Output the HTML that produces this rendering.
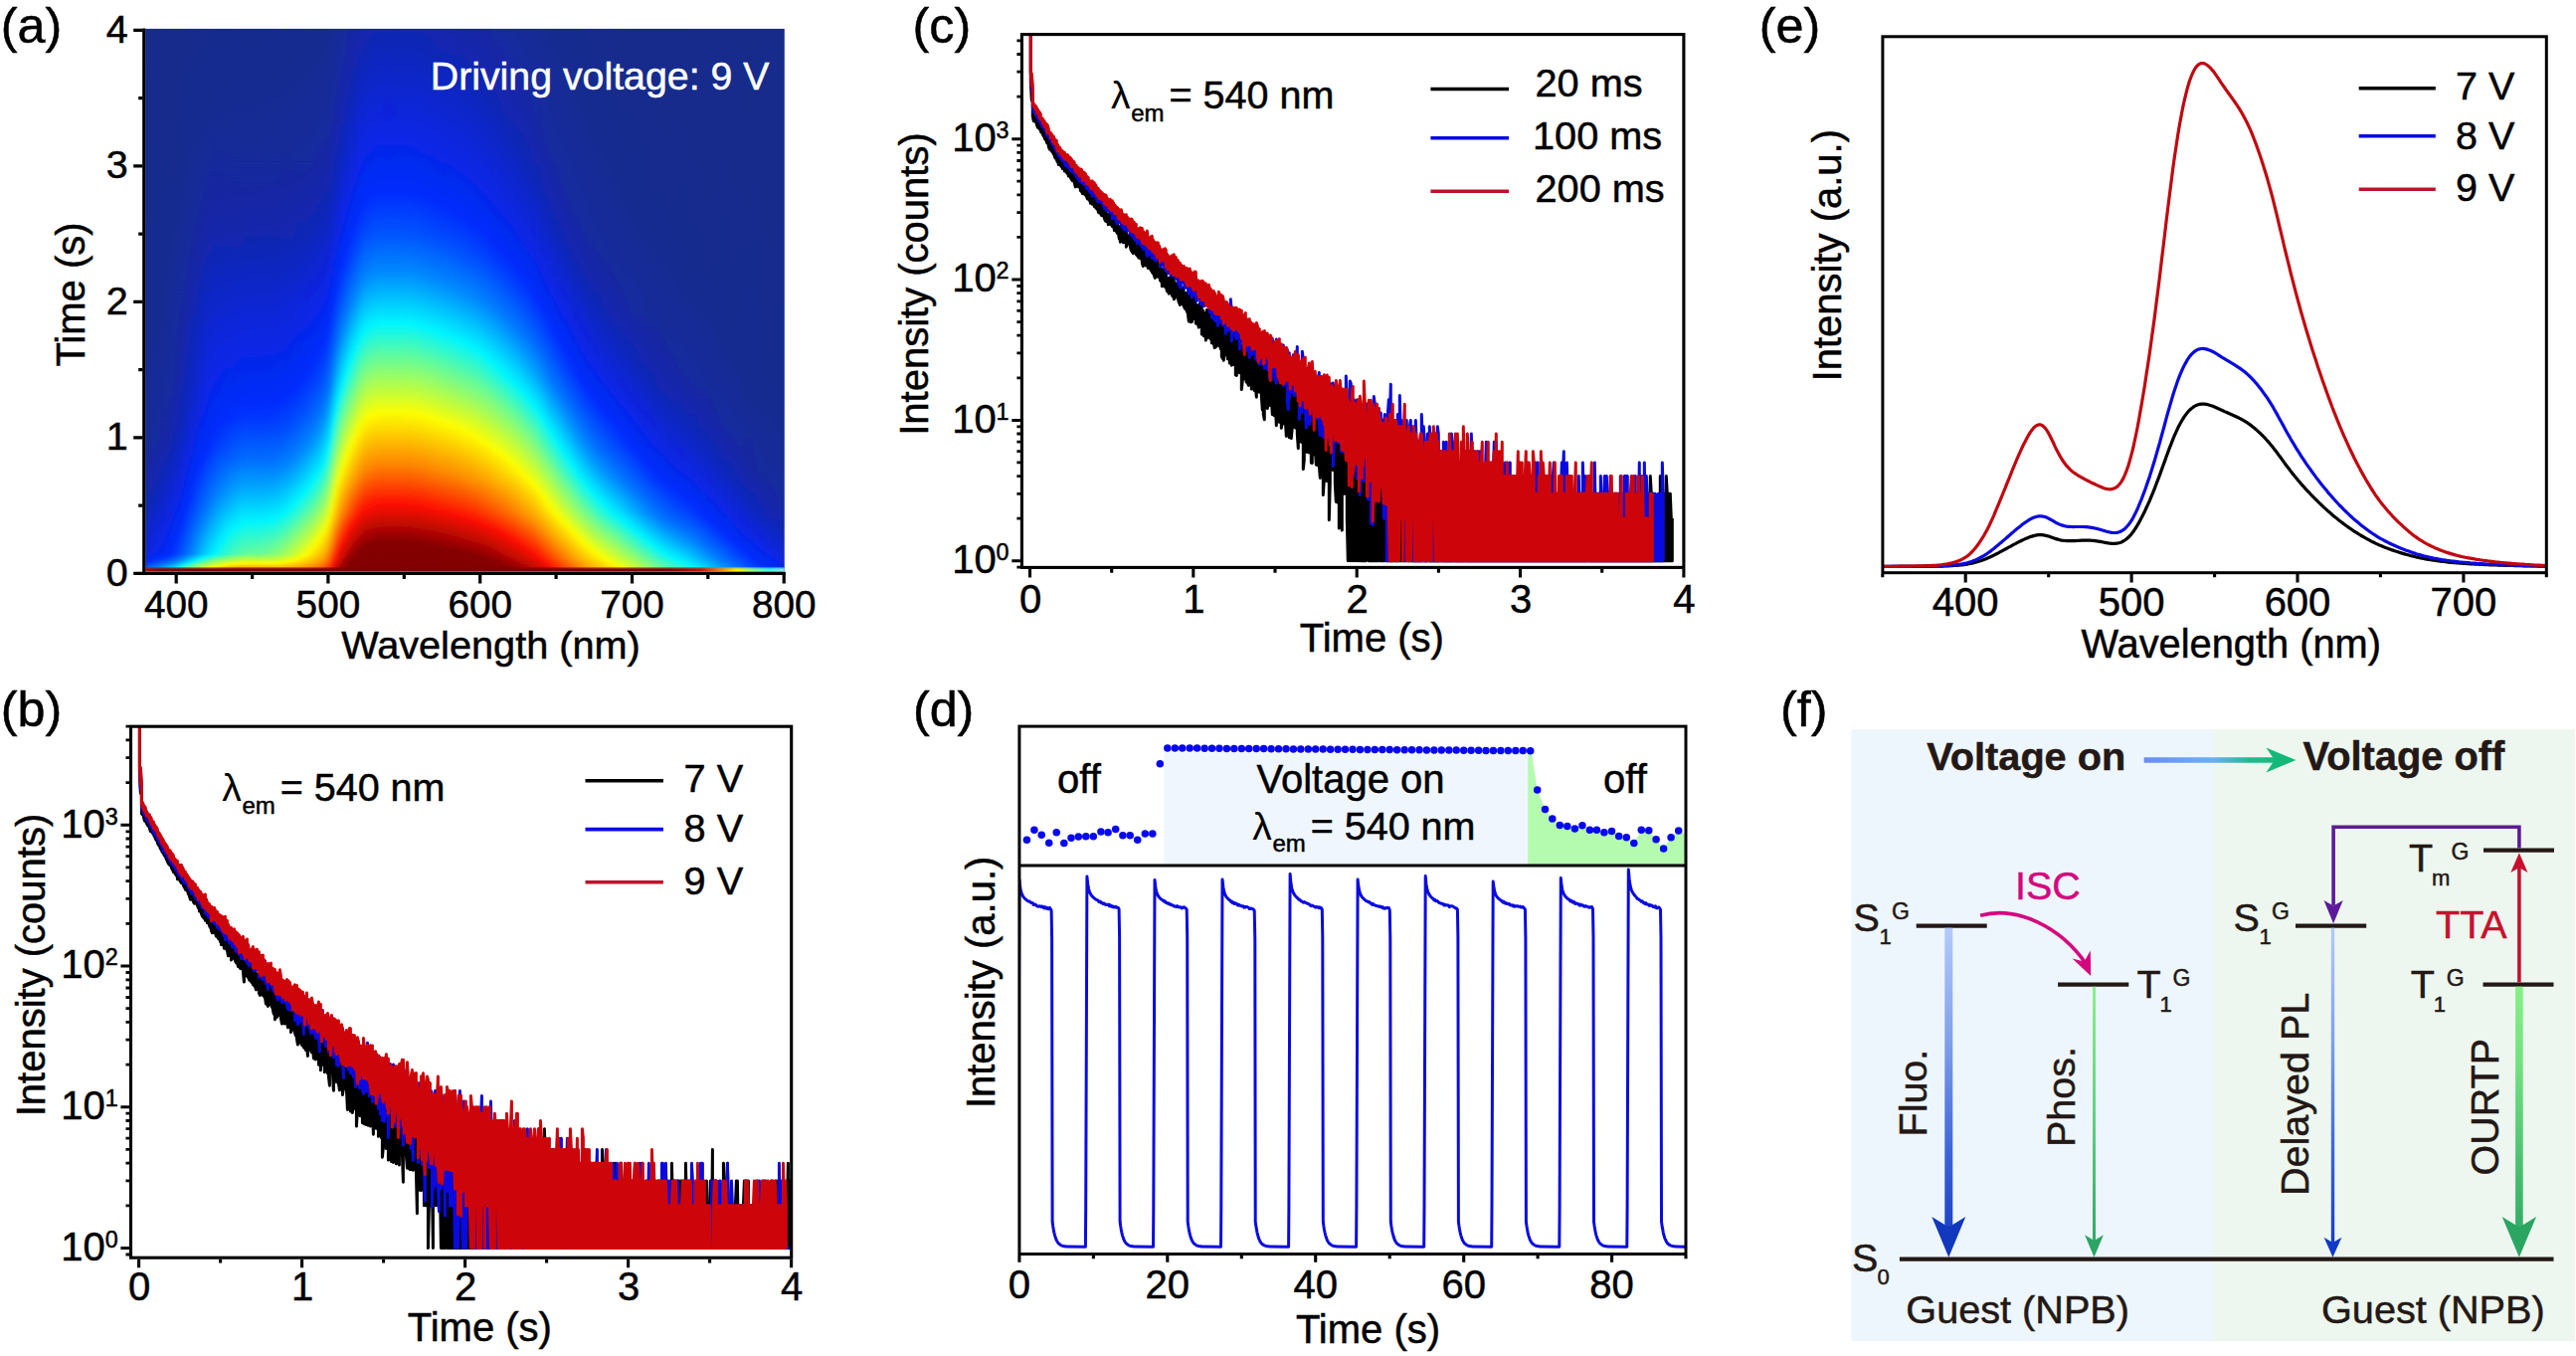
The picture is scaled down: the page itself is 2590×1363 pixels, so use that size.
<!DOCTYPE html>
<html lang="en"><head><meta charset="utf-8"><title>Figure</title>
<style>html,body{margin:0;padding:0;background:#fff}svg{display:block}text{font-family:"Liberation Sans",sans-serif}path{fill:none}</style></head>
<body>
<svg width="2590" height="1363" viewBox="0 0 2590 1363">
<defs>
<linearGradient id="h0" x1="0" y1="1" x2="0" y2="0"><stop offset=".000" stop-color="#840000"/><stop offset=".000" stop-color="#ff5500"/><stop offset=".000" stop-color="#d9ff26"/><stop offset=".000" stop-color="#48fcb8"/><stop offset=".001" stop-color="#00f0ff"/><stop offset=".002" stop-color="#00b1ff"/><stop offset=".004" stop-color="#0079ff"/><stop offset=".015" stop-color="#0034ff"/><stop offset=".019" stop-color="#022afa"/><stop offset=".035" stop-color="#0b24df"/><stop offset=".116" stop-color="#1127b5"/><stop offset=".236" stop-color="#16299a"/><stop offset=".469" stop-color="#172a8e"/><stop offset="1.000" stop-color="#182a8a"/></linearGradient>
<linearGradient id="h1" x1="0" y1="1" x2="0" y2="0"><stop offset=".000" stop-color="#840000"/><stop offset=".000" stop-color="#ff4400"/><stop offset=".000" stop-color="#ecff14"/><stop offset=".000" stop-color="#5efda1"/><stop offset=".001" stop-color="#0bf9f4"/><stop offset=".002" stop-color="#00c1ff"/><stop offset=".004" stop-color="#0086ff"/><stop offset=".014" stop-color="#0044ff"/><stop offset=".019" stop-color="#002cfe"/><stop offset=".034" stop-color="#0924e6"/><stop offset=".124" stop-color="#1127b7"/><stop offset=".241" stop-color="#15299b"/><stop offset=".467" stop-color="#172a8f"/><stop offset="1.000" stop-color="#182a8a"/></linearGradient>
<linearGradient id="h2" x1="0" y1="1" x2="0" y2="0"><stop offset=".000" stop-color="#840000"/><stop offset=".000" stop-color="#ff3400"/><stop offset=".000" stop-color="#fdff02"/><stop offset=".000" stop-color="#74fe8c"/><stop offset=".001" stop-color="#1ffae0"/><stop offset=".002" stop-color="#00d0ff"/><stop offset=".004" stop-color="#0094ff"/><stop offset=".009" stop-color="#006cff"/><stop offset=".019" stop-color="#0033ff"/><stop offset=".024" stop-color="#032af8"/><stop offset=".034" stop-color="#0825e9"/><stop offset=".074" stop-color="#0c25d5"/><stop offset=".141" stop-color="#1127b5"/><stop offset=".254" stop-color="#15299b"/><stop offset=".494" stop-color="#172a8f"/><stop offset="1.000" stop-color="#182a8a"/></linearGradient>
<linearGradient id="h3" x1="0" y1="1" x2="0" y2="0"><stop offset=".000" stop-color="#840000"/><stop offset=".000" stop-color="#ff2400"/><stop offset=".000" stop-color="#fff300"/><stop offset=".000" stop-color="#86ff7a"/><stop offset=".001" stop-color="#33fbcd"/><stop offset=".002" stop-color="#00dfff"/><stop offset=".004" stop-color="#00a2ff"/><stop offset=".009" stop-color="#0076ff"/><stop offset=".019" stop-color="#003aff"/><stop offset=".023" stop-color="#002cff"/><stop offset=".034" stop-color="#0726ec"/><stop offset=".074" stop-color="#0b25db"/><stop offset=".139" stop-color="#1127ba"/><stop offset=".249" stop-color="#15299e"/><stop offset=".457" stop-color="#172a90"/><stop offset="1.000" stop-color="#182a8a"/></linearGradient>
<linearGradient id="h4" x1="0" y1="1" x2="0" y2="0"><stop offset=".000" stop-color="#840000"/><stop offset=".000" stop-color="#ff1500"/><stop offset=".000" stop-color="#ffe600"/><stop offset=".000" stop-color="#96ff6a"/><stop offset=".001" stop-color="#46fcb9"/><stop offset=".002" stop-color="#00eeff"/><stop offset=".004" stop-color="#00b0ff"/><stop offset=".010" stop-color="#0078ff"/><stop offset=".019" stop-color="#0042ff"/><stop offset=".025" stop-color="#012bfd"/><stop offset=".034" stop-color="#0627ef"/><stop offset=".079" stop-color="#0b24de"/><stop offset=".144" stop-color="#1027bc"/><stop offset=".249" stop-color="#1529a0"/><stop offset=".442" stop-color="#172992"/><stop offset="1.000" stop-color="#182a8a"/></linearGradient>
<linearGradient id="h5" x1="0" y1="1" x2="0" y2="0"><stop offset=".000" stop-color="#840000"/><stop offset=".000" stop-color="#f60f00"/><stop offset=".000" stop-color="#ffd900"/><stop offset=".000" stop-color="#a6ff5a"/><stop offset=".001" stop-color="#5afda6"/><stop offset=".002" stop-color="#07f8f8"/><stop offset=".004" stop-color="#00beff"/><stop offset=".011" stop-color="#0079ff"/><stop offset=".020" stop-color="#0045ff"/><stop offset=".026" stop-color="#002cff"/><stop offset=".035" stop-color="#0528f2"/><stop offset=".089" stop-color="#0b24de"/><stop offset=".159" stop-color="#1027bc"/><stop offset=".259" stop-color="#1428a1"/><stop offset=".459" stop-color="#172992"/><stop offset="1.000" stop-color="#182a8a"/></linearGradient>
<linearGradient id="h6" x1="0" y1="1" x2="0" y2="0"><stop offset=".000" stop-color="#830000"/><stop offset=".000" stop-color="#ea0d00"/><stop offset=".000" stop-color="#ffcb00"/><stop offset=".000" stop-color="#b6ff49"/><stop offset=".001" stop-color="#6efe92"/><stop offset=".002" stop-color="#1af9e5"/><stop offset=".004" stop-color="#00cdff"/><stop offset=".013" stop-color="#007bff"/><stop offset=".020" stop-color="#004dff"/><stop offset=".029" stop-color="#012cfd"/><stop offset=".038" stop-color="#0429f5"/><stop offset=".099" stop-color="#0b24de"/><stop offset=".181" stop-color="#1127b8"/><stop offset=".282" stop-color="#1529a0"/><stop offset=".564" stop-color="#172a90"/><stop offset="1.000" stop-color="#182a8a"/></linearGradient>
<linearGradient id="h7" x1="0" y1="1" x2="0" y2="0"><stop offset=".000" stop-color="#830000"/><stop offset=".000" stop-color="#dd0c00"/><stop offset=".000" stop-color="#ffbd00"/><stop offset=".000" stop-color="#c7ff38"/><stop offset=".001" stop-color="#82ff7e"/><stop offset=".002" stop-color="#2efbd1"/><stop offset=".004" stop-color="#00dcff"/><stop offset=".014" stop-color="#007dff"/><stop offset=".021" stop-color="#0050ff"/><stop offset=".030" stop-color="#002cff"/><stop offset=".061" stop-color="#0528f0"/><stop offset=".114" stop-color="#0b25dc"/><stop offset=".214" stop-color="#1227b1"/><stop offset=".332" stop-color="#15299d"/><stop offset=".742" stop-color="#182a8c"/><stop offset="1.000" stop-color="#182a8b"/></linearGradient>
<linearGradient id="h8" x1="0" y1="1" x2="0" y2="0"><stop offset=".000" stop-color="#830000"/><stop offset=".000" stop-color="#cf0a00"/><stop offset=".000" stop-color="#ffaf00"/><stop offset=".000" stop-color="#d9ff26"/><stop offset=".001" stop-color="#94ff6c"/><stop offset=".002" stop-color="#44fcbc"/><stop offset=".004" stop-color="#00edff"/><stop offset=".014" stop-color="#008aff"/><stop offset=".020" stop-color="#0061ff"/><stop offset=".031" stop-color="#0030ff"/><stop offset=".049" stop-color="#022af9"/><stop offset=".126" stop-color="#0b25dc"/><stop offset=".226" stop-color="#1227b2"/><stop offset=".347" stop-color="#15299e"/><stop offset=".745" stop-color="#182a8d"/><stop offset="1.000" stop-color="#182a8b"/></linearGradient>
<linearGradient id="h9" x1="0" y1="1" x2="0" y2="0"><stop offset=".000" stop-color="#830000"/><stop offset=".000" stop-color="#c00800"/><stop offset=".000" stop-color="#ff9f00"/><stop offset=".000" stop-color="#ecff13"/><stop offset=".001" stop-color="#a7ff59"/><stop offset=".002" stop-color="#5bfda5"/><stop offset=".004" stop-color="#08f8f7"/><stop offset=".005" stop-color="#00f1ff"/><stop offset=".016" stop-color="#0083ff"/><stop offset=".025" stop-color="#0053ff"/><stop offset=".033" stop-color="#0035ff"/><stop offset=".054" stop-color="#012bfc"/><stop offset=".144" stop-color="#0b25db"/><stop offset=".236" stop-color="#1127b4"/><stop offset=".357" stop-color="#1529a0"/><stop offset=".734" stop-color="#182a8d"/><stop offset="1.000" stop-color="#182a8b"/></linearGradient>
<linearGradient id="h10" x1="0" y1="1" x2="0" y2="0"><stop offset=".000" stop-color="#830000"/><stop offset=".000" stop-color="#b00600"/><stop offset=".000" stop-color="#ff8e00"/><stop offset=".000" stop-color="#fffd00"/><stop offset=".002" stop-color="#75fe8b"/><stop offset=".004" stop-color="#21fadf"/><stop offset=".006" stop-color="#00f7ff"/><stop offset=".018" stop-color="#0089ff"/><stop offset=".026" stop-color="#0058ff"/><stop offset=".033" stop-color="#003fff"/><stop offset=".066" stop-color="#012bfd"/><stop offset=".161" stop-color="#0b25db"/><stop offset=".244" stop-color="#1127b8"/><stop offset=".362" stop-color="#1428a4"/><stop offset=".719" stop-color="#172a8e"/><stop offset="1.000" stop-color="#182a8b"/></linearGradient>
<linearGradient id="h11" x1="0" y1="1" x2="0" y2="0"><stop offset=".000" stop-color="#830000"/><stop offset=".000" stop-color="#9d0300"/><stop offset=".000" stop-color="#ff7800"/><stop offset=".000" stop-color="#ffe900"/><stop offset=".001" stop-color="#d4ff2c"/><stop offset=".002" stop-color="#8fff71"/><stop offset=".004" stop-color="#3dfbc2"/><stop offset=".008" stop-color="#0af9f5"/><stop offset=".009" stop-color="#00f3ff"/><stop offset=".019" stop-color="#0092ff"/><stop offset=".025" stop-color="#006cff"/><stop offset=".033" stop-color="#004bff"/><stop offset=".081" stop-color="#012bfd"/><stop offset=".176" stop-color="#0b24dd"/><stop offset=".254" stop-color="#1027bc"/><stop offset=".369" stop-color="#1328a8"/><stop offset=".707" stop-color="#172a8f"/><stop offset="1.000" stop-color="#182a8b"/></linearGradient>
<linearGradient id="h12" x1="0" y1="1" x2="0" y2="0"><stop offset=".000" stop-color="#830000"/><stop offset=".000" stop-color="#880100"/><stop offset=".000" stop-color="#ff5f00"/><stop offset=".000" stop-color="#ffd400"/><stop offset=".001" stop-color="#eeff11"/><stop offset=".004" stop-color="#5dfda2"/><stop offset=".010" stop-color="#07f8f8"/><stop offset=".011" stop-color="#00f1ff"/><stop offset=".019" stop-color="#00a8ff"/><stop offset=".026" stop-color="#0075ff"/><stop offset=".033" stop-color="#0059ff"/><stop offset=".099" stop-color="#012bfd"/><stop offset=".196" stop-color="#0b24dd"/><stop offset=".279" stop-color="#1027bd"/><stop offset=".432" stop-color="#1428a6"/><stop offset=".747" stop-color="#172a8f"/><stop offset="1.000" stop-color="#182a8b"/></linearGradient>
<linearGradient id="h13" x1="0" y1="1" x2="0" y2="0"><stop offset=".000" stop-color="#830000"/><stop offset=".000" stop-color="#840000"/><stop offset=".000" stop-color="#ff4600"/><stop offset=".000" stop-color="#ffbe00"/><stop offset=".001" stop-color="#fff700"/><stop offset=".002" stop-color="#c3ff3d"/><stop offset=".004" stop-color="#7eff82"/><stop offset=".013" stop-color="#05f8fa"/><stop offset=".015" stop-color="#00e2ff"/><stop offset=".021" stop-color="#00aaff"/><stop offset=".029" stop-color="#0078ff"/><stop offset=".033" stop-color="#0067ff"/><stop offset=".116" stop-color="#012cfe"/><stop offset=".219" stop-color="#0b24dd"/><stop offset=".304" stop-color="#1027be"/><stop offset=".554" stop-color="#15299d"/><stop offset=".837" stop-color="#172a8d"/><stop offset="1.000" stop-color="#182a8b"/></linearGradient>
<linearGradient id="h14" x1="0" y1="1" x2="0" y2="0"><stop offset=".000" stop-color="#830000"/><stop offset=".000" stop-color="#840000"/><stop offset=".000" stop-color="#ff3000"/><stop offset=".000" stop-color="#ffab00"/><stop offset=".001" stop-color="#ffe400"/><stop offset=".002" stop-color="#dbff25"/><stop offset=".004" stop-color="#96ff6a"/><stop offset=".010" stop-color="#43fcbd"/><stop offset=".015" stop-color="#00f8ff"/><stop offset=".021" stop-color="#00bfff"/><stop offset=".031" stop-color="#0079ff"/><stop offset=".049" stop-color="#0067ff"/><stop offset=".131" stop-color="#002cff"/><stop offset=".241" stop-color="#0b25dc"/><stop offset=".332" stop-color="#1026bf"/><stop offset=".639" stop-color="#162998"/><stop offset=".967" stop-color="#182a8c"/><stop offset="1.000" stop-color="#182a8b"/></linearGradient>
<linearGradient id="h15" x1="0" y1="1" x2="0" y2="0"><stop offset=".000" stop-color="#820000"/><stop offset=".000" stop-color="#840000"/><stop offset=".000" stop-color="#ff1a00"/><stop offset=".000" stop-color="#ff9800"/><stop offset=".001" stop-color="#ffd100"/><stop offset=".002" stop-color="#f2ff0d"/><stop offset=".004" stop-color="#adff53"/><stop offset=".009" stop-color="#70fe8f"/><stop offset=".016" stop-color="#0af9f5"/><stop offset=".018" stop-color="#00f3ff"/><stop offset=".029" stop-color="#009aff"/><stop offset=".033" stop-color="#0084ff"/><stop offset=".131" stop-color="#0037ff"/><stop offset=".159" stop-color="#012bfc"/><stop offset=".267" stop-color="#0c25da"/><stop offset=".359" stop-color="#0f26c1"/><stop offset=".654" stop-color="#162998"/><stop offset=".975" stop-color="#182a8c"/><stop offset="1.000" stop-color="#182a8c"/></linearGradient>
<linearGradient id="h16" x1="0" y1="1" x2="0" y2="0"><stop offset=".000" stop-color="#820000"/><stop offset=".000" stop-color="#840000"/><stop offset=".000" stop-color="#f60f00"/><stop offset=".000" stop-color="#ff8500"/><stop offset=".002" stop-color="#fff700"/><stop offset=".004" stop-color="#c3ff3c"/><stop offset=".011" stop-color="#69fe97"/><stop offset=".019" stop-color="#05f8fa"/><stop offset=".021" stop-color="#00e7ff"/><stop offset=".031" stop-color="#009bff"/><stop offset=".035" stop-color="#0092ff"/><stop offset=".104" stop-color="#0055ff"/><stop offset=".171" stop-color="#002cfe"/><stop offset=".304" stop-color="#0c25d5"/><stop offset=".482" stop-color="#1227b2"/><stop offset=".704" stop-color="#162996"/><stop offset="1.000" stop-color="#182a8c"/></linearGradient>
<linearGradient id="h17" x1="0" y1="1" x2="0" y2="0"><stop offset=".000" stop-color="#820000"/><stop offset=".000" stop-color="#830000"/><stop offset=".000" stop-color="#e60d00"/><stop offset=".000" stop-color="#ff7100"/><stop offset=".002" stop-color="#ffe600"/><stop offset=".004" stop-color="#d8ff27"/><stop offset=".013" stop-color="#71fe8f"/><stop offset=".019" stop-color="#1efae2"/><stop offset=".021" stop-color="#03f8fc"/><stop offset=".031" stop-color="#00acff"/><stop offset=".035" stop-color="#00a3ff"/><stop offset=".101" stop-color="#0063ff"/><stop offset=".186" stop-color="#002cfe"/><stop offset=".329" stop-color="#0c25d5"/><stop offset=".589" stop-color="#1428a4"/><stop offset=".810" stop-color="#172a91"/><stop offset="1.000" stop-color="#182a8c"/></linearGradient>
<linearGradient id="h18" x1="0" y1="1" x2="0" y2="0"><stop offset=".000" stop-color="#820000"/><stop offset=".000" stop-color="#830000"/><stop offset=".000" stop-color="#d70b00"/><stop offset=".000" stop-color="#ff6000"/><stop offset=".002" stop-color="#ffd700"/><stop offset=".004" stop-color="#ebff14"/><stop offset=".014" stop-color="#76fe8a"/><stop offset=".019" stop-color="#33fbcc"/><stop offset=".024" stop-color="#00f7ff"/><stop offset=".031" stop-color="#00bcff"/><stop offset=".034" stop-color="#00b4ff"/><stop offset=".104" stop-color="#006cff"/><stop offset=".199" stop-color="#002cfe"/><stop offset=".354" stop-color="#0c25d7"/><stop offset=".632" stop-color="#1428a1"/><stop offset=".852" stop-color="#172a90"/><stop offset="1.000" stop-color="#182a8c"/></linearGradient>
<linearGradient id="h19" x1="0" y1="1" x2="0" y2="0"><stop offset=".000" stop-color="#820000"/><stop offset=".000" stop-color="#830000"/><stop offset=".000" stop-color="#cb0900"/><stop offset=".000" stop-color="#ff5000"/><stop offset=".001" stop-color="#ff9000"/><stop offset=".004" stop-color="#fcff03"/><stop offset=".016" stop-color="#68fe98"/><stop offset=".021" stop-color="#2cfad3"/><stop offset=".025" stop-color="#05f8fa"/><stop offset=".028" stop-color="#00e7ff"/><stop offset=".033" stop-color="#00c4ff"/><stop offset=".109" stop-color="#0073ff"/><stop offset=".211" stop-color="#002cff"/><stop offset=".327" stop-color="#0a24e5"/><stop offset=".599" stop-color="#1328a9"/><stop offset=".797" stop-color="#172993"/><stop offset="1.000" stop-color="#182a8c"/></linearGradient>
<linearGradient id="h20" x1="0" y1="1" x2="0" y2="0"><stop offset=".000" stop-color="#820000"/><stop offset=".000" stop-color="#830000"/><stop offset=".000" stop-color="#be0800"/><stop offset=".000" stop-color="#ff4100"/><stop offset=".001" stop-color="#ff8200"/><stop offset=".004" stop-color="#fff400"/><stop offset=".005" stop-color="#feff01"/><stop offset=".018" stop-color="#6bfe95"/><stop offset=".026" stop-color="#0bf9f4"/><stop offset=".028" stop-color="#00f6ff"/><stop offset=".033" stop-color="#00d3ff"/><stop offset=".116" stop-color="#0076ff"/><stop offset=".224" stop-color="#002cff"/><stop offset=".339" stop-color="#0925e6"/><stop offset=".644" stop-color="#1428a4"/><stop offset=".850" stop-color="#172a91"/><stop offset="1.000" stop-color="#182a8d"/></linearGradient>
<linearGradient id="h21" x1="0" y1="1" x2="0" y2="0"><stop offset=".000" stop-color="#820000"/><stop offset=".000" stop-color="#830000"/><stop offset=".000" stop-color="#b20600"/><stop offset=".000" stop-color="#ff3200"/><stop offset=".002" stop-color="#ffaf00"/><stop offset=".004" stop-color="#ffe700"/><stop offset=".006" stop-color="#ffff00"/><stop offset=".025" stop-color="#2afad5"/><stop offset=".029" stop-color="#03f8fc"/><stop offset=".033" stop-color="#00e0ff"/><stop offset=".124" stop-color="#007aff"/><stop offset=".231" stop-color="#002eff"/><stop offset=".362" stop-color="#0925e6"/><stop offset=".644" stop-color="#1428a6"/><stop offset=".842" stop-color="#172992"/><stop offset="1.000" stop-color="#182a8d"/></linearGradient>
<linearGradient id="h22" x1="0" y1="1" x2="0" y2="0"><stop offset=".000" stop-color="#820000"/><stop offset=".000" stop-color="#830000"/><stop offset=".000" stop-color="#a60400"/><stop offset=".000" stop-color="#ff2400"/><stop offset=".002" stop-color="#ffa300"/><stop offset=".004" stop-color="#ffdb00"/><stop offset=".008" stop-color="#ffff00"/><stop offset=".024" stop-color="#49fcb7"/><stop offset=".030" stop-color="#08f8f7"/><stop offset=".031" stop-color="#00f4ff"/><stop offset=".034" stop-color="#00ecff"/><stop offset=".131" stop-color="#007dff"/><stop offset=".236" stop-color="#0031ff"/><stop offset=".264" stop-color="#022afa"/><stop offset=".417" stop-color="#0b25dc"/><stop offset=".649" stop-color="#1428a6"/><stop offset=".845" stop-color="#172992"/><stop offset="1.000" stop-color="#182a8d"/></linearGradient>
<linearGradient id="h23" x1="0" y1="1" x2="0" y2="0"><stop offset=".000" stop-color="#820000"/><stop offset=".000" stop-color="#830000"/><stop offset=".000" stop-color="#9b0300"/><stop offset=".000" stop-color="#ff1700"/><stop offset=".002" stop-color="#ff9700"/><stop offset=".004" stop-color="#ffd000"/><stop offset=".009" stop-color="#feff01"/><stop offset=".019" stop-color="#8eff72"/><stop offset=".031" stop-color="#0bf9f4"/><stop offset=".033" stop-color="#02f8fd"/><stop offset=".139" stop-color="#007fff"/><stop offset=".239" stop-color="#0035ff"/><stop offset=".267" stop-color="#012bfc"/><stop offset=".424" stop-color="#0b25dc"/><stop offset=".647" stop-color="#1328a7"/><stop offset=".840" stop-color="#172993"/><stop offset="1.000" stop-color="#182a8d"/></linearGradient>
<linearGradient id="h24" x1="0" y1="1" x2="0" y2="0"><stop offset=".000" stop-color="#820000"/><stop offset=".000" stop-color="#830000"/><stop offset=".000" stop-color="#920200"/><stop offset=".000" stop-color="#fb0f00"/><stop offset=".002" stop-color="#ff8c00"/><stop offset=".004" stop-color="#ffc500"/><stop offset=".010" stop-color="#fdff02"/><stop offset=".019" stop-color="#9aff65"/><stop offset=".025" stop-color="#5bfda5"/><stop offset=".031" stop-color="#19f9e6"/><stop offset=".033" stop-color="#11f9ee"/><stop offset=".045" stop-color="#00f6ff"/><stop offset=".141" stop-color="#0085ff"/><stop offset=".236" stop-color="#003bff"/><stop offset=".269" stop-color="#012bfd"/><stop offset=".399" stop-color="#0a24e4"/><stop offset=".627" stop-color="#1328ab"/><stop offset=".805" stop-color="#162995"/><stop offset="1.000" stop-color="#182a8d"/></linearGradient>
<linearGradient id="h25" x1="0" y1="1" x2="0" y2="0"><stop offset=".000" stop-color="#820000"/><stop offset=".000" stop-color="#890100"/><stop offset=".000" stop-color="#f20e00"/><stop offset=".001" stop-color="#ff4100"/><stop offset=".002" stop-color="#ff8200"/><stop offset=".004" stop-color="#ffbc00"/><stop offset=".010" stop-color="#fff700"/><stop offset=".011" stop-color="#faff05"/><stop offset=".019" stop-color="#a6ff5a"/><stop offset=".025" stop-color="#69fe97"/><stop offset=".031" stop-color="#26fad9"/><stop offset=".033" stop-color="#1efae1"/><stop offset=".054" stop-color="#00f6ff"/><stop offset=".144" stop-color="#008bff"/><stop offset=".231" stop-color="#0043ff"/><stop offset=".277" stop-color="#012bfd"/><stop offset=".437" stop-color="#0b25db"/><stop offset=".639" stop-color="#1328a9"/><stop offset=".825" stop-color="#172994"/><stop offset="1.000" stop-color="#182a8d"/></linearGradient>
<linearGradient id="h26" x1="0" y1="1" x2="0" y2="0"><stop offset=".000" stop-color="#820000"/><stop offset=".000" stop-color="#840000"/><stop offset=".000" stop-color="#ea0d00"/><stop offset=".001" stop-color="#ff3800"/><stop offset=".002" stop-color="#ff7900"/><stop offset=".004" stop-color="#ffb400"/><stop offset=".011" stop-color="#fffb00"/><stop offset=".014" stop-color="#e7ff18"/><stop offset=".020" stop-color="#a4ff5c"/><stop offset=".026" stop-color="#68fe98"/><stop offset=".031" stop-color="#32fbcd"/><stop offset=".033" stop-color="#2afad5"/><stop offset=".061" stop-color="#00f7ff"/><stop offset=".144" stop-color="#0092ff"/><stop offset=".226" stop-color="#004aff"/><stop offset=".282" stop-color="#012bfd"/><stop offset=".442" stop-color="#0b25db"/><stop offset=".637" stop-color="#1328aa"/><stop offset=".817" stop-color="#162994"/><stop offset="1.000" stop-color="#182a8d"/></linearGradient>
<linearGradient id="h27" x1="0" y1="1" x2="0" y2="0"><stop offset=".000" stop-color="#820000"/><stop offset=".000" stop-color="#840000"/><stop offset=".000" stop-color="#e40c00"/><stop offset=".001" stop-color="#ff3000"/><stop offset=".004" stop-color="#ffad00"/><stop offset=".013" stop-color="#feff01"/><stop offset=".019" stop-color="#b8ff47"/><stop offset=".026" stop-color="#72fe8e"/><stop offset=".031" stop-color="#3dfbc3"/><stop offset=".033" stop-color="#34fbcb"/><stop offset=".069" stop-color="#00f6ff"/><stop offset=".141" stop-color="#009bff"/><stop offset=".216" stop-color="#0055ff"/><stop offset=".282" stop-color="#002cff"/><stop offset=".447" stop-color="#0c25da"/><stop offset=".634" stop-color="#1328aa"/><stop offset=".812" stop-color="#162995"/><stop offset="1.000" stop-color="#182a8d"/></linearGradient>
<linearGradient id="h28" x1="0" y1="1" x2="0" y2="0"><stop offset=".000" stop-color="#820000"/><stop offset=".000" stop-color="#840000"/><stop offset=".000" stop-color="#de0c00"/><stop offset=".001" stop-color="#ff2900"/><stop offset=".004" stop-color="#ffa600"/><stop offset=".013" stop-color="#fff900"/><stop offset=".014" stop-color="#f7ff08"/><stop offset=".020" stop-color="#b4ff4b"/><stop offset=".028" stop-color="#6efe92"/><stop offset=".031" stop-color="#46fcb9"/><stop offset=".033" stop-color="#3efbc2"/><stop offset=".074" stop-color="#00f7ff"/><stop offset=".139" stop-color="#00a4ff"/><stop offset=".206" stop-color="#0061ff"/><stop offset=".282" stop-color="#002eff"/><stop offset=".447" stop-color="#0b25db"/><stop offset=".632" stop-color="#1328ab"/><stop offset=".807" stop-color="#162995"/><stop offset="1.000" stop-color="#182a8d"/></linearGradient>
<linearGradient id="h29" x1="0" y1="1" x2="0" y2="0"><stop offset=".000" stop-color="#820000"/><stop offset=".000" stop-color="#840000"/><stop offset=".000" stop-color="#d80b00"/><stop offset=".001" stop-color="#ff2200"/><stop offset=".004" stop-color="#ffa000"/><stop offset=".014" stop-color="#ffff00"/><stop offset=".020" stop-color="#bcff44"/><stop offset=".029" stop-color="#6afe96"/><stop offset=".031" stop-color="#50fcb0"/><stop offset=".033" stop-color="#47fcb8"/><stop offset=".079" stop-color="#00f7ff"/><stop offset=".144" stop-color="#00a5ff"/><stop offset=".206" stop-color="#0065ff"/><stop offset=".282" stop-color="#0030ff"/><stop offset=".329" stop-color="#0429f4"/><stop offset=".447" stop-color="#0b25dc"/><stop offset=".627" stop-color="#1328ac"/><stop offset=".800" stop-color="#162996"/><stop offset="1.000" stop-color="#182a8d"/></linearGradient>
<linearGradient id="h30" x1="0" y1="1" x2="0" y2="0"><stop offset=".000" stop-color="#810000"/><stop offset=".000" stop-color="#840000"/><stop offset=".000" stop-color="#d30a00"/><stop offset=".001" stop-color="#ff1c00"/><stop offset=".004" stop-color="#ff9b00"/><stop offset=".014" stop-color="#fffa00"/><stop offset=".015" stop-color="#f7ff08"/><stop offset=".021" stop-color="#b7ff48"/><stop offset=".029" stop-color="#73fe8d"/><stop offset=".031" stop-color="#58fda7"/><stop offset=".033" stop-color="#50fcb0"/><stop offset=".084" stop-color="#00f6ff"/><stop offset=".149" stop-color="#00a4ff"/><stop offset=".206" stop-color="#0068ff"/><stop offset=".282" stop-color="#0033ff"/><stop offset=".307" stop-color="#012bfb"/><stop offset=".454" stop-color="#0b25db"/><stop offset=".627" stop-color="#1328ac"/><stop offset=".797" stop-color="#162996"/><stop offset="1.000" stop-color="#182a8d"/></linearGradient>
<linearGradient id="h31" x1="0" y1="1" x2="0" y2="0"><stop offset=".000" stop-color="#810000"/><stop offset=".000" stop-color="#840000"/><stop offset=".000" stop-color="#cf0a00"/><stop offset=".001" stop-color="#ff1700"/><stop offset=".004" stop-color="#ff9700"/><stop offset=".015" stop-color="#fdff02"/><stop offset=".021" stop-color="#bdff42"/><stop offset=".030" stop-color="#6dfe93"/><stop offset=".033" stop-color="#57fda9"/><stop offset=".086" stop-color="#00f8ff"/><stop offset=".151" stop-color="#00a6ff"/><stop offset=".206" stop-color="#006bff"/><stop offset=".282" stop-color="#0035ff"/><stop offset=".309" stop-color="#012bfb"/><stop offset=".454" stop-color="#0b25dc"/><stop offset=".624" stop-color="#1328ad"/><stop offset=".792" stop-color="#162996"/><stop offset="1.000" stop-color="#182a8d"/></linearGradient>
<linearGradient id="h32" x1="0" y1="1" x2="0" y2="0"><stop offset=".000" stop-color="#810000"/><stop offset=".000" stop-color="#840000"/><stop offset=".000" stop-color="#cd0900"/><stop offset=".001" stop-color="#ff1400"/><stop offset=".004" stop-color="#ff9400"/><stop offset=".015" stop-color="#fffd00"/><stop offset=".024" stop-color="#abff55"/><stop offset=".030" stop-color="#72fe8d"/><stop offset=".033" stop-color="#5dfda3"/><stop offset=".089" stop-color="#00f8ff"/><stop offset=".156" stop-color="#00a4ff"/><stop offset=".206" stop-color="#006dff"/><stop offset=".282" stop-color="#0036ff"/><stop offset=".309" stop-color="#012bfc"/><stop offset=".459" stop-color="#0b25db"/><stop offset=".624" stop-color="#1328ad"/><stop offset=".792" stop-color="#162996"/><stop offset="1.000" stop-color="#182a8d"/></linearGradient>
<linearGradient id="h33" x1="0" y1="1" x2="0" y2="0"><stop offset=".000" stop-color="#810000"/><stop offset=".000" stop-color="#840000"/><stop offset=".000" stop-color="#cc0900"/><stop offset=".001" stop-color="#ff1200"/><stop offset=".004" stop-color="#ff9300"/><stop offset=".015" stop-color="#fffc00"/><stop offset=".028" stop-color="#8dff73"/><stop offset=".033" stop-color="#60fda0"/><stop offset=".091" stop-color="#00f7ff"/><stop offset=".159" stop-color="#00a2ff"/><stop offset=".206" stop-color="#006eff"/><stop offset=".282" stop-color="#0037ff"/><stop offset=".309" stop-color="#012bfd"/><stop offset=".459" stop-color="#0b25db"/><stop offset=".624" stop-color="#1228ad"/><stop offset=".792" stop-color="#162996"/><stop offset="1.000" stop-color="#182a8d"/></linearGradient>
<linearGradient id="h34" x1="0" y1="1" x2="0" y2="0"><stop offset=".000" stop-color="#810000"/><stop offset=".000" stop-color="#840000"/><stop offset=".000" stop-color="#cc0900"/><stop offset=".001" stop-color="#ff1300"/><stop offset=".004" stop-color="#ff9300"/><stop offset=".015" stop-color="#fffc00"/><stop offset=".028" stop-color="#8eff72"/><stop offset=".033" stop-color="#62fd9e"/><stop offset=".091" stop-color="#00f7ff"/><stop offset=".156" stop-color="#00a5ff"/><stop offset=".206" stop-color="#006fff"/><stop offset=".282" stop-color="#0037ff"/><stop offset=".309" stop-color="#012bfd"/><stop offset=".459" stop-color="#0b25db"/><stop offset=".624" stop-color="#1228ad"/><stop offset=".792" stop-color="#162996"/><stop offset="1.000" stop-color="#182a8d"/></linearGradient>
<linearGradient id="h35" x1="0" y1="1" x2="0" y2="0"><stop offset=".000" stop-color="#810000"/><stop offset=".000" stop-color="#840000"/><stop offset=".000" stop-color="#ce0a00"/><stop offset=".001" stop-color="#ff1500"/><stop offset=".004" stop-color="#ff9400"/><stop offset=".015" stop-color="#fffc00"/><stop offset=".028" stop-color="#8fff71"/><stop offset=".033" stop-color="#64fd9c"/><stop offset=".091" stop-color="#00f7ff"/><stop offset=".156" stop-color="#00a5ff"/><stop offset=".206" stop-color="#006fff"/><stop offset=".282" stop-color="#0037ff"/><stop offset=".309" stop-color="#012bfd"/><stop offset=".459" stop-color="#0b25db"/><stop offset=".624" stop-color="#1228ae"/><stop offset=".792" stop-color="#162996"/><stop offset="1.000" stop-color="#182a8d"/></linearGradient>
<linearGradient id="h36" x1="0" y1="1" x2="0" y2="0"><stop offset=".000" stop-color="#810000"/><stop offset=".000" stop-color="#840000"/><stop offset=".000" stop-color="#cf0a00"/><stop offset=".001" stop-color="#ff1600"/><stop offset=".004" stop-color="#ff9500"/><stop offset=".015" stop-color="#fffd00"/><stop offset=".026" stop-color="#9aff66"/><stop offset=".033" stop-color="#65fe9a"/><stop offset=".091" stop-color="#00f8ff"/><stop offset=".156" stop-color="#00a5ff"/><stop offset=".206" stop-color="#006eff"/><stop offset=".282" stop-color="#0037ff"/><stop offset=".309" stop-color="#012bfd"/><stop offset=".459" stop-color="#0b25db"/><stop offset=".624" stop-color="#1228ae"/><stop offset=".792" stop-color="#162996"/><stop offset="1.000" stop-color="#182a8d"/></linearGradient>
<linearGradient id="h37" x1="0" y1="1" x2="0" y2="0"><stop offset=".000" stop-color="#810000"/><stop offset=".000" stop-color="#840000"/><stop offset=".000" stop-color="#d10a00"/><stop offset=".001" stop-color="#ff1800"/><stop offset=".004" stop-color="#ff9600"/><stop offset=".015" stop-color="#fffd00"/><stop offset=".025" stop-color="#a5ff5b"/><stop offset=".033" stop-color="#68fe98"/><stop offset=".091" stop-color="#00f8ff"/><stop offset=".156" stop-color="#00a5ff"/><stop offset=".206" stop-color="#006eff"/><stop offset=".282" stop-color="#0037ff"/><stop offset=".309" stop-color="#012bfd"/><stop offset=".462" stop-color="#0b25db"/><stop offset=".624" stop-color="#1228ae"/><stop offset=".792" stop-color="#162996"/><stop offset="1.000" stop-color="#182a8d"/></linearGradient>
<linearGradient id="h38" x1="0" y1="1" x2="0" y2="0"><stop offset=".000" stop-color="#810000"/><stop offset=".000" stop-color="#840000"/><stop offset=".000" stop-color="#d20a00"/><stop offset=".001" stop-color="#ff1a00"/><stop offset=".004" stop-color="#ff9800"/><stop offset=".015" stop-color="#fffd00"/><stop offset=".024" stop-color="#b0ff4f"/><stop offset=".033" stop-color="#6bfe95"/><stop offset=".091" stop-color="#01f8fe"/><stop offset=".161" stop-color="#009fff"/><stop offset=".206" stop-color="#006eff"/><stop offset=".282" stop-color="#0037ff"/><stop offset=".309" stop-color="#012bfd"/><stop offset=".462" stop-color="#0b25db"/><stop offset=".624" stop-color="#1228ae"/><stop offset=".792" stop-color="#162996"/><stop offset="1.000" stop-color="#182a8d"/></linearGradient>
<linearGradient id="h39" x1="0" y1="1" x2="0" y2="0"><stop offset=".000" stop-color="#820000"/><stop offset=".000" stop-color="#840000"/><stop offset=".000" stop-color="#d40a00"/><stop offset=".001" stop-color="#ff1c00"/><stop offset=".004" stop-color="#ff9a00"/><stop offset=".015" stop-color="#fffe00"/><stop offset=".024" stop-color="#b1ff4e"/><stop offset=".033" stop-color="#6efe92"/><stop offset=".094" stop-color="#00f6ff"/><stop offset=".159" stop-color="#00a2ff"/><stop offset=".206" stop-color="#006eff"/><stop offset=".282" stop-color="#0037ff"/><stop offset=".309" stop-color="#012bfd"/><stop offset=".462" stop-color="#0b25db"/><stop offset=".624" stop-color="#1228ae"/><stop offset=".792" stop-color="#162997"/><stop offset="1.000" stop-color="#182a8d"/></linearGradient>
<linearGradient id="h40" x1="0" y1="1" x2="0" y2="0"><stop offset=".000" stop-color="#820000"/><stop offset=".000" stop-color="#840000"/><stop offset=".000" stop-color="#d70b00"/><stop offset=".001" stop-color="#ff1f00"/><stop offset=".004" stop-color="#ff9b00"/><stop offset=".015" stop-color="#fffe00"/><stop offset=".024" stop-color="#b3ff4c"/><stop offset=".033" stop-color="#73fe8d"/><stop offset=".094" stop-color="#00f7ff"/><stop offset=".156" stop-color="#00a6ff"/><stop offset=".206" stop-color="#006fff"/><stop offset=".282" stop-color="#0037ff"/><stop offset=".312" stop-color="#012bfc"/><stop offset=".462" stop-color="#0b25db"/><stop offset=".624" stop-color="#1228ae"/><stop offset=".792" stop-color="#162997"/><stop offset="1.000" stop-color="#182a8d"/></linearGradient>
<linearGradient id="h41" x1="0" y1="1" x2="0" y2="0"><stop offset=".000" stop-color="#820000"/><stop offset=".000" stop-color="#840000"/><stop offset=".000" stop-color="#d90b00"/><stop offset=".001" stop-color="#ff2100"/><stop offset=".004" stop-color="#ff9d00"/><stop offset=".015" stop-color="#fffd00"/><stop offset=".025" stop-color="#acff53"/><stop offset=".033" stop-color="#78ff88"/><stop offset=".094" stop-color="#01f8fe"/><stop offset=".164" stop-color="#009eff"/><stop offset=".206" stop-color="#006fff"/><stop offset=".282" stop-color="#0038ff"/><stop offset=".312" stop-color="#012bfc"/><stop offset=".464" stop-color="#0b25db"/><stop offset=".624" stop-color="#1228ae"/><stop offset=".792" stop-color="#162997"/><stop offset="1.000" stop-color="#172a8d"/></linearGradient>
<linearGradient id="h42" x1="0" y1="1" x2="0" y2="0"><stop offset=".000" stop-color="#820000"/><stop offset=".000" stop-color="#840000"/><stop offset=".000" stop-color="#db0b00"/><stop offset=".001" stop-color="#ff2300"/><stop offset=".004" stop-color="#ff9e00"/><stop offset=".015" stop-color="#fffc00"/><stop offset=".026" stop-color="#a7ff59"/><stop offset=".033" stop-color="#7fff81"/><stop offset=".096" stop-color="#00f8ff"/><stop offset=".161" stop-color="#00a2ff"/><stop offset=".206" stop-color="#0070ff"/><stop offset=".282" stop-color="#0039ff"/><stop offset=".312" stop-color="#012bfd"/><stop offset=".464" stop-color="#0b25db"/><stop offset=".624" stop-color="#1228ae"/><stop offset=".790" stop-color="#162997"/><stop offset="1.000" stop-color="#172a8d"/></linearGradient>
<linearGradient id="h43" x1="0" y1="1" x2="0" y2="0"><stop offset=".000" stop-color="#820000"/><stop offset=".000" stop-color="#840000"/><stop offset=".000" stop-color="#dd0c00"/><stop offset=".001" stop-color="#ff2500"/><stop offset=".004" stop-color="#ff9f00"/><stop offset=".015" stop-color="#fffb00"/><stop offset=".019" stop-color="#e2ff1d"/><stop offset=".031" stop-color="#8bff75"/><stop offset=".071" stop-color="#37fbc8"/><stop offset=".099" stop-color="#00f7ff"/><stop offset=".166" stop-color="#009eff"/><stop offset=".206" stop-color="#0071ff"/><stop offset=".282" stop-color="#003aff"/><stop offset=".314" stop-color="#012bfd"/><stop offset=".467" stop-color="#0b25db"/><stop offset=".624" stop-color="#1228af"/><stop offset=".790" stop-color="#162997"/><stop offset="1.000" stop-color="#172a8d"/></linearGradient>
<linearGradient id="h44" x1="0" y1="1" x2="0" y2="0"><stop offset=".000" stop-color="#820000"/><stop offset=".000" stop-color="#840000"/><stop offset=".000" stop-color="#de0c00"/><stop offset=".001" stop-color="#ff2700"/><stop offset=".004" stop-color="#ff9f00"/><stop offset=".015" stop-color="#fff900"/><stop offset=".016" stop-color="#fbff04"/><stop offset=".025" stop-color="#baff46"/><stop offset=".033" stop-color="#8dff73"/><stop offset=".101" stop-color="#00f7ff"/><stop offset=".184" stop-color="#008bff"/><stop offset=".241" stop-color="#0056ff"/><stop offset=".312" stop-color="#002cfe"/><stop offset=".469" stop-color="#0b25db"/><stop offset=".624" stop-color="#1228af"/><stop offset=".790" stop-color="#162997"/><stop offset="1.000" stop-color="#172a8d"/></linearGradient>
<linearGradient id="h45" x1="0" y1="1" x2="0" y2="0"><stop offset=".000" stop-color="#820000"/><stop offset=".000" stop-color="#840000"/><stop offset=".000" stop-color="#df0c00"/><stop offset=".001" stop-color="#ff2800"/><stop offset=".004" stop-color="#ff9f00"/><stop offset=".016" stop-color="#ffff00"/><stop offset=".025" stop-color="#c0ff3f"/><stop offset=".033" stop-color="#95ff6a"/><stop offset=".104" stop-color="#00f8ff"/><stop offset=".191" stop-color="#0085ff"/><stop offset=".254" stop-color="#004fff"/><stop offset=".317" stop-color="#012cfe"/><stop offset=".472" stop-color="#0b25db"/><stop offset=".622" stop-color="#1227b0"/><stop offset=".785" stop-color="#162998"/><stop offset="1.000" stop-color="#172a8d"/></linearGradient>
<linearGradient id="h46" x1="0" y1="1" x2="0" y2="0"><stop offset=".000" stop-color="#820000"/><stop offset=".000" stop-color="#840000"/><stop offset=".000" stop-color="#e00c00"/><stop offset=".001" stop-color="#ff2800"/><stop offset=".004" stop-color="#ff9e00"/><stop offset=".016" stop-color="#fffb00"/><stop offset=".020" stop-color="#e8ff18"/><stop offset=".031" stop-color="#a4ff5c"/><stop offset=".106" stop-color="#02f8fd"/><stop offset=".201" stop-color="#007dff"/><stop offset=".274" stop-color="#0044ff"/><stop offset=".322" stop-color="#012bfd"/><stop offset=".477" stop-color="#0b25db"/><stop offset=".622" stop-color="#1227b0"/><stop offset=".785" stop-color="#162998"/><stop offset="1.000" stop-color="#172a8e"/></linearGradient>
<linearGradient id="h47" x1="0" y1="1" x2="0" y2="0"><stop offset=".000" stop-color="#820000"/><stop offset=".000" stop-color="#840000"/><stop offset=".000" stop-color="#e00c00"/><stop offset=".001" stop-color="#ff2700"/><stop offset=".004" stop-color="#ff9d00"/><stop offset=".018" stop-color="#fffe00"/><stop offset=".031" stop-color="#aeff52"/><stop offset=".079" stop-color="#47fcb8"/><stop offset=".111" stop-color="#01f8fe"/><stop offset=".201" stop-color="#0081ff"/><stop offset=".272" stop-color="#0048ff"/><stop offset=".327" stop-color="#012bfd"/><stop offset=".479" stop-color="#0b25db"/><stop offset=".619" stop-color="#1227b1"/><stop offset=".780" stop-color="#162999"/><stop offset="1.000" stop-color="#172a8e"/></linearGradient>
<linearGradient id="h48" x1="0" y1="1" x2="0" y2="0"><stop offset=".000" stop-color="#820000"/><stop offset=".000" stop-color="#840000"/><stop offset=".000" stop-color="#e00c00"/><stop offset=".001" stop-color="#ff2600"/><stop offset=".004" stop-color="#ff9a00"/><stop offset=".018" stop-color="#fff800"/><stop offset=".019" stop-color="#ffff00"/><stop offset=".031" stop-color="#b9ff46"/><stop offset=".076" stop-color="#58fda7"/><stop offset=".111" stop-color="#0af9f5"/><stop offset=".119" stop-color="#00f5ff"/><stop offset=".206" stop-color="#0080ff"/><stop offset=".282" stop-color="#0045ff"/><stop offset=".332" stop-color="#012bfd"/><stop offset=".484" stop-color="#0b25db"/><stop offset=".617" stop-color="#1227b3"/><stop offset=".777" stop-color="#162999"/><stop offset="1.000" stop-color="#172a8e"/></linearGradient>
<linearGradient id="h49" x1="0" y1="1" x2="0" y2="0"><stop offset=".000" stop-color="#820000"/><stop offset=".000" stop-color="#840000"/><stop offset=".000" stop-color="#df0c00"/><stop offset=".001" stop-color="#ff2400"/><stop offset=".004" stop-color="#ff9700"/><stop offset=".018" stop-color="#fff100"/><stop offset=".020" stop-color="#fffe00"/><stop offset=".033" stop-color="#c1ff3f"/><stop offset=".074" stop-color="#6bfe95"/><stop offset=".111" stop-color="#15f9ea"/><stop offset=".124" stop-color="#00f6ff"/><stop offset=".206" stop-color="#0086ff"/><stop offset=".269" stop-color="#0051ff"/><stop offset=".334" stop-color="#002cfe"/><stop offset=".492" stop-color="#0b25da"/><stop offset=".617" stop-color="#1227b3"/><stop offset=".775" stop-color="#16299a"/><stop offset="1.000" stop-color="#172a8e"/></linearGradient>
<linearGradient id="h50" x1="0" y1="1" x2="0" y2="0"><stop offset=".000" stop-color="#820000"/><stop offset=".000" stop-color="#840000"/><stop offset=".000" stop-color="#dd0c00"/><stop offset=".001" stop-color="#ff2200"/><stop offset=".004" stop-color="#ff9400"/><stop offset=".018" stop-color="#ffea00"/><stop offset=".023" stop-color="#fdff03"/><stop offset=".033" stop-color="#ceff32"/><stop offset=".079" stop-color="#6cfe94"/><stop offset=".111" stop-color="#21fadf"/><stop offset=".129" stop-color="#00f7ff"/><stop offset=".209" stop-color="#008aff"/><stop offset=".262" stop-color="#005bff"/><stop offset=".339" stop-color="#002cff"/><stop offset=".497" stop-color="#0b25db"/><stop offset=".614" stop-color="#1127b5"/><stop offset=".770" stop-color="#15299b"/><stop offset="1.000" stop-color="#172a8e"/></linearGradient>
<linearGradient id="h51" x1="0" y1="1" x2="0" y2="0"><stop offset=".000" stop-color="#820000"/><stop offset=".000" stop-color="#840000"/><stop offset=".000" stop-color="#db0b00"/><stop offset=".001" stop-color="#ff1f00"/><stop offset=".004" stop-color="#ff9000"/><stop offset=".018" stop-color="#ffe200"/><stop offset=".025" stop-color="#fbff04"/><stop offset=".034" stop-color="#d8ff27"/><stop offset=".081" stop-color="#74fe8c"/><stop offset=".111" stop-color="#2dfad3"/><stop offset=".134" stop-color="#01f8fe"/><stop offset=".219" stop-color="#0084ff"/><stop offset=".292" stop-color="#004aff"/><stop offset=".349" stop-color="#002cfe"/><stop offset=".499" stop-color="#0b25db"/><stop offset=".614" stop-color="#1127b6"/><stop offset=".770" stop-color="#15299b"/><stop offset="1.000" stop-color="#172a8e"/></linearGradient>
<linearGradient id="h52" x1="0" y1="1" x2="0" y2="0"><stop offset=".000" stop-color="#820000"/><stop offset=".000" stop-color="#840000"/><stop offset=".000" stop-color="#d90b00"/><stop offset=".001" stop-color="#ff1b00"/><stop offset=".004" stop-color="#ff8b00"/><stop offset=".018" stop-color="#ffda00"/><stop offset=".028" stop-color="#fcff03"/><stop offset=".035" stop-color="#e2ff1d"/><stop offset=".089" stop-color="#6efe92"/><stop offset=".114" stop-color="#34fbcb"/><stop offset=".141" stop-color="#00f7ff"/><stop offset=".221" stop-color="#0089ff"/><stop offset=".289" stop-color="#0050ff"/><stop offset=".354" stop-color="#002cfe"/><stop offset=".502" stop-color="#0b25dc"/><stop offset=".617" stop-color="#1127b6"/><stop offset=".770" stop-color="#15299c"/><stop offset="1.000" stop-color="#172a8e"/></linearGradient>
<linearGradient id="h53" x1="0" y1="1" x2="0" y2="0"><stop offset=".000" stop-color="#820000"/><stop offset=".000" stop-color="#840000"/><stop offset=".000" stop-color="#d60b00"/><stop offset=".001" stop-color="#ff1700"/><stop offset=".004" stop-color="#ff8600"/><stop offset=".018" stop-color="#ffd100"/><stop offset=".030" stop-color="#ffff00"/><stop offset=".046" stop-color="#d6ff2a"/><stop offset=".094" stop-color="#6ffe91"/><stop offset=".119" stop-color="#37fbc9"/><stop offset=".146" stop-color="#01f8fe"/><stop offset=".226" stop-color="#008aff"/><stop offset=".294" stop-color="#0052ff"/><stop offset=".362" stop-color="#002cff"/><stop offset=".504" stop-color="#0b24dd"/><stop offset=".617" stop-color="#1127b7"/><stop offset=".767" stop-color="#15299c"/><stop offset="1.000" stop-color="#172a8e"/></linearGradient>
<linearGradient id="h54" x1="0" y1="1" x2="0" y2="0"><stop offset=".000" stop-color="#820000"/><stop offset=".000" stop-color="#840000"/><stop offset=".000" stop-color="#d30a00"/><stop offset=".001" stop-color="#ff1200"/><stop offset=".004" stop-color="#ff8000"/><stop offset=".018" stop-color="#ffc800"/><stop offset=".033" stop-color="#fffb00"/><stop offset=".039" stop-color="#f4ff0b"/><stop offset=".099" stop-color="#71fe8f"/><stop offset=".151" stop-color="#04f8fb"/><stop offset=".161" stop-color="#00ecff"/><stop offset=".234" stop-color="#008aff"/><stop offset=".304" stop-color="#0050ff"/><stop offset=".369" stop-color="#002cff"/><stop offset=".507" stop-color="#0b24df"/><stop offset=".619" stop-color="#1127b8"/><stop offset=".767" stop-color="#15299d"/><stop offset="1.000" stop-color="#172a8f"/></linearGradient>
<linearGradient id="h55" x1="0" y1="1" x2="0" y2="0"><stop offset=".000" stop-color="#820000"/><stop offset=".000" stop-color="#840000"/><stop offset=".000" stop-color="#cf0a00"/><stop offset=".001" stop-color="#fc1000"/><stop offset=".004" stop-color="#ff7800"/><stop offset=".016" stop-color="#ffb800"/><stop offset=".030" stop-color="#ffe800"/><stop offset=".041" stop-color="#fdff02"/><stop offset=".136" stop-color="#30fbcf"/><stop offset=".161" stop-color="#00f7ff"/><stop offset=".234" stop-color="#0093ff"/><stop offset=".277" stop-color="#006bff"/><stop offset=".354" stop-color="#0037ff"/><stop offset=".389" stop-color="#012bfc"/><stop offset=".514" stop-color="#0b24de"/><stop offset=".629" stop-color="#1127b7"/><stop offset=".780" stop-color="#15299c"/><stop offset="1.000" stop-color="#172a8f"/></linearGradient>
<linearGradient id="h56" x1="0" y1="1" x2="0" y2="0"><stop offset=".000" stop-color="#820000"/><stop offset=".000" stop-color="#840000"/><stop offset=".000" stop-color="#ca0900"/><stop offset=".001" stop-color="#f60f00"/><stop offset=".002" stop-color="#ff3b00"/><stop offset=".004" stop-color="#ff6f00"/><stop offset=".015" stop-color="#ffa800"/><stop offset=".028" stop-color="#ffd500"/><stop offset=".044" stop-color="#fff900"/><stop offset=".051" stop-color="#f6ff09"/><stop offset=".141" stop-color="#36fbca"/><stop offset=".169" stop-color="#00f7ff"/><stop offset=".236" stop-color="#009aff"/><stop offset=".279" stop-color="#0070ff"/><stop offset=".357" stop-color="#003bff"/><stop offset=".394" stop-color="#012bfd"/><stop offset=".519" stop-color="#0b24df"/><stop offset=".634" stop-color="#1127b7"/><stop offset=".785" stop-color="#15299c"/><stop offset="1.000" stop-color="#172a8f"/></linearGradient>
<linearGradient id="h57" x1="0" y1="1" x2="0" y2="0"><stop offset=".000" stop-color="#820000"/><stop offset=".000" stop-color="#840000"/><stop offset=".000" stop-color="#c40800"/><stop offset=".001" stop-color="#f00e00"/><stop offset=".002" stop-color="#ff3200"/><stop offset=".004" stop-color="#ff6600"/><stop offset=".015" stop-color="#ff9e00"/><stop offset=".028" stop-color="#ffc800"/><stop offset=".046" stop-color="#fff100"/><stop offset=".054" stop-color="#fffe00"/><stop offset=".109" stop-color="#89ff77"/><stop offset=".176" stop-color="#00f8ff"/><stop offset=".241" stop-color="#009fff"/><stop offset=".284" stop-color="#0073ff"/><stop offset=".359" stop-color="#003fff"/><stop offset=".404" stop-color="#012bfd"/><stop offset=".527" stop-color="#0b24de"/><stop offset=".644" stop-color="#1127b6"/><stop offset=".800" stop-color="#15299c"/><stop offset="1.000" stop-color="#172a8f"/></linearGradient>
<linearGradient id="h58" x1="0" y1="1" x2="0" y2="0"><stop offset=".000" stop-color="#820000"/><stop offset=".000" stop-color="#840000"/><stop offset=".000" stop-color="#bd0700"/><stop offset=".001" stop-color="#e90d00"/><stop offset=".002" stop-color="#ff2900"/><stop offset=".004" stop-color="#ff5c00"/><stop offset=".016" stop-color="#ff9700"/><stop offset=".031" stop-color="#ffc500"/><stop offset=".061" stop-color="#ffff00"/><stop offset=".109" stop-color="#98ff68"/><stop offset=".139" stop-color="#5dfda3"/><stop offset=".184" stop-color="#03f8fc"/><stop offset=".252" stop-color="#009fff"/><stop offset=".297" stop-color="#0071ff"/><stop offset=".367" stop-color="#0041ff"/><stop offset=".414" stop-color="#012bfd"/><stop offset=".534" stop-color="#0b24de"/><stop offset=".652" stop-color="#1127b6"/><stop offset=".807" stop-color="#15299c"/><stop offset="1.000" stop-color="#172a90"/></linearGradient>
<linearGradient id="h59" x1="0" y1="1" x2="0" y2="0"><stop offset=".000" stop-color="#820000"/><stop offset=".000" stop-color="#840000"/><stop offset=".000" stop-color="#b50600"/><stop offset=".001" stop-color="#df0c00"/><stop offset=".002" stop-color="#ff1c00"/><stop offset=".004" stop-color="#ff4f00"/><stop offset=".019" stop-color="#ff9200"/><stop offset=".036" stop-color="#ffc000"/><stop offset=".071" stop-color="#fcff03"/><stop offset=".109" stop-color="#aaff56"/><stop offset=".141" stop-color="#6dfe93"/><stop offset=".194" stop-color="#04f8fb"/><stop offset=".204" stop-color="#00ecff"/><stop offset=".262" stop-color="#00a1ff"/><stop offset=".309" stop-color="#0070ff"/><stop offset=".377" stop-color="#0042ff"/><stop offset=".424" stop-color="#012bfd"/><stop offset=".544" stop-color="#0b24de"/><stop offset=".662" stop-color="#1127b5"/><stop offset=".817" stop-color="#15299c"/><stop offset="1.000" stop-color="#172a90"/></linearGradient>
<linearGradient id="h60" x1="0" y1="1" x2="0" y2="0"><stop offset=".000" stop-color="#820000"/><stop offset=".000" stop-color="#840000"/><stop offset=".001" stop-color="#d20a00"/><stop offset=".002" stop-color="#fb1000"/><stop offset=".004" stop-color="#ff3d00"/><stop offset=".021" stop-color="#ff8700"/><stop offset=".043" stop-color="#ffb800"/><stop offset=".081" stop-color="#fdff02"/><stop offset=".111" stop-color="#bcff44"/><stop offset=".154" stop-color="#6dfe92"/><stop offset=".209" stop-color="#01f8fe"/><stop offset=".284" stop-color="#0097ff"/><stop offset=".327" stop-color="#006dff"/><stop offset=".419" stop-color="#0032ff"/><stop offset=".449" stop-color="#022afa"/><stop offset=".554" stop-color="#0b24de"/><stop offset=".672" stop-color="#1127b5"/><stop offset=".825" stop-color="#15299c"/><stop offset="1.000" stop-color="#172a90"/></linearGradient>
<linearGradient id="h61" x1="0" y1="1" x2="0" y2="0"><stop offset=".000" stop-color="#820000"/><stop offset=".000" stop-color="#840000"/><stop offset=".000" stop-color="#940200"/><stop offset=".002" stop-color="#e50d00"/><stop offset=".004" stop-color="#ff2100"/><stop offset=".023" stop-color="#ff6a00"/><stop offset=".041" stop-color="#ff9800"/><stop offset=".096" stop-color="#fdff02"/><stop offset=".139" stop-color="#adff53"/><stop offset=".186" stop-color="#53fdac"/><stop offset=".229" stop-color="#02f8fd"/><stop offset=".329" stop-color="#007dff"/><stop offset=".422" stop-color="#003dff"/><stop offset=".459" stop-color="#012bfd"/><stop offset=".572" stop-color="#0b24dd"/><stop offset=".684" stop-color="#1127b6"/><stop offset=".837" stop-color="#15299c"/><stop offset="1.000" stop-color="#172a91"/></linearGradient>
<linearGradient id="h62" x1="0" y1="1" x2="0" y2="0"><stop offset=".000" stop-color="#820000"/><stop offset=".000" stop-color="#840000"/><stop offset=".001" stop-color="#a10400"/><stop offset=".004" stop-color="#f00e00"/><stop offset=".009" stop-color="#ff1100"/><stop offset=".025" stop-color="#ff4900"/><stop offset=".054" stop-color="#ff8c00"/><stop offset=".111" stop-color="#fff700"/><stop offset=".119" stop-color="#fcff04"/><stop offset=".184" stop-color="#89ff77"/><stop offset=".246" stop-color="#13f9ec"/><stop offset=".259" stop-color="#00f6ff"/><stop offset=".349" stop-color="#0084ff"/><stop offset=".449" stop-color="#003dff"/><stop offset=".487" stop-color="#012bfd"/><stop offset=".594" stop-color="#0b24dd"/><stop offset=".699" stop-color="#1127b8"/><stop offset=".852" stop-color="#15299e"/><stop offset="1.000" stop-color="#172993"/></linearGradient>
<linearGradient id="h63" x1="0" y1="1" x2="0" y2="0"><stop offset=".000" stop-color="#820000"/><stop offset=".001" stop-color="#840000"/><stop offset=".004" stop-color="#d00a00"/><stop offset=".020" stop-color="#ff1000"/><stop offset=".051" stop-color="#ff5d00"/><stop offset=".101" stop-color="#ffc300"/><stop offset=".141" stop-color="#ffff00"/><stop offset=".204" stop-color="#93ff6c"/><stop offset=".287" stop-color="#01f8fe"/><stop offset=".359" stop-color="#009bff"/><stop offset=".409" stop-color="#006dff"/><stop offset=".507" stop-color="#002cff"/><stop offset=".624" stop-color="#0b25dc"/><stop offset=".734" stop-color="#1127b7"/><stop offset=".902" stop-color="#15299c"/><stop offset="1.000" stop-color="#162995"/></linearGradient>
<linearGradient id="h64" x1="0" y1="1" x2="0" y2="0"><stop offset=".000" stop-color="#820000"/><stop offset=".001" stop-color="#840000"/><stop offset=".002" stop-color="#8d0100"/><stop offset=".004" stop-color="#b30600"/><stop offset=".026" stop-color="#ef0e00"/><stop offset=".035" stop-color="#ff1200"/><stop offset=".099" stop-color="#ff9d00"/><stop offset=".164" stop-color="#fdff02"/><stop offset=".259" stop-color="#5ffda0"/><stop offset=".314" stop-color="#00f6ff"/><stop offset=".367" stop-color="#00b2ff"/><stop offset=".427" stop-color="#0075ff"/><stop offset=".527" stop-color="#0030ff"/><stop offset=".642" stop-color="#0b24e1"/><stop offset=".757" stop-color="#1127b9"/><stop offset=".925" stop-color="#15299e"/><stop offset="1.000" stop-color="#162997"/></linearGradient>
<linearGradient id="h65" x1="0" y1="1" x2="0" y2="0"><stop offset=".000" stop-color="#820000"/><stop offset=".002" stop-color="#840000"/><stop offset=".004" stop-color="#9c0300"/><stop offset=".028" stop-color="#d90b00"/><stop offset=".046" stop-color="#fe1000"/><stop offset=".106" stop-color="#ff9100"/><stop offset=".181" stop-color="#ffff00"/><stop offset=".246" stop-color="#96ff6a"/><stop offset=".277" stop-color="#65fe9b"/><stop offset=".332" stop-color="#01f8fe"/><stop offset=".429" stop-color="#0086ff"/><stop offset=".514" stop-color="#0044ff"/><stop offset=".559" stop-color="#012bfd"/><stop offset=".677" stop-color="#0b25db"/><stop offset=".790" stop-color="#1127b7"/><stop offset=".957" stop-color="#15299e"/><stop offset="1.000" stop-color="#162999"/></linearGradient>
<linearGradient id="h66" x1="0" y1="1" x2="0" y2="0"><stop offset=".000" stop-color="#820000"/><stop offset=".004" stop-color="#870000"/><stop offset=".028" stop-color="#c30800"/><stop offset=".059" stop-color="#ff1000"/><stop offset=".109" stop-color="#ff7c00"/><stop offset=".186" stop-color="#ffef00"/><stop offset=".199" stop-color="#fdff02"/><stop offset=".262" stop-color="#9bff64"/><stop offset=".292" stop-color="#6bfe95"/><stop offset=".352" stop-color="#00f7ff"/><stop offset=".457" stop-color="#007eff"/><stop offset=".557" stop-color="#0036ff"/><stop offset=".584" stop-color="#012bfb"/><stop offset=".697" stop-color="#0b24dd"/><stop offset=".805" stop-color="#1127ba"/><stop offset=".967" stop-color="#15299f"/><stop offset="1.000" stop-color="#15299b"/></linearGradient>
<linearGradient id="h67" x1="0" y1="1" x2="0" y2="0"><stop offset=".000" stop-color="#820000"/><stop offset=".010" stop-color="#850000"/><stop offset=".030" stop-color="#b50600"/><stop offset=".069" stop-color="#fe1000"/><stop offset=".111" stop-color="#ff6900"/><stop offset=".174" stop-color="#ffca00"/><stop offset=".214" stop-color="#feff01"/><stop offset=".304" stop-color="#72fe8e"/><stop offset=".359" stop-color="#0ff9f0"/><stop offset=".369" stop-color="#00f8ff"/><stop offset=".474" stop-color="#007eff"/><stop offset=".569" stop-color="#0039ff"/><stop offset=".599" stop-color="#012bfd"/><stop offset=".719" stop-color="#0b25dc"/><stop offset=".842" stop-color="#1127b7"/><stop offset="1.000" stop-color="#15299e"/></linearGradient>
<linearGradient id="h68" x1="0" y1="1" x2="0" y2="0"><stop offset=".000" stop-color="#820000"/><stop offset=".016" stop-color="#850000"/><stop offset=".054" stop-color="#d20a00"/><stop offset=".079" stop-color="#ff1000"/><stop offset=".111" stop-color="#ff5400"/><stop offset=".166" stop-color="#ffae00"/><stop offset=".226" stop-color="#feff01"/><stop offset=".319" stop-color="#70fe90"/><stop offset=".364" stop-color="#21fadf"/><stop offset=".387" stop-color="#00f6ff"/><stop offset=".487" stop-color="#0081ff"/><stop offset=".579" stop-color="#003dff"/><stop offset=".614" stop-color="#012bfd"/><stop offset=".737" stop-color="#0b24dd"/><stop offset=".872" stop-color="#1127b5"/><stop offset="1.000" stop-color="#1428a1"/></linearGradient>
<linearGradient id="h69" x1="0" y1="1" x2="0" y2="0"><stop offset=".000" stop-color="#820000"/><stop offset=".023" stop-color="#860000"/><stop offset=".086" stop-color="#fe1000"/><stop offset=".114" stop-color="#ff4700"/><stop offset=".169" stop-color="#ffa200"/><stop offset=".239" stop-color="#ffff00"/><stop offset=".329" stop-color="#74fe8c"/><stop offset=".374" stop-color="#27fad9"/><stop offset=".399" stop-color="#00f7ff"/><stop offset=".497" stop-color="#0085ff"/><stop offset=".582" stop-color="#0044ff"/><stop offset=".629" stop-color="#012bfd"/><stop offset=".757" stop-color="#0b25dc"/><stop offset=".892" stop-color="#1127b5"/><stop offset="1.000" stop-color="#1428a3"/></linearGradient>
<linearGradient id="h70" x1="0" y1="1" x2="0" y2="0"><stop offset=".000" stop-color="#820000"/><stop offset=".030" stop-color="#870000"/><stop offset=".094" stop-color="#fe1000"/><stop offset=".164" stop-color="#ff8c00"/><stop offset=".249" stop-color="#fffc00"/><stop offset=".284" stop-color="#cdff32"/><stop offset=".344" stop-color="#6efe92"/><stop offset=".412" stop-color="#01f8fe"/><stop offset=".507" stop-color="#0088ff"/><stop offset=".584" stop-color="#004cff"/><stop offset=".644" stop-color="#012bfd"/><stop offset=".777" stop-color="#0b25dc"/><stop offset=".910" stop-color="#1127b6"/><stop offset="1.000" stop-color="#1428a6"/></linearGradient>
<linearGradient id="h71" x1="0" y1="1" x2="0" y2="0"><stop offset=".000" stop-color="#810000"/><stop offset=".036" stop-color="#870000"/><stop offset=".101" stop-color="#fe1000"/><stop offset=".176" stop-color="#ff8f00"/><stop offset=".257" stop-color="#fff800"/><stop offset=".264" stop-color="#fdff02"/><stop offset=".377" stop-color="#4dfcb3"/><stop offset=".424" stop-color="#00f8ff"/><stop offset=".517" stop-color="#008bff"/><stop offset=".592" stop-color="#0050ff"/><stop offset=".659" stop-color="#012cfd"/><stop offset=".795" stop-color="#0b25dc"/><stop offset=".922" stop-color="#1127b8"/><stop offset="1.000" stop-color="#1328a9"/></linearGradient>
<linearGradient id="h72" x1="0" y1="1" x2="0" y2="0"><stop offset=".000" stop-color="#810000"/><stop offset=".041" stop-color="#860000"/><stop offset=".109" stop-color="#ff1000"/><stop offset=".181" stop-color="#ff8a00"/><stop offset=".259" stop-color="#ffef00"/><stop offset=".274" stop-color="#fcff03"/><stop offset=".382" stop-color="#56fdaa"/><stop offset=".437" stop-color="#00f6ff"/><stop offset=".532" stop-color="#0087ff"/><stop offset=".617" stop-color="#0048ff"/><stop offset=".674" stop-color="#012bfd"/><stop offset=".810" stop-color="#0b25dc"/><stop offset=".935" stop-color="#1127b9"/><stop offset="1.000" stop-color="#1328ab"/></linearGradient>
<linearGradient id="h73" x1="0" y1="1" x2="0" y2="0"><stop offset=".000" stop-color="#810000"/><stop offset=".046" stop-color="#870000"/><stop offset=".111" stop-color="#fa0f00"/><stop offset=".121" stop-color="#ff1b00"/><stop offset=".186" stop-color="#ff8800"/><stop offset=".264" stop-color="#ffed00"/><stop offset=".282" stop-color="#fcff03"/><stop offset=".362" stop-color="#84ff7c"/><stop offset=".444" stop-color="#00f6ff"/><stop offset=".539" stop-color="#0088ff"/><stop offset=".619" stop-color="#004cff"/><stop offset=".684" stop-color="#012bfd"/><stop offset=".822" stop-color="#0b25dc"/><stop offset=".950" stop-color="#1127b8"/><stop offset="1.000" stop-color="#1328ad"/></linearGradient>
<linearGradient id="h74" x1="0" y1="1" x2="0" y2="0"><stop offset=".000" stop-color="#810000"/><stop offset=".049" stop-color="#870000"/><stop offset=".111" stop-color="#f50f00"/><stop offset=".121" stop-color="#ff1500"/><stop offset=".189" stop-color="#ff8600"/><stop offset=".264" stop-color="#ffe700"/><stop offset=".284" stop-color="#feff01"/><stop offset=".362" stop-color="#8aff76"/><stop offset=".447" stop-color="#01f8fe"/><stop offset=".547" stop-color="#0085ff"/><stop offset=".627" stop-color="#004aff"/><stop offset=".689" stop-color="#012cfe"/><stop offset=".830" stop-color="#0b25dc"/><stop offset=".962" stop-color="#1127b7"/><stop offset="1.000" stop-color="#1228ae"/></linearGradient>
<linearGradient id="h75" x1="0" y1="1" x2="0" y2="0"><stop offset=".000" stop-color="#810000"/><stop offset=".049" stop-color="#840000"/><stop offset=".111" stop-color="#f20e00"/><stop offset=".124" stop-color="#ff1600"/><stop offset=".191" stop-color="#ff8600"/><stop offset=".267" stop-color="#ffe700"/><stop offset=".287" stop-color="#ffff00"/><stop offset=".362" stop-color="#8eff72"/><stop offset=".452" stop-color="#00f7ff"/><stop offset=".547" stop-color="#0089ff"/><stop offset=".622" stop-color="#0050ff"/><stop offset=".694" stop-color="#012cfd"/><stop offset=".832" stop-color="#0b24dd"/><stop offset=".965" stop-color="#1127b8"/><stop offset="1.000" stop-color="#1228af"/></linearGradient>
<linearGradient id="h76" x1="0" y1="1" x2="0" y2="0"><stop offset=".000" stop-color="#810000"/><stop offset=".051" stop-color="#850000"/><stop offset=".111" stop-color="#ef0e00"/><stop offset=".124" stop-color="#ff1200"/><stop offset=".191" stop-color="#ff8200"/><stop offset=".262" stop-color="#ffde00"/><stop offset=".289" stop-color="#ffff00"/><stop offset=".362" stop-color="#92ff6e"/><stop offset=".402" stop-color="#54fdac"/><stop offset=".454" stop-color="#00f7ff"/><stop offset=".549" stop-color="#0089ff"/><stop offset=".622" stop-color="#0052ff"/><stop offset=".697" stop-color="#002cfe"/><stop offset=".837" stop-color="#0b25dc"/><stop offset=".975" stop-color="#1127b7"/><stop offset="1.000" stop-color="#1227b0"/></linearGradient>
<linearGradient id="h77" x1="0" y1="1" x2="0" y2="0"><stop offset=".000" stop-color="#810000"/><stop offset=".054" stop-color="#870000"/><stop offset=".111" stop-color="#ed0e00"/><stop offset=".126" stop-color="#ff1400"/><stop offset=".194" stop-color="#ff8300"/><stop offset=".267" stop-color="#ffe100"/><stop offset=".292" stop-color="#feff01"/><stop offset=".364" stop-color="#91ff6e"/><stop offset=".407" stop-color="#4ffcb0"/><stop offset=".457" stop-color="#00f6ff"/><stop offset=".552" stop-color="#0089ff"/><stop offset=".624" stop-color="#0052ff"/><stop offset=".699" stop-color="#002cfe"/><stop offset=".840" stop-color="#0b24dd"/><stop offset=".977" stop-color="#1127b7"/><stop offset="1.000" stop-color="#1227b1"/></linearGradient>
<linearGradient id="h78" x1="0" y1="1" x2="0" y2="0"><stop offset=".000" stop-color="#810000"/><stop offset=".054" stop-color="#860000"/><stop offset=".111" stop-color="#eb0d00"/><stop offset=".126" stop-color="#ff1200"/><stop offset=".194" stop-color="#ff8200"/><stop offset=".264" stop-color="#ffdd00"/><stop offset=".292" stop-color="#ffff00"/><stop offset=".364" stop-color="#93ff6d"/><stop offset=".399" stop-color="#5efda2"/><stop offset=".457" stop-color="#00f8ff"/><stop offset=".552" stop-color="#008aff"/><stop offset=".622" stop-color="#0054ff"/><stop offset=".699" stop-color="#002cfe"/><stop offset=".842" stop-color="#0b25dc"/><stop offset=".982" stop-color="#1127b6"/><stop offset="1.000" stop-color="#1227b1"/></linearGradient>
<linearGradient id="h79" x1="0" y1="1" x2="0" y2="0"><stop offset=".000" stop-color="#810000"/><stop offset=".054" stop-color="#860000"/><stop offset=".111" stop-color="#eb0d00"/><stop offset=".126" stop-color="#ff1200"/><stop offset=".194" stop-color="#ff8200"/><stop offset=".262" stop-color="#ffda00"/><stop offset=".294" stop-color="#fcff03"/><stop offset=".364" stop-color="#93ff6d"/><stop offset=".399" stop-color="#5efda2"/><stop offset=".457" stop-color="#00f8ff"/><stop offset=".552" stop-color="#008aff"/><stop offset=".622" stop-color="#0055ff"/><stop offset=".699" stop-color="#002cfe"/><stop offset=".842" stop-color="#0b24dd"/><stop offset=".982" stop-color="#1127b6"/><stop offset="1.000" stop-color="#1227b1"/></linearGradient>
<linearGradient id="h80" x1="0" y1="1" x2="0" y2="0"><stop offset=".000" stop-color="#810000"/><stop offset=".054" stop-color="#860000"/><stop offset=".111" stop-color="#eb0d00"/><stop offset=".126" stop-color="#ff1200"/><stop offset=".194" stop-color="#ff8200"/><stop offset=".262" stop-color="#ffda00"/><stop offset=".294" stop-color="#fcff03"/><stop offset=".364" stop-color="#93ff6d"/><stop offset=".399" stop-color="#5efda2"/><stop offset=".457" stop-color="#00f8ff"/><stop offset=".552" stop-color="#008aff"/><stop offset=".622" stop-color="#0055ff"/><stop offset=".699" stop-color="#002cfe"/><stop offset=".842" stop-color="#0b24dd"/><stop offset=".982" stop-color="#1127b6"/><stop offset="1.000" stop-color="#1227b1"/></linearGradient>
<linearGradient id="h81" x1="0" y1="1" x2="0" y2="0"><stop offset=".000" stop-color="#810000"/><stop offset=".054" stop-color="#860000"/><stop offset=".111" stop-color="#eb0d00"/><stop offset=".126" stop-color="#ff1200"/><stop offset=".194" stop-color="#ff8200"/><stop offset=".262" stop-color="#ffda00"/><stop offset=".294" stop-color="#fcff03"/><stop offset=".364" stop-color="#93ff6d"/><stop offset=".399" stop-color="#5efda2"/><stop offset=".457" stop-color="#00f8ff"/><stop offset=".552" stop-color="#008aff"/><stop offset=".622" stop-color="#0055ff"/><stop offset=".699" stop-color="#002cfe"/><stop offset=".842" stop-color="#0b24dd"/><stop offset=".982" stop-color="#1127b6"/><stop offset="1.000" stop-color="#1227b1"/></linearGradient>
<linearGradient id="h82" x1="0" y1="1" x2="0" y2="0"><stop offset=".000" stop-color="#810000"/><stop offset=".054" stop-color="#860000"/><stop offset=".111" stop-color="#eb0d00"/><stop offset=".126" stop-color="#ff1200"/><stop offset=".194" stop-color="#ff8200"/><stop offset=".262" stop-color="#ffda00"/><stop offset=".294" stop-color="#fcff03"/><stop offset=".364" stop-color="#93ff6d"/><stop offset=".399" stop-color="#5efda2"/><stop offset=".457" stop-color="#00f8ff"/><stop offset=".552" stop-color="#008aff"/><stop offset=".622" stop-color="#0055ff"/><stop offset=".699" stop-color="#002cfe"/><stop offset=".842" stop-color="#0b24dd"/><stop offset=".982" stop-color="#1127b6"/><stop offset="1.000" stop-color="#1227b1"/></linearGradient>
<linearGradient id="h83" x1="0" y1="1" x2="0" y2="0"><stop offset=".000" stop-color="#810000"/><stop offset=".054" stop-color="#860000"/><stop offset=".111" stop-color="#eb0d00"/><stop offset=".126" stop-color="#ff1200"/><stop offset=".194" stop-color="#ff8200"/><stop offset=".264" stop-color="#ffdd00"/><stop offset=".294" stop-color="#fcff03"/><stop offset=".364" stop-color="#93ff6d"/><stop offset=".399" stop-color="#5efda2"/><stop offset=".457" stop-color="#00f8ff"/><stop offset=".552" stop-color="#008aff"/><stop offset=".622" stop-color="#0055ff"/><stop offset=".699" stop-color="#002cfe"/><stop offset=".842" stop-color="#0b24dd"/><stop offset=".982" stop-color="#1127b6"/><stop offset="1.000" stop-color="#1227b1"/></linearGradient>
<linearGradient id="h84" x1="0" y1="1" x2="0" y2="0"><stop offset=".000" stop-color="#810000"/><stop offset=".054" stop-color="#860000"/><stop offset=".111" stop-color="#eb0d00"/><stop offset=".126" stop-color="#ff1200"/><stop offset=".194" stop-color="#ff8200"/><stop offset=".264" stop-color="#ffdd00"/><stop offset=".294" stop-color="#fcff03"/><stop offset=".364" stop-color="#93ff6d"/><stop offset=".399" stop-color="#5efda2"/><stop offset=".457" stop-color="#00f8ff"/><stop offset=".552" stop-color="#008aff"/><stop offset=".622" stop-color="#0055ff"/><stop offset=".699" stop-color="#002cfe"/><stop offset=".842" stop-color="#0b25dc"/><stop offset=".982" stop-color="#1127b6"/><stop offset="1.000" stop-color="#1227b1"/></linearGradient>
<linearGradient id="h85" x1="0" y1="1" x2="0" y2="0"><stop offset=".000" stop-color="#810000"/><stop offset=".054" stop-color="#860000"/><stop offset=".111" stop-color="#eb0d00"/><stop offset=".126" stop-color="#ff1200"/><stop offset=".194" stop-color="#ff8200"/><stop offset=".264" stop-color="#ffdd00"/><stop offset=".294" stop-color="#fcff03"/><stop offset=".364" stop-color="#93ff6d"/><stop offset=".399" stop-color="#5efda2"/><stop offset=".457" stop-color="#00f8ff"/><stop offset=".552" stop-color="#008aff"/><stop offset=".622" stop-color="#0054ff"/><stop offset=".699" stop-color="#002cfe"/><stop offset=".842" stop-color="#0b25dc"/><stop offset=".982" stop-color="#1127b6"/><stop offset="1.000" stop-color="#1227b1"/></linearGradient>
<linearGradient id="h86" x1="0" y1="1" x2="0" y2="0"><stop offset=".000" stop-color="#810000"/><stop offset=".054" stop-color="#860000"/><stop offset=".111" stop-color="#eb0d00"/><stop offset=".126" stop-color="#ff1200"/><stop offset=".194" stop-color="#ff8200"/><stop offset=".264" stop-color="#ffdd00"/><stop offset=".294" stop-color="#fcff03"/><stop offset=".364" stop-color="#93ff6d"/><stop offset=".399" stop-color="#5efda2"/><stop offset=".457" stop-color="#00f8ff"/><stop offset=".552" stop-color="#008aff"/><stop offset=".622" stop-color="#0054ff"/><stop offset=".699" stop-color="#002cfe"/><stop offset=".842" stop-color="#0b25dc"/><stop offset=".982" stop-color="#1127b6"/><stop offset="1.000" stop-color="#1227b1"/></linearGradient>
<linearGradient id="h87" x1="0" y1="1" x2="0" y2="0"><stop offset=".000" stop-color="#810000"/><stop offset=".054" stop-color="#860000"/><stop offset=".111" stop-color="#eb0d00"/><stop offset=".126" stop-color="#ff1200"/><stop offset=".194" stop-color="#ff8200"/><stop offset=".264" stop-color="#ffdd00"/><stop offset=".292" stop-color="#ffff00"/><stop offset=".364" stop-color="#93ff6d"/><stop offset=".402" stop-color="#59fda6"/><stop offset=".457" stop-color="#00f8ff"/><stop offset=".552" stop-color="#008aff"/><stop offset=".622" stop-color="#0054ff"/><stop offset=".699" stop-color="#002cfe"/><stop offset=".842" stop-color="#0b25dc"/><stop offset=".982" stop-color="#1127b6"/><stop offset="1.000" stop-color="#1227b1"/></linearGradient>
<linearGradient id="h88" x1="0" y1="1" x2="0" y2="0"><stop offset=".000" stop-color="#810000"/><stop offset=".054" stop-color="#860000"/><stop offset=".111" stop-color="#ec0e00"/><stop offset=".126" stop-color="#ff1300"/><stop offset=".194" stop-color="#ff8300"/><stop offset=".264" stop-color="#ffde00"/><stop offset=".292" stop-color="#ffff00"/><stop offset=".364" stop-color="#92ff6e"/><stop offset=".404" stop-color="#54fdab"/><stop offset=".457" stop-color="#00f7ff"/><stop offset=".552" stop-color="#0089ff"/><stop offset=".624" stop-color="#0052ff"/><stop offset=".699" stop-color="#002cfe"/><stop offset=".842" stop-color="#0b25dc"/><stop offset=".982" stop-color="#1127b6"/><stop offset="1.000" stop-color="#1227b1"/></linearGradient>
<linearGradient id="h89" x1="0" y1="1" x2="0" y2="0"><stop offset=".000" stop-color="#810000"/><stop offset=".054" stop-color="#870000"/><stop offset=".111" stop-color="#ed0e00"/><stop offset=".126" stop-color="#ff1400"/><stop offset=".194" stop-color="#ff8400"/><stop offset=".267" stop-color="#ffe200"/><stop offset=".292" stop-color="#feff01"/><stop offset=".364" stop-color="#91ff6f"/><stop offset=".404" stop-color="#53fdad"/><stop offset=".457" stop-color="#00f6ff"/><stop offset=".552" stop-color="#0089ff"/><stop offset=".624" stop-color="#0052ff"/><stop offset=".699" stop-color="#002cfe"/><stop offset=".840" stop-color="#0b24dd"/><stop offset=".977" stop-color="#1127b7"/><stop offset="1.000" stop-color="#1227b1"/></linearGradient>
<linearGradient id="h90" x1="0" y1="1" x2="0" y2="0"><stop offset=".000" stop-color="#810000"/><stop offset=".051" stop-color="#840000"/><stop offset=".111" stop-color="#ee0e00"/><stop offset=".124" stop-color="#ff1100"/><stop offset=".191" stop-color="#ff8100"/><stop offset=".259" stop-color="#ffda00"/><stop offset=".292" stop-color="#fcff03"/><stop offset=".364" stop-color="#90ff70"/><stop offset=".412" stop-color="#45fcbb"/><stop offset=".454" stop-color="#00f8ff"/><stop offset=".549" stop-color="#008aff"/><stop offset=".622" stop-color="#0052ff"/><stop offset=".697" stop-color="#002cfe"/><stop offset=".840" stop-color="#0b25dc"/><stop offset=".980" stop-color="#1127b6"/><stop offset="1.000" stop-color="#1227b0"/></linearGradient>
<linearGradient id="h91" x1="0" y1="1" x2="0" y2="0"><stop offset=".000" stop-color="#810000"/><stop offset=".051" stop-color="#850000"/><stop offset=".111" stop-color="#ef0e00"/><stop offset=".124" stop-color="#ff1300"/><stop offset=".191" stop-color="#ff8300"/><stop offset=".262" stop-color="#ffde00"/><stop offset=".289" stop-color="#feff01"/><stop offset=".362" stop-color="#91ff6f"/><stop offset=".402" stop-color="#53fdad"/><stop offset=".454" stop-color="#00f6ff"/><stop offset=".549" stop-color="#0088ff"/><stop offset=".624" stop-color="#0050ff"/><stop offset=".697" stop-color="#012cfd"/><stop offset=".837" stop-color="#0b25dc"/><stop offset=".975" stop-color="#1127b7"/><stop offset="1.000" stop-color="#1227b0"/></linearGradient>
<linearGradient id="h92" x1="0" y1="1" x2="0" y2="0"><stop offset=".000" stop-color="#810000"/><stop offset=".051" stop-color="#870000"/><stop offset=".111" stop-color="#f10e00"/><stop offset=".121" stop-color="#ff1000"/><stop offset=".189" stop-color="#ff8100"/><stop offset=".257" stop-color="#ffda00"/><stop offset=".289" stop-color="#fcff03"/><stop offset=".362" stop-color="#8fff71"/><stop offset=".419" stop-color="#34fbcc"/><stop offset=".452" stop-color="#00f7ff"/><stop offset=".547" stop-color="#0089ff"/><stop offset=".622" stop-color="#0050ff"/><stop offset=".694" stop-color="#012cfe"/><stop offset=".835" stop-color="#0b25dc"/><stop offset=".970" stop-color="#1127b7"/><stop offset="1.000" stop-color="#1227b0"/></linearGradient>
<linearGradient id="h93" x1="0" y1="1" x2="0" y2="0"><stop offset=".000" stop-color="#810000"/><stop offset=".049" stop-color="#840000"/><stop offset=".111" stop-color="#f30e00"/><stop offset=".121" stop-color="#ff1200"/><stop offset=".189" stop-color="#ff8300"/><stop offset=".259" stop-color="#ffdf00"/><stop offset=".287" stop-color="#fdff02"/><stop offset=".362" stop-color="#8dff73"/><stop offset=".449" stop-color="#00f8ff"/><stop offset=".547" stop-color="#0087ff"/><stop offset=".624" stop-color="#004dff"/><stop offset=".692" stop-color="#012cfe"/><stop offset=".832" stop-color="#0b25dc"/><stop offset=".967" stop-color="#1127b7"/><stop offset="1.000" stop-color="#1228af"/></linearGradient>
<linearGradient id="h94" x1="0" y1="1" x2="0" y2="0"><stop offset=".000" stop-color="#810000"/><stop offset=".049" stop-color="#860000"/><stop offset=".111" stop-color="#f50f00"/><stop offset=".121" stop-color="#ff1500"/><stop offset=".189" stop-color="#ff8500"/><stop offset=".262" stop-color="#ffe400"/><stop offset=".284" stop-color="#ffff00"/><stop offset=".362" stop-color="#8aff76"/><stop offset=".449" stop-color="#00f6ff"/><stop offset=".544" stop-color="#0088ff"/><stop offset=".622" stop-color="#004dff"/><stop offset=".689" stop-color="#012cfe"/><stop offset=".830" stop-color="#0b25dc"/><stop offset=".962" stop-color="#1127b7"/><stop offset="1.000" stop-color="#1228af"/></linearGradient>
<linearGradient id="h95" x1="0" y1="1" x2="0" y2="0"><stop offset=".000" stop-color="#810000"/><stop offset=".046" stop-color="#840000"/><stop offset=".111" stop-color="#f70f00"/><stop offset=".119" stop-color="#ff1300"/><stop offset=".189" stop-color="#ff8800"/><stop offset=".267" stop-color="#ffec00"/><stop offset=".284" stop-color="#fcff03"/><stop offset=".362" stop-color="#88ff78"/><stop offset=".447" stop-color="#00f6ff"/><stop offset=".542" stop-color="#0088ff"/><stop offset=".619" stop-color="#004eff"/><stop offset=".687" stop-color="#012cfe"/><stop offset=".825" stop-color="#0b24dd"/><stop offset=".955" stop-color="#1127b8"/><stop offset="1.000" stop-color="#1228ae"/></linearGradient>
<linearGradient id="h96" x1="0" y1="1" x2="0" y2="0"><stop offset=".000" stop-color="#810000"/><stop offset=".046" stop-color="#850000"/><stop offset=".111" stop-color="#f90f00"/><stop offset=".119" stop-color="#ff1500"/><stop offset=".186" stop-color="#ff8700"/><stop offset=".262" stop-color="#ffe800"/><stop offset=".282" stop-color="#fdff02"/><stop offset=".362" stop-color="#85ff7b"/><stop offset=".444" stop-color="#00f7ff"/><stop offset=".539" stop-color="#0088ff"/><stop offset=".619" stop-color="#004cff"/><stop offset=".684" stop-color="#012cfd"/><stop offset=".822" stop-color="#0b25dc"/><stop offset=".950" stop-color="#1127b8"/><stop offset="1.000" stop-color="#1228ad"/></linearGradient>
<linearGradient id="h97" x1="0" y1="1" x2="0" y2="0"><stop offset=".000" stop-color="#810000"/><stop offset=".045" stop-color="#850000"/><stop offset=".111" stop-color="#fb0f00"/><stop offset=".124" stop-color="#ff2100"/><stop offset=".186" stop-color="#ff8900"/><stop offset=".264" stop-color="#ffee00"/><stop offset=".279" stop-color="#feff01"/><stop offset=".387" stop-color="#59fda7"/><stop offset=".442" stop-color="#00f8ff"/><stop offset=".537" stop-color="#0088ff"/><stop offset=".617" stop-color="#004cff"/><stop offset=".679" stop-color="#002cfe"/><stop offset=".820" stop-color="#0b25dc"/><stop offset=".945" stop-color="#1127b9"/><stop offset="1.000" stop-color="#1328ad"/></linearGradient>
<linearGradient id="h98" x1="0" y1="1" x2="0" y2="0"><stop offset=".000" stop-color="#810000"/><stop offset=".044" stop-color="#850000"/><stop offset=".111" stop-color="#fd1000"/><stop offset=".189" stop-color="#ff8f00"/><stop offset=".267" stop-color="#fff300"/><stop offset=".279" stop-color="#fbff04"/><stop offset=".384" stop-color="#5afda6"/><stop offset=".439" stop-color="#00f8ff"/><stop offset=".537" stop-color="#0086ff"/><stop offset=".619" stop-color="#0049ff"/><stop offset=".679" stop-color="#012bfd"/><stop offset=".817" stop-color="#0b25dc"/><stop offset=".942" stop-color="#1127b9"/><stop offset="1.000" stop-color="#1328ac"/></linearGradient>
<linearGradient id="h99" x1="0" y1="1" x2="0" y2="0"><stop offset=".000" stop-color="#820000"/><stop offset=".044" stop-color="#870000"/><stop offset=".111" stop-color="#ff1000"/><stop offset=".184" stop-color="#ff8a00"/><stop offset=".262" stop-color="#ffef00"/><stop offset=".277" stop-color="#fcff03"/><stop offset=".382" stop-color="#5bfda5"/><stop offset=".439" stop-color="#00f6ff"/><stop offset=".534" stop-color="#0087ff"/><stop offset=".619" stop-color="#0048ff"/><stop offset=".677" stop-color="#012bfd"/><stop offset=".815" stop-color="#0b25dc"/><stop offset=".940" stop-color="#1127b8"/><stop offset="1.000" stop-color="#1328ac"/></linearGradient>
<linearGradient id="h100" x1="0" y1="1" x2="0" y2="0"><stop offset=".000" stop-color="#820000"/><stop offset=".043" stop-color="#870000"/><stop offset=".109" stop-color="#fd1000"/><stop offset=".184" stop-color="#ff8c00"/><stop offset=".262" stop-color="#fff100"/><stop offset=".274" stop-color="#fdff02"/><stop offset=".382" stop-color="#57fda8"/><stop offset=".437" stop-color="#00f6ff"/><stop offset=".532" stop-color="#0087ff"/><stop offset=".617" stop-color="#0048ff"/><stop offset=".674" stop-color="#012bfd"/><stop offset=".810" stop-color="#0b25dc"/><stop offset=".935" stop-color="#1127b9"/><stop offset="1.000" stop-color="#1328ab"/></linearGradient>
<linearGradient id="h101" x1="0" y1="1" x2="0" y2="0"><stop offset=".000" stop-color="#820000"/><stop offset=".041" stop-color="#870000"/><stop offset=".109" stop-color="#ff1100"/><stop offset=".181" stop-color="#ff8b00"/><stop offset=".259" stop-color="#fff000"/><stop offset=".272" stop-color="#feff01"/><stop offset=".382" stop-color="#54fdac"/><stop offset=".434" stop-color="#00f7ff"/><stop offset=".529" stop-color="#0087ff"/><stop offset=".614" stop-color="#0048ff"/><stop offset=".669" stop-color="#002cfe"/><stop offset=".807" stop-color="#0b25dc"/><stop offset=".932" stop-color="#1127b9"/><stop offset="1.000" stop-color="#1328ab"/></linearGradient>
<linearGradient id="h102" x1="0" y1="1" x2="0" y2="0"><stop offset=".000" stop-color="#820000"/><stop offset=".040" stop-color="#860000"/><stop offset=".106" stop-color="#fe1000"/><stop offset=".181" stop-color="#ff8d00"/><stop offset=".259" stop-color="#fff300"/><stop offset=".272" stop-color="#fbff04"/><stop offset=".382" stop-color="#50fcaf"/><stop offset=".432" stop-color="#00f7ff"/><stop offset=".524" stop-color="#008aff"/><stop offset=".604" stop-color="#004cff"/><stop offset=".667" stop-color="#012cfe"/><stop offset=".805" stop-color="#0b25dc"/><stop offset=".930" stop-color="#1127b8"/><stop offset="1.000" stop-color="#1328aa"/></linearGradient>
<linearGradient id="h103" x1="0" y1="1" x2="0" y2="0"><stop offset=".000" stop-color="#820000"/><stop offset=".039" stop-color="#860000"/><stop offset=".106" stop-color="#ff1200"/><stop offset=".179" stop-color="#ff8d00"/><stop offset=".257" stop-color="#fff200"/><stop offset=".269" stop-color="#fcff03"/><stop offset=".379" stop-color="#50fcaf"/><stop offset=".429" stop-color="#00f8ff"/><stop offset=".522" stop-color="#008aff"/><stop offset=".602" stop-color="#004cff"/><stop offset=".662" stop-color="#002cfe"/><stop offset=".800" stop-color="#0b25dc"/><stop offset=".925" stop-color="#1127b9"/><stop offset="1.000" stop-color="#1328aa"/></linearGradient>
<linearGradient id="h104" x1="0" y1="1" x2="0" y2="0"><stop offset=".000" stop-color="#820000"/><stop offset=".038" stop-color="#860000"/><stop offset=".104" stop-color="#ff1100"/><stop offset=".179" stop-color="#ff8f00"/><stop offset=".257" stop-color="#fff500"/><stop offset=".267" stop-color="#fcff03"/><stop offset=".379" stop-color="#4cfcb3"/><stop offset=".427" stop-color="#00f8ff"/><stop offset=".517" stop-color="#008dff"/><stop offset=".582" stop-color="#0058ff"/><stop offset=".659" stop-color="#002cfe"/><stop offset=".797" stop-color="#0b25dc"/><stop offset=".925" stop-color="#1127b8"/><stop offset="1.000" stop-color="#1328a9"/></linearGradient>
<linearGradient id="h105" x1="0" y1="1" x2="0" y2="0"><stop offset=".000" stop-color="#820000"/><stop offset=".036" stop-color="#860000"/><stop offset=".101" stop-color="#fe1000"/><stop offset=".176" stop-color="#ff8f00"/><stop offset=".257" stop-color="#fff800"/><stop offset=".264" stop-color="#fdff02"/><stop offset=".374" stop-color="#50fcaf"/><stop offset=".424" stop-color="#00f8ff"/><stop offset=".514" stop-color="#008cff"/><stop offset=".577" stop-color="#0059ff"/><stop offset=".654" stop-color="#002cfe"/><stop offset=".792" stop-color="#0b25dc"/><stop offset=".920" stop-color="#1127b8"/><stop offset="1.000" stop-color="#1328a8"/></linearGradient>
<linearGradient id="h106" x1="0" y1="1" x2="0" y2="0"><stop offset=".000" stop-color="#820000"/><stop offset=".035" stop-color="#870000"/><stop offset=".101" stop-color="#ff1200"/><stop offset=".174" stop-color="#ff8e00"/><stop offset=".254" stop-color="#fff800"/><stop offset=".262" stop-color="#fdff02"/><stop offset=".364" stop-color="#5cfda3"/><stop offset=".422" stop-color="#00f7ff"/><stop offset=".512" stop-color="#008cff"/><stop offset=".574" stop-color="#0059ff"/><stop offset=".652" stop-color="#002cfe"/><stop offset=".790" stop-color="#0b25dc"/><stop offset=".920" stop-color="#1127b7"/><stop offset="1.000" stop-color="#1328a8"/></linearGradient>
<linearGradient id="h107" x1="0" y1="1" x2="0" y2="0"><stop offset=".000" stop-color="#820000"/><stop offset=".034" stop-color="#870000"/><stop offset=".099" stop-color="#ff1000"/><stop offset=".174" stop-color="#ff9200"/><stop offset=".254" stop-color="#fffb00"/><stop offset=".264" stop-color="#f5ff0a"/><stop offset=".354" stop-color="#68fe98"/><stop offset=".419" stop-color="#00f7ff"/><stop offset=".509" stop-color="#008cff"/><stop offset=".574" stop-color="#0056ff"/><stop offset=".649" stop-color="#012cfe"/><stop offset=".785" stop-color="#0b25dc"/><stop offset=".915" stop-color="#1127b7"/><stop offset="1.000" stop-color="#1328a7"/></linearGradient>
<linearGradient id="h108" x1="0" y1="1" x2="0" y2="0"><stop offset=".000" stop-color="#820000"/><stop offset=".031" stop-color="#850000"/><stop offset=".096" stop-color="#fe1000"/><stop offset=".171" stop-color="#ff9100"/><stop offset=".254" stop-color="#fffe00"/><stop offset=".344" stop-color="#74fe8b"/><stop offset=".417" stop-color="#00f6ff"/><stop offset=".507" stop-color="#008bff"/><stop offset=".574" stop-color="#0054ff"/><stop offset=".644" stop-color="#002cfe"/><stop offset=".782" stop-color="#0b25db"/><stop offset=".912" stop-color="#1127b6"/><stop offset="1.000" stop-color="#1428a6"/></linearGradient>
<linearGradient id="h109" x1="0" y1="1" x2="0" y2="0"><stop offset=".000" stop-color="#820000"/><stop offset=".030" stop-color="#860000"/><stop offset=".096" stop-color="#ff1200"/><stop offset=".161" stop-color="#ff8600"/><stop offset=".249" stop-color="#fffb00"/><stop offset=".262" stop-color="#f0ff0f"/><stop offset=".342" stop-color="#74fe8c"/><stop offset=".412" stop-color="#01f8fe"/><stop offset=".507" stop-color="#0087ff"/><stop offset=".587" stop-color="#0049ff"/><stop offset=".642" stop-color="#012cfe"/><stop offset=".777" stop-color="#0b25db"/><stop offset=".910" stop-color="#1127b6"/><stop offset="1.000" stop-color="#1428a6"/></linearGradient>
<linearGradient id="h110" x1="0" y1="1" x2="0" y2="0"><stop offset=".000" stop-color="#820000"/><stop offset=".029" stop-color="#870000"/><stop offset=".094" stop-color="#ff1100"/><stop offset=".121" stop-color="#ff4500"/><stop offset=".171" stop-color="#ff9800"/><stop offset=".249" stop-color="#ffff00"/><stop offset=".339" stop-color="#73fe8c"/><stop offset=".409" stop-color="#00f8ff"/><stop offset=".502" stop-color="#0089ff"/><stop offset=".574" stop-color="#004fff"/><stop offset=".639" stop-color="#012bfd"/><stop offset=".772" stop-color="#0b25db"/><stop offset=".905" stop-color="#1127b6"/><stop offset="1.000" stop-color="#1428a5"/></linearGradient>
<linearGradient id="h111" x1="0" y1="1" x2="0" y2="0"><stop offset=".000" stop-color="#820000"/><stop offset=".026" stop-color="#850000"/><stop offset=".091" stop-color="#ff1000"/><stop offset=".119" stop-color="#ff4500"/><stop offset=".171" stop-color="#ff9c00"/><stop offset=".246" stop-color="#feff01"/><stop offset=".337" stop-color="#73fe8d"/><stop offset=".407" stop-color="#00f7ff"/><stop offset=".502" stop-color="#0086ff"/><stop offset=".584" stop-color="#0046ff"/><stop offset=".634" stop-color="#012cfd"/><stop offset=".767" stop-color="#0b25db"/><stop offset=".902" stop-color="#1127b5"/><stop offset="1.000" stop-color="#1428a4"/></linearGradient>
<linearGradient id="h112" x1="0" y1="1" x2="0" y2="0"><stop offset=".000" stop-color="#820000"/><stop offset=".025" stop-color="#860000"/><stop offset=".089" stop-color="#fe1000"/><stop offset=".119" stop-color="#ff4a00"/><stop offset=".171" stop-color="#ffa000"/><stop offset=".241" stop-color="#fffd00"/><stop offset=".334" stop-color="#71fe8e"/><stop offset=".402" stop-color="#01f8fe"/><stop offset=".499" stop-color="#0084ff"/><stop offset=".584" stop-color="#0043ff"/><stop offset=".632" stop-color="#012bfd"/><stop offset=".760" stop-color="#0b25dc"/><stop offset=".895" stop-color="#1127b5"/><stop offset="1.000" stop-color="#1428a4"/></linearGradient>
<linearGradient id="h113" x1="0" y1="1" x2="0" y2="0"><stop offset=".000" stop-color="#820000"/><stop offset=".023" stop-color="#850000"/><stop offset=".086" stop-color="#fd1000"/><stop offset=".119" stop-color="#ff4f00"/><stop offset=".169" stop-color="#ffa100"/><stop offset=".239" stop-color="#ffff00"/><stop offset=".329" stop-color="#74fe8c"/><stop offset=".374" stop-color="#26fad9"/><stop offset=".399" stop-color="#00f7ff"/><stop offset=".497" stop-color="#0082ff"/><stop offset=".587" stop-color="#003fff"/><stop offset=".627" stop-color="#012bfd"/><stop offset=".752" stop-color="#0b25dc"/><stop offset=".890" stop-color="#1127b5"/><stop offset="1.000" stop-color="#1428a3"/></linearGradient>
<linearGradient id="h114" x1="0" y1="1" x2="0" y2="0"><stop offset=".000" stop-color="#820000"/><stop offset=".021" stop-color="#870000"/><stop offset=".084" stop-color="#fd1000"/><stop offset=".116" stop-color="#ff5000"/><stop offset=".169" stop-color="#ffa600"/><stop offset=".236" stop-color="#fdff02"/><stop offset=".327" stop-color="#72fe8e"/><stop offset=".369" stop-color="#27fad8"/><stop offset=".394" stop-color="#00f7ff"/><stop offset=".494" stop-color="#0080ff"/><stop offset=".587" stop-color="#003cff"/><stop offset=".622" stop-color="#012bfd"/><stop offset=".745" stop-color="#0b24dd"/><stop offset=".882" stop-color="#1127b5"/><stop offset="1.000" stop-color="#1428a2"/></linearGradient>
<linearGradient id="h115" x1="0" y1="1" x2="0" y2="0"><stop offset=".000" stop-color="#820000"/><stop offset=".019" stop-color="#860000"/><stop offset=".066" stop-color="#e20c00"/><stop offset=".084" stop-color="#ff1400"/><stop offset=".111" stop-color="#ff4d00"/><stop offset=".166" stop-color="#ffa800"/><stop offset=".231" stop-color="#feff01"/><stop offset=".322" stop-color="#74fe8c"/><stop offset=".364" stop-color="#28fad8"/><stop offset=".389" stop-color="#00f8ff"/><stop offset=".489" stop-color="#0081ff"/><stop offset=".579" stop-color="#003dff"/><stop offset=".617" stop-color="#012bfd"/><stop offset=".740" stop-color="#0b25dc"/><stop offset=".875" stop-color="#1127b5"/><stop offset="1.000" stop-color="#1428a1"/></linearGradient>
<linearGradient id="h116" x1="0" y1="1" x2="0" y2="0"><stop offset=".000" stop-color="#820000"/><stop offset=".018" stop-color="#870000"/><stop offset=".061" stop-color="#de0c00"/><stop offset=".079" stop-color="#fe1000"/><stop offset=".111" stop-color="#ff5300"/><stop offset=".166" stop-color="#ffad00"/><stop offset=".226" stop-color="#ffff00"/><stop offset=".317" stop-color="#75fe8b"/><stop offset=".362" stop-color="#24fadb"/><stop offset=".384" stop-color="#00f8ff"/><stop offset=".484" stop-color="#0081ff"/><stop offset=".574" stop-color="#003dff"/><stop offset=".609" stop-color="#012bfd"/><stop offset=".732" stop-color="#0b24dd"/><stop offset=".865" stop-color="#1127b6"/><stop offset="1.000" stop-color="#1529a0"/></linearGradient>
<linearGradient id="h117" x1="0" y1="1" x2="0" y2="0"><stop offset=".000" stop-color="#820000"/><stop offset=".015" stop-color="#860000"/><stop offset=".049" stop-color="#cc0900"/><stop offset=".076" stop-color="#fe1000"/><stop offset=".111" stop-color="#ff5900"/><stop offset=".166" stop-color="#ffb200"/><stop offset=".224" stop-color="#fdff02"/><stop offset=".314" stop-color="#71fe8e"/><stop offset=".362" stop-color="#1cfae4"/><stop offset=".379" stop-color="#00f8ff"/><stop offset=".482" stop-color="#007eff"/><stop offset=".572" stop-color="#003bff"/><stop offset=".604" stop-color="#012bfd"/><stop offset=".727" stop-color="#0b25dc"/><stop offset=".857" stop-color="#1127b5"/><stop offset="1.000" stop-color="#15299f"/></linearGradient>
<linearGradient id="h118" x1="0" y1="1" x2="0" y2="0"><stop offset=".000" stop-color="#820000"/><stop offset=".013" stop-color="#850000"/><stop offset=".036" stop-color="#ba0700"/><stop offset=".074" stop-color="#ff1000"/><stop offset=".109" stop-color="#ff5b00"/><stop offset=".166" stop-color="#ffb800"/><stop offset=".219" stop-color="#feff01"/><stop offset=".309" stop-color="#72fe8e"/><stop offset=".359" stop-color="#17f9e8"/><stop offset=".374" stop-color="#00f8ff"/><stop offset=".477" stop-color="#007eff"/><stop offset=".567" stop-color="#003bff"/><stop offset=".599" stop-color="#012bfd"/><stop offset=".719" stop-color="#0b25dc"/><stop offset=".842" stop-color="#1127b7"/><stop offset="1.000" stop-color="#15299e"/></linearGradient>
<linearGradient id="h119" x1="0" y1="1" x2="0" y2="0"><stop offset=".000" stop-color="#820000"/><stop offset=".011" stop-color="#870000"/><stop offset=".034" stop-color="#ba0700"/><stop offset=".071" stop-color="#ff1100"/><stop offset=".109" stop-color="#ff6200"/><stop offset=".166" stop-color="#ffbe00"/><stop offset=".214" stop-color="#ffff00"/><stop offset=".304" stop-color="#73fe8d"/><stop offset=".359" stop-color="#0ff9f0"/><stop offset=".369" stop-color="#00f7ff"/><stop offset=".472" stop-color="#007dff"/><stop offset=".564" stop-color="#0039ff"/><stop offset=".594" stop-color="#012bfc"/><stop offset=".712" stop-color="#0b25dc"/><stop offset=".830" stop-color="#1127b8"/><stop offset="1.000" stop-color="#15299e"/></linearGradient>
<linearGradient id="h120" x1="0" y1="1" x2="0" y2="0"><stop offset=".000" stop-color="#820000"/><stop offset=".009" stop-color="#860000"/><stop offset=".031" stop-color="#ba0700"/><stop offset=".069" stop-color="#ff1200"/><stop offset=".109" stop-color="#ff6900"/><stop offset=".174" stop-color="#ffce00"/><stop offset=".211" stop-color="#fcff03"/><stop offset=".299" stop-color="#74fe8c"/><stop offset=".359" stop-color="#06f8f9"/><stop offset=".367" stop-color="#00f4ff"/><stop offset=".467" stop-color="#007dff"/><stop offset=".559" stop-color="#0038ff"/><stop offset=".587" stop-color="#012bfd"/><stop offset=".704" stop-color="#0b25dc"/><stop offset=".815" stop-color="#1127ba"/><stop offset=".985" stop-color="#15299f"/><stop offset="1.000" stop-color="#15299d"/></linearGradient>
<linearGradient id="h121" x1="0" y1="1" x2="0" y2="0"><stop offset=".000" stop-color="#820000"/><stop offset=".006" stop-color="#860000"/><stop offset=".030" stop-color="#be0700"/><stop offset=".064" stop-color="#fd1000"/><stop offset=".111" stop-color="#ff7400"/><stop offset=".184" stop-color="#ffe200"/><stop offset=".206" stop-color="#fdff02"/><stop offset=".297" stop-color="#6ffe91"/><stop offset=".357" stop-color="#02f8fd"/><stop offset=".464" stop-color="#007aff"/><stop offset=".557" stop-color="#0036ff"/><stop offset=".582" stop-color="#012bfc"/><stop offset=".697" stop-color="#0b25dc"/><stop offset=".805" stop-color="#1127ba"/><stop offset=".970" stop-color="#1529a0"/><stop offset="1.000" stop-color="#15299c"/></linearGradient>
<linearGradient id="h122" x1="0" y1="1" x2="0" y2="0"><stop offset=".000" stop-color="#820000"/><stop offset=".005" stop-color="#880100"/><stop offset=".029" stop-color="#c10800"/><stop offset=".061" stop-color="#ff1000"/><stop offset=".109" stop-color="#ff7700"/><stop offset=".184" stop-color="#ffe800"/><stop offset=".201" stop-color="#feff01"/><stop offset=".267" stop-color="#98ff68"/><stop offset=".297" stop-color="#66fe9a"/><stop offset=".352" stop-color="#00f8ff"/><stop offset=".457" stop-color="#007cff"/><stop offset=".549" stop-color="#0037ff"/><stop offset=".577" stop-color="#012bfc"/><stop offset=".692" stop-color="#0b25db"/><stop offset=".800" stop-color="#1127b9"/><stop offset=".965" stop-color="#15299f"/><stop offset="1.000" stop-color="#15299b"/></linearGradient>
<linearGradient id="h123" x1="0" y1="1" x2="0" y2="0"><stop offset=".000" stop-color="#820000"/><stop offset=".002" stop-color="#840000"/><stop offset=".006" stop-color="#920200"/><stop offset=".030" stop-color="#ca0900"/><stop offset=".059" stop-color="#ff1200"/><stop offset=".109" stop-color="#ff7e00"/><stop offset=".186" stop-color="#fff200"/><stop offset=".196" stop-color="#feff01"/><stop offset=".257" stop-color="#9fff61"/><stop offset=".289" stop-color="#6afe96"/><stop offset=".347" stop-color="#00f7ff"/><stop offset=".449" stop-color="#007dff"/><stop offset=".542" stop-color="#0038ff"/><stop offset=".569" stop-color="#012bfc"/><stop offset=".684" stop-color="#0b25db"/><stop offset=".795" stop-color="#1127b8"/><stop offset=".960" stop-color="#15299f"/><stop offset="1.000" stop-color="#15299a"/></linearGradient>
<linearGradient id="h124" x1="0" y1="1" x2="0" y2="0"><stop offset=".000" stop-color="#820000"/><stop offset=".002" stop-color="#840000"/><stop offset=".004" stop-color="#920200"/><stop offset=".029" stop-color="#cd0a00"/><stop offset=".056" stop-color="#ff1400"/><stop offset=".109" stop-color="#ff8600"/><stop offset=".189" stop-color="#fffc00"/><stop offset=".199" stop-color="#f2ff0d"/><stop offset=".259" stop-color="#93ff6d"/><stop offset=".289" stop-color="#60fda0"/><stop offset=".342" stop-color="#00f7ff"/><stop offset=".442" stop-color="#007fff"/><stop offset=".534" stop-color="#0038ff"/><stop offset=".562" stop-color="#012bfc"/><stop offset=".677" stop-color="#0b25da"/><stop offset=".790" stop-color="#1127b7"/><stop offset=".957" stop-color="#15299e"/><stop offset="1.000" stop-color="#16299a"/></linearGradient>
<linearGradient id="h125" x1="0" y1="1" x2="0" y2="0"><stop offset=".000" stop-color="#820000"/><stop offset=".002" stop-color="#840000"/><stop offset=".004" stop-color="#980300"/><stop offset=".029" stop-color="#d40a00"/><stop offset=".051" stop-color="#ff1000"/><stop offset=".106" stop-color="#ff8900"/><stop offset=".184" stop-color="#fffc00"/><stop offset=".199" stop-color="#e9ff16"/><stop offset=".259" stop-color="#8bff75"/><stop offset=".337" stop-color="#00f6ff"/><stop offset=".429" stop-color="#0085ff"/><stop offset=".512" stop-color="#0043ff"/><stop offset=".552" stop-color="#012cfe"/><stop offset=".669" stop-color="#0c25da"/><stop offset=".785" stop-color="#1127b6"/><stop offset=".955" stop-color="#15299d"/><stop offset="1.000" stop-color="#162999"/></linearGradient>
<linearGradient id="h126" x1="0" y1="1" x2="0" y2="0"><stop offset=".000" stop-color="#820000"/><stop offset=".002" stop-color="#840000"/><stop offset=".004" stop-color="#9f0400"/><stop offset=".029" stop-color="#db0b00"/><stop offset=".049" stop-color="#ff1300"/><stop offset=".106" stop-color="#ff9100"/><stop offset=".181" stop-color="#feff01"/><stop offset=".246" stop-color="#94ff6c"/><stop offset=".279" stop-color="#5dfda3"/><stop offset=".329" stop-color="#00f8ff"/><stop offset=".399" stop-color="#00a0ff"/><stop offset=".447" stop-color="#006fff"/><stop offset=".539" stop-color="#002dff"/><stop offset=".657" stop-color="#0b25db"/><stop offset=".775" stop-color="#1127b6"/><stop offset=".947" stop-color="#15299d"/><stop offset="1.000" stop-color="#162998"/></linearGradient>
<linearGradient id="h127" x1="0" y1="1" x2="0" y2="0"><stop offset=".000" stop-color="#820000"/><stop offset=".002" stop-color="#840000"/><stop offset=".004" stop-color="#a60400"/><stop offset=".029" stop-color="#e20c00"/><stop offset=".045" stop-color="#ff1300"/><stop offset=".104" stop-color="#ff9400"/><stop offset=".174" stop-color="#fffd00"/><stop offset=".252" stop-color="#84ff7c"/><stop offset=".324" stop-color="#00f7ff"/><stop offset=".377" stop-color="#00b2ff"/><stop offset=".434" stop-color="#0074ff"/><stop offset=".527" stop-color="#0030ff"/><stop offset=".642" stop-color="#0b24de"/><stop offset=".760" stop-color="#1127b7"/><stop offset=".932" stop-color="#15299d"/><stop offset="1.000" stop-color="#162997"/></linearGradient>
<linearGradient id="h128" x1="0" y1="1" x2="0" y2="0"><stop offset=".000" stop-color="#820000"/><stop offset=".001" stop-color="#840000"/><stop offset=".002" stop-color="#880100"/><stop offset=".004" stop-color="#ad0500"/><stop offset=".029" stop-color="#e90d00"/><stop offset=".041" stop-color="#ff1400"/><stop offset=".104" stop-color="#ff9c00"/><stop offset=".169" stop-color="#fffe00"/><stop offset=".244" stop-color="#85ff7b"/><stop offset=".317" stop-color="#01f8fe"/><stop offset=".372" stop-color="#00afff"/><stop offset=".427" stop-color="#0074ff"/><stop offset=".517" stop-color="#0031ff"/><stop offset=".549" stop-color="#032af7"/><stop offset=".637" stop-color="#0b25dc"/><stop offset=".752" stop-color="#1127b6"/><stop offset=".927" stop-color="#15299d"/><stop offset="1.000" stop-color="#162996"/></linearGradient>
<linearGradient id="h129" x1="0" y1="1" x2="0" y2="0"><stop offset=".000" stop-color="#820000"/><stop offset=".001" stop-color="#840000"/><stop offset=".002" stop-color="#900200"/><stop offset=".004" stop-color="#b50600"/><stop offset=".029" stop-color="#f10e00"/><stop offset=".038" stop-color="#ff1400"/><stop offset=".101" stop-color="#ffa000"/><stop offset=".164" stop-color="#feff01"/><stop offset=".257" stop-color="#63fd9d"/><stop offset=".312" stop-color="#00f6ff"/><stop offset=".367" stop-color="#00acff"/><stop offset=".422" stop-color="#0072ff"/><stop offset=".512" stop-color="#002fff"/><stop offset=".627" stop-color="#0b24dd"/><stop offset=".737" stop-color="#1127b7"/><stop offset=".910" stop-color="#15299d"/><stop offset="1.000" stop-color="#162996"/></linearGradient>
<linearGradient id="h130" x1="0" y1="1" x2="0" y2="0"><stop offset=".000" stop-color="#820000"/><stop offset=".001" stop-color="#840000"/><stop offset=".002" stop-color="#980300"/><stop offset=".004" stop-color="#bd0700"/><stop offset=".029" stop-color="#f90f00"/><stop offset=".035" stop-color="#ff1800"/><stop offset=".096" stop-color="#ff9f00"/><stop offset=".159" stop-color="#fdff02"/><stop offset=".252" stop-color="#5ffda1"/><stop offset=".304" stop-color="#00f7ff"/><stop offset=".364" stop-color="#00a6ff"/><stop offset=".414" stop-color="#0072ff"/><stop offset=".504" stop-color="#002fff"/><stop offset=".617" stop-color="#0b24dd"/><stop offset=".717" stop-color="#1127ba"/><stop offset=".877" stop-color="#15299f"/><stop offset="1.000" stop-color="#162995"/></linearGradient>
<linearGradient id="h131" x1="0" y1="1" x2="0" y2="0"><stop offset=".000" stop-color="#820000"/><stop offset=".001" stop-color="#840000"/><stop offset=".002" stop-color="#a10400"/><stop offset=".004" stop-color="#c60900"/><stop offset=".028" stop-color="#ff1100"/><stop offset=".086" stop-color="#ff9500"/><stop offset=".114" stop-color="#ffc600"/><stop offset=".151" stop-color="#ffff00"/><stop offset=".254" stop-color="#4bfcb4"/><stop offset=".297" stop-color="#00f7ff"/><stop offset=".362" stop-color="#009fff"/><stop offset=".409" stop-color="#006eff"/><stop offset=".499" stop-color="#002cff"/><stop offset=".609" stop-color="#0b25dc"/><stop offset=".702" stop-color="#1027ba"/><stop offset=".852" stop-color="#1529a0"/><stop offset="1.000" stop-color="#162994"/></linearGradient>
<linearGradient id="h132" x1="0" y1="1" x2="0" y2="0"><stop offset=".000" stop-color="#830000"/><stop offset=".001" stop-color="#860000"/><stop offset=".004" stop-color="#d00a00"/><stop offset=".023" stop-color="#ff1100"/><stop offset=".074" stop-color="#ff8700"/><stop offset=".111" stop-color="#ffcd00"/><stop offset=".144" stop-color="#ffff00"/><stop offset=".231" stop-color="#65fe9b"/><stop offset=".287" stop-color="#01f8fe"/><stop offset=".362" stop-color="#0093ff"/><stop offset=".412" stop-color="#0064ff"/><stop offset=".492" stop-color="#002cfe"/><stop offset=".594" stop-color="#0b24dd"/><stop offset=".687" stop-color="#1027bb"/><stop offset=".827" stop-color="#1428a1"/><stop offset="1.000" stop-color="#172993"/></linearGradient>
<linearGradient id="h133" x1="0" y1="1" x2="0" y2="0"><stop offset=".000" stop-color="#830000"/><stop offset=".000" stop-color="#840000"/><stop offset=".001" stop-color="#910200"/><stop offset=".004" stop-color="#db0b00"/><stop offset=".019" stop-color="#ff1300"/><stop offset=".059" stop-color="#ff7300"/><stop offset=".109" stop-color="#ffd500"/><stop offset=".136" stop-color="#fffe00"/><stop offset=".199" stop-color="#91ff6e"/><stop offset=".279" stop-color="#00f7ff"/><stop offset=".357" stop-color="#008dff"/><stop offset=".432" stop-color="#004dff"/><stop offset=".484" stop-color="#012bfd"/><stop offset=".584" stop-color="#0b24dd"/><stop offset=".677" stop-color="#1127ba"/><stop offset=".820" stop-color="#1529a0"/><stop offset="1.000" stop-color="#172993"/></linearGradient>
<linearGradient id="h134" x1="0" y1="1" x2="0" y2="0"><stop offset=".000" stop-color="#830000"/><stop offset=".000" stop-color="#840000"/><stop offset=".001" stop-color="#9b0300"/><stop offset=".004" stop-color="#e60d00"/><stop offset=".014" stop-color="#ff1000"/><stop offset=".033" stop-color="#ff4300"/><stop offset=".074" stop-color="#ff9e00"/><stop offset=".111" stop-color="#ffe400"/><stop offset=".129" stop-color="#ffff00"/><stop offset=".189" stop-color="#94ff6c"/><stop offset=".216" stop-color="#60fda0"/><stop offset=".269" stop-color="#00f7ff"/><stop offset=".354" stop-color="#0084ff"/><stop offset=".452" stop-color="#0037ff"/><stop offset=".477" stop-color="#012bfc"/><stop offset=".572" stop-color="#0b24dd"/><stop offset=".664" stop-color="#1127b9"/><stop offset=".810" stop-color="#15299f"/><stop offset="1.000" stop-color="#172992"/></linearGradient>
<linearGradient id="h135" x1="0" y1="1" x2="0" y2="0"><stop offset=".000" stop-color="#830000"/><stop offset=".000" stop-color="#840000"/><stop offset=".004" stop-color="#f00e00"/><stop offset=".010" stop-color="#ff1200"/><stop offset=".029" stop-color="#ff4700"/><stop offset=".066" stop-color="#ff9b00"/><stop offset=".111" stop-color="#fff000"/><stop offset=".121" stop-color="#ffff00"/><stop offset=".184" stop-color="#8eff72"/><stop offset=".252" stop-color="#0df9f2"/><stop offset=".259" stop-color="#00f8ff"/><stop offset=".349" stop-color="#007fff"/><stop offset=".452" stop-color="#0030ff"/><stop offset=".534" stop-color="#0925e7"/><stop offset=".652" stop-color="#1127b9"/><stop offset=".800" stop-color="#15299f"/><stop offset="1.000" stop-color="#172a91"/></linearGradient>
<linearGradient id="h136" x1="0" y1="1" x2="0" y2="0"><stop offset=".000" stop-color="#830000"/><stop offset=".000" stop-color="#840000"/><stop offset=".000" stop-color="#8c0100"/><stop offset=".004" stop-color="#fb0f00"/><stop offset=".011" stop-color="#ff2200"/><stop offset=".029" stop-color="#ff5400"/><stop offset=".061" stop-color="#ff9d00"/><stop offset=".111" stop-color="#fffb00"/><stop offset=".119" stop-color="#f6ff09"/><stop offset=".181" stop-color="#85ff7b"/><stop offset=".241" stop-color="#0ff9f0"/><stop offset=".252" stop-color="#00f6ff"/><stop offset=".344" stop-color="#007aff"/><stop offset=".444" stop-color="#002eff"/><stop offset=".549" stop-color="#0b24dd"/><stop offset=".639" stop-color="#1127b9"/><stop offset=".787" stop-color="#15299e"/><stop offset="1.000" stop-color="#172a91"/></linearGradient>
<linearGradient id="h137" x1="0" y1="1" x2="0" y2="0"><stop offset=".000" stop-color="#830000"/><stop offset=".000" stop-color="#840000"/><stop offset=".000" stop-color="#960200"/><stop offset=".002" stop-color="#e00c00"/><stop offset=".004" stop-color="#ff1700"/><stop offset=".026" stop-color="#ff5a00"/><stop offset=".054" stop-color="#ff9900"/><stop offset=".106" stop-color="#fffe00"/><stop offset=".189" stop-color="#66fe9a"/><stop offset=".239" stop-color="#04f8fb"/><stop offset=".254" stop-color="#00e6ff"/><stop offset=".337" stop-color="#0079ff"/><stop offset=".427" stop-color="#0033ff"/><stop offset=".449" stop-color="#022bfb"/><stop offset=".539" stop-color="#0b25dc"/><stop offset=".629" stop-color="#1127b8"/><stop offset=".775" stop-color="#15299e"/><stop offset="1.000" stop-color="#172a90"/></linearGradient>
<linearGradient id="h138" x1="0" y1="1" x2="0" y2="0"><stop offset=".000" stop-color="#830000"/><stop offset=".000" stop-color="#840000"/><stop offset=".000" stop-color="#a00400"/><stop offset=".002" stop-color="#ea0d00"/><stop offset=".004" stop-color="#ff2400"/><stop offset=".026" stop-color="#ff6700"/><stop offset=".051" stop-color="#ff9f00"/><stop offset=".101" stop-color="#fdff02"/><stop offset=".184" stop-color="#60fda0"/><stop offset=".231" stop-color="#01f8fe"/><stop offset=".327" stop-color="#007bff"/><stop offset=".397" stop-color="#0041ff"/><stop offset=".434" stop-color="#012bfd"/><stop offset=".527" stop-color="#0b24dd"/><stop offset=".619" stop-color="#1127b8"/><stop offset=".762" stop-color="#15299e"/><stop offset="1.000" stop-color="#172a90"/></linearGradient>
<linearGradient id="h139" x1="0" y1="1" x2="0" y2="0"><stop offset=".000" stop-color="#830000"/><stop offset=".000" stop-color="#840000"/><stop offset=".002" stop-color="#f40f00"/><stop offset=".004" stop-color="#ff3000"/><stop offset=".026" stop-color="#ff7300"/><stop offset=".059" stop-color="#ffb900"/><stop offset=".094" stop-color="#fffd00"/><stop offset=".179" stop-color="#59fda6"/><stop offset=".224" stop-color="#00f7ff"/><stop offset=".317" stop-color="#007cff"/><stop offset=".377" stop-color="#0048ff"/><stop offset=".422" stop-color="#012cfd"/><stop offset=".517" stop-color="#0b24dd"/><stop offset=".609" stop-color="#1127b7"/><stop offset=".747" stop-color="#15299e"/><stop offset="1.000" stop-color="#172a8f"/></linearGradient>
<linearGradient id="h140" x1="0" y1="1" x2="0" y2="0"><stop offset=".000" stop-color="#830000"/><stop offset=".000" stop-color="#840000"/><stop offset=".000" stop-color="#b50600"/><stop offset=".002" stop-color="#ff1000"/><stop offset=".004" stop-color="#ff3d00"/><stop offset=".026" stop-color="#ff8000"/><stop offset=".079" stop-color="#ffeb00"/><stop offset=".089" stop-color="#fffe00"/><stop offset=".114" stop-color="#c9ff36"/><stop offset=".161" stop-color="#6dfe92"/><stop offset=".216" stop-color="#00f6ff"/><stop offset=".304" stop-color="#0080ff"/><stop offset=".369" stop-color="#0046ff"/><stop offset=".412" stop-color="#012cfd"/><stop offset=".507" stop-color="#0b24dd"/><stop offset=".599" stop-color="#1127b7"/><stop offset=".732" stop-color="#15299e"/><stop offset="1.000" stop-color="#172a8f"/></linearGradient>
<linearGradient id="h141" x1="0" y1="1" x2="0" y2="0"><stop offset=".000" stop-color="#830000"/><stop offset=".000" stop-color="#840000"/><stop offset=".000" stop-color="#8d0100"/><stop offset=".000" stop-color="#bf0800"/><stop offset=".001" stop-color="#e40d00"/><stop offset=".002" stop-color="#ff1d00"/><stop offset=".004" stop-color="#ff4a00"/><stop offset=".026" stop-color="#ff8c00"/><stop offset=".084" stop-color="#feff01"/><stop offset=".111" stop-color="#c0ff3f"/><stop offset=".154" stop-color="#6efe92"/><stop offset=".206" stop-color="#01f8fe"/><stop offset=".279" stop-color="#0094ff"/><stop offset=".327" stop-color="#0061ff"/><stop offset=".397" stop-color="#002cff"/><stop offset=".497" stop-color="#0b24dd"/><stop offset=".587" stop-color="#1127b7"/><stop offset=".712" stop-color="#15299f"/><stop offset=".980" stop-color="#172a8f"/><stop offset="1.000" stop-color="#172a8e"/></linearGradient>
<linearGradient id="h142" x1="0" y1="1" x2="0" y2="0"><stop offset=".000" stop-color="#830000"/><stop offset=".000" stop-color="#840000"/><stop offset=".000" stop-color="#970300"/><stop offset=".000" stop-color="#c90900"/><stop offset=".001" stop-color="#ef0e00"/><stop offset=".002" stop-color="#ff2900"/><stop offset=".004" stop-color="#ff5700"/><stop offset=".025" stop-color="#ff9400"/><stop offset=".076" stop-color="#fffc00"/><stop offset=".089" stop-color="#e4ff1b"/><stop offset=".111" stop-color="#b2ff4d"/><stop offset=".146" stop-color="#6efe92"/><stop offset=".191" stop-color="#0ef9f1"/><stop offset=".199" stop-color="#00f8ff"/><stop offset=".252" stop-color="#00abff"/><stop offset=".302" stop-color="#0070ff"/><stop offset=".367" stop-color="#003aff"/><stop offset=".394" stop-color="#012bfc"/><stop offset=".487" stop-color="#0b25dc"/><stop offset=".574" stop-color="#1127b7"/><stop offset=".697" stop-color="#15299f"/><stop offset=".957" stop-color="#172a8f"/><stop offset="1.000" stop-color="#172a8e"/></linearGradient>
<linearGradient id="h143" x1="0" y1="1" x2="0" y2="0"><stop offset=".000" stop-color="#830000"/><stop offset=".000" stop-color="#840000"/><stop offset=".000" stop-color="#a20400"/><stop offset=".000" stop-color="#d40a00"/><stop offset=".001" stop-color="#f90f00"/><stop offset=".002" stop-color="#ff3600"/><stop offset=".004" stop-color="#ff6300"/><stop offset=".025" stop-color="#ffa000"/><stop offset=".071" stop-color="#fffd00"/><stop offset=".109" stop-color="#aaff56"/><stop offset=".139" stop-color="#6ffe91"/><stop offset=".181" stop-color="#12f9ed"/><stop offset=".191" stop-color="#00f7ff"/><stop offset=".246" stop-color="#00a6ff"/><stop offset=".292" stop-color="#0072ff"/><stop offset=".364" stop-color="#0034ff"/><stop offset=".387" stop-color="#012bfb"/><stop offset=".474" stop-color="#0b24dd"/><stop offset=".564" stop-color="#1127b7"/><stop offset=".687" stop-color="#15299e"/><stop offset=".950" stop-color="#172a8f"/><stop offset="1.000" stop-color="#172a8e"/></linearGradient>
<linearGradient id="h144" x1="0" y1="1" x2="0" y2="0"><stop offset=".000" stop-color="#830000"/><stop offset=".000" stop-color="#840000"/><stop offset=".000" stop-color="#ac0500"/><stop offset=".000" stop-color="#de0c00"/><stop offset=".001" stop-color="#ff1500"/><stop offset=".004" stop-color="#ff7000"/><stop offset=".026" stop-color="#ffad00"/><stop offset=".066" stop-color="#ffff00"/><stop offset=".109" stop-color="#9cff64"/><stop offset=".134" stop-color="#6afe96"/><stop offset=".179" stop-color="#07f8f8"/><stop offset=".186" stop-color="#00f2ff"/><stop offset=".244" stop-color="#009eff"/><stop offset=".287" stop-color="#006eff"/><stop offset=".362" stop-color="#002fff"/><stop offset=".464" stop-color="#0b24dd"/><stop offset=".554" stop-color="#1127b7"/><stop offset=".677" stop-color="#15299e"/><stop offset=".940" stop-color="#172a8f"/><stop offset="1.000" stop-color="#172a8e"/></linearGradient>
<linearGradient id="h145" x1="0" y1="1" x2="0" y2="0"><stop offset=".000" stop-color="#830000"/><stop offset=".000" stop-color="#840000"/><stop offset=".000" stop-color="#e80d00"/><stop offset=".001" stop-color="#ff2100"/><stop offset=".004" stop-color="#ff7c00"/><stop offset=".026" stop-color="#ffb800"/><stop offset=".061" stop-color="#feff01"/><stop offset=".109" stop-color="#8fff71"/><stop offset=".174" stop-color="#02f8fd"/><stop offset=".241" stop-color="#0096ff"/><stop offset=".284" stop-color="#0068ff"/><stop offset=".357" stop-color="#002cff"/><stop offset=".454" stop-color="#0b24dd"/><stop offset=".544" stop-color="#1127b6"/><stop offset=".664" stop-color="#15299e"/><stop offset=".925" stop-color="#172a8f"/><stop offset="1.000" stop-color="#172a8d"/></linearGradient>
<linearGradient id="h146" x1="0" y1="1" x2="0" y2="0"><stop offset=".000" stop-color="#830000"/><stop offset=".000" stop-color="#840000"/><stop offset=".000" stop-color="#c00800"/><stop offset=".000" stop-color="#f20e00"/><stop offset=".001" stop-color="#ff2e00"/><stop offset=".004" stop-color="#ff8800"/><stop offset=".028" stop-color="#ffc600"/><stop offset=".056" stop-color="#fdff02"/><stop offset=".109" stop-color="#82ff7e"/><stop offset=".166" stop-color="#01f8fe"/><stop offset=".239" stop-color="#008eff"/><stop offset=".307" stop-color="#004cff"/><stop offset=".352" stop-color="#012cfd"/><stop offset=".444" stop-color="#0b24de"/><stop offset=".532" stop-color="#1127b7"/><stop offset=".652" stop-color="#15299e"/><stop offset=".907" stop-color="#172a8f"/><stop offset="1.000" stop-color="#182a8d"/></linearGradient>
<linearGradient id="h147" x1="0" y1="1" x2="0" y2="0"><stop offset=".000" stop-color="#840000"/><stop offset=".000" stop-color="#840000"/><stop offset=".000" stop-color="#ca0900"/><stop offset=".000" stop-color="#fc1000"/><stop offset=".004" stop-color="#ff9300"/><stop offset=".028" stop-color="#ffd000"/><stop offset=".051" stop-color="#fcff03"/><stop offset=".139" stop-color="#2efbd1"/><stop offset=".159" stop-color="#02f8fd"/><stop offset=".236" stop-color="#0086ff"/><stop offset=".324" stop-color="#0037ff"/><stop offset=".344" stop-color="#012bfd"/><stop offset=".434" stop-color="#0b24de"/><stop offset=".522" stop-color="#1127b7"/><stop offset=".642" stop-color="#15299e"/><stop offset=".895" stop-color="#172a8f"/><stop offset="1.000" stop-color="#182a8d"/></linearGradient>
<linearGradient id="h148" x1="0" y1="1" x2="0" y2="0"><stop offset=".000" stop-color="#840000"/><stop offset=".000" stop-color="#8d0100"/><stop offset=".000" stop-color="#d30a00"/><stop offset=".000" stop-color="#ff1800"/><stop offset=".004" stop-color="#ff9d00"/><stop offset=".028" stop-color="#ffda00"/><stop offset=".046" stop-color="#fcff03"/><stop offset=".124" stop-color="#41fcbe"/><stop offset=".154" stop-color="#00f7ff"/><stop offset=".226" stop-color="#0088ff"/><stop offset=".309" stop-color="#003dff"/><stop offset=".337" stop-color="#012bfd"/><stop offset=".427" stop-color="#0b24dd"/><stop offset=".512" stop-color="#1127b7"/><stop offset=".632" stop-color="#15299d"/><stop offset=".882" stop-color="#172a8f"/><stop offset="1.000" stop-color="#182a8d"/></linearGradient>
<linearGradient id="h149" x1="0" y1="1" x2="0" y2="0"><stop offset=".000" stop-color="#840000"/><stop offset=".000" stop-color="#960200"/><stop offset=".000" stop-color="#dc0b00"/><stop offset=".000" stop-color="#ff2300"/><stop offset=".004" stop-color="#ffa700"/><stop offset=".028" stop-color="#ffe400"/><stop offset=".041" stop-color="#fcff03"/><stop offset=".099" stop-color="#6ffe91"/><stop offset=".146" stop-color="#01f8fe"/><stop offset=".206" stop-color="#009aff"/><stop offset=".236" stop-color="#0075ff"/><stop offset=".324" stop-color="#002cff"/><stop offset=".419" stop-color="#0b25dc"/><stop offset=".507" stop-color="#1127b6"/><stop offset=".629" stop-color="#15299c"/><stop offset=".890" stop-color="#172a8e"/><stop offset="1.000" stop-color="#182a8c"/></linearGradient>
<linearGradient id="h150" x1="0" y1="1" x2="0" y2="0"><stop offset=".000" stop-color="#840000"/><stop offset=".000" stop-color="#9f0400"/><stop offset=".000" stop-color="#e50d00"/><stop offset=".000" stop-color="#ff2e00"/><stop offset=".002" stop-color="#ff8800"/><stop offset=".004" stop-color="#ffb000"/><stop offset=".028" stop-color="#ffed00"/><stop offset=".036" stop-color="#feff01"/><stop offset=".094" stop-color="#6ffe91"/><stop offset=".111" stop-color="#41fcbf"/><stop offset=".141" stop-color="#00f6ff"/><stop offset=".189" stop-color="#00aaff"/><stop offset=".229" stop-color="#0075ff"/><stop offset=".317" stop-color="#002cff"/><stop offset=".409" stop-color="#0b24dd"/><stop offset=".497" stop-color="#1127b6"/><stop offset=".617" stop-color="#15299d"/><stop offset=".870" stop-color="#172a8e"/><stop offset="1.000" stop-color="#182a8c"/></linearGradient>
<linearGradient id="h151" x1="0" y1="1" x2="0" y2="0"><stop offset=".000" stop-color="#840000"/><stop offset=".000" stop-color="#a80500"/><stop offset=".000" stop-color="#ee0e00"/><stop offset=".000" stop-color="#ff3800"/><stop offset=".002" stop-color="#ff9100"/><stop offset=".004" stop-color="#ffb900"/><stop offset=".028" stop-color="#fff600"/><stop offset=".033" stop-color="#fcff03"/><stop offset=".089" stop-color="#70fe90"/><stop offset=".109" stop-color="#39fbc6"/><stop offset=".134" stop-color="#01f8fe"/><stop offset=".186" stop-color="#00a4ff"/><stop offset=".224" stop-color="#0073ff"/><stop offset=".309" stop-color="#002cff"/><stop offset=".402" stop-color="#0b24dd"/><stop offset=".492" stop-color="#1127b5"/><stop offset=".614" stop-color="#15299c"/><stop offset=".877" stop-color="#172a8e"/><stop offset="1.000" stop-color="#182a8c"/></linearGradient>
<linearGradient id="h152" x1="0" y1="1" x2="0" y2="0"><stop offset=".000" stop-color="#840000"/><stop offset=".000" stop-color="#b00600"/><stop offset=".000" stop-color="#f60f00"/><stop offset=".000" stop-color="#ff4200"/><stop offset=".004" stop-color="#ffc200"/><stop offset=".028" stop-color="#ffff00"/><stop offset=".084" stop-color="#72fe8e"/><stop offset=".109" stop-color="#2cfad3"/><stop offset=".129" stop-color="#00f8ff"/><stop offset=".181" stop-color="#00a2ff"/><stop offset=".219" stop-color="#0071ff"/><stop offset=".302" stop-color="#002cff"/><stop offset=".394" stop-color="#0b25dc"/><stop offset=".484" stop-color="#1127b5"/><stop offset=".607" stop-color="#15299c"/><stop offset=".870" stop-color="#172a8e"/><stop offset="1.000" stop-color="#182a8c"/></linearGradient>
<linearGradient id="h153" x1="0" y1="1" x2="0" y2="0"><stop offset=".000" stop-color="#840000"/><stop offset=".000" stop-color="#b80700"/><stop offset=".000" stop-color="#fd1000"/><stop offset=".000" stop-color="#ff4b00"/><stop offset=".004" stop-color="#ffca00"/><stop offset=".024" stop-color="#ffff00"/><stop offset=".066" stop-color="#94ff6c"/><stop offset=".089" stop-color="#56fda9"/><stop offset=".109" stop-color="#20fadf"/><stop offset=".124" stop-color="#00f7ff"/><stop offset=".179" stop-color="#009cff"/><stop offset=".216" stop-color="#006eff"/><stop offset=".294" stop-color="#002dff"/><stop offset=".387" stop-color="#0b25dc"/><stop offset=".477" stop-color="#1127b5"/><stop offset=".597" stop-color="#15299c"/><stop offset=".855" stop-color="#172a8e"/><stop offset="1.000" stop-color="#182a8c"/></linearGradient>
<linearGradient id="h154" x1="0" y1="1" x2="0" y2="0"><stop offset=".000" stop-color="#840000"/><stop offset=".000" stop-color="#bf0800"/><stop offset=".000" stop-color="#ff1700"/><stop offset=".000" stop-color="#ff5500"/><stop offset=".002" stop-color="#ffaa00"/><stop offset=".004" stop-color="#ffd200"/><stop offset=".020" stop-color="#fffe00"/><stop offset=".061" stop-color="#96ff6a"/><stop offset=".081" stop-color="#60fd9f"/><stop offset=".109" stop-color="#14f9eb"/><stop offset=".119" stop-color="#00f6ff"/><stop offset=".176" stop-color="#0098ff"/><stop offset=".214" stop-color="#006aff"/><stop offset=".289" stop-color="#002cff"/><stop offset=".379" stop-color="#0b25dc"/><stop offset=".472" stop-color="#1227b4"/><stop offset=".594" stop-color="#15299b"/><stop offset=".860" stop-color="#172a8e"/><stop offset="1.000" stop-color="#182a8c"/></linearGradient>
<linearGradient id="h155" x1="0" y1="1" x2="0" y2="0"><stop offset=".000" stop-color="#840000"/><stop offset=".000" stop-color="#c70900"/><stop offset=".000" stop-color="#ff2000"/><stop offset=".000" stop-color="#ff5e00"/><stop offset=".002" stop-color="#ffb200"/><stop offset=".004" stop-color="#ffda00"/><stop offset=".018" stop-color="#feff01"/><stop offset=".051" stop-color="#a4ff5b"/><stop offset=".074" stop-color="#6bfe95"/><stop offset=".106" stop-color="#0ef9f1"/><stop offset=".114" stop-color="#00f6ff"/><stop offset=".176" stop-color="#008fff"/><stop offset=".226" stop-color="#0058ff"/><stop offset=".287" stop-color="#012bfd"/><stop offset=".372" stop-color="#0b24dd"/><stop offset=".464" stop-color="#1127b4"/><stop offset=".587" stop-color="#15299b"/><stop offset=".847" stop-color="#172a8e"/><stop offset="1.000" stop-color="#182a8c"/></linearGradient>
<linearGradient id="h156" x1="0" y1="1" x2="0" y2="0"><stop offset=".000" stop-color="#880000"/><stop offset=".000" stop-color="#ce0a00"/><stop offset=".000" stop-color="#ff2900"/><stop offset=".000" stop-color="#ff6600"/><stop offset=".004" stop-color="#ffe200"/><stop offset=".015" stop-color="#fdff02"/><stop offset=".033" stop-color="#caff36"/><stop offset=".069" stop-color="#6efe92"/><stop offset=".106" stop-color="#03f8fc"/><stop offset=".176" stop-color="#0087ff"/><stop offset=".236" stop-color="#004aff"/><stop offset=".279" stop-color="#012cfe"/><stop offset=".367" stop-color="#0b25db"/><stop offset=".459" stop-color="#1227b3"/><stop offset=".582" stop-color="#15299a"/><stop offset=".845" stop-color="#172a8d"/><stop offset="1.000" stop-color="#182a8c"/></linearGradient>
<linearGradient id="h157" x1="0" y1="1" x2="0" y2="0"><stop offset=".000" stop-color="#8f0100"/><stop offset=".000" stop-color="#d50b00"/><stop offset=".000" stop-color="#ff3200"/><stop offset=".000" stop-color="#ff6f00"/><stop offset=".004" stop-color="#ffea00"/><stop offset=".013" stop-color="#fcff03"/><stop offset=".029" stop-color="#caff35"/><stop offset=".066" stop-color="#69fe97"/><stop offset=".101" stop-color="#04f8fb"/><stop offset=".116" stop-color="#00e0ff"/><stop offset=".176" stop-color="#0080ff"/><stop offset=".244" stop-color="#003fff"/><stop offset=".274" stop-color="#012bfd"/><stop offset=".359" stop-color="#0b25dc"/><stop offset=".452" stop-color="#1227b3"/><stop offset=".574" stop-color="#15299a"/><stop offset=".832" stop-color="#172a8e"/><stop offset="1.000" stop-color="#182a8c"/></linearGradient>
<linearGradient id="h158" x1="0" y1="1" x2="0" y2="0"><stop offset=".000" stop-color="#960200"/><stop offset=".000" stop-color="#dc0c00"/><stop offset=".000" stop-color="#ff3b00"/><stop offset=".000" stop-color="#ff7800"/><stop offset=".004" stop-color="#fff200"/><stop offset=".009" stop-color="#ffff00"/><stop offset=".026" stop-color="#c7ff38"/><stop offset=".061" stop-color="#6cfe94"/><stop offset=".099" stop-color="#00f7ff"/><stop offset=".161" stop-color="#008dff"/><stop offset=".216" stop-color="#0051ff"/><stop offset=".267" stop-color="#012cfd"/><stop offset=".349" stop-color="#0b24dd"/><stop offset=".442" stop-color="#1127b4"/><stop offset=".562" stop-color="#15299b"/><stop offset=".802" stop-color="#172a8e"/><stop offset="1.000" stop-color="#182a8b"/></linearGradient>
<linearGradient id="h159" x1="0" y1="1" x2="0" y2="0"><stop offset=".000" stop-color="#9e0300"/><stop offset=".000" stop-color="#e40c00"/><stop offset=".000" stop-color="#ff4400"/><stop offset=".000" stop-color="#ff8100"/><stop offset=".004" stop-color="#fffa00"/><stop offset=".008" stop-color="#f9ff06"/><stop offset=".026" stop-color="#bdff42"/><stop offset=".059" stop-color="#67fe99"/><stop offset=".094" stop-color="#02f8fd"/><stop offset=".134" stop-color="#00b0ff"/><stop offset=".171" stop-color="#0078ff"/><stop offset=".241" stop-color="#0037ff"/><stop offset=".264" stop-color="#012bfc"/><stop offset=".342" stop-color="#0b24de"/><stop offset=".429" stop-color="#1127b6"/><stop offset=".547" stop-color="#15299c"/><stop offset=".770" stop-color="#172a8e"/><stop offset="1.000" stop-color="#182a8b"/></linearGradient>
<linearGradient id="h160" x1="0" y1="1" x2="0" y2="0"><stop offset=".000" stop-color="#a60400"/><stop offset=".000" stop-color="#ec0d00"/><stop offset=".000" stop-color="#ff4e00"/><stop offset=".000" stop-color="#ff8a00"/><stop offset=".004" stop-color="#fcff03"/><stop offset=".026" stop-color="#b3ff4c"/><stop offset=".056" stop-color="#62fd9e"/><stop offset=".091" stop-color="#00f6ff"/><stop offset=".114" stop-color="#00c9ff"/><stop offset=".166" stop-color="#0077ff"/><stop offset=".236" stop-color="#0035ff"/><stop offset=".257" stop-color="#012bfc"/><stop offset=".337" stop-color="#0b24dd"/><stop offset=".422" stop-color="#1127b6"/><stop offset=".537" stop-color="#15299c"/><stop offset=".757" stop-color="#172a8e"/><stop offset="1.000" stop-color="#182a8b"/></linearGradient>
<linearGradient id="h161" x1="0" y1="1" x2="0" y2="0"><stop offset=".000" stop-color="#ad0500"/><stop offset=".000" stop-color="#f30f00"/><stop offset=".000" stop-color="#ff5700"/><stop offset=".000" stop-color="#ff9300"/><stop offset=".002" stop-color="#ffe300"/><stop offset=".004" stop-color="#f1ff0e"/><stop offset=".026" stop-color="#a9ff57"/><stop offset=".061" stop-color="#47fcb9"/><stop offset=".086" stop-color="#00f7ff"/><stop offset=".111" stop-color="#00c4ff"/><stop offset=".161" stop-color="#0076ff"/><stop offset=".234" stop-color="#0032ff"/><stop offset=".257" stop-color="#022af9"/><stop offset=".329" stop-color="#0b24dd"/><stop offset=".407" stop-color="#1127b8"/><stop offset=".519" stop-color="#15299d"/><stop offset=".722" stop-color="#172a8f"/><stop offset="1.000" stop-color="#182a8b"/></linearGradient>
<linearGradient id="h162" x1="0" y1="1" x2="0" y2="0"><stop offset=".000" stop-color="#b50600"/><stop offset=".000" stop-color="#fb1000"/><stop offset=".000" stop-color="#ff6100"/><stop offset=".000" stop-color="#ff9b00"/><stop offset=".002" stop-color="#ffeb00"/><stop offset=".004" stop-color="#e6ff19"/><stop offset=".026" stop-color="#9fff61"/><stop offset=".059" stop-color="#41fcbe"/><stop offset=".081" stop-color="#01f8fe"/><stop offset=".111" stop-color="#00baff"/><stop offset=".156" stop-color="#0076ff"/><stop offset=".229" stop-color="#0031ff"/><stop offset=".259" stop-color="#0329f6"/><stop offset=".322" stop-color="#0b24de"/><stop offset=".392" stop-color="#1027bb"/><stop offset=".502" stop-color="#15299f"/><stop offset=".689" stop-color="#172a90"/><stop offset="1.000" stop-color="#182a8b"/></linearGradient>
<linearGradient id="h163" x1="0" y1="1" x2="0" y2="0"><stop offset=".000" stop-color="#bd0700"/><stop offset=".000" stop-color="#ff1600"/><stop offset=".000" stop-color="#ff6b00"/><stop offset=".000" stop-color="#ffa400"/><stop offset=".002" stop-color="#fff400"/><stop offset=".004" stop-color="#dcff24"/><stop offset=".026" stop-color="#94ff6c"/><stop offset=".076" stop-color="#02f8fd"/><stop offset=".111" stop-color="#00b1ff"/><stop offset=".151" stop-color="#0075ff"/><stop offset=".219" stop-color="#0033ff"/><stop offset=".236" stop-color="#012bfc"/><stop offset=".314" stop-color="#0b24de"/><stop offset=".379" stop-color="#1027bd"/><stop offset=".489" stop-color="#1529a0"/><stop offset=".674" stop-color="#172a90"/><stop offset="1.000" stop-color="#182a8b"/></linearGradient>
<linearGradient id="h164" x1="0" y1="1" x2="0" y2="0"><stop offset=".000" stop-color="#c60900"/><stop offset=".000" stop-color="#ff1f00"/><stop offset=".000" stop-color="#ff7500"/><stop offset=".000" stop-color="#ffad00"/><stop offset=".002" stop-color="#fffc00"/><stop offset=".004" stop-color="#d1ff2e"/><stop offset=".026" stop-color="#8aff76"/><stop offset=".071" stop-color="#04f8fb"/><stop offset=".081" stop-color="#00e4ff"/><stop offset=".109" stop-color="#00abff"/><stop offset=".146" stop-color="#0074ff"/><stop offset=".209" stop-color="#0036ff"/><stop offset=".226" stop-color="#012bfd"/><stop offset=".309" stop-color="#0b24dd"/><stop offset=".377" stop-color="#1027bb"/><stop offset=".489" stop-color="#15299e"/><stop offset=".682" stop-color="#172a8f"/><stop offset="1.000" stop-color="#182a8b"/></linearGradient>
<linearGradient id="h165" x1="0" y1="1" x2="0" y2="0"><stop offset=".000" stop-color="#ce0a00"/><stop offset=".000" stop-color="#ff2900"/><stop offset=".000" stop-color="#ff7f00"/><stop offset=".000" stop-color="#ffb600"/><stop offset=".001" stop-color="#ffde00"/><stop offset=".002" stop-color="#f7ff08"/><stop offset=".004" stop-color="#c6ff39"/><stop offset=".046" stop-color="#3ffbc1"/><stop offset=".069" stop-color="#00f7ff"/><stop offset=".109" stop-color="#00a2ff"/><stop offset=".144" stop-color="#0070ff"/><stop offset=".204" stop-color="#0035ff"/><stop offset=".224" stop-color="#012bfb"/><stop offset=".302" stop-color="#0b24dd"/><stop offset=".372" stop-color="#1127ba"/><stop offset=".487" stop-color="#15299d"/><stop offset=".684" stop-color="#172a8f"/><stop offset="1.000" stop-color="#182a8b"/></linearGradient>
<linearGradient id="h166" x1="0" y1="1" x2="0" y2="0"><stop offset=".000" stop-color="#d60b00"/><stop offset=".000" stop-color="#ff3300"/><stop offset=".000" stop-color="#ff8800"/><stop offset=".000" stop-color="#ffbe00"/><stop offset=".001" stop-color="#ffe600"/><stop offset=".002" stop-color="#edff13"/><stop offset=".004" stop-color="#bbff44"/><stop offset=".051" stop-color="#23fadc"/><stop offset=".064" stop-color="#00f8ff"/><stop offset=".106" stop-color="#009dff"/><stop offset=".139" stop-color="#006fff"/><stop offset=".194" stop-color="#0038ff"/><stop offset=".214" stop-color="#012bfd"/><stop offset=".294" stop-color="#0b24dd"/><stop offset=".367" stop-color="#1127b9"/><stop offset=".484" stop-color="#15299d"/><stop offset=".689" stop-color="#172a8e"/><stop offset="1.000" stop-color="#182a8b"/></linearGradient>
<linearGradient id="h167" x1="0" y1="1" x2="0" y2="0"><stop offset=".000" stop-color="#de0c00"/><stop offset=".000" stop-color="#ff3d00"/><stop offset=".000" stop-color="#ff9100"/><stop offset=".000" stop-color="#ffc700"/><stop offset=".001" stop-color="#ffef00"/><stop offset=".002" stop-color="#e2ff1d"/><stop offset=".004" stop-color="#b1ff4f"/><stop offset=".045" stop-color="#29fad7"/><stop offset=".059" stop-color="#01f8fe"/><stop offset=".106" stop-color="#0094ff"/><stop offset=".141" stop-color="#0066ff"/><stop offset=".196" stop-color="#0031ff"/><stop offset=".221" stop-color="#0329f7"/><stop offset=".287" stop-color="#0b24de"/><stop offset=".362" stop-color="#1127b8"/><stop offset=".479" stop-color="#15299c"/><stop offset=".687" stop-color="#172a8e"/><stop offset="1.000" stop-color="#182a8b"/></linearGradient>
<linearGradient id="h168" x1="0" y1="1" x2="0" y2="0"><stop offset=".000" stop-color="#e60d00"/><stop offset=".000" stop-color="#ff4700"/><stop offset=".000" stop-color="#ff9a00"/><stop offset=".000" stop-color="#ffd000"/><stop offset=".001" stop-color="#fff700"/><stop offset=".002" stop-color="#d7ff28"/><stop offset=".004" stop-color="#a6ff59"/><stop offset=".020" stop-color="#6dfe93"/><stop offset=".051" stop-color="#0af9f5"/><stop offset=".056" stop-color="#00f5ff"/><stop offset=".106" stop-color="#008bff"/><stop offset=".164" stop-color="#0048ff"/><stop offset=".199" stop-color="#002cfe"/><stop offset=".282" stop-color="#0b24dd"/><stop offset=".357" stop-color="#1127b7"/><stop offset=".477" stop-color="#15299b"/><stop offset=".692" stop-color="#172a8e"/><stop offset="1.000" stop-color="#182a8b"/></linearGradient>
<linearGradient id="h169" x1="0" y1="1" x2="0" y2="0"><stop offset=".000" stop-color="#ee0e00"/><stop offset=".000" stop-color="#ff5100"/><stop offset=".000" stop-color="#ffa200"/><stop offset=".000" stop-color="#ffd800"/><stop offset=".001" stop-color="#feff01"/><stop offset=".004" stop-color="#9cff64"/><stop offset=".018" stop-color="#6afe96"/><stop offset=".043" stop-color="#17f9e8"/><stop offset=".051" stop-color="#00f6ff"/><stop offset=".104" stop-color="#0086ff"/><stop offset=".166" stop-color="#0040ff"/><stop offset=".194" stop-color="#012bfd"/><stop offset=".274" stop-color="#0b24dd"/><stop offset=".354" stop-color="#1127b5"/><stop offset=".477" stop-color="#15299a"/><stop offset=".702" stop-color="#172a8d"/><stop offset="1.000" stop-color="#182a8b"/></linearGradient>
<linearGradient id="h170" x1="0" y1="1" x2="0" y2="0"><stop offset=".000" stop-color="#f60f00"/><stop offset=".000" stop-color="#ff5a00"/><stop offset=".000" stop-color="#ffab00"/><stop offset=".000" stop-color="#ffe100"/><stop offset=".001" stop-color="#f4ff0b"/><stop offset=".004" stop-color="#92ff6e"/><stop offset=".026" stop-color="#3efbc1"/><stop offset=".046" stop-color="#00f8ff"/><stop offset=".104" stop-color="#007eff"/><stop offset=".171" stop-color="#0036ff"/><stop offset=".189" stop-color="#012bfd"/><stop offset=".267" stop-color="#0b24dd"/><stop offset=".349" stop-color="#1127b4"/><stop offset=".474" stop-color="#16299a"/><stop offset=".707" stop-color="#182a8d"/><stop offset="1.000" stop-color="#182a8b"/></linearGradient>
<linearGradient id="h171" x1="0" y1="1" x2="0" y2="0"><stop offset=".000" stop-color="#fd1000"/><stop offset=".000" stop-color="#ffb300"/><stop offset=".000" stop-color="#ffe900"/><stop offset=".001" stop-color="#eaff16"/><stop offset=".004" stop-color="#88ff78"/><stop offset=".025" stop-color="#36fbca"/><stop offset=".043" stop-color="#00f7ff"/><stop offset=".099" stop-color="#007fff"/><stop offset=".161" stop-color="#003aff"/><stop offset=".184" stop-color="#012bfc"/><stop offset=".262" stop-color="#0b25dc"/><stop offset=".344" stop-color="#1227b3"/><stop offset=".467" stop-color="#16299a"/><stop offset=".699" stop-color="#182a8d"/><stop offset="1.000" stop-color="#182a8b"/></linearGradient>
<linearGradient id="h172" x1="0" y1="1" x2="0" y2="0"><stop offset=".000" stop-color="#ff1700"/><stop offset=".000" stop-color="#ff6c00"/><stop offset=".000" stop-color="#ffbb00"/><stop offset=".000" stop-color="#fff000"/><stop offset=".001" stop-color="#e0ff1f"/><stop offset=".004" stop-color="#7eff82"/><stop offset=".025" stop-color="#2afad5"/><stop offset=".039" stop-color="#00f7ff"/><stop offset=".094" stop-color="#0081ff"/><stop offset=".129" stop-color="#0056ff"/><stop offset=".174" stop-color="#002cfe"/><stop offset=".257" stop-color="#0b25db"/><stop offset=".342" stop-color="#1227b2"/><stop offset=".467" stop-color="#162999"/><stop offset=".712" stop-color="#182a8d"/><stop offset="1.000" stop-color="#182a8b"/></linearGradient>
<linearGradient id="h173" x1="0" y1="1" x2="0" y2="0"><stop offset=".000" stop-color="#ff2000"/><stop offset=".000" stop-color="#ff7500"/><stop offset=".000" stop-color="#ffc300"/><stop offset=".000" stop-color="#fff800"/><stop offset=".001" stop-color="#d6ff29"/><stop offset=".004" stop-color="#73fe8d"/><stop offset=".025" stop-color="#1ffae0"/><stop offset=".035" stop-color="#00f8ff"/><stop offset=".086" stop-color="#0088ff"/><stop offset=".111" stop-color="#0063ff"/><stop offset=".169" stop-color="#002cfe"/><stop offset=".249" stop-color="#0b25dc"/><stop offset=".334" stop-color="#1227b3"/><stop offset=".454" stop-color="#162999"/><stop offset=".687" stop-color="#182a8d"/><stop offset="1.000" stop-color="#182a8b"/></linearGradient>
<linearGradient id="h174" x1="0" y1="1" x2="0" y2="0"><stop offset=".000" stop-color="#ff2800"/><stop offset=".000" stop-color="#ff7d00"/><stop offset=".000" stop-color="#ffca00"/><stop offset=".000" stop-color="#ffff00"/><stop offset=".004" stop-color="#67fe98"/><stop offset=".025" stop-color="#14f9eb"/><stop offset=".033" stop-color="#00f5ff"/><stop offset=".081" stop-color="#008bff"/><stop offset=".109" stop-color="#0061ff"/><stop offset=".164" stop-color="#002cfe"/><stop offset=".244" stop-color="#0b25dc"/><stop offset=".329" stop-color="#1227b2"/><stop offset=".447" stop-color="#16299a"/><stop offset=".677" stop-color="#182a8d"/><stop offset="1.000" stop-color="#182a8b"/></linearGradient>
<linearGradient id="h175" x1="0" y1="1" x2="0" y2="0"><stop offset=".000" stop-color="#ff3000"/><stop offset=".000" stop-color="#ff8500"/><stop offset=".000" stop-color="#ffd100"/><stop offset=".000" stop-color="#f6ff09"/><stop offset=".002" stop-color="#94ff6c"/><stop offset=".004" stop-color="#5dfda3"/><stop offset=".025" stop-color="#0af9f5"/><stop offset=".030" stop-color="#00f4ff"/><stop offset=".071" stop-color="#0098ff"/><stop offset=".096" stop-color="#006cff"/><stop offset=".151" stop-color="#0031ff"/><stop offset=".174" stop-color="#032af7"/><stop offset=".239" stop-color="#0b25db"/><stop offset=".324" stop-color="#1227b2"/><stop offset=".437" stop-color="#16299a"/><stop offset=".659" stop-color="#182a8d"/><stop offset="1.000" stop-color="#182a8b"/></linearGradient>
<linearGradient id="h176" x1="0" y1="1" x2="0" y2="0"><stop offset=".000" stop-color="#ff3700"/><stop offset=".000" stop-color="#ff8c00"/><stop offset=".000" stop-color="#ffd700"/><stop offset=".000" stop-color="#eeff11"/><stop offset=".002" stop-color="#8cff74"/><stop offset=".004" stop-color="#53fdac"/><stop offset=".025" stop-color="#01f8fe"/><stop offset=".064" stop-color="#00a0ff"/><stop offset=".091" stop-color="#006fff"/><stop offset=".124" stop-color="#0047ff"/><stop offset=".156" stop-color="#012bfd"/><stop offset=".234" stop-color="#0b25db"/><stop offset=".319" stop-color="#1227b2"/><stop offset=".429" stop-color="#15299a"/><stop offset=".649" stop-color="#182a8d"/><stop offset="1.000" stop-color="#182a8b"/></linearGradient>
<linearGradient id="h177" x1="0" y1="1" x2="0" y2="0"><stop offset=".000" stop-color="#ff3e00"/><stop offset=".000" stop-color="#ff9200"/><stop offset=".000" stop-color="#ffdd00"/><stop offset=".000" stop-color="#e6ff19"/><stop offset=".002" stop-color="#85ff7b"/><stop offset=".004" stop-color="#4afcb6"/><stop offset=".023" stop-color="#00f8ff"/><stop offset=".059" stop-color="#00a4ff"/><stop offset=".086" stop-color="#0071ff"/><stop offset=".116" stop-color="#004bff"/><stop offset=".151" stop-color="#012cfe"/><stop offset=".226" stop-color="#0b25dc"/><stop offset=".312" stop-color="#1227b3"/><stop offset=".414" stop-color="#15299c"/><stop offset=".622" stop-color="#172a8e"/><stop offset="1.000" stop-color="#182a8b"/></linearGradient>
<linearGradient id="h178" x1="0" y1="1" x2="0" y2="0"><stop offset=".000" stop-color="#ff4500"/><stop offset=".000" stop-color="#ff9900"/><stop offset=".000" stop-color="#ffe400"/><stop offset=".000" stop-color="#dfff21"/><stop offset=".002" stop-color="#7dff83"/><stop offset=".004" stop-color="#41fcbf"/><stop offset=".020" stop-color="#00f8ff"/><stop offset=".054" stop-color="#00a8ff"/><stop offset=".081" stop-color="#0074ff"/><stop offset=".114" stop-color="#0049ff"/><stop offset=".149" stop-color="#012bfd"/><stop offset=".221" stop-color="#0b24dd"/><stop offset=".304" stop-color="#1127b4"/><stop offset=".399" stop-color="#15299d"/><stop offset=".594" stop-color="#172a8e"/><stop offset="1.000" stop-color="#182a8b"/></linearGradient>
<linearGradient id="h179" x1="0" y1="1" x2="0" y2="0"><stop offset=".000" stop-color="#ff4c00"/><stop offset=".000" stop-color="#ff9f00"/><stop offset=".000" stop-color="#ffea00"/><stop offset=".000" stop-color="#d7ff28"/><stop offset=".002" stop-color="#74fe8c"/><stop offset=".004" stop-color="#38fbc8"/><stop offset=".018" stop-color="#01f8fe"/><stop offset=".051" stop-color="#00a7ff"/><stop offset=".079" stop-color="#0073ff"/><stop offset=".114" stop-color="#0045ff"/><stop offset=".144" stop-color="#012cfd"/><stop offset=".216" stop-color="#0b24dd"/><stop offset=".294" stop-color="#1127b6"/><stop offset=".389" stop-color="#15299e"/><stop offset=".579" stop-color="#172a8e"/><stop offset="1.000" stop-color="#182a8b"/></linearGradient>
<linearGradient id="h180" x1="0" y1="1" x2="0" y2="0"><stop offset=".000" stop-color="#ff5300"/><stop offset=".000" stop-color="#ffa500"/><stop offset=".000" stop-color="#fff000"/><stop offset=".000" stop-color="#cfff30"/><stop offset=".002" stop-color="#6afe96"/><stop offset=".004" stop-color="#2efbd1"/><stop offset=".015" stop-color="#02f8fd"/><stop offset=".045" stop-color="#00adff"/><stop offset=".074" stop-color="#0076ff"/><stop offset=".111" stop-color="#0044ff"/><stop offset=".139" stop-color="#002cfe"/><stop offset=".211" stop-color="#0b24dd"/><stop offset=".284" stop-color="#1127b8"/><stop offset=".379" stop-color="#15299e"/><stop offset=".564" stop-color="#172a8f"/><stop offset="1.000" stop-color="#182a8b"/></linearGradient>
<linearGradient id="h181" x1="0" y1="1" x2="0" y2="0"><stop offset=".000" stop-color="#ff5b00"/><stop offset=".000" stop-color="#ffab00"/><stop offset=".000" stop-color="#fff600"/><stop offset=".000" stop-color="#c7ff38"/><stop offset=".002" stop-color="#60fd9f"/><stop offset=".004" stop-color="#25fada"/><stop offset=".014" stop-color="#00f6ff"/><stop offset=".030" stop-color="#00c9ff"/><stop offset=".064" stop-color="#0080ff"/><stop offset=".109" stop-color="#0042ff"/><stop offset=".136" stop-color="#012bfd"/><stop offset=".209" stop-color="#0b25dc"/><stop offset=".282" stop-color="#1127b7"/><stop offset=".379" stop-color="#15299d"/><stop offset=".572" stop-color="#172a8e"/><stop offset="1.000" stop-color="#182a8a"/></linearGradient>
<linearGradient id="h182" x1="0" y1="1" x2="0" y2="0"><stop offset=".000" stop-color="#ff6200"/><stop offset=".000" stop-color="#fffd00"/><stop offset=".000" stop-color="#bfff40"/><stop offset=".001" stop-color="#8fff71"/><stop offset=".004" stop-color="#1bf9e4"/><stop offset=".011" stop-color="#00f6ff"/><stop offset=".028" stop-color="#00c7ff"/><stop offset=".061" stop-color="#007fff"/><stop offset=".109" stop-color="#003eff"/><stop offset=".131" stop-color="#012bfd"/><stop offset=".204" stop-color="#0b25dc"/><stop offset=".272" stop-color="#1127b8"/><stop offset=".369" stop-color="#15299e"/><stop offset=".559" stop-color="#172a8e"/><stop offset="1.000" stop-color="#182a8a"/></linearGradient>
<linearGradient id="h183" x1="0" y1="1" x2="0" y2="0"><stop offset=".000" stop-color="#ff6b00"/><stop offset=".000" stop-color="#ffba00"/><stop offset=".000" stop-color="#f9ff06"/><stop offset=".000" stop-color="#b6ff49"/><stop offset=".001" stop-color="#86ff7a"/><stop offset=".004" stop-color="#10f9ef"/><stop offset=".009" stop-color="#00f5ff"/><stop offset=".026" stop-color="#00c2ff"/><stop offset=".059" stop-color="#007dff"/><stop offset=".106" stop-color="#003bff"/><stop offset=".129" stop-color="#012bfc"/><stop offset=".199" stop-color="#0b25dc"/><stop offset=".264" stop-color="#1127b9"/><stop offset=".364" stop-color="#15299e"/><stop offset=".554" stop-color="#172a8e"/><stop offset="1.000" stop-color="#182a8a"/></linearGradient>
<linearGradient id="h184" x1="0" y1="1" x2="0" y2="0"><stop offset=".000" stop-color="#ff7300"/><stop offset=".000" stop-color="#ffc100"/><stop offset=".000" stop-color="#efff10"/><stop offset=".000" stop-color="#adff53"/><stop offset=".001" stop-color="#7cff84"/><stop offset=".004" stop-color="#05f8fa"/><stop offset=".006" stop-color="#00f4ff"/><stop offset=".026" stop-color="#00baff"/><stop offset=".054" stop-color="#007fff"/><stop offset=".106" stop-color="#0037ff"/><stop offset=".124" stop-color="#012bfc"/><stop offset=".191" stop-color="#0b24dd"/><stop offset=".254" stop-color="#1027bb"/><stop offset=".354" stop-color="#15299e"/><stop offset=".544" stop-color="#172a8e"/><stop offset="1.000" stop-color="#182a8a"/></linearGradient>
<linearGradient id="h185" x1="0" y1="1" x2="0" y2="0"><stop offset=".000" stop-color="#ff7c00"/><stop offset=".000" stop-color="#ffc900"/><stop offset=".000" stop-color="#e5ff1a"/><stop offset=".000" stop-color="#a3ff5d"/><stop offset=".001" stop-color="#6ffe90"/><stop offset=".002" stop-color="#34fbcc"/><stop offset=".004" stop-color="#00f3ff"/><stop offset=".026" stop-color="#00b1ff"/><stop offset=".051" stop-color="#007cff"/><stop offset=".104" stop-color="#0034ff"/><stop offset=".121" stop-color="#022bfb"/><stop offset=".186" stop-color="#0b25dc"/><stop offset=".252" stop-color="#1127b9"/><stop offset=".354" stop-color="#15299d"/><stop offset=".552" stop-color="#172a8e"/><stop offset="1.000" stop-color="#182a8a"/></linearGradient>
<linearGradient id="h186" x1="0" y1="1" x2="0" y2="0"><stop offset=".000" stop-color="#ff8600"/><stop offset=".000" stop-color="#ffd200"/><stop offset=".000" stop-color="#dbff25"/><stop offset=".000" stop-color="#99ff67"/><stop offset=".002" stop-color="#27fad8"/><stop offset=".004" stop-color="#00e9ff"/><stop offset=".026" stop-color="#00a8ff"/><stop offset=".049" stop-color="#0079ff"/><stop offset=".104" stop-color="#002fff"/><stop offset=".179" stop-color="#0b24dd"/><stop offset=".244" stop-color="#1127b9"/><stop offset=".349" stop-color="#15299d"/><stop offset=".549" stop-color="#172a8e"/><stop offset="1.000" stop-color="#182a8a"/></linearGradient>
<linearGradient id="h187" x1="0" y1="1" x2="0" y2="0"><stop offset=".000" stop-color="#ff8f00"/><stop offset=".000" stop-color="#ffdb00"/><stop offset=".000" stop-color="#d0ff30"/><stop offset=".000" stop-color="#8eff72"/><stop offset=".002" stop-color="#1af9e5"/><stop offset=".004" stop-color="#00dfff"/><stop offset=".026" stop-color="#009fff"/><stop offset=".046" stop-color="#0076ff"/><stop offset=".101" stop-color="#002dff"/><stop offset=".174" stop-color="#0b25dc"/><stop offset=".241" stop-color="#1127b7"/><stop offset=".349" stop-color="#15299b"/><stop offset=".559" stop-color="#172a8d"/><stop offset="1.000" stop-color="#182a8a"/></linearGradient>
<linearGradient id="h188" x1="0" y1="1" x2="0" y2="0"><stop offset=".000" stop-color="#ff9800"/><stop offset=".000" stop-color="#ffe300"/><stop offset=".000" stop-color="#c5ff3b"/><stop offset=".000" stop-color="#83ff7d"/><stop offset=".002" stop-color="#0df9f2"/><stop offset=".004" stop-color="#00d5ff"/><stop offset=".026" stop-color="#0095ff"/><stop offset=".046" stop-color="#006fff"/><stop offset=".096" stop-color="#002dff"/><stop offset=".166" stop-color="#0b24dd"/><stop offset=".236" stop-color="#1127b6"/><stop offset=".347" stop-color="#15299b"/><stop offset=".564" stop-color="#182a8d"/><stop offset="1.000" stop-color="#182a8a"/></linearGradient>
<linearGradient id="h189" x1="0" y1="1" x2="0" y2="0"><stop offset=".000" stop-color="#ffa100"/><stop offset=".000" stop-color="#ffed00"/><stop offset=".000" stop-color="#baff46"/><stop offset=".000" stop-color="#76fe8a"/><stop offset=".002" stop-color="#00f8ff"/><stop offset=".004" stop-color="#00cbff"/><stop offset=".026" stop-color="#008cff"/><stop offset=".054" stop-color="#005dff"/><stop offset=".094" stop-color="#002cfe"/><stop offset=".159" stop-color="#0b24de"/><stop offset=".229" stop-color="#1127b6"/><stop offset=".339" stop-color="#15299b"/><stop offset=".554" stop-color="#182a8d"/><stop offset="1.000" stop-color="#182a8a"/></linearGradient>
<linearGradient id="h190" x1="0" y1="1" x2="0" y2="0"><stop offset=".000" stop-color="#ffab00"/><stop offset=".000" stop-color="#fff600"/><stop offset=".000" stop-color="#aeff51"/><stop offset=".000" stop-color="#68fe98"/><stop offset=".001" stop-color="#2dfad3"/><stop offset=".002" stop-color="#00edff"/><stop offset=".004" stop-color="#00c0ff"/><stop offset=".026" stop-color="#0083ff"/><stop offset=".064" stop-color="#0049ff"/><stop offset=".089" stop-color="#002cfe"/><stop offset=".156" stop-color="#0b25db"/><stop offset=".226" stop-color="#1127b5"/><stop offset=".339" stop-color="#16299a"/><stop offset=".564" stop-color="#182a8d"/><stop offset="1.000" stop-color="#182a8a"/></linearGradient>
<linearGradient id="h191" x1="0" y1="1" x2="0" y2="0"><stop offset=".000" stop-color="#ffb400"/><stop offset=".000" stop-color="#ffff00"/><stop offset=".000" stop-color="#a3ff5d"/><stop offset=".000" stop-color="#5afda6"/><stop offset=".001" stop-color="#1ffae1"/><stop offset=".002" stop-color="#00e2ff"/><stop offset=".004" stop-color="#00b6ff"/><stop offset=".025" stop-color="#007dff"/><stop offset=".064" stop-color="#0043ff"/><stop offset=".086" stop-color="#012bfd"/><stop offset=".149" stop-color="#0b25dc"/><stop offset=".214" stop-color="#1127b7"/><stop offset=".317" stop-color="#15299c"/><stop offset=".512" stop-color="#172a8e"/><stop offset="1.000" stop-color="#182a8a"/></linearGradient>
<linearGradient id="h192" x1="0" y1="1" x2="0" y2="0"><stop offset=".000" stop-color="#ffbd00"/><stop offset=".000" stop-color="#f3ff0c"/><stop offset=".000" stop-color="#97ff68"/><stop offset=".000" stop-color="#4cfcb4"/><stop offset=".001" stop-color="#11f9ee"/><stop offset=".002" stop-color="#00d8ff"/><stop offset=".004" stop-color="#00acff"/><stop offset=".023" stop-color="#007aff"/><stop offset=".061" stop-color="#0040ff"/><stop offset=".081" stop-color="#012bfd"/><stop offset=".144" stop-color="#0b25db"/><stop offset=".206" stop-color="#1127b7"/><stop offset=".304" stop-color="#15299d"/><stop offset=".484" stop-color="#172a8e"/><stop offset="1.000" stop-color="#182a8a"/></linearGradient>
<linearGradient id="h193" x1="0" y1="1" x2="0" y2="0"><stop offset=".000" stop-color="#ffc700"/><stop offset=".000" stop-color="#e8ff18"/><stop offset=".000" stop-color="#8cff74"/><stop offset=".000" stop-color="#3efbc2"/><stop offset=".001" stop-color="#03f8fc"/><stop offset=".004" stop-color="#00a2ff"/><stop offset=".021" stop-color="#0074ff"/><stop offset=".061" stop-color="#003aff"/><stop offset=".076" stop-color="#012bfd"/><stop offset=".139" stop-color="#0c25da"/><stop offset=".196" stop-color="#1127b8"/><stop offset=".287" stop-color="#15299f"/><stop offset=".444" stop-color="#172a8f"/><stop offset="1.000" stop-color="#182a8a"/></linearGradient>
<linearGradient id="h194" x1="0" y1="1" x2="0" y2="0"><stop offset=".000" stop-color="#ffd100"/><stop offset=".000" stop-color="#dbff24"/><stop offset=".000" stop-color="#80ff80"/><stop offset=".000" stop-color="#2ffbd0"/><stop offset=".001" stop-color="#00efff"/><stop offset=".004" stop-color="#0098ff"/><stop offset=".021" stop-color="#006dff"/><stop offset=".061" stop-color="#0034ff"/><stop offset=".074" stop-color="#012bfb"/><stop offset=".131" stop-color="#0b25db"/><stop offset=".189" stop-color="#1127b9"/><stop offset=".274" stop-color="#15299f"/><stop offset=".427" stop-color="#172a90"/><stop offset="1.000" stop-color="#182a8a"/></linearGradient>
<linearGradient id="h195" x1="0" y1="1" x2="0" y2="0"><stop offset=".000" stop-color="#ffda00"/><stop offset=".000" stop-color="#cfff30"/><stop offset=".000" stop-color="#71fe8f"/><stop offset=".000" stop-color="#20fadf"/><stop offset=".001" stop-color="#00e4ff"/><stop offset=".004" stop-color="#008dff"/><stop offset=".025" stop-color="#005fff"/><stop offset=".061" stop-color="#002eff"/><stop offset=".126" stop-color="#0c25da"/><stop offset=".186" stop-color="#1127b7"/><stop offset=".274" stop-color="#15299e"/><stop offset=".434" stop-color="#172a8f"/><stop offset="1.000" stop-color="#182a8a"/></linearGradient>
<linearGradient id="h196" x1="0" y1="1" x2="0" y2="0"><stop offset=".000" stop-color="#ffe500"/><stop offset=".000" stop-color="#c3ff3d"/><stop offset=".000" stop-color="#62fd9e"/><stop offset=".000" stop-color="#12f9ed"/><stop offset=".001" stop-color="#00d8ff"/><stop offset=".004" stop-color="#0083ff"/><stop offset=".028" stop-color="#0054ff"/><stop offset=".059" stop-color="#002cfe"/><stop offset=".124" stop-color="#0c25d7"/><stop offset=".184" stop-color="#1127b4"/><stop offset=".274" stop-color="#15299d"/><stop offset=".444" stop-color="#172a8e"/><stop offset="1.000" stop-color="#182a8a"/></linearGradient>
<linearGradient id="h197" x1="0" y1="1" x2="0" y2="0"><stop offset=".000" stop-color="#ffef00"/><stop offset=".000" stop-color="#b6ff49"/><stop offset=".000" stop-color="#52fcae"/><stop offset=".000" stop-color="#03f8fc"/><stop offset=".004" stop-color="#007aff"/><stop offset=".029" stop-color="#004bff"/><stop offset=".054" stop-color="#002cfe"/><stop offset=".114" stop-color="#0c25d9"/><stop offset=".176" stop-color="#1127b4"/><stop offset=".267" stop-color="#15299c"/><stop offset=".439" stop-color="#172a8e"/><stop offset="1.000" stop-color="#182a8a"/></linearGradient>
<linearGradient id="h198" x1="0" y1="1" x2="0" y2="0"><stop offset=".000" stop-color="#fff900"/><stop offset=".000" stop-color="#aaff56"/><stop offset=".000" stop-color="#43fcbd"/><stop offset=".000" stop-color="#00eeff"/><stop offset=".002" stop-color="#0097ff"/><stop offset=".004" stop-color="#0072ff"/><stop offset=".029" stop-color="#0044ff"/><stop offset=".049" stop-color="#002cfe"/><stop offset=".101" stop-color="#0b24de"/><stop offset=".164" stop-color="#1127b7"/><stop offset=".254" stop-color="#15299d"/><stop offset=".424" stop-color="#172a8e"/><stop offset="1.000" stop-color="#182a8a"/></linearGradient>
<linearGradient id="h199" x1="0" y1="1" x2="0" y2="0"><stop offset=".000" stop-color="#faff05"/><stop offset=".000" stop-color="#9dff63"/><stop offset=".000" stop-color="#33fbcc"/><stop offset=".000" stop-color="#00e2ff"/><stop offset=".002" stop-color="#008cff"/><stop offset=".004" stop-color="#006aff"/><stop offset=".029" stop-color="#003dff"/><stop offset=".045" stop-color="#012bfd"/><stop offset=".096" stop-color="#0b24de"/><stop offset=".151" stop-color="#1127b9"/><stop offset=".236" stop-color="#15299f"/><stop offset=".399" stop-color="#172a8f"/><stop offset="1.000" stop-color="#182a8a"/></linearGradient>
<linearGradient id="h200" x1="0" y1="1" x2="0" y2="0"><stop offset=".000" stop-color="#edff12"/><stop offset=".000" stop-color="#90ff6f"/><stop offset=".000" stop-color="#24fadb"/><stop offset=".000" stop-color="#00d7ff"/><stop offset=".002" stop-color="#0081ff"/><stop offset=".004" stop-color="#0062ff"/><stop offset=".029" stop-color="#0037ff"/><stop offset=".041" stop-color="#012bfc"/><stop offset=".091" stop-color="#0b24de"/><stop offset=".134" stop-color="#1026bf"/><stop offset=".206" stop-color="#1428a3"/><stop offset=".347" stop-color="#172a91"/><stop offset=".870" stop-color="#182a8a"/><stop offset="1.000" stop-color="#182a8a"/></linearGradient>
<linearGradient id="h201" x1="0" y1="1" x2="0" y2="0"><stop offset=".000" stop-color="#e0ff1f"/><stop offset=".000" stop-color="#84ff7c"/><stop offset=".000" stop-color="#15f9ea"/><stop offset=".000" stop-color="#00cbff"/><stop offset=".002" stop-color="#0079ff"/><stop offset=".004" stop-color="#005bff"/><stop offset=".029" stop-color="#0031ff"/><stop offset=".044" stop-color="#032af7"/><stop offset=".086" stop-color="#0b24dd"/><stop offset=".124" stop-color="#1026c1"/><stop offset=".194" stop-color="#1428a5"/><stop offset=".324" stop-color="#172992"/><stop offset=".750" stop-color="#182a8a"/><stop offset="1.000" stop-color="#182a8a"/></linearGradient>
<linearGradient id="h202" x1="0" y1="1" x2="0" y2="0"><stop offset=".000" stop-color="#d4ff2c"/><stop offset=".000" stop-color="#76fe8a"/><stop offset=".000" stop-color="#06f8f9"/><stop offset=".000" stop-color="#00c0ff"/><stop offset=".001" stop-color="#0095ff"/><stop offset=".002" stop-color="#0071ff"/><stop offset=".004" stop-color="#0054ff"/><stop offset=".028" stop-color="#002cff"/><stop offset=".081" stop-color="#0b24dd"/><stop offset=".119" stop-color="#1026c0"/><stop offset=".191" stop-color="#1428a3"/><stop offset=".327" stop-color="#172a91"/><stop offset=".812" stop-color="#182a8a"/><stop offset="1.000" stop-color="#182a8a"/></linearGradient>
<linearGradient id="h203" x1="0" y1="1" x2="0" y2="0"><stop offset=".000" stop-color="#c7ff38"/><stop offset=".000" stop-color="#66fe9a"/><stop offset=".000" stop-color="#00f1ff"/><stop offset=".000" stop-color="#00b5ff"/><stop offset=".001" stop-color="#008bff"/><stop offset=".004" stop-color="#004dff"/><stop offset=".024" stop-color="#002cff"/><stop offset=".076" stop-color="#0b24dd"/><stop offset=".116" stop-color="#1027bd"/><stop offset=".191" stop-color="#1428a2"/><stop offset=".334" stop-color="#172a90"/><stop offset=".947" stop-color="#182a8a"/><stop offset="1.000" stop-color="#182a8a"/></linearGradient>
<linearGradient id="h204" x1="0" y1="1" x2="0" y2="0"><stop offset=".000" stop-color="#bbff44"/><stop offset=".000" stop-color="#57fda8"/><stop offset=".000" stop-color="#00e6ff"/><stop offset=".000" stop-color="#00aaff"/><stop offset=".001" stop-color="#0081ff"/><stop offset=".004" stop-color="#0046ff"/><stop offset=".021" stop-color="#012bfd"/><stop offset=".071" stop-color="#0b24dd"/><stop offset=".114" stop-color="#1027bb"/><stop offset=".189" stop-color="#1428a1"/><stop offset=".334" stop-color="#172a90"/><stop offset="1.000" stop-color="#182a8a"/></linearGradient>
<linearGradient id="h205" x1="0" y1="1" x2="0" y2="0"><stop offset=".000" stop-color="#afff51"/><stop offset=".000" stop-color="#48fcb7"/><stop offset=".000" stop-color="#00daff"/><stop offset=".000" stop-color="#009fff"/><stop offset=".001" stop-color="#0079ff"/><stop offset=".004" stop-color="#003fff"/><stop offset=".018" stop-color="#012bfd"/><stop offset=".066" stop-color="#0b24dd"/><stop offset=".111" stop-color="#1127b9"/><stop offset=".189" stop-color="#15299f"/><stop offset=".344" stop-color="#172a8f"/><stop offset="1.000" stop-color="#182a8a"/></linearGradient>
<linearGradient id="h206" x1="0" y1="1" x2="0" y2="0"><stop offset=".000" stop-color="#a3ff5d"/><stop offset=".000" stop-color="#39fbc6"/><stop offset=".000" stop-color="#00cfff"/><stop offset=".000" stop-color="#0095ff"/><stop offset=".001" stop-color="#0071ff"/><stop offset=".004" stop-color="#0039ff"/><stop offset=".015" stop-color="#012bfc"/><stop offset=".061" stop-color="#0b24dd"/><stop offset=".109" stop-color="#1127b7"/><stop offset=".189" stop-color="#15299e"/><stop offset=".352" stop-color="#172a8e"/><stop offset="1.000" stop-color="#182a8a"/></linearGradient>
<linearGradient id="h207" x1="0" y1="1" x2="0" y2="0"><stop offset=".000" stop-color="#97ff69"/><stop offset=".000" stop-color="#2bfad5"/><stop offset=".000" stop-color="#00c4ff"/><stop offset=".000" stop-color="#008bff"/><stop offset=".002" stop-color="#004dff"/><stop offset=".004" stop-color="#0033ff"/><stop offset=".014" stop-color="#022afa"/><stop offset=".056" stop-color="#0b24dd"/><stop offset=".106" stop-color="#1127b5"/><stop offset=".189" stop-color="#15299c"/><stop offset=".362" stop-color="#172a8e"/><stop offset="1.000" stop-color="#182a8a"/></linearGradient>
<linearGradient id="h208" x1="0" y1="1" x2="0" y2="0"><stop offset=".000" stop-color="#8bff75"/><stop offset=".000" stop-color="#1cfae3"/><stop offset=".000" stop-color="#00b9ff"/><stop offset=".000" stop-color="#0081ff"/><stop offset=".002" stop-color="#0046ff"/><stop offset=".004" stop-color="#002dff"/><stop offset=".054" stop-color="#0c25da"/><stop offset=".104" stop-color="#1227b4"/><stop offset=".189" stop-color="#15299b"/><stop offset=".369" stop-color="#172a8d"/><stop offset="1.000" stop-color="#182a8a"/></linearGradient>
<linearGradient id="h209" x1="0" y1="1" x2="0" y2="0"><stop offset=".000" stop-color="#7fff81"/><stop offset=".000" stop-color="#0ef9f1"/><stop offset=".000" stop-color="#00afff"/><stop offset=".000" stop-color="#0079ff"/><stop offset=".002" stop-color="#0040ff"/><stop offset=".004" stop-color="#012bfc"/><stop offset=".049" stop-color="#0c25da"/><stop offset=".101" stop-color="#1227b2"/><stop offset=".186" stop-color="#15299a"/><stop offset=".374" stop-color="#182a8d"/><stop offset="1.000" stop-color="#182a8a"/></linearGradient>
<linearGradient id="h210" x1="0" y1="1" x2="0" y2="0"><stop offset=".000" stop-color="#71fe8f"/><stop offset=".000" stop-color="#00f8ff"/><stop offset=".000" stop-color="#00a5ff"/><stop offset=".000" stop-color="#0072ff"/><stop offset=".002" stop-color="#003aff"/><stop offset=".004" stop-color="#022af9"/><stop offset=".043" stop-color="#0b25db"/><stop offset=".094" stop-color="#1227b4"/><stop offset=".171" stop-color="#15299c"/><stop offset=".342" stop-color="#172a8e"/><stop offset="1.000" stop-color="#182a8a"/></linearGradient>
<linearGradient id="h211" x1="0" y1="1" x2="0" y2="0"><stop offset=".000" stop-color="#63fd9d"/><stop offset=".000" stop-color="#00eeff"/><stop offset=".000" stop-color="#009bff"/><stop offset=".000" stop-color="#006aff"/><stop offset=".002" stop-color="#0034ff"/><stop offset=".004" stop-color="#0329f6"/><stop offset=".039" stop-color="#0b25db"/><stop offset=".089" stop-color="#1127b4"/><stop offset=".159" stop-color="#15299d"/><stop offset=".314" stop-color="#172a8e"/><stop offset="1.000" stop-color="#182a8a"/></linearGradient>
<linearGradient id="h212" x1="0" y1="1" x2="0" y2="0"><stop offset=".000" stop-color="#55fdaa"/><stop offset=".000" stop-color="#00e3ff"/><stop offset=".000" stop-color="#0091ff"/><stop offset=".000" stop-color="#0064ff"/><stop offset=".002" stop-color="#002fff"/><stop offset=".004" stop-color="#0429f4"/><stop offset=".035" stop-color="#0c25da"/><stop offset=".084" stop-color="#1127b4"/><stop offset=".144" stop-color="#15299f"/><stop offset=".282" stop-color="#172a8f"/><stop offset="1.000" stop-color="#182a8a"/></linearGradient>
<linearGradient id="h213" x1="0" y1="1" x2="0" y2="0"><stop offset=".000" stop-color="#48fcb8"/><stop offset=".000" stop-color="#00d9ff"/><stop offset=".000" stop-color="#0088ff"/><stop offset=".000" stop-color="#005dff"/><stop offset=".002" stop-color="#012cfe"/><stop offset=".004" stop-color="#0528f1"/><stop offset=".033" stop-color="#0c25d9"/><stop offset=".079" stop-color="#1127b4"/><stop offset=".134" stop-color="#1529a0"/><stop offset=".267" stop-color="#172a90"/><stop offset=".947" stop-color="#182a8a"/><stop offset="1.000" stop-color="#182a8a"/></linearGradient>
<linearGradient id="h214" x1="0" y1="1" x2="0" y2="0"><stop offset=".000" stop-color="#41fcbf"/><stop offset=".000" stop-color="#00d4ff"/><stop offset=".000" stop-color="#0084ff"/><stop offset=".000" stop-color="#005aff"/><stop offset=".001" stop-color="#003fff"/><stop offset=".002" stop-color="#012bfc"/><stop offset=".004" stop-color="#0627f0"/><stop offset=".031" stop-color="#0c25d7"/><stop offset=".079" stop-color="#1227b3"/><stop offset=".136" stop-color="#15299e"/><stop offset=".274" stop-color="#172a8f"/><stop offset="1.000" stop-color="#182a8a"/></linearGradient>
<filter id="hb" x="-2%" y="0" width="104%" height="100%"><feGaussianBlur stdDeviation="2 0"/></filter>
<clipPath id="clipa"><rect x="146.3" y="28.9" width="642.3" height="545.4"/></clipPath>
<linearGradient id="gpr" gradientUnits="userSpaceOnUse" x1="146.3" y1="0" x2="788.6" y2="0"><stop offset="0" stop-color="#b01000"/><stop offset="0.02" stop-color="#8a0400"/><stop offset="0.06" stop-color="#800000"/><stop offset="0.82" stop-color="#800000"/><stop offset="0.87" stop-color="#d01000"/><stop offset="0.9" stop-color="#ff8000"/><stop offset="0.925" stop-color="#ffee00"/><stop offset="0.95" stop-color="#80ff80"/><stop offset="0.975" stop-color="#40f0e0"/><stop offset="1" stop-color="#80e8e8"/></linearGradient>
<clipPath id="clipb"><rect x="131.5" y="730.2" width="664.2" height="534"/></clipPath>
<clipPath id="clipc"><rect x="1027.4" y="34.6" width="665.5" height="535.8"/></clipPath>
<clipPath id="clipe"><rect x="1892.9" y="36.8" width="667.4" height="538.9"/></clipPath>
<clipPath id="clipd"><rect x="1024.9" y="870" width="670.1" height="390.5"/></clipPath>
<linearGradient id="ga" gradientUnits="userSpaceOnUse" x1="2155.6" y1="0" x2="2308.5" y2="0"><stop offset="0" stop-color="#6a8cf2"/><stop offset="0.45" stop-color="#6aaef4"/><stop offset="0.7" stop-color="#22b98c"/><stop offset="1" stop-color="#12b877"/></linearGradient>
<linearGradient id="gf" gradientUnits="userSpaceOnUse" x1="0" y1="932" x2="0" y2="1263"><stop offset="0" stop-color="#b4cbfa"/><stop offset="0.35" stop-color="#7f9fe8"/><stop offset="0.7" stop-color="#3a62d6"/><stop offset="1" stop-color="#1238be"/></linearGradient>
<linearGradient id="gp" gradientUnits="userSpaceOnUse" x1="0" y1="991" x2="0" y2="1263"><stop offset="0" stop-color="#8cf08c"/><stop offset="0.5" stop-color="#5fd080"/><stop offset="1" stop-color="#2aa562"/></linearGradient>
<linearGradient id="gd" gradientUnits="userSpaceOnUse" x1="0" y1="932" x2="0" y2="1263"><stop offset="0" stop-color="#b4cbfa"/><stop offset="0.35" stop-color="#7f9fe8"/><stop offset="0.7" stop-color="#3a62d6"/><stop offset="1" stop-color="#1238c8"/></linearGradient>
<linearGradient id="go" gradientUnits="userSpaceOnUse" x1="0" y1="991" x2="0" y2="1263"><stop offset="0" stop-color="#86f086"/><stop offset="0.3" stop-color="#72e080"/><stop offset="0.7" stop-color="#46bd6e"/><stop offset="1" stop-color="#2aa562"/></linearGradient>
</defs>
<rect x="146.3" y="28.9" width="642.3" height="545.4" fill="#182a8a"/>
<g clip-path="url(#clipa)"><g filter="url(#hb)"><rect x="146.3" y="28.9" width="3.6" height="545.4" fill="url(#h0)"/><rect x="149.3" y="28.9" width="3.6" height="545.4" fill="url(#h1)"/><rect x="152.3" y="28.9" width="3.6" height="545.4" fill="url(#h2)"/><rect x="155.3" y="28.9" width="3.6" height="545.4" fill="url(#h3)"/><rect x="158.3" y="28.9" width="3.6" height="545.4" fill="url(#h4)"/><rect x="161.3" y="28.9" width="3.6" height="545.4" fill="url(#h5)"/><rect x="164.3" y="28.9" width="3.6" height="545.4" fill="url(#h6)"/><rect x="167.3" y="28.9" width="3.6" height="545.4" fill="url(#h7)"/><rect x="170.3" y="28.9" width="3.6" height="545.4" fill="url(#h8)"/><rect x="173.3" y="28.9" width="3.6" height="545.4" fill="url(#h9)"/><rect x="176.3" y="28.9" width="3.6" height="545.4" fill="url(#h10)"/><rect x="179.3" y="28.9" width="3.6" height="545.4" fill="url(#h11)"/><rect x="182.3" y="28.9" width="3.6" height="545.4" fill="url(#h12)"/><rect x="185.3" y="28.9" width="3.6" height="545.4" fill="url(#h13)"/><rect x="188.3" y="28.9" width="3.6" height="545.4" fill="url(#h14)"/><rect x="191.3" y="28.9" width="3.6" height="545.4" fill="url(#h15)"/><rect x="194.3" y="28.9" width="3.6" height="545.4" fill="url(#h16)"/><rect x="197.3" y="28.9" width="3.6" height="545.4" fill="url(#h17)"/><rect x="200.3" y="28.9" width="3.6" height="545.4" fill="url(#h18)"/><rect x="203.3" y="28.9" width="3.6" height="545.4" fill="url(#h19)"/><rect x="206.3" y="28.9" width="3.6" height="545.4" fill="url(#h20)"/><rect x="209.3" y="28.9" width="3.6" height="545.4" fill="url(#h21)"/><rect x="212.3" y="28.9" width="3.6" height="545.4" fill="url(#h22)"/><rect x="215.3" y="28.9" width="3.6" height="545.4" fill="url(#h23)"/><rect x="218.3" y="28.9" width="3.6" height="545.4" fill="url(#h24)"/><rect x="221.3" y="28.9" width="3.6" height="545.4" fill="url(#h25)"/><rect x="224.3" y="28.9" width="3.6" height="545.4" fill="url(#h26)"/><rect x="227.3" y="28.9" width="3.6" height="545.4" fill="url(#h27)"/><rect x="230.3" y="28.9" width="3.6" height="545.4" fill="url(#h28)"/><rect x="233.3" y="28.9" width="3.6" height="545.4" fill="url(#h29)"/><rect x="236.3" y="28.9" width="3.6" height="545.4" fill="url(#h30)"/><rect x="239.3" y="28.9" width="3.6" height="545.4" fill="url(#h31)"/><rect x="242.3" y="28.9" width="3.6" height="545.4" fill="url(#h32)"/><rect x="245.3" y="28.9" width="3.6" height="545.4" fill="url(#h33)"/><rect x="248.3" y="28.9" width="3.6" height="545.4" fill="url(#h34)"/><rect x="251.3" y="28.9" width="3.6" height="545.4" fill="url(#h35)"/><rect x="254.3" y="28.9" width="3.6" height="545.4" fill="url(#h36)"/><rect x="257.3" y="28.9" width="3.6" height="545.4" fill="url(#h37)"/><rect x="260.3" y="28.9" width="3.6" height="545.4" fill="url(#h38)"/><rect x="263.3" y="28.9" width="3.6" height="545.4" fill="url(#h39)"/><rect x="266.3" y="28.9" width="3.6" height="545.4" fill="url(#h40)"/><rect x="269.3" y="28.9" width="3.6" height="545.4" fill="url(#h41)"/><rect x="272.3" y="28.9" width="3.6" height="545.4" fill="url(#h42)"/><rect x="275.3" y="28.9" width="3.6" height="545.4" fill="url(#h43)"/><rect x="278.3" y="28.9" width="3.6" height="545.4" fill="url(#h44)"/><rect x="281.3" y="28.9" width="3.6" height="545.4" fill="url(#h45)"/><rect x="284.3" y="28.9" width="3.6" height="545.4" fill="url(#h46)"/><rect x="287.3" y="28.9" width="3.6" height="545.4" fill="url(#h47)"/><rect x="290.3" y="28.9" width="3.6" height="545.4" fill="url(#h48)"/><rect x="293.3" y="28.9" width="3.6" height="545.4" fill="url(#h49)"/><rect x="296.3" y="28.9" width="3.6" height="545.4" fill="url(#h50)"/><rect x="299.3" y="28.9" width="3.6" height="545.4" fill="url(#h51)"/><rect x="302.3" y="28.9" width="3.6" height="545.4" fill="url(#h52)"/><rect x="305.3" y="28.9" width="3.6" height="545.4" fill="url(#h53)"/><rect x="308.3" y="28.9" width="3.6" height="545.4" fill="url(#h54)"/><rect x="311.3" y="28.9" width="3.6" height="545.4" fill="url(#h55)"/><rect x="314.3" y="28.9" width="3.6" height="545.4" fill="url(#h56)"/><rect x="317.3" y="28.9" width="3.6" height="545.4" fill="url(#h57)"/><rect x="320.3" y="28.9" width="3.6" height="545.4" fill="url(#h58)"/><rect x="323.3" y="28.9" width="3.6" height="545.4" fill="url(#h59)"/><rect x="326.3" y="28.9" width="3.6" height="545.4" fill="url(#h60)"/><rect x="329.3" y="28.9" width="3.6" height="545.4" fill="url(#h61)"/><rect x="332.3" y="28.9" width="3.6" height="545.4" fill="url(#h62)"/><rect x="335.3" y="28.9" width="3.6" height="545.4" fill="url(#h63)"/><rect x="338.3" y="28.9" width="3.6" height="545.4" fill="url(#h64)"/><rect x="341.3" y="28.9" width="3.6" height="545.4" fill="url(#h65)"/><rect x="344.3" y="28.9" width="3.6" height="545.4" fill="url(#h66)"/><rect x="347.3" y="28.9" width="3.6" height="545.4" fill="url(#h67)"/><rect x="350.3" y="28.9" width="3.6" height="545.4" fill="url(#h68)"/><rect x="353.3" y="28.9" width="3.6" height="545.4" fill="url(#h69)"/><rect x="356.3" y="28.9" width="3.6" height="545.4" fill="url(#h70)"/><rect x="359.3" y="28.9" width="3.6" height="545.4" fill="url(#h71)"/><rect x="362.3" y="28.9" width="3.6" height="545.4" fill="url(#h72)"/><rect x="365.3" y="28.9" width="3.6" height="545.4" fill="url(#h73)"/><rect x="368.3" y="28.9" width="3.6" height="545.4" fill="url(#h74)"/><rect x="371.3" y="28.9" width="3.6" height="545.4" fill="url(#h75)"/><rect x="374.3" y="28.9" width="3.6" height="545.4" fill="url(#h76)"/><rect x="377.3" y="28.9" width="3.6" height="545.4" fill="url(#h77)"/><rect x="380.3" y="28.9" width="3.6" height="545.4" fill="url(#h78)"/><rect x="383.3" y="28.9" width="3.6" height="545.4" fill="url(#h79)"/><rect x="386.3" y="28.9" width="3.6" height="545.4" fill="url(#h80)"/><rect x="389.3" y="28.9" width="3.6" height="545.4" fill="url(#h81)"/><rect x="392.3" y="28.9" width="3.6" height="545.4" fill="url(#h82)"/><rect x="395.3" y="28.9" width="3.6" height="545.4" fill="url(#h83)"/><rect x="398.3" y="28.9" width="3.6" height="545.4" fill="url(#h84)"/><rect x="401.3" y="28.9" width="3.6" height="545.4" fill="url(#h85)"/><rect x="404.3" y="28.9" width="3.6" height="545.4" fill="url(#h86)"/><rect x="407.3" y="28.9" width="3.6" height="545.4" fill="url(#h87)"/><rect x="410.3" y="28.9" width="3.6" height="545.4" fill="url(#h88)"/><rect x="413.3" y="28.9" width="3.6" height="545.4" fill="url(#h89)"/><rect x="416.3" y="28.9" width="3.6" height="545.4" fill="url(#h90)"/><rect x="419.3" y="28.9" width="3.6" height="545.4" fill="url(#h91)"/><rect x="422.3" y="28.9" width="3.6" height="545.4" fill="url(#h92)"/><rect x="425.3" y="28.9" width="3.6" height="545.4" fill="url(#h93)"/><rect x="428.3" y="28.9" width="3.6" height="545.4" fill="url(#h94)"/><rect x="431.3" y="28.9" width="3.6" height="545.4" fill="url(#h95)"/><rect x="434.3" y="28.9" width="3.6" height="545.4" fill="url(#h96)"/><rect x="437.3" y="28.9" width="3.6" height="545.4" fill="url(#h97)"/><rect x="440.3" y="28.9" width="3.6" height="545.4" fill="url(#h98)"/><rect x="443.3" y="28.9" width="3.6" height="545.4" fill="url(#h99)"/><rect x="446.3" y="28.9" width="3.6" height="545.4" fill="url(#h100)"/><rect x="449.3" y="28.9" width="3.6" height="545.4" fill="url(#h101)"/><rect x="452.3" y="28.9" width="3.6" height="545.4" fill="url(#h102)"/><rect x="455.3" y="28.9" width="3.6" height="545.4" fill="url(#h103)"/><rect x="458.3" y="28.9" width="3.6" height="545.4" fill="url(#h104)"/><rect x="461.3" y="28.9" width="3.6" height="545.4" fill="url(#h105)"/><rect x="464.3" y="28.9" width="3.6" height="545.4" fill="url(#h106)"/><rect x="467.3" y="28.9" width="3.6" height="545.4" fill="url(#h107)"/><rect x="470.3" y="28.9" width="3.6" height="545.4" fill="url(#h108)"/><rect x="473.3" y="28.9" width="3.6" height="545.4" fill="url(#h109)"/><rect x="476.3" y="28.9" width="3.6" height="545.4" fill="url(#h110)"/><rect x="479.3" y="28.9" width="3.6" height="545.4" fill="url(#h111)"/><rect x="482.3" y="28.9" width="3.6" height="545.4" fill="url(#h112)"/><rect x="485.3" y="28.9" width="3.6" height="545.4" fill="url(#h113)"/><rect x="488.3" y="28.9" width="3.6" height="545.4" fill="url(#h114)"/><rect x="491.3" y="28.9" width="3.6" height="545.4" fill="url(#h115)"/><rect x="494.3" y="28.9" width="3.6" height="545.4" fill="url(#h116)"/><rect x="497.3" y="28.9" width="3.6" height="545.4" fill="url(#h117)"/><rect x="500.3" y="28.9" width="3.6" height="545.4" fill="url(#h118)"/><rect x="503.3" y="28.9" width="3.6" height="545.4" fill="url(#h119)"/><rect x="506.3" y="28.9" width="3.6" height="545.4" fill="url(#h120)"/><rect x="509.3" y="28.9" width="3.6" height="545.4" fill="url(#h121)"/><rect x="512.3" y="28.9" width="3.6" height="545.4" fill="url(#h122)"/><rect x="515.3" y="28.9" width="3.6" height="545.4" fill="url(#h123)"/><rect x="518.3" y="28.9" width="3.6" height="545.4" fill="url(#h124)"/><rect x="521.3" y="28.9" width="3.6" height="545.4" fill="url(#h125)"/><rect x="524.3" y="28.9" width="3.6" height="545.4" fill="url(#h126)"/><rect x="527.3" y="28.9" width="3.6" height="545.4" fill="url(#h127)"/><rect x="530.3" y="28.9" width="3.6" height="545.4" fill="url(#h128)"/><rect x="533.3" y="28.9" width="3.6" height="545.4" fill="url(#h129)"/><rect x="536.3" y="28.9" width="3.6" height="545.4" fill="url(#h130)"/><rect x="539.3" y="28.9" width="3.6" height="545.4" fill="url(#h131)"/><rect x="542.3" y="28.9" width="3.6" height="545.4" fill="url(#h132)"/><rect x="545.3" y="28.9" width="3.6" height="545.4" fill="url(#h133)"/><rect x="548.3" y="28.9" width="3.6" height="545.4" fill="url(#h134)"/><rect x="551.3" y="28.9" width="3.6" height="545.4" fill="url(#h135)"/><rect x="554.3" y="28.9" width="3.6" height="545.4" fill="url(#h136)"/><rect x="557.3" y="28.9" width="3.6" height="545.4" fill="url(#h137)"/><rect x="560.3" y="28.9" width="3.6" height="545.4" fill="url(#h138)"/><rect x="563.3" y="28.9" width="3.6" height="545.4" fill="url(#h139)"/><rect x="566.3" y="28.9" width="3.6" height="545.4" fill="url(#h140)"/><rect x="569.3" y="28.9" width="3.6" height="545.4" fill="url(#h141)"/><rect x="572.3" y="28.9" width="3.6" height="545.4" fill="url(#h142)"/><rect x="575.3" y="28.9" width="3.6" height="545.4" fill="url(#h143)"/><rect x="578.3" y="28.9" width="3.6" height="545.4" fill="url(#h144)"/><rect x="581.3" y="28.9" width="3.6" height="545.4" fill="url(#h145)"/><rect x="584.3" y="28.9" width="3.6" height="545.4" fill="url(#h146)"/><rect x="587.3" y="28.9" width="3.6" height="545.4" fill="url(#h147)"/><rect x="590.3" y="28.9" width="3.6" height="545.4" fill="url(#h148)"/><rect x="593.3" y="28.9" width="3.6" height="545.4" fill="url(#h149)"/><rect x="596.3" y="28.9" width="3.6" height="545.4" fill="url(#h150)"/><rect x="599.3" y="28.9" width="3.6" height="545.4" fill="url(#h151)"/><rect x="602.3" y="28.9" width="3.6" height="545.4" fill="url(#h152)"/><rect x="605.3" y="28.9" width="3.6" height="545.4" fill="url(#h153)"/><rect x="608.3" y="28.9" width="3.6" height="545.4" fill="url(#h154)"/><rect x="611.3" y="28.9" width="3.6" height="545.4" fill="url(#h155)"/><rect x="614.3" y="28.9" width="3.6" height="545.4" fill="url(#h156)"/><rect x="617.3" y="28.9" width="3.6" height="545.4" fill="url(#h157)"/><rect x="620.3" y="28.9" width="3.6" height="545.4" fill="url(#h158)"/><rect x="623.3" y="28.9" width="3.6" height="545.4" fill="url(#h159)"/><rect x="626.3" y="28.9" width="3.6" height="545.4" fill="url(#h160)"/><rect x="629.3" y="28.9" width="3.6" height="545.4" fill="url(#h161)"/><rect x="632.3" y="28.9" width="3.6" height="545.4" fill="url(#h162)"/><rect x="635.3" y="28.9" width="3.6" height="545.4" fill="url(#h163)"/><rect x="638.3" y="28.9" width="3.6" height="545.4" fill="url(#h164)"/><rect x="641.3" y="28.9" width="3.6" height="545.4" fill="url(#h165)"/><rect x="644.3" y="28.9" width="3.6" height="545.4" fill="url(#h166)"/><rect x="647.3" y="28.9" width="3.6" height="545.4" fill="url(#h167)"/><rect x="650.3" y="28.9" width="3.6" height="545.4" fill="url(#h168)"/><rect x="653.3" y="28.9" width="3.6" height="545.4" fill="url(#h169)"/><rect x="656.3" y="28.9" width="3.6" height="545.4" fill="url(#h170)"/><rect x="659.3" y="28.9" width="3.6" height="545.4" fill="url(#h171)"/><rect x="662.3" y="28.9" width="3.6" height="545.4" fill="url(#h172)"/><rect x="665.3" y="28.9" width="3.6" height="545.4" fill="url(#h173)"/><rect x="668.3" y="28.9" width="3.6" height="545.4" fill="url(#h174)"/><rect x="671.3" y="28.9" width="3.6" height="545.4" fill="url(#h175)"/><rect x="674.3" y="28.9" width="3.6" height="545.4" fill="url(#h176)"/><rect x="677.3" y="28.9" width="3.6" height="545.4" fill="url(#h177)"/><rect x="680.3" y="28.9" width="3.6" height="545.4" fill="url(#h178)"/><rect x="683.3" y="28.9" width="3.6" height="545.4" fill="url(#h179)"/><rect x="686.3" y="28.9" width="3.6" height="545.4" fill="url(#h180)"/><rect x="689.3" y="28.9" width="3.6" height="545.4" fill="url(#h181)"/><rect x="692.3" y="28.9" width="3.6" height="545.4" fill="url(#h182)"/><rect x="695.3" y="28.9" width="3.6" height="545.4" fill="url(#h183)"/><rect x="698.3" y="28.9" width="3.6" height="545.4" fill="url(#h184)"/><rect x="701.3" y="28.9" width="3.6" height="545.4" fill="url(#h185)"/><rect x="704.3" y="28.9" width="3.6" height="545.4" fill="url(#h186)"/><rect x="707.3" y="28.9" width="3.6" height="545.4" fill="url(#h187)"/><rect x="710.3" y="28.9" width="3.6" height="545.4" fill="url(#h188)"/><rect x="713.3" y="28.9" width="3.6" height="545.4" fill="url(#h189)"/><rect x="716.3" y="28.9" width="3.6" height="545.4" fill="url(#h190)"/><rect x="719.3" y="28.9" width="3.6" height="545.4" fill="url(#h191)"/><rect x="722.3" y="28.9" width="3.6" height="545.4" fill="url(#h192)"/><rect x="725.3" y="28.9" width="3.6" height="545.4" fill="url(#h193)"/><rect x="728.3" y="28.9" width="3.6" height="545.4" fill="url(#h194)"/><rect x="731.3" y="28.9" width="3.6" height="545.4" fill="url(#h195)"/><rect x="734.3" y="28.9" width="3.6" height="545.4" fill="url(#h196)"/><rect x="737.3" y="28.9" width="3.6" height="545.4" fill="url(#h197)"/><rect x="740.3" y="28.9" width="3.6" height="545.4" fill="url(#h198)"/><rect x="743.3" y="28.9" width="3.6" height="545.4" fill="url(#h199)"/><rect x="746.3" y="28.9" width="3.6" height="545.4" fill="url(#h200)"/><rect x="749.3" y="28.9" width="3.6" height="545.4" fill="url(#h201)"/><rect x="752.3" y="28.9" width="3.6" height="545.4" fill="url(#h202)"/><rect x="755.3" y="28.9" width="3.6" height="545.4" fill="url(#h203)"/><rect x="758.3" y="28.9" width="3.6" height="545.4" fill="url(#h204)"/><rect x="761.3" y="28.9" width="3.6" height="545.4" fill="url(#h205)"/><rect x="764.3" y="28.9" width="3.6" height="545.4" fill="url(#h206)"/><rect x="767.3" y="28.9" width="3.6" height="545.4" fill="url(#h207)"/><rect x="770.3" y="28.9" width="3.6" height="545.4" fill="url(#h208)"/><rect x="773.3" y="28.9" width="3.6" height="545.4" fill="url(#h209)"/><rect x="776.3" y="28.9" width="3.6" height="545.4" fill="url(#h210)"/><rect x="779.3" y="28.9" width="3.6" height="545.4" fill="url(#h211)"/><rect x="782.3" y="28.9" width="3.6" height="545.4" fill="url(#h212)"/><rect x="785.3" y="28.9" width="3.6" height="545.4" fill="url(#h213)"/><rect x="788.3" y="28.9" width="0.3" height="545.4" fill="url(#h214)"/></g></g>
<rect x="146.3" y="571.2" width="642.3" height="3.1" fill="url(#gpr)"/>
<rect x="146.3" y="570" width="642.3" height="1.2" fill="url(#gpr)" opacity=".45"/>
<path d="M144.7 28.4L144.7 577.9" stroke="#000" stroke-width="3.1"/>
<path d="M143.2 576.4L789.9 576.4" stroke="#000" stroke-width="3.1"/>
<path d="M143.2 576.4h-9M143.2 439.9h-9M143.2 303.4h-9M143.2 166.9h-9M143.2 30.4h-9" stroke="#000" stroke-width="3.2" fill="none"/>
<path d="M143.2 508.1h-4M143.2 371.6h-4M143.2 235.1h-4M143.2 98.6h-4" stroke="#000" stroke-width="3.2" fill="none"/>
<path d="M177.2 577.9v8.7M329.9 577.9v8.7M482.7 577.9v8.7M635.5 577.9v8.7M788.2 577.9v8.7" stroke="#000" stroke-width="3.2" fill="none"/>
<path d="M253.6 577.9v4M406.3 577.9v4M559.1 577.9v4M711.8 577.9v4" stroke="#000" stroke-width="3.2" fill="none"/>
<text x="128.6" y="588.6" font-size="39.5" text-anchor="end" stroke="#000" stroke-width="0.5">0</text>
<text x="128.6" y="452.2" font-size="39.5" text-anchor="end" stroke="#000" stroke-width="0.5">1</text>
<text x="128.6" y="315.7" font-size="39.5" text-anchor="end" stroke="#000" stroke-width="0.5">2</text>
<text x="128.6" y="179.2" font-size="39.5" text-anchor="end" stroke="#000" stroke-width="0.5">3</text>
<text x="128.6" y="42.7" font-size="39.5" text-anchor="end" stroke="#000" stroke-width="0.5">4</text>
<text x="177.2" y="620.6" font-size="38.7" text-anchor="middle" stroke="#000" stroke-width="0.5">400</text>
<text x="329.9" y="620.6" font-size="38.7" text-anchor="middle" stroke="#000" stroke-width="0.5">500</text>
<text x="482.7" y="620.6" font-size="38.7" text-anchor="middle" stroke="#000" stroke-width="0.5">600</text>
<text x="635.5" y="620.6" font-size="38.7" text-anchor="middle" stroke="#000" stroke-width="0.5">700</text>
<text x="788.2" y="620.6" font-size="38.7" text-anchor="middle" stroke="#000" stroke-width="0.5">800</text>
<text x="493.5" y="661.7" font-size="39.7" text-anchor="middle" stroke="#000" stroke-width="0.5">Wavelength (nm)</text>
<text font-size="40" text-anchor="middle" stroke="#000" stroke-width="0.5" transform="translate(84.6 296) rotate(-90)">Time (s)</text>
<text x="0.8" y="42.8" font-size="50.3" stroke="#000" stroke-width="0.5">(a)</text>
<text x="773.5" y="89.8" font-size="39.3" text-anchor="end" fill="#fff" stroke="#fff" stroke-width="0.5">Driving voltage: 9 V</text>
<g clip-path="url(#clipb)" stroke-width="3" stroke-linejoin="round">
<path d="M139.9 725.2L140.4 701.2L140.4 779.2L141.4 797.5L141.4 779.2L142.4 795.5L142.4 818L143.4 819L143.4 815L144.4 817.5L144.4 821.1L145.4 825.1L145.4 818.7L146.4 820.6L146.4 824.4L147.4 827.7L147.4 823.3L148.4 823.8L148.4 829.5L149.4 830.6L149.4 825L150.4 826.9L150.4 832.5L151.4 835.7L151.4 829.9L152.4 831L152.4 835.2L153.4 837.4L153.4 832.8L154.4 835.1L154.4 838.4L155.4 841.1L155.4 836.7L156.4 838.7L156.4 843.3L157.4 844.9L157.4 838.9L158.4 841.1L158.4 847.3L159.4 849.5L159.4 842.8L160.4 846.9L160.4 850.4L161.4 853.4L161.4 847.8L162.4 847.2L162.4 854.7L163.4 856.8L163.4 850.2L164.4 852.7L164.4 858.1L165.4 860L165.4 853.3L166.4 857L166.4 860.8L167.4 864.2L167.4 854.9L168.4 861.1L168.4 865.9L169.4 868.1L169.4 860.5L170.4 861.3L170.4 869.3L171.4 870.1L171.4 861.6L172.4 864.3L172.4 872.1L173.4 874.5L173.4 867L174.4 866.9L174.4 876.6L175.4 877.2L175.4 869.9L176.4 869.9L176.4 878.6L177.4 880.1L177.4 872.9L178.4 873.8L178.4 883.7L179.4 883.9L179.4 873.5L180.4 877.9L180.4 883L181.4 886.2L181.4 879.9L182.4 881.1L182.4 887.8L183.4 887.9L183.4 881.9L184.4 882.3L184.4 889.9L185.4 892L185.4 883.3L186.4 884.9L186.4 894.2L187.4 894.8L187.4 887.7L188.4 890.6L188.4 895L189.4 899L189.4 891.8L190.4 893.7L190.4 900.6L191.4 904.2L191.4 895.3L192.4 894.6L192.4 901.9L193.4 904.5L193.4 898L194.4 899L194.4 906.7L195.4 908.1L195.4 897L196.4 897.1L196.4 906.9L197.4 908.6L197.4 900.9L198.4 904.5L198.4 910L199.4 912.7L199.4 903.4L200.4 906.1L200.4 915.9L201.4 916L201.4 908L202.4 909.8L202.4 918.2L203.4 920.9L203.4 909.5L204.4 913.7L204.4 922.2L205.4 923.3L205.4 916.3L206.4 916.6L206.4 925.3L207.4 923.3L207.4 918.2L208.4 918.5L208.4 927.8L209.4 927.7L209.4 921.2L210.4 922.8L210.4 930.3L211.4 932.4L211.4 921.8L212.4 922.9L212.4 935.3L213.4 937.7L213.4 924.5L214.4 929.1L214.4 936.4L215.4 937.4L215.4 927.9L216.4 928.8L216.4 937.7L217.4 941.2L217.4 929.1L218.4 929.6L218.4 939.5L219.4 943.5L219.4 930.5L220.4 933.6L220.4 942.3L221.4 946.5L221.4 933.2L222.4 936.2L222.4 949.4L223.4 949.4L223.4 939.1L224.4 940.3L224.4 947.3L225.4 953.2L225.4 934.4L226.4 941.7L226.4 950.3L227.4 954.2L227.4 939.9L228.4 945.2L228.4 955L229.4 960.8L229.4 946.8L230.4 946.8L230.4 960.1L231.4 960.7L231.4 947.2L232.4 950.6L232.4 964.9L233.4 963.1L233.4 949.2L234.4 948.3L234.4 960.3L235.4 963.5L235.4 950.2L236.4 953.2L236.4 965.5L237.4 967.6L237.4 954.3L238.4 955.6L238.4 967.3L239.4 971.5L239.4 957.5L240.4 954.9L240.4 969.8L241.4 973.4L241.4 957.3L242.4 960.4L242.4 972.7L243.4 974.1L243.4 960.3L244.4 962.7L244.4 976.8L245.4 987L245.4 965L246.4 966.3L246.4 980.3L247.4 978L247.4 964.4L248.4 969.7L248.4 981.3L249.4 982.4L249.4 963.2L250.4 971.7L250.4 984.6L251.4 985.6L251.4 972.9L252.4 968.6L252.4 986.2L253.4 987.9L253.4 969.6L254.4 972.8L254.4 989.7L255.4 990.5L255.4 972.6L256.4 974.4L256.4 991.4L257.4 994.9L257.4 978.2L258.4 980L258.4 993.5L259.4 994L259.4 983.8L260.4 982.1L260.4 998.1L261.4 1000.4L261.4 983L262.4 980.8L262.4 999.6L263.4 999.2L263.4 986.9L264.4 986.6L264.4 1000.5L265.4 1001.6L265.4 985.2L266.4 987.9L266.4 1002.1L267.4 1009L267.4 990.8L268.4 988.3L268.4 1008.7L269.4 1011.4L269.4 991.6L270.4 989L270.4 1009.6L271.4 1008.4L271.4 989.9L272.4 993.7L272.4 1009.5L273.4 1012.5L273.4 994.7L274.4 996.8L274.4 1015.5L275.4 1019.5L275.4 997.2L276.4 998.9L276.4 1024.8L277.4 1017.4L277.4 994.7L278.4 996.1L278.4 1022.5L279.4 1020.9L279.4 999.7L280.4 1000.6L280.4 1019.8L281.4 1013.9L281.4 1001.5L282.4 1001.2L282.4 1023.5L283.4 1029.1L283.4 1008.8L284.4 1004L284.4 1021.4L285.4 1028.8L285.4 1007.2L286.4 1000.2L286.4 1029L287.4 1026.6L287.4 1007.1L288.4 1000.8L288.4 1024.7L289.4 1032.8L289.4 1004.4L290.4 1010.9L290.4 1029.8L291.4 1032.5L291.4 1011.3L292.4 1011.5L292.4 1037.5L293.4 1035.5L293.4 1014.1L294.4 1007.1L294.4 1034.7L295.4 1034.9L295.4 1019.2L296.4 1011.5L296.4 1038L297.4 1041L297.4 1016L298.4 1020.9L298.4 1044.1L299.4 1050.1L299.4 1019.3L300.4 1020.5L300.4 1040.6L301.4 1047.9L301.4 1017.1L302.4 1022.9L302.4 1045.4L303.4 1050.2L303.4 1022.1L304.4 1027.5L304.4 1050.7L305.4 1052.8L305.4 1029L306.4 1023.9L306.4 1053.2L307.4 1055.4L307.4 1031.6L308.4 1029.5L308.4 1049.1L309.4 1061.6L309.4 1026.7L310.4 1034.8L310.4 1053.1L311.4 1052L311.4 1023.9L312.4 1035.3L312.4 1055.7L313.4 1057.8L313.4 1030.7L314.4 1035.7L314.4 1051.4L315.4 1063.9L315.4 1022.6L316.4 1034.9L316.4 1062.7L317.4 1064.9L317.4 1041.7L318.4 1030.6L318.4 1061.3L319.4 1063.6L319.4 1034.4L320.4 1037.2L320.4 1070.2L321.4 1070.7L321.4 1047L322.4 1034.9L322.4 1075.8L323.4 1063.3L323.4 1037.8L324.4 1042L324.4 1069.8L325.4 1070.3L325.4 1039.4L326.4 1043.8L326.4 1077.7L327.4 1066.5L327.4 1039.7L328.4 1045.6L328.4 1069L329.4 1078.9L329.4 1050.5L330.4 1043.1L330.4 1081.9L331.4 1091.2L331.4 1051L332.4 1041.9L332.4 1077.6L333.4 1075.4L333.4 1040.7L334.4 1046.7L334.4 1078L335.4 1096.2L335.4 1055L336.4 1048.5L336.4 1081.5L337.4 1076.6L337.4 1042.6L338.4 1053.8L338.4 1087.8L339.4 1082.6L339.4 1052.3L340.4 1059.7L340.4 1088.5L341.4 1095.8L341.4 1056L342.4 1051L342.4 1092.4L343.4 1083.7L343.4 1062.2L344.4 1066.5L344.4 1100.5L345.4 1093.6L345.4 1062.5L346.4 1058.7L346.4 1090.7L347.4 1094.6L347.4 1064.9L348.4 1055.2L348.4 1094.7L349.4 1115.5L349.4 1051.8L350.4 1065.5L350.4 1095.4L351.4 1095.9L351.4 1061.4L352.4 1070.2L352.4 1117L353.4 1104.3L353.4 1063.7L354.4 1072.9L354.4 1118.4L355.4 1109.1L355.4 1064L356.4 1068.5L356.4 1101.2L357.4 1114.7L357.4 1062.1L358.4 1064.3L358.4 1132.1L359.4 1115.5L359.4 1068.9L360.4 1062.4L360.4 1120.9L361.4 1106.7L361.4 1071.5L362.4 1064.7L362.4 1121.7L363.4 1117.1L363.4 1069.3L364.4 1077L364.4 1128.7L365.4 1129.1L365.4 1085.8L366.4 1077.3L366.4 1129.6L367.4 1130.1L367.4 1074.7L368.4 1080.2L368.4 1130.4L369.4 1119.2L369.4 1077.6L370.4 1072.4L370.4 1131.2L371.4 1119.7L371.4 1072.4L372.4 1072.5L372.4 1132L373.4 1120.2L373.4 1072.6L374.4 1072.7L374.4 1110.3L375.4 1140.3L375.4 1083.9L376.4 1067.8L376.4 1127L377.4 1133.8L377.4 1063.3L378.4 1090.7L378.4 1134.3L379.4 1121.9L379.4 1090.8L380.4 1084.4L380.4 1142.2L381.4 1135L381.4 1091L382.4 1070.5L382.4 1122.5L383.4 1143.6L383.4 1078.6L384.4 1075.8L384.4 1163.2L385.4 1153.1L385.4 1084.7L386.4 1088L386.4 1123.4L387.4 1136.9L387.4 1070.6L388.4 1091.6L388.4 1154.5L389.4 1130.4L389.4 1099.3L390.4 1091.7L390.4 1166L391.4 1155.4L391.4 1099.5L392.4 1088.4L392.4 1146.5L393.4 1167.5L393.4 1081.9L394.4 1095.7L394.4 1138.7L395.4 1168.5L395.4 1092.1L396.4 1092.1L396.4 1157.4L397.4 1147.9L397.4 1104.3L398.4 1104.4L398.4 1169.8L399.4 1158.5L399.4 1096L400.4 1100.1L400.4 1148.8L401.4 1171L401.4 1104.5L402.4 1092.4L402.4 1159.4L403.4 1159.8L403.4 1096.2L404.4 1100.4L404.4 1159.9L405.4 1188.3L405.4 1104.8L406.4 1104.9L406.4 1150.1L407.4 1150.5L407.4 1109.7L408.4 1109.8L408.4 1161.2L409.4 1174.2L409.4 1105L410.4 1109.9L410.4 1161.5L411.4 1175L411.4 1100.6L412.4 1092.6L412.4 1175.4L413.4 1175.4L413.4 1105.2L414.4 1100.7L414.4 1162.8L415.4 1176.3L415.4 1105.3L416.4 1115.5L416.4 1163.3L417.4 1163.5L417.4 1110.2L418.4 1100.8L418.4 1177.3L419.4 1219.8L419.4 1105.4L420.4 1128.1L420.4 1195.4L421.4 1196.1L421.4 1105.4L422.4 1105.5L422.4 1164.6L423.4 1196.7L423.4 1115.8L424.4 1105.5L424.4 1179.1L425.4 1165.3L425.4 1115.9L426.4 1121.9L426.4 1211.8L427.4 1186.9L427.4 1119.2L428.4 1126.5L428.4 1211.8L429.4 1211.8L429.4 1112.8L430.4 1112.8L430.4 1254.5L431.4 1211.8L431.4 1106.9L432.4 1119.2L432.4 1211.8L433.4 1211.8L433.4 1106.9L434.4 1126.5L434.4 1186.9L435.4 1254.5L435.4 1119.2L436.4 1119.2L436.4 1186.9L437.4 1169.2L437.4 1112.8L438.4 1096.6L438.4 1211.8L439.4 1186.9L439.4 1106.9L440.4 1126.5L440.4 1211.8L441.4 1211.8L441.4 1106.9L442.4 1112.8L442.4 1186.9L443.4 1254.5L443.4 1119.2L444.4 1134.7L444.4 1254.5L445.4 1254.5L445.4 1106.9L446.4 1106.9L446.4 1254.5L447.4 1254.5L447.4 1119.2L448.4 1134.7L448.4 1211.8L449.4 1254.5L449.4 1112.8L450.4 1126.5L450.4 1254.5L451.4 1254.5L451.4 1134.7L452.4 1134.7L452.4 1254.5L453.4 1254.5L453.4 1119.2L454.4 1126.5L454.4 1254.5L455.4 1254.5L455.4 1119.2L456.4 1126.5L456.4 1254.5L457.4 1211.8L457.4 1134.7L458.4 1155.4L458.4 1254.5L459.4 1254.5L459.4 1134.7L460.4 1126.5L460.4 1211.8L461.4 1254.5L461.4 1144.2L462.4 1144.2L462.4 1254.5L463.4 1254.5L463.4 1134.7L464.4 1134.7L464.4 1254.5L465.4 1254.5L465.4 1144.2L466.4 1112.8L466.4 1254.5L467.4 1254.5L467.4 1119.2L468.4 1134.7L468.4 1211.8L469.4 1254.5L469.4 1134.7L470.4 1144.2L470.4 1211.8L471.4 1254.5L471.4 1155.4L472.4 1155.4L472.4 1254.5L473.4 1254.5L473.4 1144.2L474.4 1126.5L474.4 1211.8L475.4 1254.5L475.4 1155.4L476.4 1144.2L476.4 1254.5L477.4 1254.5L477.4 1155.4L478.4 1144.2L478.4 1254.5L479.4 1254.5L479.4 1155.4L480.4 1144.2L480.4 1254.5L481.4 1254.5L481.4 1126.5L482.4 1144.2L482.4 1254.5L483.4 1254.5L483.4 1155.4L484.4 1144.2L484.4 1254.5L485.4 1254.5L485.4 1169.2L486.4 1169.2L486.4 1254.5L487.4 1254.5L487.4 1134.7L488.4 1126.5L488.4 1254.5L489.4 1254.5L489.4 1155.4L490.4 1155.4L490.4 1254.5L491.4 1254.5L491.4 1169.2L492.4 1119.2L492.4 1254.5L493.4 1254.5L493.4 1155.4L494.4 1155.4L494.4 1254.5L495.4 1254.5L495.4 1169.2L496.4 1144.2L496.4 1254.5L497.4 1254.5L497.4 1155.4L498.4 1155.4L498.4 1254.5L499.4 1254.5L499.4 1169.2L500.4 1155.4L500.4 1254.5L501.4 1254.5L501.4 1169.2L502.4 1155.4L502.4 1254.5L503.4 1254.5L503.4 1169.2L504.4 1144.2L504.4 1254.5L505.4 1254.5L505.4 1169.2L506.4 1169.2L506.4 1254.5L507.4 1254.5L507.4 1169.2L508.4 1155.4L508.4 1254.5L509.4 1254.5L509.4 1144.2L510.4 1155.4L510.4 1254.5L511.4 1254.5L511.4 1155.4L512.4 1155.4L512.4 1211.8L513.4 1254.5L513.4 1169.2L514.4 1169.2L514.4 1254.5L515.4 1254.5L515.4 1144.2L516.4 1186.9L516.4 1254.5L517.4 1254.5L517.4 1169.2L518.4 1169.2L518.4 1254.5L519.4 1254.5L519.4 1186.9L520.4 1169.2L520.4 1254.5L521.4 1254.5L521.4 1186.9L522.4 1186.9L522.4 1254.5L523.4 1254.5L523.4 1186.9L524.4 1155.4L524.4 1254.5L525.4 1254.5L525.4 1169.2L526.4 1169.2L526.4 1254.5L527.4 1254.5L527.4 1169.2L528.4 1155.4L528.4 1254.5L529.4 1254.5L529.4 1155.4L530.4 1186.9L530.4 1254.5L531.4 1254.5L531.4 1169.2L532.4 1186.9L532.4 1254.5L533.4 1254.5L533.4 1169.2L534.4 1169.2L534.4 1254.5L535.4 1254.5L535.4 1211.8L536.4 1186.9L536.4 1254.5L537.4 1254.5L537.4 1186.9L538.4 1169.2L538.4 1254.5L539.4 1254.5L539.4 1169.2L540.4 1169.2L540.4 1254.5L541.4 1254.5L541.4 1186.9L542.4 1186.9L542.4 1254.5L543.4 1254.5L543.4 1186.9L544.4 1169.2L544.4 1254.5L545.4 1254.5L545.4 1169.2L546.4 1169.2L546.4 1254.5L547.4 1254.5L547.4 1134.7L548.4 1169.2L548.4 1254.5L549.4 1254.5L549.4 1155.4L550.4 1169.2L550.4 1254.5L551.4 1254.5L551.4 1211.8L552.4 1186.9L552.4 1254.5L553.4 1254.5L553.4 1169.2L554.4 1186.9L554.4 1254.5L555.4 1254.5L555.4 1155.4L556.4 1169.2L556.4 1254.5L557.4 1254.5L557.4 1186.9L558.4 1186.9L558.4 1254.5L559.4 1254.5L559.4 1155.4L560.4 1169.2L560.4 1254.5L561.4 1254.5L561.4 1186.9L562.4 1186.9L562.4 1254.5L563.4 1254.5L563.4 1169.2L564.4 1211.8L564.4 1254.5L565.4 1254.5L565.4 1169.2L566.4 1186.9L566.4 1254.5L567.4 1254.5L567.4 1169.2L568.4 1186.9L568.4 1254.5L569.4 1254.5L569.4 1155.4L570.4 1155.4L570.4 1254.5L571.4 1254.5L571.4 1186.9L572.4 1186.9L572.4 1254.5L573.4 1254.5L573.4 1169.2L574.4 1186.9L574.4 1254.5L575.4 1254.5L575.4 1169.2L576.4 1169.2L576.4 1254.5L577.4 1254.5L577.4 1186.9L578.4 1186.9L578.4 1254.5L579.4 1254.5L579.4 1211.8L580.4 1186.9L580.4 1254.5L581.4 1254.5L581.4 1186.9L582.4 1211.8L582.4 1254.5L583.4 1254.5L583.4 1211.8L584.4 1186.9L584.4 1254.5L585.4 1254.5L585.4 1211.8L586.4 1186.9L586.4 1254.5L587.4 1254.5L587.4 1169.2L588.4 1211.8L588.4 1254.5L589.4 1254.5L589.4 1211.8L590.4 1211.8L590.4 1254.5L591.4 1254.5L591.4 1211.8L592.4 1211.8L592.4 1254.5L593.4 1254.5L593.4 1211.8L594.4 1169.2L594.4 1254.5L595.4 1254.5L595.4 1211.8L596.4 1254.5L597.4 1254.5L597.4 1186.9L598.4 1211.8L598.4 1254.5L599.4 1254.5L599.4 1186.9L600.4 1211.8L600.4 1254.5L601.4 1254.5L601.4 1186.9L602.4 1211.8L602.4 1254.5L603.4 1254.5L604.4 1211.8L604.4 1254.5L605.4 1254.5L605.4 1155.4L606.4 1169.2L606.4 1254.5L607.4 1254.5L607.4 1211.8L608.4 1211.8L608.4 1254.5L609.4 1254.5L609.4 1186.9L610.4 1186.9L610.4 1254.5L611.4 1254.5L611.4 1211.8L612.4 1186.9L612.4 1254.5L613.4 1254.5L613.4 1186.9L614.4 1186.9L614.4 1254.5L615.4 1254.5L615.4 1211.8L616.4 1186.9L616.4 1254.5L617.4 1254.5L617.4 1211.8L618.4 1169.2L618.4 1254.5L619.4 1254.5L619.4 1211.8L620.4 1211.8L620.4 1254.5L621.4 1254.5L621.4 1186.9L622.4 1186.9L622.4 1254.5L623.4 1254.5L623.4 1211.8L624.4 1169.2L624.4 1254.5L625.4 1254.5L625.4 1211.8L626.4 1186.9L626.4 1254.5L627.4 1254.5L628.4 1186.9L628.4 1254.5L629.4 1254.5L629.4 1186.9L630.4 1186.9L630.4 1254.5L631.4 1254.5L631.4 1186.9L632.4 1186.9L632.4 1254.5L633.4 1254.5L633.4 1186.9L634.4 1211.8L634.4 1254.5L635.4 1254.5L635.4 1186.9L636.4 1254.5L637.4 1254.5L637.4 1211.8L638.4 1169.2L638.4 1254.5L639.4 1254.5L639.4 1211.8L640.4 1186.9L640.4 1254.5L641.4 1254.5L641.4 1211.8L642.4 1254.5L643.4 1254.5L643.4 1211.8L644.4 1186.9L644.4 1254.5L645.4 1254.5L645.4 1211.8L646.4 1254.5L647.4 1254.5L647.4 1211.8L648.4 1211.8L648.4 1254.5L649.4 1254.5L649.4 1186.9L650.4 1211.8L650.4 1254.5L651.4 1254.5L651.4 1211.8L652.4 1186.9L652.4 1254.5L653.4 1254.5L653.4 1211.8L654.4 1186.9L654.4 1254.5L655.4 1254.5L655.4 1211.8L656.4 1211.8L656.4 1254.5L657.4 1254.5L657.4 1211.8L658.4 1211.8L658.4 1254.5L659.4 1254.5L659.4 1211.8L660.4 1211.8L660.4 1254.5L661.4 1254.5L661.4 1186.9L662.4 1186.9L662.4 1254.5L663.4 1254.5L663.4 1211.8L664.4 1211.8L664.4 1254.5L665.4 1254.5L666.4 1211.8L666.4 1254.5L667.4 1254.5L667.4 1211.8L668.4 1186.9L668.4 1254.5L669.4 1254.5L669.4 1186.9L670.4 1186.9L670.4 1254.5L671.4 1254.5L671.4 1211.8L672.4 1254.5L673.4 1254.5L673.4 1211.8L674.4 1211.8L674.4 1254.5L675.4 1254.5L675.4 1169.2L676.4 1211.8L676.4 1254.5L677.4 1254.5L677.4 1186.9L678.4 1211.8L678.4 1254.5L679.4 1254.5L679.4 1211.8L680.4 1186.9L680.4 1254.5L681.4 1254.5L681.4 1186.9L682.4 1186.9L682.4 1254.5L683.4 1254.5L683.4 1211.8L684.4 1186.9L684.4 1254.5L685.4 1254.5L685.4 1186.9L686.4 1211.8L686.4 1254.5L687.4 1254.5L688.4 1211.8L688.4 1254.5L689.4 1254.5L689.4 1169.2L690.4 1211.8L690.4 1254.5L691.4 1254.5L692.4 1211.8L692.4 1254.5L693.4 1254.5L694.4 1211.8L694.4 1254.5L695.4 1254.5L695.4 1211.8L696.4 1211.8L696.4 1254.5L697.4 1254.5L698.4 1211.8L698.4 1254.5L699.4 1254.5L699.4 1211.8L700.4 1186.9L700.4 1254.5L701.4 1254.5L701.4 1186.9L702.4 1211.8L702.4 1254.5L703.4 1254.5L703.4 1211.8L704.4 1211.8L704.4 1254.5L705.4 1254.5L705.4 1211.8L706.4 1211.8L706.4 1254.5L707.4 1254.5L707.4 1211.8L708.4 1211.8L708.4 1254.5L709.4 1254.5L710.4 1186.9L710.4 1254.5L711.4 1254.5L711.4 1211.8L712.4 1211.8L712.4 1254.5L713.4 1254.5L713.4 1211.8L714.4 1186.9L714.4 1254.5L715.4 1254.5L716.4 1155.4L716.4 1254.5L717.4 1254.5L717.4 1211.8L718.4 1186.9L718.4 1254.5L719.4 1254.5L719.4 1186.9L720.4 1211.8L720.4 1254.5L721.4 1254.5L721.4 1211.8L722.4 1211.8L722.4 1254.5L723.4 1254.5L724.4 1211.8L724.4 1254.5L725.4 1254.5L725.4 1211.8L726.4 1211.8L726.4 1254.5L727.4 1254.5L727.4 1169.2L728.4 1186.9L728.4 1254.5L729.4 1254.5L729.4 1211.8L730.4 1211.8L730.4 1254.5L731.4 1254.5L731.4 1169.2L732.4 1211.8L732.4 1254.5L733.4 1254.5L733.4 1211.8L734.4 1254.5L735.4 1254.5L736.4 1211.8L736.4 1254.5L737.4 1211.8L738.4 1211.8L738.4 1254.5L739.4 1254.5L739.4 1211.8L740.4 1186.9L740.4 1254.5L741.4 1254.5L741.4 1186.9L742.4 1254.5L743.4 1254.5L743.4 1211.8L744.4 1211.8L744.4 1254.5L745.4 1254.5L745.4 1211.8L746.4 1254.5L747.4 1254.5L747.4 1211.8L748.4 1186.9L748.4 1254.5L749.4 1254.5L749.4 1211.8L750.4 1186.9L750.4 1254.5L751.4 1254.5L752.4 1186.9L752.4 1254.5L753.4 1254.5L754.4 1211.8L754.4 1254.5L755.4 1254.5L755.4 1211.8L756.4 1254.5L757.4 1254.5L757.4 1211.8L758.4 1211.8L759.4 1254.5L760.4 1254.5L761.4 1254.5L761.4 1211.8L762.4 1211.8L762.4 1254.5L763.4 1254.5L763.4 1211.8L764.4 1211.8L764.4 1254.5L765.4 1254.5L765.4 1211.8L766.4 1254.5L767.4 1254.5L767.4 1186.9L768.4 1211.8L768.4 1254.5L769.4 1254.5L769.4 1186.9L770.4 1211.8L770.4 1254.5L771.4 1254.5L771.4 1211.8L772.4 1254.5L773.4 1254.5L773.4 1211.8L774.4 1211.8L774.4 1254.5L775.4 1254.5L775.4 1186.9L776.4 1186.9L776.4 1254.5L777.4 1254.5L777.4 1211.8L778.4 1211.8L778.4 1254.5L779.4 1254.5L780.4 1186.9L780.4 1254.5L781.4 1254.5L781.4 1211.8L782.4 1186.9L782.4 1254.5L783.4 1254.5L783.4 1211.8L784.4 1211.8L784.4 1254.5L785.4 1254.5L785.4 1211.8L786.4 1211.8L786.4 1254.5L787.4 1254.5L787.4 1211.8L788.4 1211.8L788.4 1254.5L789.4 1254.5L789.4 1211.8L790.4 1211.8L790.4 1254.5L791.4 1254.5L791.4 1211.8L792.4 1169.2L792.4 1254.5L793.4 1254.5L793.4 1211.8L794.4 1186.9L794.4 1254.5" stroke="#000"/>
<path d="M139.9 725.2L140.4 698.3L140.4 774.6L141.4 793.1L141.4 774.3L142.4 793.1L142.4 810.9L143.4 814.6L143.4 812.6L144.4 812.4L144.4 817.1L145.4 819L145.4 814.9L146.4 815.3L146.4 820.3L147.4 823.6L147.4 819L148.4 819.5L148.4 823.7L149.4 826.4L149.4 820.9L150.4 824.1L150.4 828.3L151.4 830.6L151.4 826.2L152.4 826.2L152.4 830.7L153.4 834.7L153.4 830.1L154.4 830.7L154.4 836.9L155.4 838L155.4 832.4L156.4 834.2L156.4 839.7L157.4 841.3L157.4 835.2L158.4 836.8L158.4 843.1L159.4 844.6L159.4 838.8L160.4 840.8L160.4 847.1L161.4 848.1L161.4 843.7L162.4 845.1L162.4 849.7L163.4 853.5L163.4 847.8L164.4 848.3L164.4 855.6L165.4 856.2L165.4 850.9L166.4 852.4L166.4 857.7L167.4 858.9L167.4 853.5L168.4 854L168.4 861.4L169.4 863.1L169.4 858.2L170.4 858.9L170.4 864.3L171.4 866.1L171.4 860.3L172.4 862.7L172.4 866.8L173.4 869.5L173.4 863.9L174.4 864.3L174.4 870.4L175.4 871.3L175.4 867.4L176.4 867L176.4 874.2L177.4 873.9L177.4 869.2L178.4 869.6L178.4 875.9L179.4 879.2L179.4 871.8L180.4 873.5L180.4 880.3L181.4 880.6L181.4 874.1L182.4 875.7L182.4 883.1L183.4 884.1L183.4 876.6L184.4 879.7L184.4 885.7L185.4 887.8L185.4 880.2L186.4 881.3L186.4 888.1L187.4 887.1L187.4 882.9L188.4 885.3L188.4 889.7L189.4 892L189.4 887.1L190.4 885.7L190.4 893.8L191.4 895.2L191.4 885.5L192.4 890.6L192.4 897.9L193.4 897.2L193.4 888.6L194.4 893.5L194.4 898.1L195.4 900.4L195.4 893.4L196.4 893.5L196.4 903.1L197.4 903.3L197.4 897.1L198.4 895.8L198.4 904.9L199.4 904.5L199.4 898.4L200.4 899.6L200.4 908L201.4 907.7L201.4 902.5L202.4 902.6L202.4 909.6L203.4 912.9L203.4 903.9L204.4 905.3L204.4 912.5L205.4 913.5L205.4 907.1L206.4 908L206.4 917.8L207.4 919.1L207.4 908.9L208.4 911L208.4 919.6L209.4 921.6L209.4 914.8L210.4 913.6L210.4 922.5L211.4 923L211.4 916.8L212.4 915.5L212.4 924.2L213.4 926.6L213.4 914.6L214.4 916.6L214.4 926.5L215.4 927.9L215.4 920.8L216.4 920.4L216.4 929L217.4 928.1L217.4 921.9L218.4 921.7L218.4 932.2L219.4 931.1L219.4 922.3L220.4 923.3L220.4 933.8L221.4 934.6L221.4 926.1L222.4 923.7L222.4 933.5L223.4 937.1L223.4 925.9L224.4 928.2L224.4 938.9L225.4 940.8L225.4 928.6L226.4 931.2L226.4 944.5L227.4 942.1L227.4 931.1L228.4 933.5L228.4 943.9L229.4 945.6L229.4 933.5L230.4 935.1L230.4 948L231.4 945.5L231.4 936.9L232.4 939.1L232.4 946.6L233.4 951.7L233.4 939.8L234.4 940.6L234.4 950.5L235.4 951.8L235.4 941.9L236.4 939.3L236.4 952.9L237.4 956.3L237.4 942.6L238.4 943.2L238.4 956L239.4 956.3L239.4 945.4L240.4 943.9L240.4 959.4L241.4 957.2L241.4 946.2L242.4 949.8L242.4 963.6L243.4 958.4L243.4 950L244.4 950.4L244.4 963.8L245.4 961.8L245.4 952L246.4 947.4L246.4 964.5L247.4 966L247.4 951.5L248.4 954.3L248.4 967.1L249.4 969L249.4 955.5L250.4 956.8L250.4 970.7L251.4 965.8L251.4 956.3L252.4 957.9L252.4 969.8L253.4 969.8L253.4 956.9L254.4 962.1L254.4 970L255.4 975.7L255.4 960.5L256.4 963.8L256.4 975.3L257.4 975.2L257.4 961.2L258.4 962.3L258.4 973.2L259.4 975L259.4 963.1L260.4 969.6L260.4 982.4L261.4 978.2L261.4 964.9L262.4 967.5L262.4 978.1L263.4 983.9L263.4 969.5L264.4 967.6L264.4 984.3L265.4 982.3L265.4 970.7L266.4 965.6L266.4 984.2L267.4 988.8L267.4 972.5L268.4 971.3L268.4 984.4L269.4 994.3L269.4 976.9L270.4 976.2L270.4 988.3L271.4 989.5L271.4 973L272.4 976.2L272.4 988.4L273.4 992.2L273.4 973.4L274.4 977.4L274.4 994.8L275.4 996.6L275.4 975.8L276.4 981.7L276.4 996.2L277.4 996.6L277.4 978.5L278.4 978.3L278.4 1001.5L279.4 1005.1L279.4 985.2L280.4 982.9L280.4 998.4L281.4 1000.6L281.4 982.2L282.4 989.3L282.4 1001.9L283.4 1007.4L283.4 986.2L284.4 986.5L284.4 1005.4L285.4 1004.4L285.4 993.9L286.4 987.8L286.4 1007.7L287.4 1003.6L287.4 989.7L288.4 995.3L288.4 1010L289.4 1014.2L289.4 993.8L290.4 993.3L290.4 1014.7L291.4 1007.2L291.4 995.5L292.4 997.6L292.4 1015.5L293.4 1013.4L293.4 997.1L294.4 1000L294.4 1015.4L295.4 1010.5L295.4 998.4L296.4 995.4L296.4 1025.6L297.4 1018.3L297.4 1000.8L298.4 1001.1L298.4 1020.3L299.4 1029.7L299.4 1005.6L300.4 1003.1L300.4 1025.8L301.4 1027.2L301.4 1002.6L302.4 1007.8L302.4 1019.9L303.4 1025.8L303.4 1000.3L304.4 1006.1L304.4 1023.4L305.4 1039.4L305.4 1008.1L306.4 1006.6L306.4 1025.1L307.4 1030.8L307.4 1006.9L308.4 1008.8L308.4 1027.6L309.4 1027.9L309.4 1014.6L310.4 1012.3L310.4 1029.6L311.4 1034.2L311.4 1010.1L312.4 1012.8L312.4 1038.5L313.4 1033.9L313.4 1013.2L314.4 1009.2L314.4 1038.1L315.4 1031L315.4 1016.1L316.4 1020L316.4 1037.5L317.4 1042.9L317.4 1020.4L318.4 1019.6L318.4 1043.3L319.4 1039.9L319.4 1019.8L320.4 1022.1L320.4 1041.4L321.4 1057L321.4 1013.1L322.4 1016.9L322.4 1044.9L323.4 1041.2L323.4 1019.8L324.4 1015.4L324.4 1042.7L325.4 1041.7L325.4 1023.1L326.4 1021.4L326.4 1043.6L327.4 1051.3L327.4 1025.7L328.4 1024.8L328.4 1051.4L329.4 1048.9L329.4 1030.5L330.4 1027.3L330.4 1057.5L331.4 1051L331.4 1032L332.4 1030L332.4 1054.5L333.4 1050.2L333.4 1037.4L334.4 1025L334.4 1057L335.4 1062.8L335.4 1031.8L336.4 1030.8L336.4 1057.8L337.4 1062L337.4 1032.3L338.4 1032.4L338.4 1070.4L339.4 1060.6L339.4 1038.9L340.4 1036.6L340.4 1071.2L341.4 1065.4L341.4 1034.1L342.4 1033.2L342.4 1054.6L343.4 1066.1L343.4 1035.8L344.4 1033.6L344.4 1066.6L345.4 1083.5L345.4 1041.5L346.4 1043.1L346.4 1069.1L347.4 1069.6L347.4 1041.9L348.4 1043.5L348.4 1067.9L349.4 1068.2L349.4 1045.2L350.4 1039.7L350.4 1075.3L351.4 1073.4L351.4 1051.8L352.4 1047.3L352.4 1078.7L353.4 1074.1L353.4 1050.5L354.4 1047.7L354.4 1076.8L355.4 1082.6L355.4 1049.4L356.4 1051.1L356.4 1068.2L357.4 1092.4L357.4 1048.1L358.4 1051.6L358.4 1089.7L359.4 1078.7L359.4 1057L360.4 1047L360.4 1078.8L361.4 1093.9L361.4 1053.7L362.4 1054L362.4 1088L363.4 1088.4L363.4 1054L364.4 1052.5L364.4 1095.3L365.4 1099.3L365.4 1056.1L366.4 1054.6L366.4 1089.6L367.4 1096.7L367.4 1066.4L368.4 1054.8L368.4 1097.1L369.4 1087.5L369.4 1048.2L370.4 1058.7L370.4 1087.8L371.4 1101.8L371.4 1051.6L372.4 1055.3L372.4 1098.3L373.4 1085.5L373.4 1065.2L374.4 1072.2L374.4 1107.1L375.4 1107.5L375.4 1057.4L376.4 1061.5L376.4 1103.7L377.4 1104.2L377.4 1077.9L378.4 1059.7L378.4 1089.9L379.4 1100.7L379.4 1066L380.4 1062L380.4 1114L381.4 1114.4L381.4 1062.1L382.4 1076.1L382.4 1119.9L383.4 1120.1L383.4 1081.7L384.4 1073.8L384.4 1126.3L385.4 1102.4L385.4 1064.5L386.4 1074L386.4 1127.4L387.4 1103L387.4 1064.7L388.4 1071.7L388.4 1116.9L389.4 1122.6L389.4 1067.1L390.4 1071.9L390.4 1143.4L391.4 1103.9L391.4 1082.9L392.4 1069.6L392.4 1104.3L393.4 1118.6L393.4 1072.2L394.4 1072.3L394.4 1119L395.4 1131.2L395.4 1069.9L396.4 1080.5L396.4 1131.5L397.4 1120L397.4 1083.6L398.4 1083.8L398.4 1120.2L399.4 1132.9L399.4 1080.8L400.4 1072.7L400.4 1115.5L401.4 1133.6L401.4 1084L402.4 1090.6L402.4 1127.4L403.4 1127.6L403.4 1075.5L404.4 1067.9L404.4 1134.5L405.4 1151.2L405.4 1091L406.4 1075.7L406.4 1142.9L407.4 1135.6L407.4 1087.7L408.4 1084.6L408.4 1143.5L409.4 1144.1L409.4 1095L410.4 1088L410.4 1144.2L411.4 1144.8L411.4 1099.1L412.4 1084.8L412.4 1145.1L413.4 1154.6L413.4 1084.9L414.4 1091.7L414.4 1145.7L415.4 1166.5L415.4 1088.3L416.4 1081.9L416.4 1138L417.4 1138.4L417.4 1091.9L418.4 1092L418.4 1138.7L419.4 1131.5L419.4 1092L420.4 1099.9L420.4 1168.8L421.4 1157.5L421.4 1095.9L422.4 1088.6L422.4 1157.8L423.4 1158.2L423.4 1092.2L424.4 1088.7L424.4 1170.6L425.4 1148.9L425.4 1096.1L426.4 1100.2L426.4 1171.2L427.4 1207.1L427.4 1088.8L428.4 1096.2L428.4 1149.6L429.4 1149.9L429.4 1114.6L430.4 1100.4L430.4 1160.4L431.4 1173.1L431.4 1092.5L432.4 1120.5L432.4 1173.6L433.4 1150.8L433.4 1096.4L434.4 1100.6L434.4 1212.9L435.4 1191.2L435.4 1100.6L436.4 1115.2L436.4 1175L437.4 1175.3L437.4 1096.5L438.4 1121.1L438.4 1192.5L439.4 1176.2L439.4 1115.4L440.4 1105.3L440.4 1193.3L441.4 1217.7L441.4 1105.3L442.4 1115.5L442.4 1194.4L443.4 1194.6L443.4 1105.4L444.4 1100.9L444.4 1177.6L445.4 1164.2L445.4 1105.4L446.4 1121.6L446.4 1164.5L447.4 1222L447.4 1105.5L448.4 1115.8L448.4 1164.9L449.4 1197.1L449.4 1121.8L450.4 1110.5L450.4 1197.5L451.4 1179.5L451.4 1115.9L452.4 1101.5L452.4 1211.8L453.4 1211.8L453.4 1112.8L454.4 1106.9L454.4 1186.9L455.4 1211.8L455.4 1106.9L456.4 1101.5L456.4 1186.9L457.4 1254.5L457.4 1096.6L458.4 1112.8L458.4 1211.8L459.4 1211.8L459.4 1119.2L460.4 1119.2L460.4 1254.5L461.4 1211.8L461.4 1119.2L462.4 1096.6L462.4 1211.8L463.4 1211.8L463.4 1112.8L464.4 1126.5L464.4 1211.8L465.4 1254.5L465.4 1119.2L466.4 1106.9L466.4 1211.8L467.4 1186.9L467.4 1119.2L468.4 1126.5L468.4 1254.5L469.4 1211.8L469.4 1112.8L470.4 1126.5L470.4 1211.8L471.4 1211.8L471.4 1119.2L472.4 1144.2L472.4 1211.8L473.4 1254.5L473.4 1119.2L474.4 1126.5L474.4 1211.8L475.4 1254.5L475.4 1112.8L476.4 1126.5L476.4 1254.5L477.4 1254.5L477.4 1155.4L478.4 1126.5L478.4 1211.8L479.4 1254.5L479.4 1144.2L480.4 1126.5L480.4 1211.8L481.4 1169.2L481.4 1119.2L482.4 1134.7L482.4 1254.5L483.4 1254.5L483.4 1126.5L484.4 1101.5L484.4 1254.5L485.4 1254.5L485.4 1134.7L486.4 1144.2L486.4 1254.5L487.4 1254.5L487.4 1126.5L488.4 1134.7L488.4 1254.5L489.4 1186.9L489.4 1134.7L490.4 1119.2L490.4 1254.5L491.4 1254.5L491.4 1126.5L492.4 1134.7L492.4 1211.8L493.4 1211.8L493.4 1106.9L494.4 1144.2L494.4 1211.8L495.4 1254.5L495.4 1144.2L496.4 1155.4L496.4 1254.5L497.4 1254.5L497.4 1134.7L498.4 1155.4L498.4 1254.5L499.4 1254.5L499.4 1155.4L500.4 1144.2L500.4 1254.5L501.4 1211.8L501.4 1144.2L502.4 1126.5L502.4 1254.5L503.4 1254.5L503.4 1144.2L504.4 1126.5L504.4 1254.5L505.4 1254.5L505.4 1126.5L506.4 1134.7L506.4 1254.5L507.4 1211.8L507.4 1144.2L508.4 1126.5L508.4 1254.5L509.4 1254.5L509.4 1134.7L510.4 1144.2L510.4 1254.5L511.4 1211.8L511.4 1155.4L512.4 1144.2L512.4 1254.5L513.4 1254.5L513.4 1144.2L514.4 1144.2L514.4 1254.5L515.4 1254.5L515.4 1155.4L516.4 1169.2L516.4 1254.5L517.4 1254.5L517.4 1126.5L518.4 1134.7L518.4 1211.8L519.4 1254.5L519.4 1134.7L520.4 1155.4L520.4 1211.8L521.4 1254.5L521.4 1144.2L522.4 1134.7L522.4 1254.5L523.4 1254.5L523.4 1155.4L524.4 1155.4L524.4 1254.5L525.4 1254.5L525.4 1144.2L526.4 1169.2L526.4 1254.5L527.4 1254.5L527.4 1155.4L528.4 1155.4L528.4 1254.5L529.4 1254.5L529.4 1169.2L530.4 1134.7L530.4 1254.5L531.4 1254.5L531.4 1155.4L532.4 1169.2L532.4 1254.5L533.4 1254.5L533.4 1169.2L534.4 1155.4L534.4 1254.5L535.4 1254.5L535.4 1155.4L536.4 1169.2L536.4 1254.5L537.4 1254.5L537.4 1169.2L538.4 1169.2L538.4 1254.5L539.4 1254.5L539.4 1169.2L540.4 1155.4L540.4 1254.5L541.4 1254.5L541.4 1134.7L542.4 1144.2L542.4 1211.8L543.4 1254.5L543.4 1155.4L544.4 1144.2L544.4 1254.5L545.4 1254.5L545.4 1169.2L546.4 1155.4L546.4 1254.5L547.4 1254.5L547.4 1155.4L548.4 1186.9L548.4 1254.5L549.4 1254.5L549.4 1155.4L550.4 1155.4L550.4 1254.5L551.4 1254.5L551.4 1155.4L552.4 1169.2L552.4 1254.5L553.4 1254.5L553.4 1155.4L554.4 1155.4L554.4 1254.5L555.4 1254.5L555.4 1155.4L556.4 1186.9L556.4 1254.5L557.4 1254.5L557.4 1155.4L558.4 1169.2L558.4 1254.5L559.4 1254.5L559.4 1169.2L560.4 1144.2L560.4 1254.5L561.4 1254.5L561.4 1144.2L562.4 1144.2L562.4 1254.5L563.4 1254.5L563.4 1169.2L564.4 1144.2L564.4 1254.5L565.4 1254.5L565.4 1169.2L566.4 1186.9L566.4 1254.5L567.4 1254.5L567.4 1169.2L568.4 1186.9L568.4 1254.5L569.4 1254.5L569.4 1186.9L570.4 1144.2L570.4 1254.5L571.4 1254.5L571.4 1186.9L572.4 1169.2L572.4 1254.5L573.4 1254.5L573.4 1186.9L574.4 1155.4L574.4 1254.5L575.4 1254.5L575.4 1155.4L576.4 1186.9L576.4 1254.5L577.4 1254.5L577.4 1186.9L578.4 1169.2L578.4 1254.5L579.4 1254.5L579.4 1186.9L580.4 1211.8L580.4 1254.5L581.4 1254.5L581.4 1169.2L582.4 1211.8L582.4 1254.5L583.4 1254.5L583.4 1169.2L584.4 1186.9L584.4 1254.5L585.4 1254.5L585.4 1155.4L586.4 1169.2L586.4 1254.5L587.4 1254.5L587.4 1155.4L588.4 1155.4L588.4 1254.5L589.4 1254.5L589.4 1186.9L590.4 1211.8L590.4 1254.5L591.4 1254.5L591.4 1186.9L592.4 1186.9L592.4 1254.5L593.4 1254.5L593.4 1169.2L594.4 1169.2L594.4 1254.5L595.4 1254.5L595.4 1169.2L596.4 1186.9L596.4 1254.5L597.4 1254.5L597.4 1169.2L598.4 1169.2L598.4 1254.5L599.4 1254.5L599.4 1186.9L600.4 1155.4L600.4 1254.5L601.4 1254.5L601.4 1169.2L602.4 1186.9L602.4 1254.5L603.4 1254.5L603.4 1186.9L604.4 1186.9L604.4 1254.5L605.4 1254.5L605.4 1169.2L606.4 1211.8L606.4 1254.5L607.4 1254.5L607.4 1211.8L608.4 1186.9L608.4 1254.5L609.4 1254.5L609.4 1155.4L610.4 1186.9L610.4 1254.5L611.4 1254.5L611.4 1186.9L612.4 1211.8L612.4 1254.5L613.4 1254.5L613.4 1211.8L614.4 1186.9L614.4 1254.5L615.4 1254.5L615.4 1186.9L616.4 1169.2L616.4 1254.5L617.4 1254.5L617.4 1186.9L618.4 1211.8L618.4 1254.5L619.4 1254.5L619.4 1186.9L620.4 1169.2L620.4 1254.5L621.4 1254.5L621.4 1186.9L622.4 1186.9L622.4 1254.5L623.4 1254.5L623.4 1186.9L624.4 1169.2L624.4 1254.5L625.4 1254.5L625.4 1186.9L626.4 1186.9L626.4 1254.5L627.4 1254.5L627.4 1186.9L628.4 1186.9L628.4 1254.5L629.4 1254.5L629.4 1186.9L630.4 1211.8L630.4 1254.5L631.4 1254.5L631.4 1169.2L632.4 1186.9L632.4 1254.5L633.4 1254.5L633.4 1186.9L634.4 1186.9L634.4 1254.5L635.4 1254.5L635.4 1211.8L636.4 1211.8L636.4 1254.5L637.4 1254.5L637.4 1211.8L638.4 1211.8L638.4 1254.5L639.4 1254.5L639.4 1211.8L640.4 1186.9L640.4 1254.5L641.4 1254.5L641.4 1186.9L642.4 1186.9L642.4 1254.5L643.4 1254.5L643.4 1169.2L644.4 1186.9L644.4 1254.5L645.4 1254.5L645.4 1169.2L646.4 1211.8L646.4 1254.5L647.4 1254.5L647.4 1211.8L648.4 1211.8L648.4 1254.5L649.4 1254.5L650.4 1211.8L650.4 1254.5L651.4 1254.5L651.4 1211.8L652.4 1169.2L652.4 1254.5L653.4 1254.5L653.4 1211.8L654.4 1211.8L654.4 1254.5L655.4 1254.5L655.4 1211.8L656.4 1254.5L657.4 1254.5L657.4 1211.8L658.4 1254.5L659.4 1254.5L659.4 1211.8L660.4 1254.5L661.4 1254.5L661.4 1211.8L662.4 1186.9L662.4 1254.5L663.4 1254.5L664.4 1211.8L664.4 1254.5L665.4 1254.5L665.4 1169.2L666.4 1169.2L666.4 1254.5L667.4 1254.5L667.4 1186.9L668.4 1186.9L668.4 1254.5L669.4 1254.5L669.4 1169.2L670.4 1211.8L670.4 1254.5L671.4 1254.5L671.4 1186.9L672.4 1211.8L672.4 1254.5L673.4 1254.5L673.4 1186.9L674.4 1254.5L675.4 1254.5L676.4 1211.8L676.4 1254.5L677.4 1254.5L677.4 1211.8L678.4 1186.9L678.4 1254.5L679.4 1254.5L679.4 1211.8L680.4 1211.8L680.4 1254.5L681.4 1254.5L681.4 1186.9L682.4 1211.8L682.4 1254.5L683.4 1254.5L683.4 1211.8L684.4 1211.8L684.4 1254.5L685.4 1254.5L685.4 1211.8L686.4 1211.8L686.4 1254.5L687.4 1254.5L687.4 1186.9L688.4 1211.8L688.4 1254.5L689.4 1254.5L689.4 1186.9L690.4 1186.9L690.4 1254.5L691.4 1254.5L691.4 1186.9L692.4 1186.9L692.4 1254.5L693.4 1254.5L693.4 1186.9L694.4 1186.9L694.4 1254.5L695.4 1254.5L695.4 1169.2L696.4 1186.9L696.4 1254.5L697.4 1254.5L697.4 1211.8L698.4 1211.8L698.4 1254.5L699.4 1254.5L699.4 1211.8L700.4 1254.5L701.4 1254.5L701.4 1211.8L702.4 1254.5L703.4 1254.5L703.4 1211.8L704.4 1169.2L704.4 1254.5L705.4 1254.5L706.4 1169.2L706.4 1254.5L707.4 1254.5L707.4 1211.8L708.4 1254.5L709.4 1254.5L709.4 1211.8L710.4 1254.5L711.4 1254.5L711.4 1211.8L712.4 1211.8L712.4 1254.5L713.4 1254.5L713.4 1211.8L714.4 1254.5L715.4 1254.5L715.4 1186.9L716.4 1211.8L716.4 1254.5L717.4 1254.5L717.4 1186.9L718.4 1211.8L718.4 1254.5L719.4 1254.5L719.4 1211.8L720.4 1186.9L720.4 1254.5L721.4 1254.5L721.4 1211.8L722.4 1254.5L723.4 1254.5L723.4 1186.9L724.4 1186.9L724.4 1254.5L725.4 1254.5L725.4 1211.8L726.4 1211.8L726.4 1254.5L727.4 1254.5L727.4 1211.8L728.4 1254.5L729.4 1254.5L730.4 1186.9L730.4 1254.5L731.4 1254.5L731.4 1169.2L732.4 1211.8L732.4 1254.5L733.4 1254.5L734.4 1211.8L734.4 1254.5L735.4 1254.5L735.4 1186.9L736.4 1211.8L736.4 1254.5L737.4 1254.5L738.4 1254.5L739.4 1254.5L740.4 1211.8L740.4 1254.5L741.4 1254.5L741.4 1211.8L742.4 1211.8L742.4 1254.5L743.4 1254.5L743.4 1211.8L744.4 1211.8L744.4 1254.5L745.4 1254.5L745.4 1211.8L746.4 1211.8L746.4 1254.5L747.4 1254.5L747.4 1211.8L748.4 1211.8L748.4 1254.5L749.4 1254.5L749.4 1186.9L750.4 1211.8L750.4 1254.5L751.4 1254.5L751.4 1211.8L752.4 1211.8L752.4 1254.5L753.4 1254.5L754.4 1254.5L755.4 1254.5L755.4 1211.8L756.4 1211.8L756.4 1254.5L757.4 1254.5L757.4 1211.8L758.4 1211.8L758.4 1254.5L759.4 1254.5L760.4 1186.9L760.4 1254.5L761.4 1254.5L761.4 1186.9L762.4 1211.8L762.4 1254.5L763.4 1254.5L763.4 1186.9L764.4 1211.8L764.4 1254.5L765.4 1254.5L765.4 1211.8L766.4 1254.5L767.4 1254.5L767.4 1211.8L768.4 1211.8L768.4 1254.5L769.4 1254.5L769.4 1211.8L770.4 1254.5L771.4 1254.5L771.4 1211.8L772.4 1211.8L772.4 1254.5L773.4 1254.5L774.4 1211.8L774.4 1254.5L775.4 1254.5L775.4 1211.8L776.4 1254.5L777.4 1254.5L778.4 1254.5L779.4 1254.5L780.4 1211.8L780.4 1254.5L781.4 1254.5L782.4 1211.8L782.4 1254.5L783.4 1254.5L783.4 1169.2L784.4 1254.5L785.4 1254.5L785.4 1186.9L786.4 1211.8L786.4 1254.5L787.4 1254.5L787.4 1211.8L788.4 1186.9L788.4 1254.5L789.4 1254.5L790.4 1211.8L790.4 1254.5L791.4 1254.5L792.4 1254.5L793.4 1254.5" stroke="#0a0ae0"/>
<path d="M139.9 725.2L140.4 696.8L140.4 769.9L141.4 787.8L141.4 771.6L142.4 789.6L142.4 807.4L143.4 811.7L143.4 806.4L144.4 809.2L144.4 813.7L145.4 815.4L145.4 810.4L146.4 812.3L146.4 816.6L147.4 819.9L147.4 815.5L148.4 817.4L148.4 819.7L149.4 821.4L149.4 818.6L150.4 819L150.4 823.9L151.4 826.2L151.4 821.3L152.4 823.2L152.4 828.1L153.4 829.5L153.4 825.6L154.4 825.9L154.4 832.7L155.4 832.3L155.4 828.8L156.4 830.7L156.4 833.8L157.4 835.7L157.4 831.6L158.4 833.6L158.4 838.4L159.4 840.6L159.4 836.5L160.4 837.7L160.4 841.6L161.4 844L161.4 839.6L162.4 841.4L162.4 846.8L163.4 848.3L163.4 842.9L164.4 845.2L164.4 849.8L165.4 851.4L165.4 846.9L166.4 848.2L166.4 854.7L167.4 854.2L167.4 849.6L168.4 851.5L168.4 857.4L169.4 858.1L169.4 854.7L170.4 854.3L170.4 861.4L171.4 863L171.4 855.5L172.4 857.4L172.4 863.4L173.4 864.9L173.4 858.3L174.4 860L174.4 866.3L175.4 867.6L175.4 862.7L176.4 863.7L176.4 868.7L177.4 870.2L177.4 865.2L178.4 865.3L178.4 871.5L179.4 874L179.4 868.9L180.4 869.7L180.4 876.3L181.4 877.5L181.4 869.6L182.4 869.4L182.4 878.1L183.4 880.7L183.4 871.6L184.4 873.6L184.4 879.7L185.4 879.8L185.4 875.5L186.4 876.4L186.4 883.6L187.4 884.4L187.4 878.4L188.4 879.6L188.4 886.5L189.4 886.4L189.4 881.4L190.4 883.1L190.4 890.9L191.4 889.7L191.4 884.4L192.4 886.9L192.4 893.1L193.4 891.8L193.4 885.7L194.4 887.3L194.4 894.1L195.4 895.5L195.4 889.4L196.4 888.8L196.4 898.1L197.4 900L197.4 892.3L198.4 892.2L198.4 899.1L199.4 904.2L199.4 894.1L200.4 895.6L200.4 903.3L201.4 903.3L201.4 896.1L202.4 898.1L202.4 906.6L203.4 908.7L203.4 899L204.4 900.6L204.4 910.4L205.4 912.2L205.4 904.4L206.4 898.9L206.4 910.9L207.4 914.3L207.4 903.8L208.4 906.9L208.4 913.7L209.4 916.1L209.4 908.9L210.4 908.6L210.4 916.9L211.4 918.4L211.4 911.1L212.4 910.9L212.4 925.7L213.4 919.8L213.4 912.4L214.4 913.8L214.4 921.6L215.4 924.5L215.4 912.3L216.4 915.2L216.4 924L217.4 925.2L217.4 916.2L218.4 916.2L218.4 927.9L219.4 927.1L219.4 919.9L220.4 919.1L220.4 928.2L221.4 930.6L221.4 920L222.4 922.7L222.4 928.1L223.4 934.2L223.4 920.9L224.4 924.4L224.4 933.6L225.4 937L225.4 925.5L226.4 921.2L226.4 937.5L227.4 936L227.4 928.3L228.4 925.3L228.4 938.5L229.4 937.6L229.4 929.2L230.4 932.3L230.4 941.9L231.4 943.7L231.4 935.6L232.4 932.5L232.4 944.1L233.4 944.4L233.4 933.9L234.4 935.2L234.4 945.7L235.4 945.1L235.4 933.7L236.4 937.9L236.4 948.5L237.4 948.6L237.4 937L238.4 937.7L238.4 951.6L239.4 951.7L239.4 939L240.4 940.1L240.4 957.8L241.4 950.7L241.4 941.6L242.4 944.7L242.4 955.9L243.4 957.1L243.4 944.2L244.4 941.4L244.4 955L245.4 960.1L245.4 944.9L246.4 945.5L246.4 963.4L247.4 960.3L247.4 947.9L248.4 944L248.4 961.9L249.4 960.5L249.4 949.3L250.4 954.8L250.4 963.6L251.4 966.2L251.4 954.6L252.4 954.4L252.4 964.1L253.4 966L253.4 954.3L254.4 951.6L254.4 973.1L255.4 973L255.4 957.7L256.4 954.8L256.4 969.1L257.4 973L257.4 957.6L258.4 954.3L258.4 970.6L259.4 974.2L259.4 958.2L260.4 956.8L260.4 977.2L261.4 978.6L261.4 964.2L262.4 960.4L262.4 980.7L263.4 979L263.4 961.9L264.4 960L264.4 976.1L265.4 980.1L265.4 964.5L266.4 967.6L266.4 977.8L267.4 979.8L267.4 968.4L268.4 971.7L268.4 983.7L269.4 987L269.4 968.6L270.4 973.4L270.4 981.6L271.4 984.7L271.4 969.1L272.4 968L272.4 986.6L273.4 989.1L273.4 973.9L274.4 973.3L274.4 988.5L275.4 989.3L275.4 975.2L276.4 974.6L276.4 991L277.4 999.2L277.4 978.7L278.4 977.9L278.4 991.1L279.4 998.7L279.4 977.9L280.4 983.5L280.4 999.7L281.4 996.9L281.4 974.8L282.4 981.5L282.4 994.1L283.4 1000.8L283.4 986.9L284.4 985.1L284.4 1002.7L285.4 999.5L285.4 986.3L286.4 987.9L286.4 1001.3L287.4 1005.3L287.4 986.5L288.4 984.6L288.4 1001.3L289.4 1001.8L289.4 985.5L290.4 986.3L290.4 1005.7L291.4 1006.6L291.4 987.6L292.4 993.6L292.4 1005.7L293.4 1009.7L293.4 992L294.4 997.1L294.4 1014.9L295.4 1014.4L295.4 991.9L296.4 989.9L296.4 1010.5L297.4 1016.8L297.4 991.2L298.4 990.4L298.4 1014.7L299.4 1018.6L299.4 999.7L300.4 994.3L300.4 1018L301.4 1017.5L301.4 995.1L302.4 996.6L302.4 1020.3L303.4 1020L303.4 1000.3L304.4 997.1L304.4 1019.4L305.4 1019.8L305.4 1002.7L306.4 1001.5L306.4 1030L307.4 1019.4L307.4 1003.3L308.4 998L308.4 1017.1L309.4 1022.1L309.4 1005.2L310.4 1004.6L310.4 1028.4L311.4 1023.7L311.4 1004.9L312.4 1010.4L312.4 1024.9L313.4 1034L313.4 1003.1L314.4 1009.3L314.4 1031L315.4 1032.5L315.4 1011.2L316.4 1010.6L316.4 1025.2L317.4 1034.2L317.4 1010.8L318.4 1013.6L318.4 1030.1L319.4 1037.3L319.4 1012.9L320.4 1006.9L320.4 1034.1L321.4 1035.5L321.4 1013.4L322.4 1009.5L322.4 1030L323.4 1047L323.4 1020.2L324.4 1016.7L324.4 1041.7L325.4 1039.6L325.4 1025.7L326.4 1021.9L326.4 1041.3L327.4 1041.6L327.4 1020.2L328.4 1020.3L328.4 1044.4L329.4 1042.3L329.4 1018.6L330.4 1022.8L330.4 1054.4L331.4 1051.5L331.4 1031.5L332.4 1028.4L332.4 1060.8L333.4 1047.8L333.4 1020.4L334.4 1026.7L334.4 1043.9L335.4 1050.1L335.4 1023.9L336.4 1024.2L336.4 1045.9L337.4 1057.2L337.4 1025.3L338.4 1030.9L338.4 1059.7L339.4 1058L339.4 1028.9L340.4 1025.9L340.4 1053.3L341.4 1058.8L341.4 1031.6L342.4 1034.1L342.4 1060.9L343.4 1067.4L343.4 1029.8L344.4 1034.7L344.4 1069.8L345.4 1053.4L345.4 1037.4L346.4 1040.1L346.4 1060.8L347.4 1071.1L347.4 1040.4L348.4 1035.5L348.4 1071.8L349.4 1059.8L349.4 1042.1L350.4 1042.4L350.4 1065.9L351.4 1070.6L351.4 1033.6L352.4 1033.7L352.4 1066.8L353.4 1069.2L353.4 1041.6L354.4 1040.4L354.4 1071.7L355.4 1067.7L355.4 1040.6L356.4 1040.8L356.4 1072.4L357.4 1075.2L357.4 1060.2L358.4 1053.3L358.4 1068.7L359.4 1089.5L359.4 1042.8L360.4 1047.4L360.4 1076.4L361.4 1084.5L361.4 1055.7L362.4 1050.9L362.4 1074.6L363.4 1080.1L363.4 1052.7L364.4 1052.9L364.4 1077.6L365.4 1083.6L365.4 1043.6L366.4 1053.4L366.4 1083.7L367.4 1073.7L367.4 1051.8L368.4 1055.5L368.4 1084.5L369.4 1082.1L369.4 1050.4L370.4 1057.5L370.4 1085.3L371.4 1088.4L371.4 1052.4L372.4 1050.8L372.4 1092.1L373.4 1099.4L373.4 1061.9L374.4 1051L374.4 1092.8L375.4 1100L375.4 1058.3L376.4 1060.4L376.4 1100.5L377.4 1090.5L377.4 1056.7L378.4 1060.7L378.4 1109.3L379.4 1101.7L379.4 1067L380.4 1061L380.4 1091.4L381.4 1098.5L381.4 1063.1L382.4 1065.3L382.4 1091.9L383.4 1095.6L383.4 1067.6L384.4 1063.4L384.4 1103.2L385.4 1107.8L385.4 1070.2L386.4 1063.7L386.4 1103.9L387.4 1100.4L387.4 1066L388.4 1059.8L388.4 1104.8L389.4 1113.9L389.4 1066.2L390.4 1064.1L390.4 1119.2L391.4 1110L391.4 1076L392.4 1071.2L392.4 1110.3L393.4 1106.3L393.4 1071.3L394.4 1073.9L394.4 1133.1L395.4 1111.2L395.4 1076.6L396.4 1082.2L396.4 1127.6L397.4 1107.4L397.4 1071.7L398.4 1071.8L398.4 1117L399.4 1108L399.4 1071.9L400.4 1077.2L400.4 1143.5L401.4 1113.2L401.4 1069.6L402.4 1069.7L402.4 1124L403.4 1118.7L403.4 1069.8L404.4 1065.2L404.4 1114L405.4 1131.5L405.4 1065.2L406.4 1080.5L406.4 1138.9L407.4 1125.8L407.4 1080.6L408.4 1083.8L408.4 1126.1L409.4 1148.1L409.4 1067.7L410.4 1083.9L410.4 1148.6L411.4 1133.4L411.4 1084L412.4 1087.3L412.4 1149.5L413.4 1127.6L413.4 1081.1L414.4 1075.6L414.4 1141.9L415.4 1128.1L415.4 1078.4L416.4 1084.4L416.4 1128.4L417.4 1143.1L417.4 1094.7L418.4 1078.6L418.4 1135.8L419.4 1136L419.4 1087.9L420.4 1095L420.4 1163.4L421.4 1144.4L421.4 1099L422.4 1095.2L422.4 1144.8L423.4 1154.2L423.4 1081.7L424.4 1099.3L424.4 1165.4L425.4 1145.7L425.4 1078.8L426.4 1088.3L426.4 1166.2L427.4 1180.6L427.4 1091.8L428.4 1095.6L428.4 1167.2L429.4 1131.2L429.4 1081.9L430.4 1085.1L430.4 1138.9L431.4 1156.9L431.4 1088.5L432.4 1088.6L432.4 1157.5L433.4 1169.4L433.4 1104.2L434.4 1100L434.4 1169.9L435.4 1158.4L435.4 1100.1L436.4 1100.1L436.4 1158.6L437.4 1159.1L437.4 1104.5L438.4 1100.2L438.4 1171.5L439.4 1149.4L439.4 1104.7L440.4 1082.1L440.4 1172.1L441.4 1188.4L441.4 1096.3L442.4 1100.4L442.4 1173.1L443.4 1173.5L443.4 1092.5L444.4 1109.7L444.4 1189.8L445.4 1174.2L445.4 1115L446.4 1115.1L446.4 1174.4L447.4 1174.8L447.4 1100.6L448.4 1110L448.4 1175.2L449.4 1175.4L449.4 1092.6L450.4 1096.5L450.4 1162.6L451.4 1175.8L451.4 1110.1L452.4 1096.6L452.4 1176.2L453.4 1163.2L453.4 1110.2L454.4 1110.2L454.4 1176.7L455.4 1152.4L455.4 1096.6L456.4 1115.6L456.4 1163.7L457.4 1194.9L457.4 1096.6L458.4 1110.3L458.4 1177.7L459.4 1195.6L459.4 1121.5L460.4 1110.4L460.4 1220.7L461.4 1196.1L461.4 1100.9L462.4 1115.8L462.4 1178.6L463.4 1222.3L463.4 1100.9L464.4 1121.8L464.4 1179L465.4 1197.5L465.4 1128.4L466.4 1115.9L466.4 1179.4L467.4 1186.9L467.4 1119.2L468.4 1106.9L468.4 1211.8L469.4 1211.8L469.4 1112.8L470.4 1119.2L470.4 1186.9L471.4 1211.8L471.4 1119.2L472.4 1126.5L472.4 1211.8L473.4 1254.5L473.4 1101.5L474.4 1112.8L474.4 1211.8L475.4 1186.9L475.4 1112.8L476.4 1126.5L476.4 1254.5L477.4 1211.8L477.4 1119.2L478.4 1112.8L478.4 1186.9L479.4 1155.4L479.4 1112.8L480.4 1126.5L480.4 1254.5L481.4 1186.9L481.4 1112.8L482.4 1126.5L482.4 1254.5L483.4 1254.5L483.4 1134.7L484.4 1119.2L484.4 1211.8L485.4 1186.9L485.4 1119.2L486.4 1134.7L486.4 1186.9L487.4 1254.5L487.4 1112.8L488.4 1134.7L488.4 1211.8L489.4 1186.9L489.4 1112.8L490.4 1119.2L490.4 1211.8L491.4 1186.9L491.4 1126.5L492.4 1112.8L492.4 1211.8L493.4 1254.5L493.4 1134.7L494.4 1126.5L494.4 1254.5L495.4 1211.8L495.4 1134.7L496.4 1126.5L496.4 1254.5L497.4 1254.5L497.4 1119.2L498.4 1134.7L498.4 1211.8L499.4 1211.8L499.4 1126.5L500.4 1126.5L500.4 1211.8L501.4 1254.5L501.4 1126.5L502.4 1126.5L502.4 1254.5L503.4 1254.5L503.4 1144.2L504.4 1126.5L504.4 1254.5L505.4 1254.5L505.4 1144.2L506.4 1126.5L506.4 1254.5L507.4 1254.5L507.4 1144.2L508.4 1134.7L508.4 1211.8L509.4 1254.5L509.4 1119.2L510.4 1134.7L510.4 1254.5L511.4 1254.5L511.4 1144.2L512.4 1134.7L512.4 1254.5L513.4 1211.8L513.4 1134.7L514.4 1106.9L514.4 1211.8L515.4 1254.5L515.4 1134.7L516.4 1155.4L516.4 1254.5L517.4 1254.5L517.4 1134.7L518.4 1126.5L518.4 1254.5L519.4 1254.5L519.4 1119.2L520.4 1119.2L520.4 1254.5L521.4 1254.5L521.4 1144.2L522.4 1144.2L522.4 1254.5L523.4 1254.5L523.4 1134.7L524.4 1155.4L524.4 1254.5L525.4 1211.8L525.4 1155.4L526.4 1134.7L526.4 1211.8L527.4 1254.5L527.4 1134.7L528.4 1144.2L528.4 1254.5L529.4 1254.5L529.4 1144.2L530.4 1144.2L530.4 1254.5L531.4 1254.5L531.4 1155.4L532.4 1155.4L532.4 1254.5L533.4 1254.5L533.4 1134.7L534.4 1144.2L534.4 1254.5L535.4 1254.5L535.4 1155.4L536.4 1144.2L536.4 1254.5L537.4 1254.5L537.4 1134.7L538.4 1144.2L538.4 1254.5L539.4 1254.5L539.4 1155.4L540.4 1144.2L540.4 1254.5L541.4 1254.5L541.4 1134.7L542.4 1144.2L542.4 1254.5L543.4 1254.5L543.4 1126.5L544.4 1144.2L544.4 1254.5L545.4 1254.5L545.4 1144.2L546.4 1169.2L546.4 1254.5L547.4 1254.5L547.4 1155.4L548.4 1144.2L548.4 1254.5L549.4 1254.5L549.4 1144.2L550.4 1169.2L550.4 1254.5L551.4 1254.5L551.4 1155.4L552.4 1144.2L552.4 1254.5L553.4 1254.5L553.4 1155.4L554.4 1155.4L554.4 1254.5L555.4 1254.5L555.4 1155.4L556.4 1186.9L556.4 1254.5L557.4 1254.5L557.4 1155.4L558.4 1155.4L558.4 1254.5L559.4 1254.5L559.4 1169.2L560.4 1134.7L560.4 1254.5L561.4 1254.5L561.4 1144.2L562.4 1169.2L562.4 1254.5L563.4 1254.5L563.4 1155.4L564.4 1155.4L564.4 1254.5L565.4 1254.5L565.4 1155.4L566.4 1186.9L566.4 1254.5L567.4 1254.5L567.4 1155.4L568.4 1155.4L568.4 1254.5L569.4 1254.5L569.4 1155.4L570.4 1155.4L570.4 1211.8L571.4 1254.5L571.4 1144.2L572.4 1155.4L572.4 1254.5L573.4 1254.5L573.4 1134.7L574.4 1155.4L574.4 1254.5L575.4 1254.5L575.4 1169.2L576.4 1186.9L576.4 1254.5L577.4 1254.5L577.4 1155.4L578.4 1169.2L578.4 1254.5L579.4 1254.5L579.4 1186.9L580.4 1144.2L580.4 1254.5L581.4 1254.5L581.4 1155.4L582.4 1186.9L582.4 1254.5L583.4 1254.5L583.4 1186.9L584.4 1169.2L584.4 1254.5L585.4 1254.5L585.4 1134.7L586.4 1144.2L586.4 1254.5L587.4 1254.5L587.4 1155.4L588.4 1169.2L588.4 1254.5L589.4 1254.5L589.4 1186.9L590.4 1155.4L590.4 1254.5L591.4 1254.5L591.4 1186.9L592.4 1155.4L592.4 1254.5L593.4 1254.5L593.4 1186.9L594.4 1169.2L594.4 1254.5L595.4 1254.5L595.4 1186.9L596.4 1169.2L596.4 1254.5L597.4 1254.5L597.4 1186.9L598.4 1169.2L598.4 1254.5L599.4 1254.5L599.4 1186.9L600.4 1169.2L600.4 1254.5L601.4 1254.5L601.4 1169.2L602.4 1169.2L602.4 1254.5L603.4 1254.5L603.4 1186.9L604.4 1169.2L604.4 1254.5L605.4 1254.5L605.4 1169.2L606.4 1169.2L606.4 1254.5L607.4 1254.5L607.4 1169.2L608.4 1169.2L608.4 1254.5L609.4 1254.5L609.4 1169.2L610.4 1155.4L610.4 1254.5L611.4 1254.5L611.4 1186.9L612.4 1169.2L612.4 1254.5L613.4 1254.5L613.4 1186.9L614.4 1169.2L614.4 1254.5L615.4 1254.5L615.4 1186.9L616.4 1186.9L616.4 1254.5L617.4 1254.5L617.4 1211.8L618.4 1186.9L618.4 1254.5L619.4 1254.5L619.4 1186.9L620.4 1211.8L620.4 1254.5L621.4 1254.5L621.4 1211.8L622.4 1186.9L622.4 1254.5L623.4 1254.5L623.4 1169.2L624.4 1169.2L624.4 1254.5L625.4 1254.5L625.4 1211.8L626.4 1211.8L626.4 1254.5L627.4 1254.5L627.4 1186.9L628.4 1169.2L628.4 1254.5L629.4 1254.5L629.4 1186.9L630.4 1186.9L630.4 1254.5L631.4 1254.5L631.4 1169.2L632.4 1211.8L632.4 1254.5L633.4 1254.5L633.4 1169.2L634.4 1211.8L634.4 1254.5L635.4 1254.5L635.4 1186.9L636.4 1211.8L636.4 1254.5L637.4 1254.5L637.4 1186.9L638.4 1169.2L638.4 1254.5L639.4 1254.5L639.4 1211.8L640.4 1211.8L640.4 1254.5L641.4 1254.5L641.4 1169.2L642.4 1186.9L642.4 1254.5L643.4 1254.5L643.4 1211.8L644.4 1186.9L644.4 1254.5L645.4 1254.5L645.4 1186.9L646.4 1169.2L646.4 1254.5L647.4 1254.5L647.4 1211.8L648.4 1211.8L648.4 1254.5L649.4 1254.5L649.4 1186.9L650.4 1186.9L650.4 1254.5L651.4 1254.5L651.4 1211.8L652.4 1211.8L652.4 1254.5L653.4 1254.5L653.4 1186.9L654.4 1186.9L654.4 1254.5L655.4 1254.5L655.4 1155.4L656.4 1186.9L656.4 1254.5L657.4 1254.5L657.4 1169.2L658.4 1211.8L658.4 1254.5L659.4 1254.5L659.4 1186.9L660.4 1211.8L660.4 1254.5L661.4 1254.5L661.4 1211.8L662.4 1186.9L662.4 1254.5L663.4 1254.5L663.4 1186.9L664.4 1254.5L665.4 1254.5L665.4 1211.8L666.4 1186.9L666.4 1254.5L667.4 1254.5L668.4 1186.9L668.4 1254.5L669.4 1254.5L669.4 1186.9L670.4 1211.8L670.4 1254.5L671.4 1254.5L671.4 1211.8L672.4 1211.8L672.4 1254.5L673.4 1254.5L673.4 1211.8L674.4 1211.8L674.4 1254.5L675.4 1254.5L675.4 1211.8L676.4 1186.9L676.4 1254.5L677.4 1254.5L677.4 1211.8L678.4 1186.9L678.4 1254.5L679.4 1254.5L679.4 1186.9L680.4 1211.8L680.4 1254.5L681.4 1254.5L681.4 1211.8L682.4 1211.8L682.4 1254.5L683.4 1254.5L683.4 1211.8L684.4 1211.8L684.4 1254.5L685.4 1254.5L685.4 1211.8L686.4 1186.9L686.4 1254.5L687.4 1254.5L687.4 1186.9L688.4 1186.9L688.4 1254.5L689.4 1254.5L689.4 1211.8L690.4 1186.9L690.4 1254.5L691.4 1254.5L691.4 1211.8L692.4 1211.8L692.4 1254.5L693.4 1254.5L693.4 1186.9L694.4 1186.9L694.4 1254.5L695.4 1254.5L695.4 1211.8L696.4 1254.5L697.4 1254.5L697.4 1211.8L698.4 1211.8L698.4 1254.5L699.4 1254.5L699.4 1186.9L700.4 1211.8L700.4 1254.5L701.4 1254.5L701.4 1169.2L702.4 1211.8L702.4 1254.5L703.4 1254.5L703.4 1186.9L704.4 1211.8L704.4 1254.5L705.4 1254.5L705.4 1186.9L706.4 1211.8L706.4 1254.5L707.4 1254.5L707.4 1211.8L708.4 1186.9L708.4 1254.5L709.4 1254.5L709.4 1211.8L710.4 1254.5L711.4 1254.5L711.4 1211.8L712.4 1211.8L712.4 1254.5L713.4 1254.5L713.4 1211.8L714.4 1254.5L715.4 1254.5L716.4 1254.5L717.4 1254.5L717.4 1211.8L718.4 1186.9L718.4 1254.5L719.4 1254.5L719.4 1186.9L720.4 1186.9L720.4 1254.5L721.4 1254.5L721.4 1211.8L722.4 1254.5L723.4 1254.5L723.4 1211.8L724.4 1211.8L724.4 1254.5L725.4 1254.5L725.4 1211.8L726.4 1211.8L726.4 1254.5L727.4 1254.5L727.4 1186.9L728.4 1211.8L728.4 1254.5L729.4 1254.5L729.4 1186.9L730.4 1211.8L730.4 1254.5L731.4 1254.5L731.4 1211.8L732.4 1211.8L732.4 1254.5L733.4 1254.5L733.4 1211.8L734.4 1211.8L734.4 1254.5L735.4 1254.5L735.4 1211.8L736.4 1211.8L736.4 1254.5L737.4 1254.5L737.4 1211.8L738.4 1254.5L739.4 1254.5L739.4 1211.8L740.4 1211.8L740.4 1254.5L741.4 1254.5L741.4 1211.8L742.4 1211.8L742.4 1254.5L743.4 1254.5L743.4 1211.8L744.4 1211.8L744.4 1254.5L745.4 1254.5L745.4 1211.8L746.4 1211.8L746.4 1254.5L747.4 1254.5L747.4 1211.8L748.4 1211.8L748.4 1254.5L749.4 1254.5L749.4 1186.9L750.4 1211.8L750.4 1254.5L751.4 1254.5L751.4 1186.9L752.4 1211.8L752.4 1254.5L753.4 1254.5L754.4 1211.8L754.4 1254.5L755.4 1254.5L755.4 1211.8L756.4 1254.5L757.4 1254.5L757.4 1211.8L758.4 1186.9L758.4 1254.5L759.4 1254.5L759.4 1211.8L760.4 1254.5L761.4 1254.5L761.4 1186.9L762.4 1211.8L762.4 1254.5L763.4 1254.5L764.4 1211.8L764.4 1254.5L765.4 1254.5L765.4 1211.8L766.4 1186.9L766.4 1254.5L767.4 1254.5L767.4 1211.8L768.4 1186.9L768.4 1254.5L769.4 1254.5L769.4 1211.8L770.4 1211.8L770.4 1254.5L771.4 1254.5L771.4 1186.9L772.4 1186.9L772.4 1254.5L773.4 1254.5L774.4 1211.8L774.4 1254.5L775.4 1254.5L775.4 1186.9L776.4 1211.8L776.4 1254.5L777.4 1254.5L777.4 1186.9L778.4 1211.8L778.4 1254.5L779.4 1186.9L780.4 1211.8L780.4 1254.5L781.4 1254.5L781.4 1211.8L782.4 1211.8L782.4 1254.5L783.4 1254.5L783.4 1211.8L784.4 1211.8L784.4 1254.5L785.4 1254.5L785.4 1211.8L786.4 1211.8L786.4 1254.5L787.4 1254.5L787.4 1169.2L788.4 1211.8L788.4 1254.5L789.4 1254.5L789.4 1186.9L790.4 1211.8L790.4 1254.5" stroke="#cd050a"/>
</g>
<rect x="131.5" y="730.2" width="664.2" height="534" fill="none" stroke="#000" stroke-width="3.1"/>
<path d="M130 1254.5h-8.6M130 1112.8h-8.6M130 971h-8.6M130 829.3h-8.6" stroke="#000" stroke-width="3" fill="none"/>
<path d="M130 1261h-3.5M130 1211.8h-3.5M130 1186.9h-3.5M130 1169.2h-3.5M130 1155.4h-3.5M130 1144.2h-3.5M130 1134.7h-3.5M130 1126.5h-3.5M130 1119.2h-3.5M130 1070.1h-3.5M130 1045.1h-3.5M130 1027.4h-3.5M130 1013.7h-3.5M130 1002.5h-3.5M130 993h-3.5M130 984.8h-3.5M130 977.5h-3.5M130 928.4h-3.5M130 903.4h-3.5M130 885.7h-3.5M130 871.9h-3.5M130 860.7h-3.5M130 851.2h-3.5M130 843h-3.5M130 835.8h-3.5M130 786.6h-3.5M130 761.7h-3.5M130 743.9h-3.5M130 730.2h-3.5" stroke="#000" stroke-width="2.8" fill="none"/>
<path d="M139.6 1265.7v8.6M303.6 1265.7v8.6M467.6 1265.7v8.6M631.6 1265.7v8.6M795.6 1265.7v8.6" stroke="#000" stroke-width="3.1" fill="none"/>
<path d="M221.6 1265.7v3.8M385.6 1265.7v3.8M549.6 1265.7v3.8M713.6 1265.7v3.8" stroke="#000" stroke-width="3.1" fill="none"/>
<text x="140.1" y="1306.7" font-size="40" text-anchor="middle" stroke="#000" stroke-width="0.5">0</text>
<text x="304.1" y="1306.7" font-size="40" text-anchor="middle" stroke="#000" stroke-width="0.5">1</text>
<text x="468.1" y="1306.7" font-size="40" text-anchor="middle" stroke="#000" stroke-width="0.5">2</text>
<text x="632.1" y="1306.7" font-size="40" text-anchor="middle" stroke="#000" stroke-width="0.5">3</text>
<text x="796.1" y="1306.7" font-size="40" text-anchor="middle" stroke="#000" stroke-width="0.5">4</text>
<text x="105.8" y="1266.7" font-size="40" text-anchor="end" stroke="#000" stroke-width="0.5">10</text>
<text x="105.7" y="1253.7" font-size="23.3" stroke="#000" stroke-width="0.5">0</text>
<text x="105.8" y="1125" font-size="40" text-anchor="end" stroke="#000" stroke-width="0.5">10</text>
<text x="105.7" y="1112" font-size="23.3" stroke="#000" stroke-width="0.5">1</text>
<text x="105.8" y="983.2" font-size="40" text-anchor="end" stroke="#000" stroke-width="0.5">10</text>
<text x="105.7" y="970.2" font-size="23.3" stroke="#000" stroke-width="0.5">2</text>
<text x="105.8" y="841.5" font-size="40" text-anchor="end" stroke="#000" stroke-width="0.5">10</text>
<text x="105.7" y="828.5" font-size="23.3" stroke="#000" stroke-width="0.5">3</text>
<text x="482.3" y="1348.1" font-size="40" text-anchor="middle" stroke="#000" stroke-width="0.5">Time (s)</text>
<text font-size="40" text-anchor="middle" stroke="#000" stroke-width="0.5" transform="translate(44.6 970) rotate(-90)">Intensity (counts)</text>
<text x="0.8" y="729.9" font-size="50.3" stroke="#000" stroke-width="0.5">(b)</text>
<text x="223.2" y="805.3" font-size="39" font-family='"Liberation Serif", serif'>λ</text>
<text x="243.4" y="817.9" font-size="24" stroke="#000" stroke-width="0.5">em</text>
<text x="281.7" y="805.3" font-size="39.5" stroke="#000" stroke-width="0.5">= 540 nm</text>
<path d="M588.5 784.7L666.9 784.7" stroke="#000" stroke-width="3.6"/>
<text x="687.6" y="795.8" font-size="39.7" stroke="#000" stroke-width="0.5">7 V</text>
<path d="M588.5 833.6L666.9 833.6" stroke="#0a0ae0" stroke-width="3.6"/>
<text x="687.6" y="845.5" font-size="39.7" stroke="#000" stroke-width="0.5">8 V</text>
<path d="M588.5 886.7L666.9 886.7" stroke="#b9142c" stroke-width="3.6"/>
<text x="687.6" y="898.6" font-size="39.7" stroke="#000" stroke-width="0.5">9 V</text>
<g clip-path="url(#clipc)" stroke-width="3" stroke-linejoin="round">
<path d="M1035.8 29.6L1036.3 10L1036.3 82.2L1037.3 101L1037.3 84L1038.3 100.7L1038.3 116.9L1039.3 121.6L1039.3 116.3L1040.3 117.4L1040.3 121.6L1041.3 122.9L1041.3 119.9L1042.3 121.4L1042.3 125L1043.3 128.1L1043.3 120.3L1044.3 124.1L1044.3 128.7L1045.3 129.8L1045.3 126.1L1046.3 128.6L1046.3 132L1047.3 133.2L1047.3 128.5L1048.3 130.9L1048.3 134.8L1049.3 137L1049.3 133.2L1050.3 133.6L1050.3 139.1L1051.3 140.6L1051.3 135.6L1052.3 138L1052.3 143L1053.3 144.3L1053.3 139.8L1054.3 141.6L1054.3 147.4L1055.3 150.1L1055.3 142L1056.3 144.6L1056.3 149.1L1057.3 151.9L1057.3 147.2L1058.3 148.8L1058.3 152.6L1059.3 155L1059.3 150.9L1060.3 152.7L1060.3 157.7L1061.3 159.1L1061.3 154.7L1062.3 156.5L1062.3 160.5L1063.3 162.8L1063.3 157.9L1064.3 159.4L1064.3 165.4L1065.3 165L1065.3 160.5L1066.3 160.9L1066.3 166.1L1067.3 167.6L1067.3 163L1068.3 162.5L1068.3 169.4L1069.3 168.8L1069.3 165.8L1070.3 165.3L1070.3 171.9L1071.3 171.9L1071.3 166.2L1072.3 168.2L1072.3 173.4L1073.3 174.7L1073.3 168.8L1074.3 170.5L1074.3 177L1075.3 175.9L1075.3 171.9L1076.3 173.3L1076.3 178.1L1077.3 180.5L1077.3 172.1L1078.3 174.7L1078.3 181.7L1079.3 181.9L1079.3 175.6L1080.3 178.4L1080.3 183.8L1081.3 187.9L1081.3 178L1082.3 179.2L1082.3 184.7L1083.3 187.2L1083.3 181.2L1084.3 182.6L1084.3 187.8L1085.3 188.2L1085.3 182.5L1086.3 184.2L1086.3 191.4L1087.3 192.5L1087.3 186L1088.3 186.6L1088.3 194.4L1089.3 194.7L1089.3 188.2L1090.3 188.4L1090.3 194.8L1091.3 196L1091.3 188.9L1092.3 192.4L1092.3 196.8L1093.3 199.9L1093.3 191.4L1094.3 194.5L1094.3 198.9L1095.3 201.4L1095.3 194.6L1096.3 197.5L1096.3 204.3L1097.3 204.1L1097.3 196.3L1098.3 199.2L1098.3 205.2L1099.3 205L1099.3 198.4L1100.3 200.2L1100.3 207.5L1101.3 208.3L1101.3 201.6L1102.3 205L1102.3 209.4L1103.3 210.4L1103.3 203L1104.3 203.7L1104.3 213.2L1105.3 213.9L1105.3 206L1106.3 205L1106.3 212.5L1107.3 216.4L1107.3 207.3L1108.3 206.9L1108.3 216.6L1109.3 217.3L1109.3 209L1110.3 208.7L1110.3 219.3L1111.3 222L1111.3 211.9L1112.3 214.6L1112.3 222.7L1113.3 223.1L1113.3 215L1114.3 216.5L1114.3 225.7L1115.3 224.6L1115.3 218.2L1116.3 214.3L1116.3 225.2L1117.3 226.1L1117.3 219L1118.3 216.2L1118.3 227.6L1119.3 228.3L1119.3 220.7L1120.3 223.4L1120.3 231.6L1121.3 229.5L1121.3 222.5L1122.3 223.2L1122.3 232.3L1123.3 234.3L1123.3 225.2L1124.3 227.1L1124.3 233.2L1125.3 240L1125.3 228.2L1126.3 228.4L1126.3 243.2L1127.3 236.9L1127.3 226.2L1128.3 232.3L1128.3 238.1L1129.3 243.8L1129.3 230.8L1130.3 231.9L1130.3 242.8L1131.3 243.6L1131.3 229.4L1132.3 231.1L1132.3 248.2L1133.3 244.8L1133.3 235.8L1134.3 237.4L1134.3 245L1135.3 245.5L1135.3 240L1136.3 237.6L1136.3 247.8L1137.3 251.8L1137.3 239.4L1138.3 237.7L1138.3 253.1L1139.3 254.8L1139.3 244.9L1140.3 242L1140.3 252.2L1141.3 253.2L1141.3 244.2L1142.3 243.1L1142.3 255.6L1143.3 257L1143.3 244.5L1144.3 248.8L1144.3 258.2L1145.3 259.3L1145.3 246.7L1146.3 246.9L1146.3 256.5L1147.3 260.3L1147.3 251L1148.3 250.4L1148.3 264.4L1149.3 267.6L1149.3 254.5L1150.3 252.9L1150.3 263.9L1151.3 265.8L1151.3 251.7L1152.3 254.5L1152.3 266.9L1153.3 265.1L1153.3 256.4L1154.3 257.1L1154.3 269.4L1155.3 267.9L1155.3 257.2L1156.3 259.3L1156.3 269.6L1157.3 271.8L1157.3 259.6L1158.3 262.5L1158.3 273.3L1159.3 274.9L1159.3 261.9L1160.3 262.1L1160.3 276.8L1161.3 279.4L1161.3 258.5L1162.3 266L1162.3 275.2L1163.3 278.2L1163.3 264.8L1164.3 262.7L1164.3 277.9L1165.3 278.7L1165.3 270.1L1166.3 270.9L1166.3 281.4L1167.3 282.9L1167.3 270.5L1168.3 270.4L1168.3 287.8L1169.3 284.6L1169.3 273.7L1170.3 271.1L1170.3 287.1L1171.3 288.4L1171.3 278.3L1172.3 274.6L1172.3 286.3L1173.3 292.4L1173.3 279.2L1174.3 279.6L1174.3 292.7L1175.3 295.2L1175.3 279.3L1176.3 278.9L1176.3 292.8L1177.3 294.2L1177.3 279.2L1178.3 278.3L1178.3 296.8L1179.3 298.1L1179.3 282.3L1180.3 276.8L1180.3 300.8L1181.3 298.5L1181.3 285.2L1182.3 285L1182.3 298.4L1183.3 298.8L1183.3 289.9L1184.3 283.8L1184.3 299.6L1185.3 304.2L1185.3 286.3L1186.3 287.4L1186.3 306.5L1187.3 303.6L1187.3 292L1188.3 290.5L1188.3 302.9L1189.3 306.3L1189.3 288.9L1190.3 293.6L1190.3 307.8L1191.3 310.3L1191.3 294.8L1192.3 298.2L1192.3 308.1L1193.3 313.1L1193.3 294.3L1194.3 299.6L1194.3 314.9L1195.3 323L1195.3 297.5L1196.3 297.8L1196.3 320.8L1197.3 323.8L1197.3 299.2L1198.3 293.6L1198.3 323.5L1199.3 316.7L1199.3 296L1200.3 306L1200.3 318L1201.3 320.7L1201.3 302.1L1202.3 307.9L1202.3 324.9L1203.3 325.5L1203.3 306.4L1204.3 308L1204.3 324.1L1205.3 329.1L1205.3 311.5L1206.3 305.3L1206.3 323.3L1207.3 326.2L1207.3 305.5L1208.3 307.6L1208.3 336.1L1209.3 330.6L1209.3 312L1210.3 314.4L1210.3 337.8L1211.3 330.5L1211.3 316.2L1212.3 318.9L1212.3 342L1213.3 335.2L1213.3 311.6L1214.3 312.6L1214.3 339.5L1215.3 336.9L1215.3 317.4L1216.3 316L1216.3 339.5L1217.3 341L1217.3 321.8L1218.3 321.2L1218.3 344.8L1219.3 345L1219.3 324.1L1220.3 317.9L1220.3 344.4L1221.3 349.6L1221.3 323.6L1222.3 328.4L1222.3 348.9L1223.3 346.6L1223.3 326L1224.3 324.6L1224.3 344.6L1225.3 347.4L1225.3 331.1L1226.3 323.2L1226.3 345.5L1227.3 350.8L1227.3 331.6L1228.3 335L1228.3 358.3L1229.3 360.3L1229.3 323.2L1230.3 327.6L1230.3 362.2L1231.3 345.9L1231.3 335.7L1232.3 333.9L1232.3 357L1233.3 352.9L1233.3 336.2L1234.3 337.5L1234.3 360.7L1235.3 359.7L1235.3 331.5L1236.3 333.9L1236.3 365.1L1237.3 360.6L1237.3 334.1L1238.3 340.7L1238.3 367.3L1239.3 366.3L1239.3 340L1240.3 333.8L1240.3 366.6L1241.3 363.6L1241.3 341.6L1242.3 338.4L1242.3 376.8L1243.3 377.5L1243.3 339.5L1244.3 339.8L1244.3 358.2L1245.3 374L1245.3 348.5L1246.3 341.4L1246.3 374.7L1247.3 371.2L1247.3 346.5L1248.3 350.6L1248.3 391.6L1249.3 382.4L1249.3 349.5L1250.3 351L1250.3 364.8L1251.3 380.8L1251.3 347.3L1252.3 352.8L1252.3 379.1L1253.3 384.1L1253.3 350.3L1254.3 350.6L1254.3 384.4L1255.3 387.4L1255.3 364.6L1256.3 353.7L1256.3 383L1257.3 380.8L1257.3 349.7L1258.3 354.1L1258.3 391.1L1259.3 388.9L1259.3 362L1260.3 355.9L1260.3 379.7L1261.3 392.6L1261.3 357.7L1262.3 361.1L1262.3 387.7L1263.3 399.2L1263.3 359.7L1264.3 350.7L1264.3 385.7L1265.3 393.9L1265.3 353.8L1266.3 367.1L1266.3 389L1267.3 394.6L1267.3 367.3L1268.3 355.7L1268.3 398.2L1269.3 412.2L1269.3 367.6L1270.3 364.1L1270.3 416.6L1271.3 421.8L1271.3 366.1L1272.3 350.1L1272.3 399.5L1273.3 396.9L1273.3 366.3L1274.3 361.2L1274.3 410.5L1275.3 403.9L1275.3 368.5L1276.3 364.9L1276.3 407.6L1277.3 404.4L1277.3 366.9L1278.3 375L1278.3 398.3L1279.3 416.7L1279.3 375.2L1280.3 382.2L1280.3 409.2L1281.3 417.7L1281.3 375.5L1282.3 367.4L1282.3 406.1L1283.3 427.7L1283.3 375.8L1284.3 367.6L1284.3 414.5L1285.3 424L1285.3 383L1286.3 376.1L1286.3 424.3L1287.3 419.9L1287.3 380.9L1288.3 376.3L1288.3 430.3L1289.3 420.7L1289.3 381.1L1290.3 368.1L1290.3 412.3L1291.3 426.2L1291.3 386.4L1292.3 386.6L1292.3 421.5L1293.3 438.4L1293.3 389.4L1294.3 381.7L1294.3 432.9L1295.3 433.1L1295.3 377L1296.3 389.8L1296.3 439.8L1297.3 428.4L1297.3 387.2L1298.3 393.1L1298.3 440.6L1299.3 428.9L1299.3 382.1L1300.3 393.2L1300.3 429.4L1301.3 419.5L1301.3 393.4L1302.3 387.7L1302.3 429.9L1303.3 430.4L1303.3 387.7L1304.3 393.7L1304.3 436.4L1305.3 450.7L1305.3 403.8L1306.3 380.1L1306.3 420.6L1307.3 443.9L1307.3 385.3L1308.3 382.7L1308.3 437.6L1309.3 444.9L1309.3 388.2L1310.3 400.9L1310.3 471.5L1311.3 462.2L1311.3 382.8L1312.3 397.6L1312.3 445.7L1313.3 454.1L1313.3 404.7L1314.3 391.3L1314.3 454.4L1315.3 446.8L1315.3 397.8L1316.3 394.6L1316.3 455.1L1317.3 440.1L1317.3 409.1L1318.3 409.1L1318.3 465.3L1319.3 465.4L1319.3 398L1320.3 413.6L1320.3 448.1L1321.3 456.8L1321.3 401.7L1322.3 405.5L1322.3 448.8L1323.3 467.2L1323.3 401.8L1324.3 401.8L1324.3 449.2L1325.3 467.9L1325.3 409.7L1326.3 401.9L1326.3 468.2L1327.3 480.5L1327.3 380.4L1328.3 395L1328.3 458.7L1329.3 459L1329.3 419L1330.3 424.2L1330.3 497.6L1331.3 482.4L1331.3 395.1L1332.3 414.5L1332.3 470.2L1333.3 483.3L1333.3 430.1L1334.3 424.6L1334.3 483.6L1335.3 483.8L1335.3 419.4L1336.3 410.3L1336.3 522.8L1337.3 484.7L1337.3 402.2L1338.3 414.8L1338.3 471.9L1339.3 472.3L1339.3 414.9L1340.3 410.4L1340.3 472.6L1341.3 472.8L1341.3 419.8L1342.3 415L1342.3 486.4L1343.3 504.4L1343.3 410.5L1344.3 419.9L1344.3 504.5L1345.3 505.3L1345.3 431.1L1346.3 420L1346.3 531L1347.3 488.2L1347.3 420L1348.3 420.1L1348.3 506.3L1349.3 533.1L1349.3 420.1L1350.3 428.8L1350.3 496.3L1351.3 496.3L1351.3 428.8L1352.3 428.8L1352.3 478.6L1353.3 496.3L1353.3 428.8L1354.3 411.2L1354.3 521.1L1355.3 563.7L1355.3 428.8L1356.3 416.5L1356.3 496.3L1357.3 563.7L1357.3 428.8L1358.3 436L1358.3 496.3L1359.3 563.7L1359.3 436L1360.3 428.8L1360.3 521.1L1361.3 563.7L1361.3 416.5L1362.3 436L1362.3 521.1L1363.3 563.7L1363.3 428.8L1364.3 436L1364.3 521.1L1365.3 563.7L1365.3 436L1366.3 436L1366.3 563.7L1367.3 521.1L1367.3 416.5L1368.3 453.7L1368.3 563.7L1369.3 563.7L1369.3 444.2L1370.3 444.2L1370.3 563.7L1371.3 563.7L1371.3 444.2L1372.3 444.2L1372.3 563.7L1373.3 563.7L1373.3 444.2L1374.3 416.5L1374.3 496.3L1375.3 521.1L1375.3 428.8L1376.3 436L1376.3 563.7L1377.3 563.7L1377.3 436L1378.3 444.2L1378.3 563.7L1379.3 563.7L1379.3 453.7L1380.3 436L1380.3 563.7L1381.3 563.7L1381.3 464.9L1382.3 453.7L1382.3 563.7L1383.3 563.7L1383.3 444.2L1384.3 436L1384.3 563.7L1385.3 563.7L1385.3 453.7L1386.3 428.8L1386.3 521.1L1387.3 563.7L1387.3 453.7L1388.3 436L1388.3 563.7L1389.3 563.7L1389.3 436L1390.3 444.2L1390.3 563.7L1391.3 563.7L1391.3 464.9L1392.3 464.9L1392.3 563.7L1393.3 496.3L1393.3 444.2L1394.3 453.7L1394.3 563.7L1395.3 563.7L1395.3 444.2L1396.3 464.9L1396.3 563.7L1397.3 563.7L1397.3 453.7L1398.3 464.9L1398.3 563.7L1399.3 563.7L1399.3 444.2L1400.3 453.7L1400.3 563.7L1401.3 563.7L1401.3 464.9L1402.3 444.2L1402.3 563.7L1403.3 563.7L1403.3 464.9L1404.3 464.9L1404.3 563.7L1405.3 563.7L1405.3 453.7L1406.3 444.2L1406.3 563.7L1407.3 563.7L1407.3 464.9L1408.3 453.7L1408.3 563.7L1409.3 563.7L1409.3 464.9L1410.3 464.9L1410.3 563.7L1411.3 563.7L1411.3 444.2L1412.3 478.6L1412.3 563.7L1413.3 563.7L1413.3 464.9L1414.3 453.7L1414.3 563.7L1415.3 521.1L1415.3 464.9L1416.3 478.6L1416.3 563.7L1417.3 563.7L1417.3 453.7L1418.3 478.6L1418.3 563.7L1419.3 563.7L1419.3 496.3L1420.3 453.7L1420.3 563.7L1421.3 563.7L1421.3 496.3L1422.3 496.3L1422.3 563.7L1423.3 563.7L1423.3 478.6L1424.3 464.9L1424.3 563.7L1425.3 563.7L1425.3 478.6L1426.3 464.9L1426.3 563.7L1427.3 563.7L1427.3 478.6L1428.3 464.9L1428.3 563.7L1429.3 563.7L1429.3 478.6L1430.3 464.9L1430.3 563.7L1431.3 563.7L1431.3 496.3L1432.3 496.3L1432.3 563.7L1433.3 563.7L1433.3 453.7L1434.3 478.6L1434.3 563.7L1435.3 563.7L1435.3 464.9L1436.3 496.3L1436.3 563.7L1437.3 563.7L1437.3 478.6L1438.3 478.6L1438.3 563.7L1439.3 563.7L1439.3 478.6L1440.3 478.6L1440.3 563.7L1441.3 563.7L1441.3 444.2L1442.3 444.2L1442.3 563.7L1443.3 563.7L1443.3 478.6L1444.3 478.6L1444.3 563.7L1445.3 563.7L1445.3 453.7L1446.3 464.9L1446.3 563.7L1447.3 563.7L1447.3 453.7L1448.3 496.3L1448.3 563.7L1449.3 563.7L1449.3 496.3L1450.3 478.6L1450.3 563.7L1451.3 563.7L1451.3 478.6L1452.3 521.1L1452.3 563.7L1453.3 563.7L1453.3 478.6L1454.3 496.3L1454.3 563.7L1455.3 563.7L1455.3 521.1L1456.3 464.9L1456.3 563.7L1457.3 563.7L1457.3 453.7L1458.3 464.9L1458.3 563.7L1459.3 563.7L1459.3 478.6L1460.3 444.2L1460.3 563.7L1461.3 563.7L1461.3 496.3L1462.3 464.9L1462.3 563.7L1463.3 563.7L1463.3 496.3L1464.3 478.6L1464.3 563.7L1465.3 563.7L1465.3 478.6L1466.3 496.3L1466.3 563.7L1467.3 563.7L1467.3 464.9L1468.3 478.6L1468.3 563.7L1469.3 563.7L1469.3 478.6L1470.3 496.3L1470.3 563.7L1471.3 563.7L1471.3 478.6L1472.3 496.3L1472.3 563.7L1473.3 563.7L1473.3 496.3L1474.3 521.1L1474.3 563.7L1475.3 563.7L1475.3 464.9L1476.3 478.6L1476.3 563.7L1477.3 563.7L1477.3 453.7L1478.3 496.3L1478.3 563.7L1479.3 563.7L1479.3 496.3L1480.3 496.3L1480.3 563.7L1481.3 563.7L1481.3 521.1L1482.3 478.6L1482.3 563.7L1483.3 563.7L1483.3 496.3L1484.3 496.3L1484.3 563.7L1485.3 563.7L1485.3 521.1L1486.3 496.3L1486.3 563.7L1487.3 563.7L1487.3 496.3L1488.3 521.1L1488.3 563.7L1489.3 563.7L1489.3 478.6L1490.3 496.3L1490.3 563.7L1491.3 563.7L1491.3 496.3L1492.3 478.6L1492.3 563.7L1493.3 563.7L1493.3 496.3L1494.3 521.1L1494.3 563.7L1495.3 563.7L1495.3 478.6L1496.3 521.1L1496.3 563.7L1497.3 563.7L1497.3 496.3L1498.3 478.6L1498.3 563.7L1499.3 563.7L1499.3 496.3L1500.3 496.3L1500.3 563.7L1501.3 563.7L1501.3 521.1L1502.3 496.3L1502.3 563.7L1503.3 563.7L1503.3 496.3L1504.3 521.1L1504.3 563.7L1505.3 563.7L1505.3 478.6L1506.3 496.3L1506.3 563.7L1507.3 563.7L1507.3 464.9L1508.3 496.3L1508.3 563.7L1509.3 563.7L1509.3 496.3L1510.3 521.1L1510.3 563.7L1511.3 563.7L1511.3 496.3L1512.3 521.1L1512.3 563.7L1513.3 563.7L1513.3 478.6L1514.3 521.1L1514.3 563.7L1515.3 563.7L1515.3 496.3L1516.3 496.3L1516.3 563.7L1517.3 563.7L1517.3 521.1L1518.3 496.3L1518.3 563.7L1519.3 563.7L1519.3 521.1L1520.3 521.1L1520.3 563.7L1521.3 563.7L1522.3 478.6L1522.3 563.7L1523.3 563.7L1523.3 478.6L1524.3 521.1L1524.3 563.7L1525.3 563.7L1525.3 496.3L1526.3 496.3L1526.3 563.7L1527.3 563.7L1527.3 521.1L1528.3 563.7L1529.3 563.7L1530.3 521.1L1530.3 563.7L1531.3 563.7L1531.3 496.3L1532.3 478.6L1532.3 563.7L1533.3 563.7L1533.3 521.1L1534.3 478.6L1534.3 563.7L1535.3 563.7L1535.3 496.3L1536.3 496.3L1536.3 563.7L1537.3 563.7L1537.3 496.3L1538.3 496.3L1538.3 563.7L1539.3 563.7L1539.3 521.1L1540.3 478.6L1540.3 563.7L1541.3 563.7L1541.3 521.1L1542.3 521.1L1542.3 563.7L1543.3 563.7L1543.3 521.1L1544.3 496.3L1544.3 563.7L1545.3 563.7L1546.3 478.6L1546.3 563.7L1547.3 563.7L1547.3 521.1L1548.3 521.1L1548.3 563.7L1549.3 563.7L1549.3 496.3L1550.3 521.1L1550.3 563.7L1551.3 563.7L1551.3 496.3L1552.3 478.6L1552.3 563.7L1553.3 563.7L1553.3 521.1L1554.3 478.6L1554.3 563.7L1555.3 563.7L1555.3 521.1L1556.3 521.1L1556.3 563.7L1557.3 563.7L1557.3 496.3L1558.3 521.1L1558.3 563.7L1559.3 563.7L1559.3 478.6L1560.3 496.3L1560.3 563.7L1561.3 563.7L1561.3 496.3L1562.3 496.3L1562.3 563.7L1563.3 563.7L1563.3 496.3L1564.3 496.3L1564.3 563.7L1565.3 563.7L1565.3 496.3L1566.3 521.1L1566.3 563.7L1567.3 563.7L1567.3 496.3L1568.3 521.1L1568.3 563.7L1569.3 563.7L1569.3 496.3L1570.3 496.3L1570.3 563.7L1571.3 563.7L1571.3 521.1L1572.3 521.1L1572.3 563.7L1573.3 563.7L1573.3 521.1L1574.3 563.7L1575.3 563.7L1575.3 521.1L1576.3 496.3L1576.3 563.7L1577.3 563.7L1577.3 496.3L1578.3 478.6L1578.3 563.7L1579.3 563.7L1579.3 478.6L1580.3 496.3L1580.3 563.7L1581.3 563.7L1581.3 496.3L1582.3 496.3L1582.3 563.7L1583.3 563.7L1583.3 521.1L1584.3 521.1L1584.3 563.7L1585.3 563.7L1585.3 521.1L1586.3 496.3L1586.3 563.7L1587.3 563.7L1587.3 521.1L1588.3 521.1L1588.3 563.7L1589.3 563.7L1589.3 496.3L1590.3 496.3L1590.3 563.7L1591.3 563.7L1591.3 521.1L1592.3 478.6L1592.3 563.7L1593.3 563.7L1593.3 478.6L1594.3 496.3L1594.3 563.7L1595.3 563.7L1595.3 496.3L1596.3 496.3L1596.3 521.1L1597.3 563.7L1597.3 521.1L1598.3 496.3L1598.3 563.7L1599.3 563.7L1599.3 496.3L1600.3 521.1L1600.3 563.7L1601.3 563.7L1601.3 521.1L1602.3 521.1L1602.3 563.7L1603.3 563.7L1603.3 521.1L1604.3 521.1L1604.3 563.7L1605.3 563.7L1605.3 521.1L1606.3 521.1L1606.3 563.7L1607.3 563.7L1607.3 496.3L1608.3 521.1L1608.3 563.7L1609.3 563.7L1609.3 521.1L1610.3 521.1L1610.3 563.7L1611.3 563.7L1611.3 521.1L1612.3 496.3L1612.3 563.7L1613.3 563.7L1613.3 521.1L1614.3 563.7L1615.3 563.7L1615.3 521.1L1616.3 521.1L1616.3 563.7L1617.3 563.7L1617.3 496.3L1618.3 521.1L1618.3 563.7L1619.3 563.7L1620.3 521.1L1620.3 563.7L1621.3 563.7L1621.3 496.3L1622.3 521.1L1622.3 563.7L1623.3 563.7L1623.3 496.3L1624.3 496.3L1624.3 563.7L1625.3 563.7L1625.3 521.1L1626.3 521.1L1626.3 563.7L1627.3 563.7L1627.3 496.3L1628.3 521.1L1628.3 563.7L1629.3 563.7L1629.3 496.3L1630.3 496.3L1630.3 563.7L1631.3 563.7L1631.3 496.3L1632.3 563.7L1633.3 563.7L1633.3 521.1L1634.3 478.6L1634.3 563.7L1635.3 563.7L1635.3 521.1L1636.3 521.1L1636.3 563.7L1637.3 563.7L1637.3 496.3L1638.3 496.3L1638.3 563.7L1639.3 563.7L1639.3 521.1L1640.3 521.1L1640.3 563.7L1641.3 563.7L1641.3 496.3L1642.3 521.1L1642.3 563.7L1643.3 563.7L1643.3 521.1L1644.3 496.3L1644.3 563.7L1645.3 563.7L1645.3 496.3L1646.3 563.7L1647.3 563.7L1647.3 521.1L1648.3 521.1L1648.3 563.7L1649.3 563.7L1650.3 521.1L1650.3 563.7L1651.3 563.7L1651.3 521.1L1652.3 496.3L1652.3 563.7L1653.3 563.7L1653.3 496.3L1654.3 496.3L1654.3 563.7L1655.3 563.7L1655.3 496.3L1656.3 496.3L1656.3 563.7L1657.3 563.7L1658.3 521.1L1658.3 563.7L1659.3 563.7L1659.3 478.6L1660.3 496.3L1660.3 563.7L1661.3 563.7L1661.3 521.1L1662.3 496.3L1662.3 563.7L1663.3 563.7L1663.3 521.1L1664.3 521.1L1664.3 563.7L1665.3 563.7L1666.3 521.1L1666.3 563.7L1667.3 563.7L1668.3 563.7L1669.3 563.7L1669.3 478.6L1670.3 521.1L1670.3 563.7L1671.3 563.7L1671.3 521.1L1672.3 521.1L1672.3 563.7L1673.3 563.7L1673.3 496.3L1674.3 563.7L1675.3 563.7L1675.3 478.6L1676.3 496.3L1676.3 563.7L1677.3 563.7L1677.3 496.3L1678.3 496.3L1678.3 563.7L1679.3 563.7L1679.3 496.3L1680.3 521.1L1680.3 563.7L1681.3 563.7L1681.3 521.1" stroke="#000"/>
<path d="M1035.8 29.6L1036.3 4.8L1036.3 73.5L1037.3 90.7L1037.3 76.2L1038.3 94.2L1038.3 107.4L1039.3 112.4L1039.3 106.5L1040.3 109.5L1040.3 113.1L1041.3 114L1041.3 110.6L1042.3 113.4L1042.3 117.2L1043.3 118.8L1043.3 113.6L1044.3 116L1044.3 120.4L1045.3 122.2L1045.3 118L1046.3 119.7L1046.3 123.3L1047.3 125.9L1047.3 121.3L1048.3 122.8L1048.3 127.9L1049.3 128.2L1049.3 125.9L1050.3 126.5L1050.3 130L1051.3 131.8L1051.3 129.1L1052.3 131L1052.3 135L1053.3 136.7L1053.3 131.7L1054.3 134L1054.3 137.3L1055.3 139.6L1055.3 135.8L1056.3 137.3L1056.3 140L1057.3 143.1L1057.3 139.3L1058.3 140.5L1058.3 145.5L1059.3 146.1L1059.3 143.3L1060.3 143.9L1060.3 148.9L1061.3 150.5L1061.3 145L1062.3 146.7L1062.3 150.6L1063.3 154.3L1063.3 147.2L1064.3 149.8L1064.3 156.7L1065.3 156.4L1065.3 151.4L1066.3 153.5L1066.3 158.8L1067.3 160.1L1067.3 155.4L1068.3 156L1068.3 161.7L1069.3 162.2L1069.3 156.9L1070.3 157.8L1070.3 162.7L1071.3 166.5L1071.3 159.5L1072.3 159.3L1072.3 165.4L1073.3 167.1L1073.3 159.9L1074.3 160.4L1074.3 167.8L1075.3 170.3L1075.3 162.5L1076.3 164.4L1076.3 168.1L1077.3 172L1077.3 165.3L1078.3 165.1L1078.3 173.1L1079.3 173.4L1079.3 167.6L1080.3 167.2L1080.3 174L1081.3 175.7L1081.3 168.7L1082.3 170L1082.3 177.9L1083.3 179.4L1083.3 171.7L1084.3 174.2L1084.3 179.5L1085.3 182L1085.3 173.3L1086.3 175.1L1086.3 181.1L1087.3 183L1087.3 175.3L1088.3 176L1088.3 183.7L1089.3 185.2L1089.3 178.9L1090.3 180L1090.3 184.3L1091.3 186.4L1091.3 179.2L1092.3 181.2L1092.3 189.5L1093.3 188.4L1093.3 183.9L1094.3 183.2L1094.3 190.3L1095.3 192.4L1095.3 185L1096.3 186.2L1096.3 193.6L1097.3 193.8L1097.3 184.8L1098.3 185.8L1098.3 197.2L1099.3 194.4L1099.3 188.7L1100.3 190.7L1100.3 195.7L1101.3 197.4L1101.3 190L1102.3 191.3L1102.3 199.7L1103.3 201.7L1103.3 193.3L1104.3 193.6L1104.3 203L1105.3 202.1L1105.3 193.8L1106.3 194.2L1106.3 202.3L1107.3 203.3L1107.3 199.4L1108.3 198.4L1108.3 203.8L1109.3 207.1L1109.3 198.5L1110.3 200.9L1110.3 209.3L1111.3 208.2L1111.3 200.3L1112.3 201.2L1112.3 211.6L1113.3 211.5L1113.3 204.3L1114.3 204L1114.3 211L1115.3 212.6L1115.3 205L1116.3 205L1116.3 213.8L1117.3 213.9L1117.3 207.6L1118.3 209.1L1118.3 219.8L1119.3 214.7L1119.3 206.7L1120.3 208.8L1120.3 216.2L1121.3 219.5L1121.3 209.3L1122.3 213.9L1122.3 222.7L1123.3 224.7L1123.3 213.4L1124.3 215.1L1124.3 224L1125.3 222.6L1125.3 215.5L1126.3 216.9L1126.3 221.5L1127.3 225.7L1127.3 217.3L1128.3 218.8L1128.3 228.4L1129.3 227.2L1129.3 219.3L1130.3 220L1130.3 230.8L1131.3 229.6L1131.3 221.1L1132.3 223.2L1132.3 231.4L1133.3 232.3L1133.3 221.6L1134.3 222.6L1134.3 229.5L1135.3 230.9L1135.3 225.8L1136.3 226L1136.3 235.6L1137.3 233.7L1137.3 225.7L1138.3 227.3L1138.3 237.1L1139.3 238.1L1139.3 228.6L1140.3 230.5L1140.3 238.5L1141.3 241.3L1141.3 231.6L1142.3 233.2L1142.3 239.6L1143.3 244.5L1143.3 233L1144.3 234.3L1144.3 242.2L1145.3 243.3L1145.3 236.9L1146.3 237.2L1146.3 243.8L1147.3 246.7L1147.3 236.6L1148.3 236.3L1148.3 248L1149.3 250.5L1149.3 235.8L1150.3 236.4L1150.3 248.1L1151.3 248.4L1151.3 238.4L1152.3 236.9L1152.3 251.2L1153.3 257.4L1153.3 237.2L1154.3 243.1L1154.3 251.3L1155.3 253.5L1155.3 240.8L1156.3 241.5L1156.3 256.1L1157.3 256.1L1157.3 245.2L1158.3 247.1L1158.3 259.6L1159.3 256.4L1159.3 246.7L1160.3 244.6L1160.3 256.2L1161.3 262L1161.3 247.6L1162.3 250.9L1162.3 258.7L1163.3 261.1L1163.3 248L1164.3 251L1164.3 261.4L1165.3 261.7L1165.3 250.5L1166.3 252.9L1166.3 261.6L1167.3 268.1L1167.3 252.6L1168.3 253.5L1168.3 264.9L1169.3 264.7L1169.3 255.7L1170.3 254.7L1170.3 267.2L1171.3 270.5L1171.3 258.5L1172.3 257L1172.3 270.6L1173.3 271.6L1173.3 256.6L1174.3 260.1L1174.3 274.9L1175.3 271.4L1175.3 261.5L1176.3 258.2L1176.3 271.5L1177.3 276.9L1177.3 260.5L1178.3 259.9L1178.3 276.2L1179.3 277.2L1179.3 264.9L1180.3 262.9L1180.3 278L1181.3 274L1181.3 263.1L1182.3 265.5L1182.3 277L1183.3 280.9L1183.3 267.5L1184.3 270.6L1184.3 283.4L1185.3 285.7L1185.3 267.4L1186.3 270.8L1186.3 287.3L1187.3 289.3L1187.3 266.6L1188.3 273.7L1188.3 282.9L1189.3 283.4L1189.3 274L1190.3 272.5L1190.3 282.9L1191.3 289.4L1191.3 275.6L1192.3 274.9L1192.3 287.4L1193.3 287.7L1193.3 272.5L1194.3 279.6L1194.3 290.2L1195.3 295.3L1195.3 276L1196.3 276L1196.3 290.6L1197.3 293L1197.3 277.2L1198.3 281.6L1198.3 299L1199.3 294L1199.3 279.7L1200.3 281.6L1200.3 296.3L1201.3 294L1201.3 281.5L1202.3 278.2L1202.3 298.9L1203.3 302.5L1203.3 287.9L1204.3 284.4L1204.3 298.7L1205.3 299.7L1205.3 284.4L1206.3 287.6L1206.3 300.7L1207.3 305.8L1207.3 286.9L1208.3 291.1L1208.3 301.3L1209.3 307L1209.3 288.4L1210.3 291.5L1210.3 303.2L1211.3 307.6L1211.3 288.4L1212.3 288.8L1212.3 305.5L1213.3 304.1L1213.3 291.8L1214.3 295.1L1214.3 307.5L1215.3 308.3L1215.3 293.8L1216.3 298.9L1216.3 313.6L1217.3 314.6L1217.3 294.8L1218.3 297.4L1218.3 314.9L1219.3 319.7L1219.3 303.4L1220.3 293.6L1220.3 314L1221.3 322.2L1221.3 298.7L1222.3 298.2L1222.3 317.6L1223.3 320.3L1223.3 303.2L1224.3 300.5L1224.3 327.3L1225.3 323.3L1225.3 305.5L1226.3 303.2L1226.3 319.7L1227.3 324.3L1227.3 302.2L1228.3 300.7L1228.3 322.8L1229.3 326.7L1229.3 306.5L1230.3 309.3L1230.3 325.3L1231.3 328.2L1231.3 307.7L1232.3 304L1232.3 335.2L1233.3 327.1L1233.3 306.9L1234.3 311L1234.3 329.3L1235.3 332.3L1235.3 306.7L1236.3 311.4L1236.3 330.7L1237.3 332.2L1237.3 300.8L1238.3 314L1238.3 342.9L1239.3 333.8L1239.3 309.5L1240.3 320.7L1240.3 333L1241.3 333.4L1241.3 318.4L1242.3 310.6L1242.3 338.8L1243.3 340.4L1243.3 318.3L1244.3 320.8L1244.3 339.7L1245.3 335.6L1245.3 321.9L1246.3 317.4L1246.3 351L1247.3 343.9L1247.3 315.3L1248.3 322.6L1248.3 337.5L1249.3 338L1249.3 324.5L1250.3 328.4L1250.3 348.9L1251.3 347.7L1251.3 327.7L1252.3 324.4L1252.3 348.1L1253.3 346.1L1253.3 321.3L1254.3 324L1254.3 352.7L1255.3 345.3L1255.3 327.6L1256.3 325.2L1256.3 359.5L1257.3 355.4L1257.3 330L1258.3 329.2L1258.3 350.3L1259.3 356.1L1259.3 334.4L1260.3 336.6L1260.3 352.2L1261.3 352.6L1261.3 338.9L1262.3 328.1L1262.3 360.3L1263.3 362L1263.3 337.3L1264.3 328.6L1264.3 354.8L1265.3 355.1L1265.3 333.7L1266.3 337L1266.3 366.6L1267.3 358.9L1267.3 336L1268.3 335.1L1268.3 365.5L1269.3 359.5L1269.3 338.7L1270.3 335.5L1270.3 361.1L1271.3 370.2L1271.3 341.2L1272.3 342.7L1272.3 365.3L1273.3 363.9L1273.3 340.5L1274.3 337.4L1274.3 371.3L1275.3 371.6L1275.3 349.5L1276.3 345.9L1276.3 380.2L1277.3 365.1L1277.3 347.2L1278.3 350L1278.3 381L1279.3 374.8L1279.3 340.5L1280.3 350.6L1280.3 369.4L1281.3 371.6L1281.3 346.7L1282.3 347L1282.3 380.3L1283.3 385.3L1283.3 341L1284.3 348.6L1284.3 374.6L1285.3 379.2L1285.3 352.8L1286.3 353L1286.3 381.6L1287.3 375.3L1287.3 353.2L1288.3 357.8L1288.3 377.8L1289.3 382.6L1289.3 352.1L1290.3 346.9L1290.3 387.8L1291.3 378.7L1291.3 355.5L1292.3 357.1L1292.3 386.1L1293.3 386.3L1293.3 355.7L1294.3 351.5L1294.3 403.9L1295.3 411.6L1295.3 362.5L1296.3 354.8L1296.3 401.6L1297.3 390.1L1297.3 362.8L1298.3 364.8L1298.3 393.2L1299.3 393.8L1299.3 366.6L1300.3 356.8L1300.3 394.1L1301.3 397.4L1301.3 356.9L1302.3 360.3L1302.3 397.5L1303.3 386.9L1303.3 371.1L1304.3 348.5L1304.3 395.3L1305.3 395.7L1305.3 362.4L1306.3 366L1306.3 421.5L1307.3 393.3L1307.3 368L1308.3 364.4L1308.3 406.5L1309.3 414.5L1309.3 353.2L1310.3 361.2L1310.3 403.6L1311.3 404.1L1311.3 374.6L1312.3 370.6L1312.3 408L1313.3 430L1313.3 370.9L1314.3 371L1314.3 398.5L1315.3 417.2L1315.3 371.1L1316.3 371.2L1316.3 426.6L1317.3 422.5L1317.3 377.8L1318.3 373.6L1318.3 410.1L1319.3 414.3L1319.3 373.7L1320.3 378.3L1320.3 407L1321.3 407.3L1321.3 383.1L1322.3 383.3L1322.3 407.4L1323.3 415.7L1323.3 383.4L1324.3 381.1L1324.3 420.4L1325.3 416.4L1325.3 381.2L1326.3 374.4L1326.3 426L1327.3 437.7L1327.3 398.2L1328.3 379.1L1328.3 432.4L1329.3 417.5L1329.3 384.2L1330.3 384.3L1330.3 439.1L1331.3 439.6L1331.3 384.4L1332.3 390L1332.3 428.4L1333.3 440.4L1333.3 379.5L1334.3 399.4L1334.3 428.9L1335.3 441.1L1335.3 396.3L1336.3 393.4L1336.3 441.6L1337.3 424.6L1337.3 385L1338.3 393.5L1338.3 436.1L1339.3 436.5L1339.3 393.6L1340.3 385.1L1340.3 468.5L1341.3 443.8L1341.3 397L1342.3 388L1342.3 431.4L1343.3 437.8L1343.3 388.1L1344.3 408.2L1344.3 426.4L1345.3 445.2L1345.3 397.4L1346.3 388.2L1346.3 438.5L1347.3 445.6L1347.3 397.6L1348.3 404.7L1348.3 453.8L1349.3 446.4L1349.3 394.4L1350.3 391.4L1350.3 454.4L1351.3 454.6L1351.3 394.5L1352.3 401.4L1352.3 440.1L1353.3 455.4L1353.3 377.9L1354.3 401.5L1354.3 447.7L1355.3 447.9L1355.3 405.3L1356.3 405.4L1356.3 456.4L1357.3 456.7L1357.3 383L1358.3 385.8L1358.3 457L1359.3 448.9L1359.3 398.2L1360.3 405.6L1360.3 479.1L1361.3 449.3L1361.3 401.8L1362.3 409.7L1362.3 468.1L1363.3 468.2L1363.3 405.8L1364.3 402L1364.3 480.9L1365.3 458.9L1365.3 424L1366.3 424.2L1366.3 459.1L1367.3 497.4L1367.3 405.9L1368.3 410L1368.3 482.4L1369.3 459.7L1369.3 419.3L1370.3 424.5L1370.3 483L1371.3 483.6L1371.3 406L1372.3 419.5L1372.3 471.1L1373.3 460.7L1373.3 406.1L1374.3 406.1L1374.3 471.6L1375.3 501.6L1375.3 424.9L1376.3 424.9L1376.3 501.7L1377.3 502.3L1377.3 425L1378.3 425L1378.3 526.2L1379.3 486.1L1379.3 414.9L1380.3 425.1L1380.3 527.6L1381.3 486.6L1381.3 398.6L1382.3 406.3L1382.3 504.5L1383.3 487.3L1383.3 420L1384.3 406.3L1384.3 487.6L1385.3 488L1385.3 425.4L1386.3 410.5L1386.3 474.2L1387.3 488.4L1387.3 415.1L1388.3 415.1L1388.3 488.5L1389.3 488.9L1389.3 425.5L1390.3 422.4L1390.3 489L1391.3 521.1L1391.3 428.8L1392.3 416.5L1392.3 521.1L1393.3 521.1L1393.3 436L1394.3 422.4L1394.3 563.7L1395.3 563.7L1395.3 416.5L1396.3 401.7L1396.3 496.3L1397.3 521.1L1397.3 422.4L1398.3 386.3L1398.3 521.1L1399.3 563.7L1399.3 428.8L1400.3 422.4L1400.3 496.3L1401.3 521.1L1401.3 422.4L1402.3 422.4L1402.3 521.1L1403.3 563.7L1403.3 428.8L1404.3 422.4L1404.3 563.7L1405.3 521.1L1405.3 416.5L1406.3 436L1406.3 521.1L1407.3 521.1L1407.3 397.5L1408.3 436L1408.3 521.1L1409.3 521.1L1409.3 422.4L1410.3 436L1410.3 521.1L1411.3 521.1L1411.3 428.8L1412.3 453.7L1412.3 521.1L1413.3 563.7L1413.3 436L1414.3 422.4L1414.3 521.1L1415.3 563.7L1415.3 436L1416.3 436L1416.3 563.7L1417.3 521.1L1417.3 428.8L1418.3 422.4L1418.3 521.1L1419.3 496.3L1419.3 428.8L1420.3 428.8L1420.3 563.7L1421.3 563.7L1421.3 444.2L1422.3 444.2L1422.3 563.7L1423.3 563.7L1423.3 422.4L1424.3 444.2L1424.3 563.7L1425.3 563.7L1425.3 444.2L1426.3 444.2L1426.3 563.7L1427.3 563.7L1427.3 444.2L1428.3 453.7L1428.3 563.7L1429.3 521.1L1429.3 416.5L1430.3 444.2L1430.3 521.1L1431.3 521.1L1431.3 428.8L1432.3 444.2L1432.3 563.7L1433.3 563.7L1433.3 464.9L1434.3 444.2L1434.3 563.7L1435.3 521.1L1435.3 436L1436.3 444.2L1436.3 496.3L1437.3 563.7L1437.3 428.8L1438.3 453.7L1438.3 563.7L1439.3 563.7L1439.3 436L1440.3 444.2L1440.3 563.7L1441.3 563.7L1441.3 444.2L1442.3 436L1442.3 563.7L1443.3 563.7L1443.3 436L1444.3 436L1444.3 563.7L1445.3 563.7L1445.3 428.8L1446.3 436L1446.3 563.7L1447.3 563.7L1447.3 464.9L1448.3 453.7L1448.3 521.1L1449.3 563.7L1449.3 453.7L1450.3 464.9L1450.3 563.7L1451.3 563.7L1451.3 444.2L1452.3 453.7L1452.3 563.7L1453.3 563.7L1453.3 464.9L1454.3 444.2L1454.3 563.7L1455.3 563.7L1455.3 453.7L1456.3 464.9L1456.3 563.7L1457.3 563.7L1457.3 453.7L1458.3 464.9L1458.3 563.7L1459.3 563.7L1459.3 436L1460.3 444.2L1460.3 563.7L1461.3 563.7L1461.3 464.9L1462.3 478.6L1462.3 563.7L1463.3 563.7L1463.3 464.9L1464.3 464.9L1464.3 563.7L1465.3 563.7L1465.3 478.6L1466.3 464.9L1466.3 563.7L1467.3 563.7L1467.3 464.9L1468.3 464.9L1468.3 563.7L1469.3 563.7L1469.3 478.6L1470.3 478.6L1470.3 563.7L1471.3 563.7L1471.3 478.6L1472.3 464.9L1472.3 563.7L1473.3 521.1L1473.3 453.7L1474.3 464.9L1474.3 563.7L1475.3 563.7L1475.3 464.9L1476.3 453.7L1476.3 563.7L1477.3 563.7L1477.3 464.9L1478.3 496.3L1478.3 563.7L1479.3 563.7L1479.3 436L1480.3 464.9L1480.3 563.7L1481.3 563.7L1481.3 464.9L1482.3 453.7L1482.3 563.7L1483.3 563.7L1483.3 453.7L1484.3 464.9L1484.3 563.7L1485.3 563.7L1485.3 453.7L1486.3 453.7L1486.3 563.7L1487.3 563.7L1487.3 496.3L1488.3 453.7L1488.3 563.7L1489.3 563.7L1489.3 496.3L1490.3 464.9L1490.3 563.7L1491.3 563.7L1491.3 496.3L1492.3 478.6L1492.3 563.7L1493.3 563.7L1493.3 478.6L1494.3 444.2L1494.3 563.7L1495.3 563.7L1495.3 478.6L1496.3 478.6L1496.3 563.7L1497.3 563.7L1497.3 478.6L1498.3 496.3L1498.3 563.7L1499.3 563.7L1499.3 464.9L1500.3 478.6L1500.3 563.7L1501.3 563.7L1501.3 478.6L1502.3 444.2L1502.3 563.7L1503.3 563.7L1503.3 464.9L1504.3 444.2L1504.3 563.7L1505.3 563.7L1505.3 453.7L1506.3 496.3L1506.3 563.7L1507.3 563.7L1507.3 496.3L1508.3 464.9L1508.3 563.7L1509.3 563.7L1509.3 496.3L1510.3 464.9L1510.3 563.7L1511.3 563.7L1511.3 478.6L1512.3 496.3L1512.3 563.7L1513.3 563.7L1513.3 464.9L1514.3 478.6L1514.3 563.7L1515.3 563.7L1515.3 464.9L1516.3 478.6L1516.3 563.7L1517.3 563.7L1517.3 496.3L1518.3 464.9L1518.3 563.7L1519.3 563.7L1519.3 478.6L1520.3 496.3L1520.3 563.7L1521.3 563.7L1521.3 478.6L1522.3 496.3L1522.3 563.7L1523.3 563.7L1523.3 496.3L1524.3 496.3L1524.3 563.7L1525.3 563.7L1525.3 496.3L1526.3 496.3L1526.3 563.7L1527.3 563.7L1527.3 464.9L1528.3 496.3L1528.3 563.7L1529.3 563.7L1529.3 496.3L1530.3 478.6L1530.3 563.7L1531.3 563.7L1531.3 478.6L1532.3 496.3L1532.3 563.7L1533.3 563.7L1533.3 496.3L1534.3 478.6L1534.3 563.7L1535.3 563.7L1535.3 496.3L1536.3 464.9L1536.3 563.7L1537.3 563.7L1537.3 521.1L1538.3 478.6L1538.3 563.7L1539.3 563.7L1539.3 478.6L1540.3 478.6L1540.3 563.7L1541.3 563.7L1541.3 496.3L1542.3 478.6L1542.3 563.7L1543.3 563.7L1543.3 464.9L1544.3 478.6L1544.3 563.7L1545.3 563.7L1545.3 464.9L1546.3 464.9L1546.3 563.7L1547.3 563.7L1547.3 496.3L1548.3 496.3L1548.3 563.7L1549.3 563.7L1549.3 496.3L1550.3 496.3L1550.3 563.7L1551.3 563.7L1551.3 496.3L1552.3 478.6L1552.3 563.7L1553.3 563.7L1553.3 478.6L1554.3 478.6L1554.3 563.7L1555.3 563.7L1555.3 496.3L1556.3 496.3L1556.3 563.7L1557.3 563.7L1557.3 478.6L1558.3 496.3L1558.3 563.7L1559.3 563.7L1559.3 521.1L1560.3 496.3L1560.3 563.7L1561.3 563.7L1561.3 478.6L1562.3 464.9L1562.3 563.7L1563.3 563.7L1563.3 496.3L1564.3 496.3L1564.3 563.7L1565.3 563.7L1565.3 496.3L1566.3 496.3L1566.3 563.7L1567.3 563.7L1567.3 521.1L1568.3 496.3L1568.3 563.7L1569.3 563.7L1569.3 496.3L1570.3 464.9L1570.3 563.7L1571.3 563.7L1571.3 478.6L1572.3 453.7L1572.3 563.7L1573.3 563.7L1573.3 521.1L1574.3 496.3L1574.3 563.7L1575.3 563.7L1575.3 464.9L1576.3 496.3L1576.3 563.7L1577.3 563.7L1577.3 496.3L1578.3 521.1L1578.3 563.7L1579.3 563.7L1579.3 521.1L1580.3 496.3L1580.3 563.7L1581.3 563.7L1581.3 496.3L1582.3 496.3L1582.3 563.7L1583.3 563.7L1583.3 521.1L1584.3 496.3L1584.3 563.7L1585.3 563.7L1585.3 521.1L1586.3 521.1L1586.3 563.7L1587.3 563.7L1587.3 478.6L1588.3 521.1L1588.3 563.7L1589.3 563.7L1589.3 521.1L1590.3 496.3L1590.3 563.7L1591.3 563.7L1591.3 464.9L1592.3 496.3L1592.3 563.7L1593.3 563.7L1593.3 478.6L1594.3 496.3L1594.3 563.7L1595.3 563.7L1595.3 521.1L1596.3 496.3L1596.3 563.7L1597.3 563.7L1597.3 496.3L1598.3 496.3L1598.3 563.7L1599.3 563.7L1599.3 478.6L1600.3 521.1L1600.3 563.7L1601.3 563.7L1601.3 496.3L1602.3 496.3L1602.3 563.7L1603.3 563.7L1603.3 464.9L1604.3 521.1L1604.3 563.7L1605.3 563.7L1605.3 496.3L1606.3 496.3L1606.3 563.7L1607.3 563.7L1607.3 496.3L1608.3 521.1L1608.3 563.7L1609.3 563.7L1609.3 478.6L1610.3 496.3L1610.3 563.7L1611.3 563.7L1611.3 496.3L1612.3 496.3L1612.3 563.7L1613.3 563.7L1613.3 478.6L1614.3 521.1L1614.3 563.7L1615.3 563.7L1615.3 478.6L1616.3 496.3L1616.3 563.7L1617.3 563.7L1617.3 521.1L1618.3 496.3L1618.3 563.7L1619.3 563.7L1619.3 478.6L1620.3 496.3L1620.3 563.7L1621.3 563.7L1622.3 521.1L1622.3 563.7L1623.3 563.7L1623.3 521.1L1624.3 496.3L1624.3 563.7L1625.3 563.7L1625.3 496.3L1626.3 496.3L1626.3 563.7L1627.3 563.7L1627.3 521.1L1628.3 496.3L1628.3 563.7L1629.3 563.7L1629.3 478.6L1630.3 521.1L1630.3 563.7L1631.3 563.7L1631.3 496.3L1632.3 521.1L1632.3 563.7L1633.3 563.7L1633.3 478.6L1634.3 521.1L1634.3 563.7L1635.3 563.7L1635.3 478.6L1636.3 478.6L1636.3 563.7L1637.3 563.7L1637.3 496.3L1638.3 496.3L1638.3 563.7L1639.3 563.7L1639.3 496.3L1640.3 521.1L1640.3 563.7L1641.3 563.7L1641.3 496.3L1642.3 521.1L1642.3 563.7L1643.3 563.7L1643.3 521.1L1644.3 478.6L1644.3 563.7L1645.3 563.7L1645.3 496.3L1646.3 521.1L1646.3 563.7L1647.3 563.7L1647.3 521.1L1648.3 464.9L1648.3 563.7L1649.3 563.7L1649.3 478.6L1650.3 496.3L1650.3 563.7L1651.3 563.7L1651.3 478.6L1652.3 521.1L1652.3 563.7L1653.3 563.7L1653.3 464.9L1654.3 521.1L1654.3 563.7L1655.3 563.7L1655.3 478.6L1656.3 496.3L1656.3 563.7L1657.3 563.7L1657.3 496.3L1658.3 521.1L1658.3 563.7L1659.3 563.7L1659.3 521.1L1660.3 496.3L1660.3 563.7L1661.3 563.7L1661.3 521.1L1662.3 521.1L1662.3 563.7L1663.3 563.7L1663.3 496.3L1664.3 496.3L1664.3 563.7L1665.3 563.7L1665.3 521.1L1666.3 521.1L1666.3 563.7L1667.3 563.7L1667.3 496.3L1668.3 496.3L1668.3 563.7L1669.3 563.7L1669.3 521.1L1670.3 496.3L1670.3 563.7L1671.3 563.7L1671.3 464.9L1672.3 496.3L1672.3 563.7" stroke="#0a0ae0"/>
<path d="M1035.8 29.6L1036.3 4.4L1036.3 70.8L1037.3 87L1037.3 73.9L1038.3 87.9L1038.3 103.1L1039.3 107.2L1039.3 104.3L1040.3 105.5L1040.3 109.4L1041.3 110.2L1041.3 106.5L1042.3 108.3L1042.3 113.2L1043.3 113.6L1043.3 110.1L1044.3 111.7L1044.3 115.7L1045.3 118.9L1045.3 112.8L1046.3 114.9L1046.3 119.4L1047.3 121L1047.3 118.8L1048.3 119L1048.3 123.5L1049.3 125L1049.3 120.9L1050.3 122.4L1050.3 127.6L1051.3 127.8L1051.3 124.2L1052.3 124.7L1052.3 131L1053.3 133.6L1053.3 125.9L1054.3 129.6L1054.3 133.3L1055.3 134.6L1055.3 132.5L1056.3 133.5L1056.3 138.5L1057.3 138.7L1057.3 134.8L1058.3 137.3L1058.3 141.7L1059.3 143.3L1059.3 137.1L1060.3 139.6L1060.3 144.8L1061.3 145.1L1061.3 140.9L1062.3 141.2L1062.3 148.1L1063.3 151.9L1063.3 145.2L1064.3 147.5L1064.3 151L1065.3 152.4L1065.3 148L1066.3 149.9L1066.3 155L1067.3 155.2L1067.3 152L1068.3 151.8L1068.3 157.2L1069.3 158.4L1069.3 153.8L1070.3 153.4L1070.3 160.1L1071.3 158.6L1071.3 155.3L1072.3 155.8L1072.3 160.1L1073.3 161L1073.3 155.5L1074.3 156.9L1074.3 162.4L1075.3 163.6L1075.3 158.4L1076.3 158.4L1076.3 165.1L1077.3 167.7L1077.3 159.9L1078.3 163.1L1078.3 166.8L1079.3 167.4L1079.3 162.2L1080.3 163.4L1080.3 169.6L1081.3 172.5L1081.3 166.1L1082.3 166.4L1082.3 171.1L1083.3 173.9L1083.3 168.4L1084.3 168.7L1084.3 174.8L1085.3 177.1L1085.3 169.8L1086.3 170L1086.3 174.9L1087.3 177.6L1087.3 170.3L1088.3 173.6L1088.3 181.8L1089.3 178.5L1089.3 173.1L1090.3 173.4L1090.3 181L1091.3 181.7L1091.3 174.5L1092.3 177.4L1092.3 184.8L1093.3 182.4L1093.3 177.6L1094.3 178.8L1094.3 185.7L1095.3 185.7L1095.3 181.3L1096.3 183.4L1096.3 187.9L1097.3 189.7L1097.3 183.2L1098.3 181.9L1098.3 188.5L1099.3 190.1L1099.3 183.2L1100.3 183.8L1100.3 191.8L1101.3 193.7L1101.3 185.4L1102.3 187.4L1102.3 194.3L1103.3 196.8L1103.3 189.2L1104.3 189.5L1104.3 197.2L1105.3 199.5L1105.3 193.1L1106.3 191.9L1106.3 198.1L1107.3 200.3L1107.3 193.2L1108.3 194.1L1108.3 200.4L1109.3 200.7L1109.3 195.1L1110.3 195.9L1110.3 204.5L1111.3 205.2L1111.3 195.7L1112.3 197L1112.3 205.9L1113.3 205.1L1113.3 199.3L1114.3 202.1L1114.3 207.3L1115.3 209.8L1115.3 201.8L1116.3 200.3L1116.3 208.4L1117.3 211.4L1117.3 202.3L1118.3 201.9L1118.3 210L1119.3 211.4L1119.3 203.4L1120.3 207.1L1120.3 214.1L1121.3 214.8L1121.3 206.6L1122.3 210.3L1122.3 214.2L1123.3 215.3L1123.3 208.6L1124.3 210.3L1124.3 219.3L1125.3 220.1L1125.3 210.6L1126.3 211.7L1126.3 219.8L1127.3 221.5L1127.3 210.7L1128.3 215.5L1128.3 223.4L1129.3 222.9L1129.3 215.2L1130.3 217.7L1130.3 225.3L1131.3 225.1L1131.3 219L1132.3 215.8L1132.3 223.9L1133.3 225L1133.3 218.2L1134.3 219.5L1134.3 227.2L1135.3 229.3L1135.3 220L1136.3 221.1L1136.3 231.2L1137.3 230.8L1137.3 220L1138.3 220.7L1138.3 232.9L1139.3 232.1L1139.3 226L1140.3 223.4L1140.3 233.4L1141.3 234.7L1141.3 225.1L1142.3 225.4L1142.3 235.8L1143.3 238.3L1143.3 229.7L1144.3 230.8L1144.3 238.8L1145.3 238.3L1145.3 229.7L1146.3 228.8L1146.3 238.5L1147.3 240.1L1147.3 229.6L1148.3 229.5L1148.3 242.8L1149.3 244.7L1149.3 232.4L1150.3 234L1150.3 244.2L1151.3 244.7L1151.3 233.9L1152.3 235L1152.3 246.2L1153.3 246L1153.3 232.1L1154.3 240.2L1154.3 247.7L1155.3 249.5L1155.3 238.7L1156.3 240.2L1156.3 247.1L1157.3 250.2L1157.3 237.8L1158.3 237.3L1158.3 252L1159.3 252.7L1159.3 241L1160.3 246.8L1160.3 253.7L1161.3 254.8L1161.3 243.3L1162.3 244.8L1162.3 254.4L1163.3 259.1L1163.3 244.1L1164.3 244L1164.3 254.6L1165.3 256.4L1165.3 246.8L1166.3 250L1166.3 263.4L1167.3 259.7L1167.3 250.8L1168.3 251.7L1168.3 261.4L1169.3 260.4L1169.3 251.1L1170.3 250.4L1170.3 261.9L1171.3 262.5L1171.3 249.7L1172.3 251.5L1172.3 268.5L1173.3 268.1L1173.3 255.3L1174.3 257L1174.3 270.8L1175.3 266.5L1175.3 258.9L1176.3 259.2L1176.3 267.2L1177.3 274.5L1177.3 258L1178.3 256.8L1178.3 271.8L1179.3 275L1179.3 257L1180.3 255.9L1180.3 276.6L1181.3 272L1181.3 261.1L1182.3 258.6L1182.3 274.9L1183.3 278L1183.3 263.4L1184.3 261.6L1184.3 276.9L1185.3 277.5L1185.3 264.5L1186.3 264.3L1186.3 277.7L1187.3 281.4L1187.3 266L1188.3 268.8L1188.3 280.3L1189.3 276.8L1189.3 270.8L1190.3 267.5L1190.3 281.1L1191.3 281.3L1191.3 268.9L1192.3 270.5L1192.3 283.6L1193.3 286.4L1193.3 269.6L1194.3 275.4L1194.3 287.5L1195.3 286.7L1195.3 271.2L1196.3 270.1L1196.3 286.5L1197.3 286.3L1197.3 273L1198.3 279.4L1198.3 285.6L1199.3 289.9L1199.3 274.3L1200.3 278.9L1200.3 292L1201.3 290.9L1201.3 273L1202.3 273.4L1202.3 290.8L1203.3 290.9L1203.3 281.4L1204.3 281.8L1204.3 292.9L1205.3 299.1L1205.3 282.3L1206.3 284.4L1206.3 298L1207.3 298.5L1207.3 285.1L1208.3 282.3L1208.3 301.7L1209.3 301.9L1209.3 282.6L1210.3 284L1210.3 296.8L1211.3 301.5L1211.3 287.8L1212.3 285L1212.3 306.6L1213.3 301.6L1213.3 287.5L1214.3 292.1L1214.3 306.1L1215.3 309.6L1215.3 286.2L1216.3 290.7L1216.3 304.4L1217.3 307.9L1217.3 290.5L1218.3 295.2L1218.3 310.9L1219.3 304.6L1219.3 292.4L1220.3 292.7L1220.3 310.8L1221.3 313.8L1221.3 294.6L1222.3 297.3L1222.3 315.6L1223.3 311.7L1223.3 299.9L1224.3 300.8L1224.3 315.6L1225.3 315.1L1225.3 293.3L1226.3 298.5L1226.3 316.3L1227.3 312.4L1227.3 295.9L1228.3 301.7L1228.3 320L1229.3 320.3L1229.3 297.6L1230.3 301.6L1230.3 325L1231.3 316.5L1231.3 304.3L1232.3 305.2L1232.3 322.3L1233.3 323.4L1233.3 303.6L1234.3 306.3L1234.3 327.3L1235.3 321.5L1235.3 306.5L1236.3 308L1236.3 324.5L1237.3 328.2L1237.3 308.9L1238.3 310.6L1238.3 330.4L1239.3 328.9L1239.3 308.9L1240.3 311.1L1240.3 332.1L1241.3 330.4L1241.3 309.9L1242.3 309.4L1242.3 329L1243.3 329.3L1243.3 309.6L1244.3 312.8L1244.3 331.6L1245.3 332L1245.3 314.3L1246.3 311L1246.3 334L1247.3 331.6L1247.3 317.2L1248.3 312.2L1248.3 340L1249.3 338.2L1249.3 322.4L1250.3 324.3L1250.3 341.9L1251.3 356.4L1251.3 316.4L1252.3 314.5L1252.3 340.5L1253.3 346.7L1253.3 325.9L1254.3 321L1254.3 347L1255.3 345L1255.3 322.9L1256.3 320.7L1256.3 345.3L1257.3 346.7L1257.3 323.4L1258.3 325.4L1258.3 342.3L1259.3 351.3L1259.3 325.6L1260.3 325.8L1260.3 346.4L1261.3 350.8L1261.3 326.8L1262.3 328.8L1262.3 349.7L1263.3 342.7L1263.3 324.6L1264.3 327.5L1264.3 357.5L1265.3 364.1L1265.3 333.4L1266.3 330.6L1266.3 353.7L1267.3 360.1L1267.3 337.1L1268.3 336.1L1268.3 354.3L1269.3 354.7L1269.3 333.4L1270.3 335.5L1270.3 365.8L1271.3 364.8L1271.3 332.6L1272.3 336L1272.3 357L1273.3 354.5L1273.3 336.1L1274.3 335.2L1274.3 357.7L1275.3 361.2L1275.3 339.8L1276.3 346L1276.3 371.8L1277.3 382.5L1277.3 337L1278.3 339.3L1278.3 362.2L1279.3 369.2L1279.3 346.7L1280.3 350.7L1280.3 367.6L1281.3 368.1L1281.3 346.9L1282.3 343.5L1282.3 366.8L1283.3 368.7L1283.3 342.4L1284.3 342.7L1284.3 369L1285.3 379.4L1285.3 342.8L1286.3 340.7L1286.3 379.8L1287.3 384.8L1287.3 347L1288.3 345.8L1288.3 374.1L1289.3 385.3L1289.3 354.1L1290.3 348.8L1290.3 385.8L1291.3 383.7L1291.3 353L1292.3 353.3L1292.3 379.8L1293.3 373.8L1293.3 349.2L1294.3 353.6L1294.3 382.4L1295.3 378.4L1295.3 358.3L1296.3 357L1296.3 374.5L1297.3 391.2L1297.3 360.2L1298.3 363.8L1298.3 386.3L1299.3 381.7L1299.3 358.9L1300.3 362.4L1300.3 384.6L1301.3 387.2L1301.3 360.9L1302.3 353.4L1302.3 393L1303.3 388L1303.3 356.4L1304.3 363.1L1304.3 385.7L1305.3 403.1L1305.3 356.7L1306.3 367.1L1306.3 388.8L1307.3 407.8L1307.3 363.6L1308.3 363.8L1308.3 398.1L1309.3 395.6L1309.3 367.6L1310.3 360.7L1310.3 402L1311.3 396.2L1311.3 369.8L1312.3 359.2L1312.3 409.8L1313.3 410.1L1313.3 374.2L1314.3 370.3L1314.3 397.2L1315.3 407.3L1315.3 370.4L1316.3 364.9L1316.3 407.8L1317.3 415.9L1317.3 370.7L1318.3 367L1318.3 404.9L1319.3 409L1319.3 363.4L1320.3 382.2L1320.3 405.5L1321.3 432.3L1321.3 377.7L1322.3 373.5L1322.3 413.8L1323.3 418.5L1323.3 377.9L1324.3 385.3L1324.3 418.9L1325.3 419.1L1325.3 378.2L1326.3 383.2L1326.3 415.3L1327.3 415.7L1327.3 385.8L1328.3 378.6L1328.3 416L1329.3 420.7L1329.3 378.7L1330.3 381.3L1330.3 416.5L1331.3 426.2L1331.3 376.7L1332.3 384L1332.3 417.2L1333.3 452.5L1333.3 386.8L1334.3 376.9L1334.3 432.8L1335.3 439.1L1335.3 381.8L1336.3 379.4L1336.3 433.7L1337.3 447.2L1337.3 389.9L1338.3 393.1L1338.3 455L1339.3 434.7L1339.3 387.4L1340.3 390.3L1340.3 429.3L1341.3 429.9L1341.3 393.4L1342.3 396.6L1342.3 442.4L1343.3 436.1L1343.3 382.4L1344.3 387.9L1344.3 436.4L1345.3 443.3L1345.3 400.3L1346.3 387.9L1346.3 437.1L1347.3 443.9L1347.3 382.6L1348.3 397.3L1348.3 437.6L1349.3 452.2L1349.3 391.1L1350.3 400.8L1350.3 445.1L1351.3 452.8L1351.3 391.2L1352.3 401L1352.3 445.7L1353.3 462.5L1353.3 401L1354.3 391.3L1354.3 454L1355.3 463.7L1355.3 401.2L1356.3 408.9L1356.3 487.9L1357.3 455L1357.3 405.1L1358.3 405.1L1358.3 464.6L1359.3 489.5L1359.3 394.7L1360.3 388.6L1360.3 476.5L1361.3 466L1361.3 405.3L1362.3 405.4L1362.3 466.2L1363.3 456.8L1363.3 409.4L1364.3 409.5L1364.3 457.1L1365.3 467.2L1365.3 401.8L1366.3 418.6L1366.3 494L1367.3 458.1L1367.3 398.3L1368.3 405.8L1368.3 458.4L1369.3 480.8L1369.3 414.2L1370.3 414.3L1370.3 468.9L1371.3 450.3L1371.3 383L1372.3 405.9L1372.3 459.3L1373.3 459.5L1373.3 414.4L1374.3 419.2L1374.3 498.5L1375.3 498.7L1375.3 419.3L1376.3 402.2L1376.3 483.5L1377.3 483.7L1377.3 414.6L1378.3 402.2L1378.3 471.1L1379.3 460.8L1379.3 410.3L1380.3 406.1L1380.3 524.3L1381.3 485.2L1381.3 414.8L1382.3 410.4L1382.3 485.5L1383.3 502.9L1383.3 419.7L1384.3 406.2L1384.3 486.2L1385.3 503.4L1385.3 415L1386.3 410.5L1386.3 503.9L1387.3 486.9L1387.3 419.9L1388.3 431.1L1388.3 487.2L1389.3 487.5L1389.3 425.3L1390.3 425.4L1390.3 487.9L1391.3 505.9L1391.3 431.3L1392.3 431.3L1392.3 488.4L1393.3 506.7L1393.3 420.1L1394.3 425.5L1394.3 507.2L1395.3 478.6L1395.3 425.5L1396.3 428.8L1396.3 521.1L1397.3 563.7L1397.3 416.5L1398.3 422.4L1398.3 563.7L1399.3 563.7L1399.3 422.4L1400.3 406.2L1400.3 563.7L1401.3 521.1L1401.3 422.4L1402.3 428.8L1402.3 521.1L1403.3 563.7L1403.3 422.4L1404.3 428.8L1404.3 496.3L1405.3 563.7L1405.3 428.8L1406.3 428.8L1406.3 563.7L1407.3 496.3L1407.3 428.8L1408.3 428.8L1408.3 521.1L1409.3 521.1L1409.3 428.8L1410.3 444.2L1410.3 563.7L1411.3 496.3L1411.3 436L1412.3 406.2L1412.3 521.1L1413.3 496.3L1413.3 436L1414.3 453.7L1414.3 563.7L1415.3 496.3L1415.3 436L1416.3 428.8L1416.3 563.7L1417.3 521.1L1417.3 436L1418.3 436L1418.3 563.7L1419.3 521.1L1419.3 444.2L1420.3 436L1420.3 521.1L1421.3 521.1L1421.3 428.8L1422.3 444.2L1422.3 563.7L1423.3 563.7L1423.3 436L1424.3 444.2L1424.3 521.1L1425.3 563.7L1425.3 453.7L1426.3 444.2L1426.3 521.1L1427.3 563.7L1427.3 444.2L1428.3 436L1428.3 563.7L1429.3 563.7L1429.3 436L1430.3 453.7L1430.3 563.7L1431.3 563.7L1431.3 453.7L1432.3 453.7L1432.3 521.1L1433.3 563.7L1433.3 444.2L1434.3 444.2L1434.3 563.7L1435.3 563.7L1435.3 453.7L1436.3 444.2L1436.3 496.3L1437.3 563.7L1437.3 444.2L1438.3 436L1438.3 563.7L1439.3 563.7L1439.3 453.7L1440.3 453.7L1440.3 521.1L1441.3 521.1L1441.3 428.8L1442.3 444.2L1442.3 521.1L1443.3 563.7L1443.3 453.7L1444.3 436L1444.3 563.7L1445.3 563.7L1445.3 464.9L1446.3 444.2L1446.3 563.7L1447.3 521.1L1447.3 453.7L1448.3 453.7L1448.3 563.7L1449.3 563.7L1449.3 453.7L1450.3 453.7L1450.3 521.1L1451.3 563.7L1451.3 453.7L1452.3 464.9L1452.3 563.7L1453.3 563.7L1453.3 453.7L1454.3 453.7L1454.3 563.7L1455.3 563.7L1455.3 464.9L1456.3 464.9L1456.3 563.7L1457.3 563.7L1457.3 436L1458.3 464.9L1458.3 563.7L1459.3 563.7L1459.3 464.9L1460.3 453.7L1460.3 521.1L1461.3 563.7L1461.3 453.7L1462.3 453.7L1462.3 521.1L1463.3 563.7L1463.3 436L1464.3 464.9L1464.3 563.7L1465.3 563.7L1465.3 436L1466.3 464.9L1466.3 563.7L1467.3 563.7L1467.3 464.9L1468.3 464.9L1468.3 563.7L1469.3 563.7L1469.3 444.2L1470.3 464.9L1470.3 563.7L1471.3 563.7L1471.3 428.8L1472.3 464.9L1472.3 563.7L1473.3 563.7L1473.3 464.9L1474.3 453.7L1474.3 563.7L1475.3 563.7L1475.3 436L1476.3 453.7L1476.3 563.7L1477.3 563.7L1477.3 464.9L1478.3 464.9L1478.3 563.7L1479.3 563.7L1479.3 453.7L1480.3 444.2L1480.3 563.7L1481.3 563.7L1481.3 478.6L1482.3 453.7L1482.3 563.7L1483.3 563.7L1483.3 464.9L1484.3 478.6L1484.3 563.7L1485.3 563.7L1485.3 453.7L1486.3 478.6L1486.3 563.7L1487.3 563.7L1487.3 464.9L1488.3 464.9L1488.3 563.7L1489.3 563.7L1489.3 464.9L1490.3 444.2L1490.3 563.7L1491.3 563.7L1491.3 496.3L1492.3 496.3L1492.3 563.7L1493.3 563.7L1493.3 464.9L1494.3 464.9L1494.3 563.7L1495.3 563.7L1495.3 478.6L1496.3 444.2L1496.3 563.7L1497.3 563.7L1497.3 496.3L1498.3 464.9L1498.3 563.7L1499.3 563.7L1499.3 478.6L1500.3 464.9L1500.3 563.7L1501.3 563.7L1501.3 478.6L1502.3 453.7L1502.3 563.7L1503.3 563.7L1503.3 496.3L1504.3 436L1504.3 563.7L1505.3 563.7L1505.3 478.6L1506.3 478.6L1506.3 563.7L1507.3 563.7L1507.3 453.7L1508.3 496.3L1508.3 563.7L1509.3 563.7L1509.3 496.3L1510.3 444.2L1510.3 563.7L1511.3 563.7L1511.3 478.6L1512.3 478.6L1512.3 563.7L1513.3 563.7L1513.3 478.6L1514.3 478.6L1514.3 563.7L1515.3 563.7L1515.3 464.9L1516.3 496.3L1516.3 563.7L1517.3 563.7L1517.3 478.6L1518.3 478.6L1518.3 563.7L1519.3 563.7L1519.3 478.6L1520.3 496.3L1520.3 563.7L1521.3 563.7L1521.3 478.6L1522.3 478.6L1522.3 563.7L1523.3 563.7L1523.3 478.6L1524.3 478.6L1524.3 563.7L1525.3 563.7L1525.3 496.3L1526.3 453.7L1526.3 563.7L1527.3 563.7L1527.3 478.6L1528.3 464.9L1528.3 563.7L1529.3 563.7L1529.3 464.9L1530.3 464.9L1530.3 563.7L1531.3 563.7L1531.3 496.3L1532.3 521.1L1532.3 563.7L1533.3 563.7L1533.3 478.6L1534.3 453.7L1534.3 563.7L1535.3 563.7L1535.3 478.6L1536.3 478.6L1536.3 563.7L1537.3 563.7L1537.3 464.9L1538.3 478.6L1538.3 563.7L1539.3 563.7L1539.3 496.3L1540.3 496.3L1540.3 563.7L1541.3 563.7L1541.3 453.7L1542.3 464.9L1542.3 563.7L1543.3 563.7L1543.3 496.3L1544.3 496.3L1544.3 563.7L1545.3 563.7L1545.3 496.3L1546.3 496.3L1546.3 563.7L1547.3 563.7L1547.3 478.6L1548.3 521.1L1548.3 563.7L1549.3 563.7L1549.3 453.7L1550.3 496.3L1550.3 563.7L1551.3 563.7L1551.3 464.9L1552.3 478.6L1552.3 563.7L1553.3 563.7L1553.3 496.3L1554.3 496.3L1554.3 563.7L1555.3 563.7L1555.3 478.6L1556.3 496.3L1556.3 563.7L1557.3 563.7L1557.3 496.3L1558.3 464.9L1558.3 563.7L1559.3 563.7L1559.3 496.3L1560.3 521.1L1560.3 563.7L1561.3 563.7L1561.3 521.1L1562.3 496.3L1562.3 563.7L1563.3 563.7L1563.3 464.9L1564.3 521.1L1564.3 563.7L1565.3 563.7L1565.3 521.1L1566.3 496.3L1566.3 563.7L1567.3 563.7L1567.3 478.6L1568.3 496.3L1568.3 563.7L1569.3 563.7L1569.3 478.6L1570.3 478.6L1570.3 563.7L1571.3 563.7L1571.3 496.3L1572.3 496.3L1572.3 563.7L1573.3 563.7L1573.3 496.3L1574.3 521.1L1574.3 563.7L1575.3 563.7L1575.3 478.6L1576.3 521.1L1576.3 563.7L1577.3 563.7L1577.3 496.3L1578.3 478.6L1578.3 563.7L1579.3 563.7L1579.3 496.3L1580.3 478.6L1580.3 563.7L1581.3 563.7L1581.3 521.1L1582.3 496.3L1582.3 563.7L1583.3 563.7L1583.3 496.3L1584.3 464.9L1584.3 563.7L1585.3 563.7L1585.3 496.3L1586.3 496.3L1586.3 563.7L1587.3 563.7L1587.3 496.3L1588.3 496.3L1588.3 563.7L1589.3 563.7L1589.3 496.3L1590.3 496.3L1590.3 563.7L1591.3 563.7L1591.3 496.3L1592.3 496.3L1592.3 563.7L1593.3 563.7L1593.3 496.3L1594.3 496.3L1594.3 563.7L1595.3 563.7L1595.3 496.3L1596.3 478.6L1596.3 563.7L1597.3 563.7L1597.3 478.6L1598.3 478.6L1598.3 563.7L1599.3 563.7L1599.3 496.3L1600.3 464.9L1600.3 563.7L1601.3 563.7L1601.3 496.3L1602.3 496.3L1602.3 563.7L1603.3 563.7L1603.3 496.3L1604.3 496.3L1604.3 563.7L1605.3 563.7L1605.3 521.1L1606.3 521.1L1606.3 563.7L1607.3 563.7L1607.3 496.3L1608.3 521.1L1608.3 563.7L1609.3 563.7L1609.3 521.1L1610.3 496.3L1610.3 563.7L1611.3 563.7L1611.3 496.3L1612.3 496.3L1612.3 563.7L1613.3 563.7L1613.3 496.3L1614.3 496.3L1614.3 563.7L1615.3 563.7L1615.3 496.3L1616.3 521.1L1616.3 563.7L1617.3 563.7L1617.3 496.3L1618.3 496.3L1618.3 563.7L1619.3 563.7L1619.3 478.6L1620.3 478.6L1620.3 563.7L1621.3 563.7L1621.3 496.3L1622.3 496.3L1622.3 563.7L1623.3 563.7L1623.3 496.3L1624.3 496.3L1624.3 563.7L1625.3 563.7L1625.3 496.3L1626.3 496.3L1626.3 563.7L1627.3 563.7L1627.3 521.1L1628.3 521.1L1628.3 563.7L1629.3 563.7L1629.3 521.1L1630.3 478.6L1630.3 563.7L1631.3 563.7L1631.3 521.1L1632.3 521.1L1632.3 563.7L1633.3 563.7L1633.3 521.1L1634.3 521.1L1634.3 563.7L1635.3 563.7L1635.3 496.3L1636.3 496.3L1636.3 563.7L1637.3 563.7L1637.3 496.3L1638.3 521.1L1638.3 563.7L1639.3 563.7L1639.3 496.3L1640.3 478.6L1640.3 563.7L1641.3 563.7L1641.3 521.1L1642.3 478.6L1642.3 563.7L1643.3 563.7L1643.3 496.3L1644.3 521.1L1644.3 563.7L1645.3 563.7L1645.3 521.1L1646.3 496.3L1646.3 563.7L1647.3 563.7L1647.3 478.6L1648.3 521.1L1648.3 563.7L1649.3 563.7L1649.3 496.3L1650.3 496.3L1650.3 563.7L1651.3 563.7L1651.3 478.6L1652.3 521.1L1652.3 563.7L1653.3 563.7L1653.3 521.1L1654.3 521.1L1654.3 563.7L1655.3 563.7L1655.3 521.1L1656.3 521.1L1656.3 563.7L1657.3 563.7L1657.3 521.1L1658.3 521.1L1658.3 563.7L1659.3 563.7L1659.3 496.3L1660.3 496.3L1660.3 563.7L1661.3 563.7L1661.3 496.3" stroke="#cd050a"/>
</g>
<rect x="1027.4" y="34.6" width="665.5" height="535.8" fill="none" stroke="#000" stroke-width="3.1"/>
<path d="M1025.9 563.7h-8.6M1025.9 422.4h-8.6M1025.9 281h-8.6M1025.9 139.7h-8.6" stroke="#000" stroke-width="3" fill="none"/>
<path d="M1025.9 570.2h-3.5M1025.9 521.1h-3.5M1025.9 496.3h-3.5M1025.9 478.6h-3.5M1025.9 464.9h-3.5M1025.9 453.7h-3.5M1025.9 444.2h-3.5M1025.9 436h-3.5M1025.9 428.8h-3.5M1025.9 379.8h-3.5M1025.9 354.9h-3.5M1025.9 337.2h-3.5M1025.9 323.6h-3.5M1025.9 312.4h-3.5M1025.9 302.9h-3.5M1025.9 294.7h-3.5M1025.9 287.5h-3.5M1025.9 238.4h-3.5M1025.9 213.6h-3.5M1025.9 195.9h-3.5M1025.9 182.2h-3.5M1025.9 171h-3.5M1025.9 161.5h-3.5M1025.9 153.3h-3.5M1025.9 146.1h-3.5M1025.9 97.1h-3.5M1025.9 72.2h-3.5M1025.9 54.5h-3.5M1025.9 40.9h-3.5" stroke="#000" stroke-width="2.8" fill="none"/>
<path d="M1035.5 571.9v8.6M1199.8 571.9v8.6M1364.2 571.9v8.6M1528.5 571.9v8.6M1692.9 571.9v8.6" stroke="#000" stroke-width="3.1" fill="none"/>
<path d="M1117.7 571.9v3.8M1282 571.9v3.8M1446.4 571.9v3.8M1610.7 571.9v3.8" stroke="#000" stroke-width="3.1" fill="none"/>
<text x="1036" y="615.8" font-size="40" text-anchor="middle" stroke="#000" stroke-width="0.5">0</text>
<text x="1200.3" y="615.8" font-size="40" text-anchor="middle" stroke="#000" stroke-width="0.5">1</text>
<text x="1364.7" y="615.8" font-size="40" text-anchor="middle" stroke="#000" stroke-width="0.5">2</text>
<text x="1529" y="615.8" font-size="40" text-anchor="middle" stroke="#000" stroke-width="0.5">3</text>
<text x="1693.4" y="615.8" font-size="40" text-anchor="middle" stroke="#000" stroke-width="0.5">4</text>
<text x="1001.7" y="575.9" font-size="40" text-anchor="end" stroke="#000" stroke-width="0.5">10</text>
<text x="1001.6" y="562.9" font-size="23.3" stroke="#000" stroke-width="0.5">0</text>
<text x="1001.7" y="434.6" font-size="40" text-anchor="end" stroke="#000" stroke-width="0.5">10</text>
<text x="1001.6" y="421.6" font-size="23.3" stroke="#000" stroke-width="0.5">1</text>
<text x="1001.7" y="293.2" font-size="40" text-anchor="end" stroke="#000" stroke-width="0.5">10</text>
<text x="1001.6" y="280.2" font-size="23.3" stroke="#000" stroke-width="0.5">2</text>
<text x="1001.7" y="151.9" font-size="40" text-anchor="end" stroke="#000" stroke-width="0.5">10</text>
<text x="1001.6" y="138.9" font-size="23.3" stroke="#000" stroke-width="0.5">3</text>
<text x="1379.3" y="655.1" font-size="40" text-anchor="middle" stroke="#000" stroke-width="0.5">Time (s)</text>
<text font-size="40" text-anchor="middle" stroke="#000" stroke-width="0.5" transform="translate(933.1 285.5) rotate(-90)">Intensity (counts)</text>
<text x="917.5" y="42.8" font-size="50.3" stroke="#000" stroke-width="0.5">(c)</text>
<text x="1117" y="109.1" font-size="39" font-family='"Liberation Serif", serif'>λ</text>
<text x="1137.2" y="121.7" font-size="24" stroke="#000" stroke-width="0.5">em</text>
<text x="1175.5" y="109.1" font-size="39.5" stroke="#000" stroke-width="0.5">= 540 nm</text>
<path d="M1438.4 89.5L1517 89.5" stroke="#000" stroke-width="3.6"/>
<text x="1543.5" y="96.5" font-size="39.7" stroke="#000" stroke-width="0.5">20 ms</text>
<path d="M1438.4 138.7L1517 138.7" stroke="#0a0ae0" stroke-width="3.6"/>
<text x="1541" y="150" font-size="39.7" stroke="#000" stroke-width="0.5">100 ms</text>
<path d="M1438.4 192.3L1517 192.3" stroke="#b9142c" stroke-width="3.6"/>
<text x="1543.5" y="202.6" font-size="39.7" stroke="#000" stroke-width="0.5">200 ms</text>
<g clip-path="url(#clipe)" stroke-width="3.2" stroke-linejoin="round">
<path d="M1891.1 569.5L1892.8 569.5L1894.4 569.5L1896.1 569.5L1897.8 569.5L1899.4 569.5L1901.1 569.5L1902.8 569.4L1904.4 569.4L1906.1 569.4L1907.8 569.4L1909.4 569.4L1911.1 569.4L1912.8 569.4L1914.4 569.4L1916.1 569.4L1917.8 569.4L1919.5 569.4L1921.1 569.4L1922.8 569.4L1924.5 569.4L1926.1 569.4L1927.8 569.4L1929.5 569.4L1931.1 569.4L1932.8 569.3L1934.5 569.3L1936.1 569.3L1937.8 569.3L1939.5 569.3L1941.2 569.3L1942.8 569.2L1944.5 569.2L1946.2 569.2L1947.8 569.2L1949.5 569.1L1951.2 569.1L1952.8 569.1L1954.5 569L1956.2 568.9L1957.8 568.9L1959.5 568.8L1961.2 568.7L1962.8 568.6L1964.5 568.5L1966.2 568.4L1967.9 568.3L1969.5 568.2L1971.2 568L1972.9 567.8L1974.5 567.6L1976.2 567.4L1977.9 567.1L1979.5 566.8L1981.2 566.5L1982.9 566.2L1984.5 565.7L1986.2 565.3L1987.9 564.8L1989.6 564.3L1991.2 563.8L1992.9 563.2L1994.6 562.6L1996.2 562L1997.9 561.3L1999.6 560.6L2001.2 559.8L2002.9 559L2004.6 558.2L2006.2 557.3L2007.9 556.5L2009.6 555.6L2011.2 554.7L2012.9 553.8L2014.6 552.9L2016.3 552L2017.9 551.1L2019.6 550.2L2021.3 549.3L2022.9 548.3L2024.6 547.4L2026.3 546.6L2027.9 545.7L2029.6 544.8L2031.3 544L2032.9 543.2L2034.6 542.4L2036.3 541.6L2038 540.9L2039.6 540.2L2041.3 539.6L2043 539.1L2044.6 538.6L2046.3 538.2L2048 537.9L2049.6 537.7L2051.3 537.7L2053 537.7L2054.6 537.9L2056.3 538.2L2058 538.6L2059.7 539L2061.3 539.6L2063 540.2L2064.7 540.8L2066.3 541.4L2068 541.9L2069.7 542.4L2071.3 542.8L2073 543.1L2074.7 543.3L2076.3 543.5L2078 543.7L2079.7 543.7L2081.3 543.7L2083 543.7L2084.7 543.7L2086.4 543.6L2088 543.5L2089.7 543.4L2091.4 543.3L2093 543.2L2094.7 543.1L2096.4 543.1L2098 543.1L2099.7 543.1L2101.4 543.2L2103 543.3L2104.7 543.4L2106.4 543.6L2108.1 543.8L2109.7 544.1L2111.4 544.4L2113.1 544.7L2114.7 545L2116.4 545.3L2118.1 545.6L2119.7 545.9L2121.4 546.1L2123.1 546.3L2124.7 546.3L2126.4 546.3L2128.1 546.2L2129.7 545.9L2131.4 545.5L2133.1 544.9L2134.8 544L2136.4 543L2138.1 541.8L2139.8 540.3L2141.4 538.6L2143.1 536.7L2144.8 534.5L2146.4 532.1L2148.1 529.5L2149.8 526.7L2151.4 523.7L2153.1 520.5L2154.8 517.2L2156.5 513.8L2158.1 510.2L2159.8 506.6L2161.5 502.8L2163.1 498.8L2164.8 494.8L2166.5 490.6L2168.1 486.3L2169.8 481.9L2171.5 477.4L2173.1 472.9L2174.8 468.3L2176.5 463.6L2178.1 459L2179.8 454.4L2181.5 449.9L2183.2 445.6L2184.8 441.4L2186.5 437.4L2188.2 433.6L2189.8 430.1L2191.5 426.8L2193.2 423.8L2194.8 421L2196.5 418.4L2198.2 416.1L2199.8 414L2201.5 412.2L2203.2 410.7L2204.9 409.4L2206.5 408.3L2208.2 407.4L2209.9 406.8L2211.5 406.4L2213.2 406.1L2214.9 406.1L2216.5 406.2L2218.2 406.4L2219.9 406.7L2221.5 407.2L2223.2 407.7L2224.9 408.3L2226.6 409L2228.2 409.7L2229.9 410.5L2231.6 411.2L2233.2 412L2234.9 412.8L2236.6 413.6L2238.2 414.3L2239.9 415L2241.6 415.8L2243.2 416.5L2244.9 417.2L2246.6 418L2248.2 418.7L2249.9 419.5L2251.6 420.4L2253.3 421.2L2254.9 422.2L2256.6 423.1L2258.3 424.2L2259.9 425.2L2261.6 426.4L2263.3 427.6L2264.9 428.9L2266.6 430.3L2268.3 431.7L2269.9 433.2L2271.6 434.8L2273.3 436.3L2275 438L2276.6 439.7L2278.3 441.5L2280 443.3L2281.6 445.2L2283.3 447.2L2285 449.2L2286.6 451.4L2288.3 453.5L2290 455.8L2291.6 458.1L2293.3 460.3L2295 462.6L2296.6 464.9L2298.3 467.2L2300 469.4L2301.7 471.6L2303.3 473.8L2305 475.9L2306.7 478L2308.3 480L2310 482.1L2311.7 484L2313.3 486L2315 487.9L2316.7 489.8L2318.3 491.6L2320 493.4L2321.7 495.2L2323.4 497L2325 498.7L2326.7 500.4L2328.4 502.1L2330 503.7L2331.7 505.3L2333.4 506.9L2335 508.5L2336.7 510.1L2338.4 511.6L2340 513.1L2341.7 514.6L2343.4 516L2345 517.5L2346.7 518.9L2348.4 520.3L2350.1 521.6L2351.7 523L2353.4 524.3L2355.1 525.5L2356.7 526.8L2358.4 528L2360.1 529.2L2361.7 530.4L2363.4 531.5L2365.1 532.7L2366.7 533.8L2368.4 534.9L2370.1 535.9L2371.8 537L2373.4 538L2375.1 539L2376.8 539.9L2378.4 540.9L2380.1 541.8L2381.8 542.7L2383.4 543.6L2385.1 544.5L2386.8 545.3L2388.4 546.1L2390.1 546.9L2391.8 547.7L2393.4 548.4L2395.1 549.1L2396.8 549.8L2398.5 550.4L2400.1 551.1L2401.8 551.7L2403.5 552.3L2405.1 552.9L2406.8 553.4L2408.5 554L2410.1 554.5L2411.8 555.1L2413.5 555.6L2415.1 556.1L2416.8 556.6L2418.5 557.1L2420.2 557.5L2421.8 558L2423.5 558.5L2425.2 558.9L2426.8 559.3L2428.5 559.7L2430.2 560.1L2431.8 560.5L2433.5 560.8L2435.2 561.2L2436.8 561.5L2438.5 561.8L2440.2 562.1L2441.9 562.4L2443.5 562.7L2445.2 562.9L2446.9 563.2L2448.5 563.4L2450.2 563.7L2451.9 563.9L2453.5 564.1L2455.2 564.3L2456.9 564.5L2458.5 564.7L2460.2 564.9L2461.9 565.1L2463.5 565.3L2465.2 565.4L2466.9 565.6L2468.6 565.7L2470.2 565.9L2471.9 566L2473.6 566.1L2475.2 566.2L2476.9 566.4L2478.6 566.5L2480.2 566.6L2481.9 566.7L2483.6 566.8L2485.2 566.9L2486.9 567L2488.6 567.1L2490.3 567.1L2491.9 567.2L2493.6 567.3L2495.3 567.4L2496.9 567.5L2498.6 567.6L2500.3 567.6L2501.9 567.7L2503.6 567.8L2505.3 567.8L2506.9 567.9L2508.6 568L2510.3 568L2511.9 568.1L2513.6 568.1L2515.3 568.2L2517 568.2L2518.6 568.3L2520.3 568.3L2522 568.4L2523.6 568.4L2525.3 568.5L2527 568.5L2528.6 568.6L2530.3 568.6L2532 568.6L2533.6 568.7L2535.3 568.7L2537 568.8L2538.7 568.8L2540.3 568.8L2542 568.9L2543.7 568.9L2545.3 568.9L2547 569L2548.7 569L2550.3 569L2552 569.1L2553.7 569.1L2555.3 569.1L2557 569.1L2558.7 569.1L2560.3 569.2L2562 569.2" stroke="#000"/>
<path d="M1891.1 569.5L1892.8 569.5L1894.4 569.4L1896.1 569.4L1897.8 569.4L1899.4 569.4L1901.1 569.4L1902.8 569.4L1904.4 569.4L1906.1 569.4L1907.8 569.4L1909.4 569.4L1911.1 569.4L1912.8 569.4L1914.4 569.4L1916.1 569.4L1917.8 569.4L1919.5 569.4L1921.1 569.3L1922.8 569.3L1924.5 569.3L1926.1 569.3L1927.8 569.3L1929.5 569.3L1931.1 569.3L1932.8 569.3L1934.5 569.2L1936.1 569.2L1937.8 569.2L1939.5 569.2L1941.2 569.1L1942.8 569.1L1944.5 569.1L1946.2 569L1947.8 569L1949.5 568.9L1951.2 568.9L1952.8 568.8L1954.5 568.7L1956.2 568.6L1957.8 568.5L1959.5 568.4L1961.2 568.3L1962.8 568.1L1964.5 568L1966.2 567.8L1967.9 567.6L1969.5 567.4L1971.2 567.1L1972.9 566.9L1974.5 566.5L1976.2 566.2L1977.9 565.8L1979.5 565.3L1981.2 564.8L1982.9 564.2L1984.5 563.6L1986.2 562.9L1987.9 562.1L1989.6 561.3L1991.2 560.4L1992.9 559.5L1994.6 558.6L1996.2 557.6L1997.9 556.5L1999.6 555.3L2001.2 554.1L2002.9 552.8L2004.6 551.5L2006.2 550.1L2007.9 548.7L2009.6 547.3L2011.2 545.9L2012.9 544.5L2014.6 543.1L2016.3 541.6L2017.9 540.2L2019.6 538.7L2021.3 537.2L2022.9 535.8L2024.6 534.4L2026.3 532.9L2027.9 531.6L2029.6 530.2L2031.3 528.9L2032.9 527.6L2034.6 526.3L2036.3 525.1L2038 524L2039.6 522.9L2041.3 521.9L2043 521L2044.6 520.3L2046.3 519.7L2048 519.2L2049.6 518.9L2051.3 518.8L2053 518.9L2054.6 519.2L2056.3 519.6L2058 520.3L2059.7 521.1L2061.3 522L2063 522.9L2064.7 523.9L2066.3 524.9L2068 525.8L2069.7 526.6L2071.3 527.3L2073 527.9L2074.7 528.4L2076.3 528.8L2078 529.1L2079.7 529.3L2081.3 529.4L2083 529.5L2084.7 529.6L2086.4 529.5L2088 529.5L2089.7 529.5L2091.4 529.5L2093 529.5L2094.7 529.5L2096.4 529.6L2098 529.7L2099.7 529.9L2101.4 530.1L2103 530.3L2104.7 530.6L2106.4 531L2108.1 531.4L2109.7 531.8L2111.4 532.3L2113.1 532.8L2114.7 533.3L2116.4 533.8L2118.1 534.3L2119.7 534.7L2121.4 535L2123.1 535.3L2124.7 535.5L2126.4 535.5L2128.1 535.4L2129.7 535.1L2131.4 534.5L2133.1 533.7L2134.8 532.7L2136.4 531.4L2138.1 529.7L2139.8 527.8L2141.4 525.6L2143.1 523.1L2144.8 520.2L2146.4 517.1L2148.1 513.6L2149.8 509.9L2151.4 505.9L2153.1 501.8L2154.8 497.4L2156.5 492.9L2158.1 488.2L2159.8 483.4L2161.5 478.4L2163.1 473.2L2164.8 467.8L2166.5 462.3L2168.1 456.6L2169.8 450.8L2171.5 444.9L2173.1 438.8L2174.8 432.7L2176.5 426.5L2178.1 420.4L2179.8 414.3L2181.5 408.4L2183.2 402.6L2184.8 397L2186.5 391.8L2188.2 386.8L2189.8 382.1L2191.5 377.7L2193.2 373.7L2194.8 370L2196.5 366.6L2198.2 363.6L2199.8 360.8L2201.5 358.4L2203.2 356.4L2204.9 354.7L2206.5 353.3L2208.2 352.2L2209.9 351.3L2211.5 350.8L2213.2 350.5L2214.9 350.4L2216.5 350.6L2218.2 350.9L2219.9 351.4L2221.5 352L2223.2 352.7L2224.9 353.5L2226.6 354.4L2228.2 355.4L2229.9 356.5L2231.6 357.5L2233.2 358.6L2234.9 359.7L2236.6 360.7L2238.2 361.7L2239.9 362.7L2241.6 363.7L2243.2 364.6L2244.9 365.6L2246.6 366.6L2248.2 367.7L2249.9 368.8L2251.6 369.9L2253.3 371.1L2254.9 372.3L2256.6 373.6L2258.3 375L2259.9 376.4L2261.6 378L2263.3 379.7L2264.9 381.4L2266.6 383.2L2268.3 385.1L2269.9 387.1L2271.6 389.2L2273.3 391.3L2275 393.6L2276.6 395.9L2278.3 398.2L2280 400.7L2281.6 403.2L2283.3 405.9L2285 408.6L2286.6 411.5L2288.3 414.4L2290 417.4L2291.6 420.4L2293.3 423.5L2295 426.6L2296.6 429.6L2298.3 432.7L2300 435.7L2301.7 438.6L2303.3 441.5L2305 444.3L2306.7 447.1L2308.3 449.9L2310 452.6L2311.7 455.2L2313.3 457.8L2315 460.4L2316.7 462.9L2318.3 465.4L2320 467.8L2321.7 470.2L2323.4 472.5L2325 474.8L2326.7 477.1L2328.4 479.4L2330 481.6L2331.7 483.7L2333.4 485.9L2335 488L2336.7 490L2338.4 492.1L2340 494.1L2341.7 496.1L2343.4 498L2345 499.9L2346.7 501.8L2348.4 503.7L2350.1 505.5L2351.7 507.3L2353.4 509L2355.1 510.7L2356.7 512.4L2358.4 514L2360.1 515.6L2361.7 517.2L2363.4 518.8L2365.1 520.3L2366.7 521.8L2368.4 523.2L2370.1 524.6L2371.8 526L2373.4 527.4L2375.1 528.7L2376.8 530L2378.4 531.2L2380.1 532.5L2381.8 533.7L2383.4 534.9L2385.1 536L2386.8 537.2L2388.4 538.2L2390.1 539.3L2391.8 540.3L2393.4 541.3L2395.1 542.2L2396.8 543.1L2398.5 544L2400.1 544.8L2401.8 545.7L2403.5 546.5L2405.1 547.3L2406.8 548L2408.5 548.8L2410.1 549.5L2411.8 550.2L2413.5 550.9L2415.1 551.6L2416.8 552.2L2418.5 552.9L2420.2 553.5L2421.8 554.1L2423.5 554.7L2425.2 555.3L2426.8 555.9L2428.5 556.4L2430.2 557L2431.8 557.4L2433.5 557.9L2435.2 558.4L2436.8 558.8L2438.5 559.2L2440.2 559.6L2441.9 560L2443.5 560.4L2445.2 560.7L2446.9 561.1L2448.5 561.4L2450.2 561.7L2451.9 562L2453.5 562.3L2455.2 562.6L2456.9 562.8L2458.5 563.1L2460.2 563.4L2461.9 563.6L2463.5 563.8L2465.2 564L2466.9 564.2L2468.6 564.4L2470.2 564.6L2471.9 564.8L2473.6 565L2475.2 565.1L2476.9 565.3L2478.6 565.4L2480.2 565.6L2481.9 565.7L2483.6 565.9L2485.2 566L2486.9 566.1L2488.6 566.2L2490.3 566.4L2491.9 566.5L2493.6 566.6L2495.3 566.7L2496.9 566.8L2498.6 566.9L2500.3 567L2501.9 567.1L2503.6 567.2L2505.3 567.3L2506.9 567.4L2508.6 567.4L2510.3 567.5L2511.9 567.6L2513.6 567.7L2515.3 567.7L2517 567.8L2518.6 567.9L2520.3 567.9L2522 568L2523.6 568.1L2525.3 568.1L2527 568.2L2528.6 568.3L2530.3 568.3L2532 568.4L2533.6 568.4L2535.3 568.5L2537 568.5L2538.7 568.6L2540.3 568.6L2542 568.7L2543.7 568.7L2545.3 568.8L2547 568.8L2548.7 568.8L2550.3 568.9L2552 568.9L2553.7 568.9L2555.3 569L2557 569L2558.7 569L2560.3 569L2562 569.1" stroke="#0a0ae0"/>
<path d="M1891.1 569.4L1892.8 569.4L1894.4 569.4L1896.1 569.4L1897.8 569.4L1899.4 569.3L1901.1 569.3L1902.8 569.3L1904.4 569.3L1906.1 569.3L1907.8 569.3L1909.4 569.2L1911.1 569.2L1912.8 569.2L1914.4 569.2L1916.1 569.2L1917.8 569.1L1919.5 569.1L1921.1 569.1L1922.8 569L1924.5 569L1926.1 569L1927.8 568.9L1929.5 568.9L1931.1 568.9L1932.8 568.8L1934.5 568.8L1936.1 568.7L1937.8 568.7L1939.5 568.6L1941.2 568.5L1942.8 568.4L1944.5 568.4L1946.2 568.3L1947.8 568.1L1949.5 568L1951.2 567.8L1952.8 567.7L1954.5 567.4L1956.2 567.2L1957.8 566.9L1959.5 566.5L1961.2 566.2L1962.8 565.7L1964.5 565.3L1966.2 564.8L1967.9 564.2L1969.5 563.6L1971.2 562.9L1972.9 562.1L1974.5 561.2L1976.2 560.2L1977.9 559L1979.5 557.7L1981.2 556.2L1982.9 554.5L1984.5 552.7L1986.2 550.7L1987.9 548.5L1989.6 546.2L1991.2 543.8L1992.9 541.2L1994.6 538.5L1996.2 535.6L1997.9 532.5L1999.6 529.2L2001.2 525.8L2002.9 522.1L2004.6 518.3L2006.2 514.4L2007.9 510.4L2009.6 506.4L2011.2 502.4L2012.9 498.3L2014.6 494.2L2016.3 490.1L2017.9 485.9L2019.6 481.8L2021.3 477.6L2022.9 473.5L2024.6 469.4L2026.3 465.4L2027.9 461.5L2029.6 457.7L2031.3 453.9L2032.9 450.3L2034.6 446.8L2036.3 443.5L2038 440.3L2039.6 437.3L2041.3 434.6L2043 432.2L2044.6 430.2L2046.3 428.6L2048 427.5L2049.6 426.9L2051.3 426.8L2053 427.4L2054.6 428.6L2056.3 430.3L2058 432.6L2059.7 435.4L2061.3 438.5L2063 442L2064.7 445.5L2066.3 449.1L2068 452.5L2069.7 455.7L2071.3 458.7L2073 461.5L2074.7 464L2076.3 466.3L2078 468.4L2079.7 470.2L2081.3 471.9L2083 473.4L2084.7 474.7L2086.4 475.9L2088 477L2089.7 478.1L2091.4 479L2093 480L2094.7 480.9L2096.4 481.8L2098 482.7L2099.7 483.5L2101.4 484.4L2103 485.2L2104.7 486L2106.4 486.8L2108.1 487.6L2109.7 488.3L2111.4 489.1L2113.1 489.8L2114.7 490.5L2116.4 491L2118.1 491.5L2119.7 491.7L2121.4 491.8L2123.1 491.7L2124.7 491.3L2126.4 490.6L2128.1 489.6L2129.7 488.2L2131.4 486.3L2133.1 483.9L2134.8 480.9L2136.4 477.3L2138.1 473.1L2139.8 468.3L2141.4 462.9L2143.1 456.7L2144.8 450L2146.4 442.5L2148.1 434.5L2149.8 425.9L2151.4 416.7L2153.1 407.1L2154.8 397.1L2156.5 386.8L2158.1 376.1L2159.8 365.1L2161.5 353.7L2163.1 341.9L2164.8 329.7L2166.5 317.2L2168.1 304.3L2169.8 291.1L2171.5 277.6L2173.1 263.8L2174.8 249.9L2176.5 235.9L2178.1 222L2179.8 208.2L2181.5 194.6L2183.2 181.5L2184.8 168.8L2186.5 156.8L2188.2 145.5L2189.8 134.9L2191.5 125L2193.2 115.9L2194.8 107.4L2196.5 99.8L2198.2 92.8L2199.8 86.7L2201.5 81.3L2203.2 76.7L2204.9 72.8L2206.5 69.7L2208.2 67.2L2209.9 65.4L2211.5 64.2L2213.2 63.6L2214.9 63.5L2216.5 63.9L2218.2 64.8L2219.9 66L2221.5 67.4L2223.2 69.2L2224.9 71.1L2226.6 73.3L2228.2 75.6L2229.9 78.1L2231.6 80.6L2233.2 83.1L2234.9 85.6L2236.6 88L2238.2 90.4L2239.9 92.7L2241.6 95L2243.2 97.3L2244.9 99.6L2246.6 102L2248.2 104.4L2249.9 106.9L2251.6 109.5L2253.3 112.3L2254.9 115.1L2256.6 118.2L2258.3 121.4L2259.9 124.8L2261.6 128.4L2263.3 132.2L2264.9 136.2L2266.6 140.5L2268.3 144.9L2269.9 149.5L2271.6 154.3L2273.3 159.2L2275 164.4L2276.6 169.7L2278.3 175.1L2280 180.8L2281.6 186.7L2283.3 192.8L2285 199.1L2286.6 205.7L2288.3 212.4L2290 219.3L2291.6 226.3L2293.3 233.4L2295 240.5L2296.6 247.5L2298.3 254.5L2300 261.4L2301.7 268.2L2303.3 274.8L2305 281.4L2306.7 287.8L2308.3 294.1L2310 300.4L2311.7 306.5L2313.3 312.5L2315 318.4L2316.7 324.2L2318.3 329.9L2320 335.5L2321.7 341L2323.4 346.4L2325 351.7L2326.7 356.9L2328.4 362.1L2330 367.2L2331.7 372.2L2333.4 377.1L2335 381.9L2336.7 386.7L2338.4 391.4L2340 396L2341.7 400.6L2343.4 405.1L2345 409.5L2346.7 413.8L2348.4 418.1L2350.1 422.3L2351.7 426.3L2353.4 430.3L2355.1 434.3L2356.7 438.1L2358.4 441.9L2360.1 445.6L2361.7 449.2L2363.4 452.8L2365.1 456.3L2366.7 459.7L2368.4 463L2370.1 466.3L2371.8 469.4L2373.4 472.6L2375.1 475.6L2376.8 478.6L2378.4 481.5L2380.1 484.4L2381.8 487.2L2383.4 489.9L2385.1 492.5L2386.8 495.1L2388.4 497.6L2390.1 500L2391.8 502.3L2393.4 504.6L2395.1 506.7L2396.8 508.8L2398.5 510.8L2400.1 512.8L2401.8 514.7L2403.5 516.5L2405.1 518.3L2406.8 520.1L2408.5 521.8L2410.1 523.5L2411.8 525.1L2413.5 526.7L2415.1 528.2L2416.8 529.8L2418.5 531.3L2420.2 532.7L2421.8 534.2L2423.5 535.6L2425.2 536.9L2426.8 538.2L2428.5 539.4L2430.2 540.6L2431.8 541.8L2433.5 542.9L2435.2 543.9L2436.8 544.9L2438.5 545.9L2440.2 546.8L2441.9 547.7L2443.5 548.5L2445.2 549.3L2446.9 550.1L2448.5 550.9L2450.2 551.6L2451.9 552.3L2453.5 552.9L2455.2 553.6L2456.9 554.2L2458.5 554.8L2460.2 555.4L2461.9 555.9L2463.5 556.4L2465.2 556.9L2466.9 557.4L2468.6 557.9L2470.2 558.3L2471.9 558.7L2473.6 559.1L2475.2 559.5L2476.9 559.8L2478.6 560.2L2480.2 560.5L2481.9 560.8L2483.6 561.1L2485.2 561.4L2486.9 561.7L2488.6 562L2490.3 562.3L2491.9 562.5L2493.6 562.8L2495.3 563L2496.9 563.3L2498.6 563.5L2500.3 563.7L2501.9 564L2503.6 564.2L2505.3 564.4L2506.9 564.6L2508.6 564.8L2510.3 565L2511.9 565.1L2513.6 565.3L2515.3 565.5L2517 565.6L2518.6 565.8L2520.3 565.9L2522 566.1L2523.6 566.2L2525.3 566.4L2527 566.5L2528.6 566.6L2530.3 566.8L2532 566.9L2533.6 567L2535.3 567.1L2537 567.2L2538.7 567.4L2540.3 567.5L2542 567.6L2543.7 567.7L2545.3 567.8L2547 567.9L2548.7 568L2550.3 568.1L2552 568.1L2553.7 568.2L2555.3 568.3L2557 568.4L2558.7 568.4L2560.3 568.5L2562 568.5" stroke="#c0080f"/>
</g>
<rect x="1892.9" y="36.8" width="667.4" height="538.9" fill="none" stroke="#000" stroke-width="3"/>
<path d="M1976.2 577.1v8.4M2143.1 577.1v8.4M2310 577.1v8.4M2476.9 577.1v8.4" stroke="#000" stroke-width="3.1" fill="none"/>
<path d="M1892.8 577.1v3.2M2059.7 577.1v3.2M2226.6 577.1v3.2M2393.4 577.1v3.2M2560.3 577.1v3.2" stroke="#000" stroke-width="3.1" fill="none"/>
<text x="1976.2" y="618.8" font-size="40" text-anchor="middle" stroke="#000" stroke-width="0.5">400</text>
<text x="2143.1" y="618.8" font-size="40" text-anchor="middle" stroke="#000" stroke-width="0.5">500</text>
<text x="2310" y="618.8" font-size="40" text-anchor="middle" stroke="#000" stroke-width="0.5">600</text>
<text x="2476.9" y="618.8" font-size="40" text-anchor="middle" stroke="#000" stroke-width="0.5">700</text>
<text x="2243.2" y="660.5" font-size="39.8" text-anchor="middle" stroke="#000" stroke-width="0.5">Wavelength (nm)</text>
<text font-size="40" text-anchor="middle" stroke="#000" stroke-width="0.5" transform="translate(1851.4 256.7) rotate(-90)">Intensity (a.u.)</text>
<text x="1768.8" y="42.8" font-size="50.3" stroke="#000" stroke-width="0.5">(e)</text>
<path d="M2371.7 88.8L2448.8 88.8" stroke="#000" stroke-width="3.6"/>
<text x="2469" y="99.8" font-size="39.5" stroke="#000" stroke-width="0.5">7 V</text>
<path d="M2371.7 136.7L2448.8 136.7" stroke="#0a0ae0" stroke-width="3.6"/>
<text x="2469" y="149.7" font-size="39.5" stroke="#000" stroke-width="0.5">8 V</text>
<path d="M2371.7 190.2L2448.8 190.2" stroke="#b9142c" stroke-width="3.6"/>
<text x="2469" y="202.4" font-size="39.5" stroke="#000" stroke-width="0.5">9 V</text>
<rect x="1170.4" y="756.5" width="366.6" height="113.5" fill="#eff6fd"/>
<path d="M1536.2 870L1536.2 757L1539.5 754L1545.7 794.1L1553.5 813.6L1560.8 822.9L1568.3 829.4L1575.8 830.4L1583.4 832.9L1590.9 829.7L1598.4 834.2L1605.4 834.2L1612.9 836.7L1620.5 835.4L1627.7 840.5L1635.3 841.7L1642.8 847.5L1650.3 834.2L1657.8 834.7L1665.1 843.7L1672.6 853L1680.1 841.7L1687.7 834.9L1694 837.9L1694 870 Z" style="fill:#b4fbb0"/>
<g fill="#0808ee"><circle cx="1032.4" cy="844.2" r="3.75"/><circle cx="1039.9" cy="834.2" r="3.75"/><circle cx="1047.2" cy="839.2" r="3.75"/><circle cx="1054.7" cy="847.2" r="3.75"/><circle cx="1062.2" cy="836.7" r="3.75"/><circle cx="1069.8" cy="847.5" r="3.75"/><circle cx="1077" cy="842.2" r="3.75"/><circle cx="1084.3" cy="841" r="3.75"/><circle cx="1091.8" cy="840.7" r="3.75"/><circle cx="1099.3" cy="840.7" r="3.75"/><circle cx="1106.9" cy="835.9" r="3.75"/><circle cx="1114.1" cy="836.7" r="3.75"/><circle cx="1121.7" cy="833.4" r="3.75"/><circle cx="1128.9" cy="839.7" r="3.75"/><circle cx="1136.2" cy="839.7" r="3.75"/><circle cx="1143.7" cy="844.2" r="3.75"/><circle cx="1151.3" cy="837.9" r="3.75"/><circle cx="1158.8" cy="837.9" r="3.75"/><circle cx="1166.3" cy="767.7" r="3.75"/><circle cx="1173.8" cy="751.9" r="3.75"/><circle cx="1181.3" cy="752" r="3.75"/><circle cx="1188.7" cy="752" r="3.75"/><circle cx="1196.2" cy="752.1" r="3.75"/><circle cx="1203.6" cy="752.1" r="3.75"/><circle cx="1211.1" cy="752.2" r="3.75"/><circle cx="1218.5" cy="752.2" r="3.75"/><circle cx="1225.9" cy="752.3" r="3.75"/><circle cx="1233.4" cy="752.4" r="3.75"/><circle cx="1240.8" cy="752.4" r="3.75"/><circle cx="1248.3" cy="752.5" r="3.75"/><circle cx="1255.7" cy="752.5" r="3.75"/><circle cx="1263.2" cy="752.6" r="3.75"/><circle cx="1270.6" cy="752.6" r="3.75"/><circle cx="1278.1" cy="752.7" r="3.75"/><circle cx="1285.5" cy="752.8" r="3.75"/><circle cx="1293" cy="752.8" r="3.75"/><circle cx="1300.4" cy="752.9" r="3.75"/><circle cx="1307.8" cy="752.9" r="3.75"/><circle cx="1315.3" cy="753" r="3.75"/><circle cx="1322.7" cy="753" r="3.75"/><circle cx="1330.2" cy="753.1" r="3.75"/><circle cx="1337.6" cy="753.2" r="3.75"/><circle cx="1345.1" cy="753.2" r="3.75"/><circle cx="1352.5" cy="753.3" r="3.75"/><circle cx="1360" cy="753.3" r="3.75"/><circle cx="1367.4" cy="753.4" r="3.75"/><circle cx="1374.9" cy="753.4" r="3.75"/><circle cx="1382.3" cy="753.5" r="3.75"/><circle cx="1389.8" cy="753.6" r="3.75"/><circle cx="1397.2" cy="753.6" r="3.75"/><circle cx="1404.6" cy="753.7" r="3.75"/><circle cx="1412.1" cy="753.7" r="3.75"/><circle cx="1419.5" cy="753.8" r="3.75"/><circle cx="1427" cy="753.8" r="3.75"/><circle cx="1434.4" cy="753.9" r="3.75"/><circle cx="1441.9" cy="754" r="3.75"/><circle cx="1449.3" cy="754" r="3.75"/><circle cx="1456.8" cy="754.1" r="3.75"/><circle cx="1464.2" cy="754.1" r="3.75"/><circle cx="1471.7" cy="754.2" r="3.75"/><circle cx="1479.1" cy="754.2" r="3.75"/><circle cx="1486.6" cy="754.3" r="3.75"/><circle cx="1494" cy="754.4" r="3.75"/><circle cx="1501.4" cy="754.4" r="3.75"/><circle cx="1508.9" cy="754.5" r="3.75"/><circle cx="1516.3" cy="754.5" r="3.75"/><circle cx="1523.8" cy="754.6" r="3.75"/><circle cx="1531.2" cy="754.6" r="3.75"/><circle cx="1538.7" cy="754.7" r="3.75"/><circle cx="1545.7" cy="794.1" r="3.75"/><circle cx="1553.5" cy="813.6" r="3.75"/><circle cx="1560.8" cy="822.9" r="3.75"/><circle cx="1568.3" cy="829.4" r="3.75"/><circle cx="1575.8" cy="830.4" r="3.75"/><circle cx="1583.4" cy="832.9" r="3.75"/><circle cx="1590.9" cy="829.7" r="3.75"/><circle cx="1598.4" cy="834.2" r="3.75"/><circle cx="1605.4" cy="834.2" r="3.75"/><circle cx="1612.9" cy="836.7" r="3.75"/><circle cx="1620.5" cy="835.4" r="3.75"/><circle cx="1627.7" cy="840.5" r="3.75"/><circle cx="1635.3" cy="841.7" r="3.75"/><circle cx="1642.8" cy="847.5" r="3.75"/><circle cx="1650.3" cy="834.2" r="3.75"/><circle cx="1657.8" cy="834.7" r="3.75"/><circle cx="1665.1" cy="843.7" r="3.75"/><circle cx="1672.6" cy="853" r="3.75"/><circle cx="1680.1" cy="841.7" r="3.75"/><circle cx="1687.7" cy="834.9" r="3.75"/></g>
<path clip-path="url(#clipd)" d="M989 915L989.5 943.5L990 1228L990.6 1232.4L991.2 1236.1L991.8 1239.1L992.4 1241.6L993 1243.6L993.6 1245.3L994.2 1246.7L994.8 1247.8L995.4 1248.8L996 1249.6L996.6 1250.2L997.2 1250.7L997.8 1251.2L998.4 1251.5L999 1251.8L999.6 1252.1L1000.2 1252.3L1000.8 1252.4L1001.4 1252.6L1002 1252.7L1002.6 1252.8L1003.2 1252.8L1003.8 1252.9L1004.4 1253L1005 1253L1023.1 1253.2L1023.4 1253.2L1023.7 1213.2L1024.9 884L1025.7 891.6L1026.5 895.9L1027.3 898.5L1028.1 900.2L1028.9 901.4L1029.7 902.4L1030.5 903.3L1031.3 904L1032.1 904.7L1032.9 905.3L1033.7 905.9L1034.5 906L1035.3 906.1L1036.1 907.1L1036.9 907.6L1037.7 907.4L1038.5 907.8L1039.3 909.6L1040.1 909.4L1040.9 909.1L1041.8 909.7L1042.6 910.8L1043.4 911L1044.2 911.2L1045 910.7L1045.8 911.1L1046.6 911.6L1047.4 910.8L1048.2 911.8L1049 911.6L1049.8 912.8L1050.6 911.6L1051.4 912.8L1052.2 913.3L1053 912.4L1053.8 913.6L1054.6 913.7L1055.4 912.4L1056.2 913.6L1057.1 915L1057.6 943.5L1058.1 1228L1058.7 1232.4L1059.3 1236.1L1059.9 1239.1L1060.5 1241.6L1061.1 1243.6L1061.7 1245.3L1062.3 1246.7L1062.9 1247.8L1063.5 1248.8L1064.1 1249.6L1064.7 1250.2L1065.3 1250.7L1065.9 1251.2L1066.5 1251.5L1067.1 1251.8L1067.7 1252.1L1068.3 1252.3L1068.9 1252.4L1069.5 1252.6L1070.1 1252.7L1070.7 1252.8L1071.3 1252.8L1071.9 1252.9L1072.5 1253L1073.1 1253L1091.1 1253.2L1091.4 1253.2L1091.7 1213.2L1092.9 881L1093.8 889L1094.6 893.6L1095.4 896.3L1096.2 898.1L1097 899.4L1097.8 900.5L1098.6 901.4L1099.4 902.2L1100.2 902.9L1101 903.5L1101.8 904.1L1102.6 904.6L1103.4 904.7L1104.2 905.4L1105 906.6L1105.8 906.2L1106.6 906.3L1107.4 907.6L1108.2 907.6L1109 908.5L1109.8 907.9L1110.6 908.3L1111.4 909.4L1112.2 909.2L1113 909.4L1113.8 909.3L1114.6 909.1L1115.4 910.8L1116.2 909.7L1117 911.1L1117.8 910.6L1118.6 911.7L1119.4 911L1120.2 912L1121 911.6L1121.8 911.2L1122.6 912.2L1123.4 912.2L1124.2 912.3L1125.1 913.7L1125.6 942.2L1126.1 1228L1126.7 1232.4L1127.3 1236.1L1127.9 1239.1L1128.5 1241.6L1129.1 1243.6L1129.7 1245.3L1130.3 1246.7L1130.9 1247.8L1131.5 1248.8L1132.1 1249.6L1132.7 1250.2L1133.3 1250.7L1133.9 1251.2L1134.5 1251.5L1135.1 1251.8L1135.7 1252.1L1136.3 1252.3L1136.9 1252.4L1137.5 1252.6L1138.1 1252.7L1138.7 1252.8L1139.3 1252.8L1139.9 1252.9L1140.5 1253L1141.1 1253L1159.2 1253.2L1159.5 1253.2L1159.8 1213.2L1161 884.5L1161.8 891.8L1162.6 895.9L1163.4 898.4L1164.2 900.1L1165 901.3L1165.8 902.3L1166.6 903.1L1167.4 903.8L1168.2 904.4L1169 905L1169.8 905.1L1170.6 906.3L1171.4 905.9L1172.2 907.3L1173 907.6L1173.8 907.6L1174.6 908.6L1175.4 908L1176.2 908.6L1177 909.6L1177.9 909.2L1178.7 910L1179.5 910.1L1180.3 910.9L1181.1 911.2L1181.9 911L1182.7 911.4L1183.5 910.5L1184.3 911.6L1185.1 912L1185.9 911.5L1186.7 911.9L1187.5 912L1188.3 912.9L1189.1 912L1189.9 912.3L1190.7 911.8L1191.5 912.5L1192.3 913L1193.2 914.4L1193.7 942.9L1194.2 1228L1194.8 1232.4L1195.4 1236.1L1196 1239.1L1196.6 1241.6L1197.2 1243.6L1197.8 1245.3L1198.4 1246.7L1199 1247.8L1199.6 1248.8L1200.2 1249.6L1200.8 1250.2L1201.4 1250.7L1202 1251.2L1202.6 1251.5L1203.2 1251.8L1203.8 1252.1L1204.4 1252.3L1205 1252.4L1205.6 1252.6L1206.2 1252.7L1206.8 1252.8L1207.4 1252.8L1208 1252.9L1208.6 1253L1209.2 1253L1227.2 1253.2L1227.5 1253.2L1227.8 1213.2L1229 884L1229.9 891.7L1230.7 896L1231.5 898.6L1232.3 900.3L1233.1 901.6L1233.9 902.6L1234.7 903.4L1235.5 904.2L1236.3 904.8L1237.1 905.4L1237.9 906.7L1238.7 906.2L1239.5 907.8L1240.3 907L1241.1 908.4L1241.9 907.7L1242.7 908.5L1243.5 908.3L1244.3 909.9L1245.1 910.2L1245.9 909.4L1246.7 910.3L1247.5 910.2L1248.3 910.8L1249.1 911.1L1249.9 910.7L1250.7 912.1L1251.5 911.4L1252.3 911.9L1253.1 911.4L1253.9 911.5L1254.7 912L1255.5 912.4L1256.3 913.5L1257.1 913.6L1257.9 913.1L1258.7 913.2L1259.5 913.7L1260.3 914.1L1261.2 915.2L1261.8 943.7L1262.2 1228L1262.8 1232.4L1263.5 1236.1L1264 1239.1L1264.7 1241.6L1265.2 1243.6L1265.8 1245.3L1266.5 1246.7L1267 1247.8L1267.7 1248.8L1268.2 1249.6L1268.8 1250.2L1269.5 1250.7L1270 1251.2L1270.7 1251.5L1271.2 1251.8L1271.8 1252.1L1272.5 1252.3L1273 1252.4L1273.7 1252.6L1274.2 1252.7L1274.8 1252.8L1275.5 1252.8L1276 1252.9L1276.7 1253L1277.2 1253L1295.3 1253.2L1295.6 1253.2L1295.9 1213.2L1297.1 878.5L1297.9 887.3L1298.7 892.3L1299.5 895.3L1300.3 897.3L1301.1 898.7L1301.9 899.9L1302.7 900.9L1303.5 901.7L1304.3 902.5L1305.1 903.2L1305.9 904.3L1306.7 904.3L1307.5 905.2L1308.3 905.9L1309.1 906L1309.9 906.8L1310.7 907.2L1311.5 906.6L1312.3 907L1313.1 907.5L1314 908L1314.8 908.3L1315.6 908.4L1316.4 908.9L1317.2 909.8L1318 910.6L1318.8 910L1319.6 910.3L1320.4 910.6L1321.2 911.2L1322 911.6L1322.8 912.1L1323.6 911.4L1324.4 912.1L1325.2 911.7L1326 912.6L1326.8 911.8L1327.6 913L1328.4 912.5L1329.3 914.2L1329.8 942.7L1330.3 1228L1330.9 1232.4L1331.5 1236.1L1332.1 1239.1L1332.7 1241.6L1333.3 1243.6L1333.9 1245.3L1334.5 1246.7L1335.1 1247.8L1335.7 1248.8L1336.3 1249.6L1336.9 1250.2L1337.5 1250.7L1338.1 1251.2L1338.7 1251.5L1339.3 1251.8L1339.9 1252.1L1340.5 1252.3L1341.1 1252.4L1341.7 1252.6L1342.3 1252.7L1342.9 1252.8L1343.5 1252.8L1344.1 1252.9L1344.7 1253L1345.3 1253L1363.3 1253.2L1363.6 1253.2L1363.9 1213.2L1365.1 884L1366 891.6L1366.8 895.8L1367.6 898.4L1368.4 900.1L1369.2 901.4L1370 902.3L1370.8 903.2L1371.6 903.9L1372.4 904.6L1373.2 905.2L1374 905.8L1374.8 906L1375.6 906.7L1376.4 906.5L1377.2 906.9L1378 908.1L1378.8 908.3L1379.6 909.3L1380.4 908.3L1381.2 909.5L1382 909.7L1382.8 910.1L1383.6 910.6L1384.4 910.5L1385.2 910.8L1386 911L1386.8 911.4L1387.6 911L1388.4 911.7L1389.2 912.1L1390 911.5L1390.8 913L1391.6 912.8L1392.4 913.3L1393.2 912.4L1394 912.7L1394.8 912.6L1395.6 912.4L1396.4 912.4L1397.3 914.9L1397.8 943.4L1398.3 1228L1398.9 1232.4L1399.5 1236.1L1400.1 1239.1L1400.8 1241.6L1401.3 1243.6L1401.9 1245.3L1402.5 1246.7L1403.1 1247.8L1403.8 1248.8L1404.3 1249.6L1404.9 1250.2L1405.5 1250.7L1406.1 1251.2L1406.8 1251.5L1407.3 1251.8L1407.9 1252.1L1408.5 1252.3L1409.1 1252.4L1409.8 1252.6L1410.3 1252.7L1410.9 1252.8L1411.5 1252.8L1412.1 1252.9L1412.8 1253L1413.3 1253L1431.4 1253.2L1431.7 1253.2L1432 1213.2L1433.2 880.6L1434 888.9L1434.8 893.5L1435.6 896.3L1436.4 898.1L1437.2 899.5L1438 900.6L1438.8 901.5L1439.6 902.3L1440.4 903L1441.2 903.7L1442 904.9L1442.8 904.3L1443.6 905.7L1444.4 905.5L1445.2 905.6L1446 906.3L1446.8 907.5L1447.6 907.6L1448.4 908L1449.2 908.2L1450.1 908.2L1450.9 908.9L1451.7 909.9L1452.5 909L1453.3 910.1L1454.1 909.6L1454.9 909.8L1455.7 910.2L1456.5 910.1L1457.3 911.6L1458.1 910.9L1458.9 910.8L1459.7 910.7L1460.5 911L1461.3 911.4L1462.1 911.9L1462.9 912.3L1463.7 913.1L1464.5 913L1465.4 914.1L1465.9 942.6L1466.4 1228L1467 1232.4L1467.6 1236.1L1468.2 1239.1L1468.8 1241.6L1469.4 1243.6L1470 1245.3L1470.6 1246.7L1471.2 1247.8L1471.8 1248.8L1472.4 1249.6L1473 1250.2L1473.6 1250.7L1474.2 1251.2L1474.8 1251.5L1475.4 1251.8L1476 1252.1L1476.6 1252.3L1477.2 1252.4L1477.8 1252.6L1478.4 1252.7L1479 1252.8L1479.6 1252.8L1480.2 1252.9L1480.8 1253L1481.4 1253L1499.4 1253.2L1499.7 1253.2L1500 1213.2L1501.2 886L1502.1 892.9L1502.9 896.7L1503.7 899L1504.5 900.6L1505.3 901.7L1506.1 902.6L1506.9 903.4L1507.7 904L1508.5 904.6L1509.3 905.2L1510.1 905.9L1510.9 906.8L1511.7 906L1512.5 907.6L1513.3 907.2L1514.1 908.2L1514.9 907.8L1515.7 908.6L1516.5 908.7L1517.3 908.4L1518.1 909.7L1518.9 910L1519.7 909.7L1520.5 909.8L1521.3 910.9L1522.1 910.2L1522.9 911.2L1523.7 910.7L1524.5 910.8L1525.3 911L1526.1 910.7L1526.9 911.2L1527.7 911.3L1528.5 911.1L1529.3 912L1530.1 912L1530.9 911.5L1531.7 911.8L1532.5 913.1L1533.4 914.1L1533.9 942.6L1534.4 1228L1535 1232.4L1535.6 1236.1L1536.2 1239.1L1536.8 1241.6L1537.4 1243.6L1538 1245.3L1538.6 1246.7L1539.2 1247.8L1539.8 1248.8L1540.4 1249.6L1541 1250.2L1541.6 1250.7L1542.2 1251.2L1542.8 1251.5L1543.4 1251.8L1544 1252.1L1544.6 1252.3L1545.2 1252.4L1545.8 1252.6L1546.4 1252.7L1547 1252.8L1547.6 1252.8L1548.2 1252.9L1548.8 1253L1549.4 1253L1567.5 1253.2L1567.8 1253.2L1568.1 1213.2L1569.3 882.6L1570.1 890.3L1570.9 894.6L1571.7 897.2L1572.5 899L1573.3 900.2L1574.1 901.2L1574.9 902.1L1575.7 902.8L1576.5 903.5L1577.3 904.1L1578.1 904.5L1578.9 905.9L1579.7 905.1L1580.5 906L1581.3 907.1L1582.1 906.2L1582.9 906.7L1583.7 908.4L1584.5 908.3L1585.3 908L1586.2 908.6L1587 908.6L1587.8 909.9L1588.6 910.2L1589.4 909.1L1590.2 910L1591 909.7L1591.8 910.3L1592.6 911L1593.4 911.2L1594.2 910.6L1595 911L1595.8 911.3L1596.6 911.4L1597.4 912L1598.2 912.3L1599 911.7L1599.8 912L1600.6 911.5L1601.5 913.9L1602 942.4L1602.5 1228L1603.1 1232.4L1603.7 1236.1L1604.3 1239.1L1604.9 1241.6L1605.5 1243.6L1606.1 1245.3L1606.7 1246.7L1607.3 1247.8L1607.9 1248.8L1608.5 1249.6L1609.1 1250.2L1609.7 1250.7L1610.3 1251.2L1610.9 1251.5L1611.5 1251.8L1612.1 1252.1L1612.7 1252.3L1613.3 1252.4L1613.9 1252.6L1614.5 1252.7L1615.1 1252.8L1615.7 1252.8L1616.3 1252.9L1616.9 1253L1617.5 1253L1635.5 1253.2L1635.8 1253.2L1636.1 1213.2L1637.3 874L1638.2 884L1639 889.6L1639.8 893L1640.6 895.3L1641.4 896.9L1642.2 898.2L1643 899.3L1643.8 900.3L1644.6 901.2L1645.4 902L1646.2 903.4L1647 903.4L1647.8 904.1L1648.6 904.8L1649.4 905.3L1650.2 906.2L1651 905.8L1651.8 906.4L1652.6 907.7L1653.4 907.5L1654.2 908.7L1655 907.7L1655.8 909.1L1656.6 909L1657.4 909.3L1658.2 910.3L1659 909.4L1659.8 910.3L1660.6 910.1L1661.4 910.5L1662.2 911.5L1663 911.1L1663.8 911.9L1664.6 910.9L1665.4 912.7L1666.2 912.8L1667 912.5L1667.8 911.9L1668.6 912.8L1669.5 914.3L1670 942.8L1670.5 1228L1671.1 1232.4L1671.8 1236.1L1672.3 1239.1L1673 1241.6L1673.5 1243.6L1674.1 1245.3L1674.8 1246.7L1675.3 1247.8L1676 1248.8L1676.5 1249.6L1677.1 1250.2L1677.8 1250.7L1678.3 1251.2L1679 1251.5L1679.5 1251.8L1680.1 1252.1L1680.8 1252.3L1681.3 1252.4L1682 1252.6L1682.5 1252.7L1683.1 1252.8L1683.8 1252.8L1684.3 1252.9L1685 1253L1685.5 1253L1695 1253.2" stroke="#0a0ae0" stroke-width="3" stroke-linejoin="round"/>
<rect x="1024.9" y="730.1" width="670.1" height="530.4" fill="none" stroke="#000" stroke-width="3"/>
<path d="M1024.9 870L1695 870" stroke="#000" stroke-width="3"/>
<path d="M1024.9 1262v6.8M1173.8 1262v6.8M1322.7 1262v6.8M1471.7 1262v6.8M1620.6 1262v6.8" stroke="#000" stroke-width="3.1" fill="none"/>
<path d="M1099.4 1262v3.2M1248.3 1262v3.2M1397.2 1262v3.2M1546.1 1262v3.2M1695 1262v3.2" stroke="#000" stroke-width="3.1" fill="none"/>
<text x="1024.9" y="1304.9" font-size="40" text-anchor="middle" stroke="#000" stroke-width="0.5">0</text>
<text x="1173.8" y="1304.9" font-size="40" text-anchor="middle" stroke="#000" stroke-width="0.5">20</text>
<text x="1322.7" y="1304.9" font-size="40" text-anchor="middle" stroke="#000" stroke-width="0.5">40</text>
<text x="1471.7" y="1304.9" font-size="40" text-anchor="middle" stroke="#000" stroke-width="0.5">60</text>
<text x="1620.6" y="1304.9" font-size="40" text-anchor="middle" stroke="#000" stroke-width="0.5">80</text>
<text x="1375.5" y="1350.2" font-size="40" text-anchor="middle" stroke="#000" stroke-width="0.5">Time (s)</text>
<text font-size="40" text-anchor="middle" stroke="#000" stroke-width="0.5" transform="translate(999.6 987.4) rotate(-90)">Intensity (a.u.)</text>
<text x="917.9" y="729.9" font-size="50.3" stroke="#000" stroke-width="0.5">(d)</text>
<text x="1063" y="796.8" font-size="40" stroke="#000" stroke-width="0.5">off</text>
<text x="1612" y="796.8" font-size="40" stroke="#000" stroke-width="0.5">off</text>
<text x="1263.5" y="796.8" font-size="40" stroke="#000" stroke-width="0.5">Voltage on</text>
<text x="1259.2" y="843.8" font-size="39" font-family='"Liberation Serif", serif'>λ</text>
<text x="1279.4" y="856.4" font-size="24" stroke="#000" stroke-width="0.5">em</text>
<text x="1317.7" y="843.8" font-size="39.5" stroke="#000" stroke-width="0.5">= 540 nm</text>
<rect x="1861.5" y="733.1" width="364.5" height="615.1" fill="#eef6fd"/>
<rect x="2225.7" y="733.1" width="363.3" height="615.1" fill="#edf7ef"/>
<text x="1790" y="729.9" font-size="50.3" stroke="#000" stroke-width="0.5">(f)</text>
<text x="1937.3" y="774" font-size="39.7" fill="#231815" stroke="#231815" stroke-width="0.5" font-weight="bold">Voltage on</text>
<text x="2315.6" y="774" font-size="39.8" fill="#231815" stroke="#231815" stroke-width="0.5" font-weight="bold">Voltage off</text>
<path d="M2155.6 764H2289" stroke="url(#ga)" stroke-width="5.5"/>
<path d="M2308.5 764L2278.4 751.5L2287 764L2278.4 776.5Z" style="fill:#12b877"/>
<path d="M1909.9 1265.7L2567.5 1265.7" stroke="#231815" stroke-width="4.2"/>
<path d="M1926.7 930.7L1997.7 930.7" stroke="#231815" stroke-width="4.2"/>
<path d="M2069.1 989.6L2140.3 989.6" stroke="#231815" stroke-width="4.2"/>
<path d="M2308 930.7L2379.2 930.7" stroke="#231815" stroke-width="4.2"/>
<path d="M2497 854.7L2568 854.7" stroke="#231815" stroke-width="4.2"/>
<path d="M2496.5 989.6L2567.5 989.6" stroke="#231815" stroke-width="4.2"/>
<path d="M1959.3 932.8V1236" stroke="url(#gf)" stroke-width="8"/>
<path d="M1959.3 1263.7L1942.3 1222.9L1959.3 1233.6L1976.3 1222.9Z" style="fill:#1238be"/>
<path d="M2105.5 991.7V1248" stroke="url(#gp)" stroke-width="3"/>
<path d="M2105.5 1263.7L2096.1 1241.2L2105.5 1247L2114.9 1241.2Z" style="fill:#2aa562"/>
<path d="M2345.5 932.8V1249" stroke="url(#gd)" stroke-width="3.4"/>
<path d="M2345.5 1263.7L2336.6 1243.7L2345.5 1249L2354.4 1243.7Z" style="fill:#1238c8"/>
<path d="M2532.9 991.7V1236" stroke="url(#go)" stroke-width="7.6"/>
<path d="M2532.9 1263.7L2515.7 1222.9L2532.9 1233.6L2550.1 1222.9Z" style="fill:#2aa562"/>
<path d="M2532.9 987.5V872" stroke="#c8102e" stroke-width="3.6"/>
<path d="M2532.9 857.3L2524.3 877L2532.9 872.3L2541.5 877Z" style="fill:#c8102e"/>
<path d="M2532.9 852.6V831.2H2346.1V910" stroke="#5c1a9a" stroke-width="3.6" stroke-linejoin="miter"/>
<path d="M2346.1 928.2L2336.5 905L2346.1 910.5L2355.7 905Z" style="fill:#5c1a9a"/>
<path d="M1991.1 920.2C2028 910 2072 932 2097.5 969" stroke="#d4077f" stroke-width="3.6" stroke-linecap="butt"/>
<path d="M2102.2 980.9L2083.5 963.5L2095.5 966.5L2101.8 955.5Z" style="fill:#d4077f"/>
<text x="2026" y="904.4" font-size="39.5" fill="#d4077f" stroke="#d4077f" stroke-width="0.5">ISC</text>
<text x="2449" y="943.3" font-size="39.5" fill="#c8102e" stroke="#c8102e" stroke-width="0.5">TTA</text>
<text x="1863.5" y="935.7" font-size="39.5" fill="#231815" stroke="#231815" stroke-width="0.5">S</text>
<text x="1889.5" y="949.3" font-size="22" fill="#231815" stroke="#231815" stroke-width="0.5">1</text>
<text x="1902" y="923.5" font-size="23" fill="#231815" stroke="#231815" stroke-width="0.5">G</text>
<text x="2148.5" y="1003.4" font-size="39.5" fill="#231815" stroke="#231815" stroke-width="0.5">T</text>
<text x="2171.5" y="1017" font-size="22" fill="#231815" stroke="#231815" stroke-width="0.5">1</text>
<text x="2184.5" y="991.2" font-size="23" fill="#231815" stroke="#231815" stroke-width="0.5">G</text>
<text x="2245.5" y="935.7" font-size="39.5" fill="#231815" stroke="#231815" stroke-width="0.5">S</text>
<text x="2271.5" y="949.3" font-size="22" fill="#231815" stroke="#231815" stroke-width="0.5">1</text>
<text x="2284" y="923.5" font-size="23" fill="#231815" stroke="#231815" stroke-width="0.5">G</text>
<text x="2422" y="876" font-size="39.5" fill="#231815" stroke="#231815" stroke-width="0.5">T</text>
<text x="2445" y="889.6" font-size="22" fill="#231815" stroke="#231815" stroke-width="0.5">m</text>
<text x="2464.5" y="863.8" font-size="23" fill="#231815" stroke="#231815" stroke-width="0.5">G</text>
<text x="2423.8" y="1003.4" font-size="39.5" fill="#231815" stroke="#231815" stroke-width="0.5">T</text>
<text x="2446.8" y="1017" font-size="22" fill="#231815" stroke="#231815" stroke-width="0.5">1</text>
<text x="2459.8" y="991.2" font-size="23" fill="#231815" stroke="#231815" stroke-width="0.5">G</text>
<text x="1862" y="1277.5" font-size="39.5" fill="#231815" stroke="#231815" stroke-width="0.5">S</text>
<text x="1887.5" y="1291.1" font-size="22" fill="#231815" stroke="#231815" stroke-width="0.5">0</text>
<text x="1916.3" y="1330.2" font-size="39.65" fill="#231815" stroke="#231815" stroke-width="0.5">Guest (NPB)</text>
<text x="2334" y="1330.2" font-size="39.65" fill="#231815" stroke="#231815" stroke-width="0.5">Guest (NPB)</text>
<text font-size="39.5" fill="#231815" stroke="#231815" stroke-width="0.5" transform="translate(1936.7 1142.5) rotate(-90)">Fluo.</text>
<text font-size="39.5" fill="#231815" stroke="#231815" stroke-width="0.5" transform="translate(2086.4 1153) rotate(-90)">Phos.</text>
<text font-size="39.5" fill="#231815" stroke="#231815" stroke-width="0.5" transform="translate(2321 1202) rotate(-90)">Delayed PL</text>
<text font-size="39.5" fill="#231815" stroke="#231815" stroke-width="0.5" transform="translate(2511.6 1181.5) rotate(-90)">OURTP</text>
</svg>
</body></html>
